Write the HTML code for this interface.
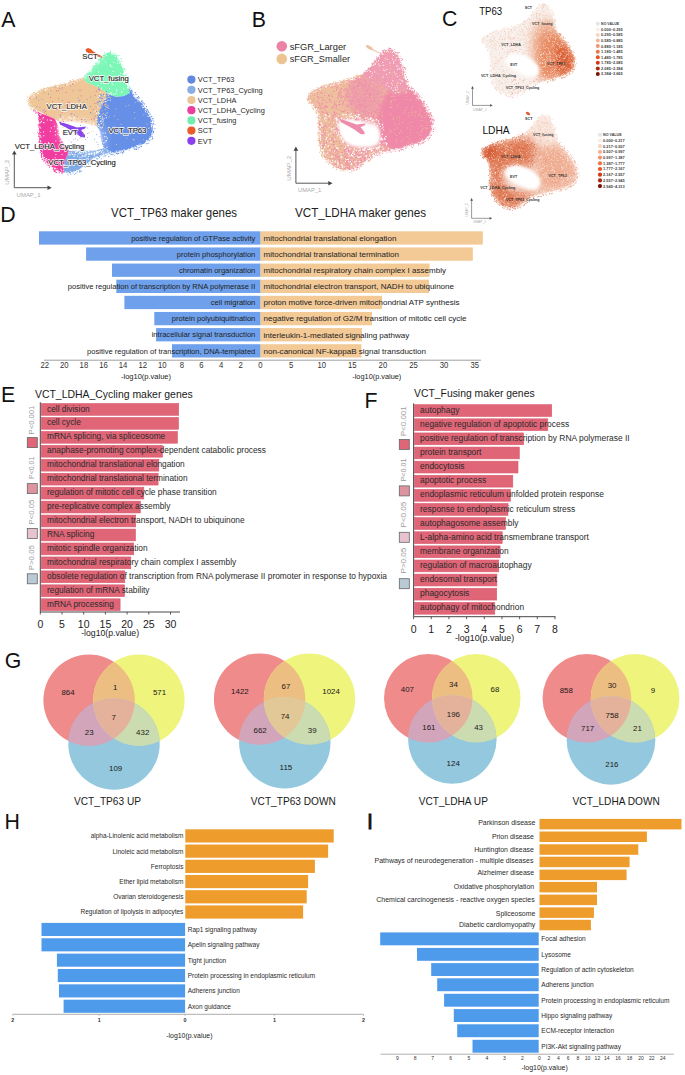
<!DOCTYPE html><html><head><meta charset="utf-8"><style>html,body{margin:0;padding:0;background:#fff;width:685px;height:1075px;overflow:hidden}svg{display:block}</style></head><body><svg width="685" height="1075" viewBox="0 0 685 1075" font-family='"Liberation Sans", sans-serif'>
<defs><filter id="b06" x="-5%" y="-5%" width="110%" height="110%"><feGaussianBlur stdDeviation="0.6"/></filter><filter id="b04" x="-10%" y="-30%" width="120%" height="160%"><feGaussianBlur stdDeviation="0.5"/></filter><filter id="b15" x="-10%" y="-10%" width="120%" height="120%"><feGaussianBlur stdDeviation="1.5"/></filter><filter id="b3" x="-20%" y="-20%" width="140%" height="140%"><feGaussianBlur stdDeviation="3"/></filter><filter id="b5" x="-30%" y="-30%" width="160%" height="160%"><feGaussianBlur stdDeviation="5"/></filter></defs>
<rect width="685" height="1075" fill="#fff"/>
<g filter="url(#b06)">
<path d="M28.2 101.5 L29.5 97.0 L34.0 93.7 L43.4 89.0 L55.0 86.1 L66.7 83.2 L74.9 80.3 L83.0 77.4 L86.0 82.0 L93.0 85.0 L100.0 88.0 L108.0 94.0 L104.0 100.0 L100.0 110.0 L97.0 120.0 L97.0 127.0 L90.0 124.5 L82.0 123.0 L72.0 122.0 L63.0 122.5 L58.0 121.0 L55.0 119.0 L48.0 116.0 L40.0 112.0 L34.0 109.3 L31.0 106.0Z" fill="#EEC698"/>
<path d="M83.0 77.4 L90.0 71.5 L95.0 65.0 L100.0 58.5 L104.0 54.0 L109.9 52.3 L116.9 55.2 L121.0 63.4 L123.9 71.5 L125.0 80.9 L128.5 88.0 L130.0 93.0 L124.0 96.0 L116.0 97.0 L108.0 94.0 L100.0 88.0 L93.0 85.0 L86.0 82.0Z" fill="#7CF7B8"/>
<path d="M128.5 88.0 L134.4 94.9 L142.6 104.2 L147.2 111.7 L151.9 121.0 L153.1 129.2 L150.7 137.4 L144.9 143.2 L136.7 146.7 L125.0 150.2 L113.4 153.1 L108.0 150.0 L103.0 147.0 L101.0 140.0 L100.0 132.0 L97.0 126.0 L97.0 120.0 L100.0 110.0 L104.0 100.0 L108.0 94.0 L116.0 97.0 L124.0 96.0 L130.0 93.0Z" fill="#668FE7"/>
<path d="M113.4 153.1 L101.7 156.1 L93.5 158.4 L85.0 165.0 L78.4 170.1 L70.2 173.0 L64.0 172.5 L63.0 166.0 L66.0 158.0 L68.0 151.0 L80.0 150.5 L95.0 150.5 L104.0 148.0 L108.0 150.0Z" fill="#80AAE6"/>
<path d="M34.0 109.3 L40.0 113.0 L48.0 116.0 L55.0 119.0 L58.0 126.0 L60.0 137.0 L65.0 145.0 L69.0 150.0 L66.0 158.0 L63.0 166.0 L64.0 172.5 L62.0 172.4 L53.9 168.9 L46.9 163.1 L41.6 154.9 L39.3 143.2 L39.3 129.2 L38.7 115.2Z" fill="#F23CA0"/>
</g>
<path d="M56.0 119.0 L64.0 116.0 L76.0 116.0 L88.0 119.0 L98.0 122.0 L104.0 128.0 L107.0 137.0 L107.0 147.0 L102.0 152.0 L92.0 153.0 L76.0 152.0 L66.0 149.0 L60.0 142.0 L57.0 131.0Z" fill="#fff" opacity="0.25" filter="url(#b3)"/>
<path d="M88.0 60.0 L100.0 52.0 L104.0 56.0 L96.0 66.0 L88.0 72.0Z" fill="#fff" opacity="0.25" filter="url(#b3)"/>
<path d="M58.0 126.0 L63.0 122.5 L72.0 122.0 L82.0 123.0 L90.0 124.5 L97.0 127.0 L100.0 133.0 L101.0 140.0 L99.0 147.0 L92.0 150.0 L82.0 150.5 L72.0 149.0 L65.0 145.0 L60.0 137.0Z" fill="#fff" filter="url(#b15)"/>
<path d="M59.0 121.5 L64.0 123.0 L70.0 125.0 L77.0 127.5 L82.0 127.0 L86.0 126.5 L85.0 128.5 L81.0 130.0 L85.0 135.0 L85.0 137.5 L81.0 137.0 L74.0 132.0 L65.0 127.0 L60.0 124.5Z" fill="#8A45EC" filter="url(#b06)"/>
<path d="M85.5 49.2 L88.0 48.0 L91.0 49.0 L93.0 51.3 L96.0 53.0 L100.0 55.2 L103.8 57.6 L103.0 58.3 L98.0 56.4 L93.5 54.3 L89.0 53.4 L86.0 51.4Z" fill="#E95D2B" filter="url(#b06)"/>
<path d="M72.5 121.6h1.0v1.0h-1.0zM59.0 134.8h1.0v1.0h-1.0zM57.9 132.0h1.0v1.0h-1.0zM59.6 119.4h1.0v1.0h-1.0zM88.0 151.1h1.0v1.0h-1.0zM99.8 126.7h1.0v1.0h-1.0zM63.4 120.4h1.0v1.0h-1.0zM83.9 118.3h1.0v1.0h-1.0zM59.0 123.6h1.0v1.0h-1.0zM100.6 127.6h1.0v1.0h-1.0zM98.8 151.0h1.0v1.0h-1.0zM89.0 152.7h1.0v1.0h-1.0zM97.9 126.5h1.0v1.0h-1.0zM64.6 120.3h1.0v1.0h-1.0zM97.8 148.0h1.0v1.0h-1.0zM104.6 141.5h1.0v1.0h-1.0zM101.9 144.9h1.0v1.0h-1.0zM100.6 145.5h1.0v1.0h-1.0zM61.3 139.5h1.0v1.0h-1.0zM59.2 118.5h1.0v1.0h-1.0zM66.6 122.0h1.0v1.0h-1.0zM73.3 117.9h1.0v1.0h-1.0zM87.3 121.5h1.0v1.0h-1.0zM74.6 120.5h1.0v1.0h-1.0zM60.4 119.8h1.0v1.0h-1.0zM82.9 121.4h1.0v1.0h-1.0zM82.9 152.2h1.0v1.0h-1.0zM64.5 144.6h1.0v1.0h-1.0zM97.4 152.4h1.0v1.0h-1.0zM99.5 145.8h1.0v1.0h-1.0zM74.1 117.1h1.0v1.0h-1.0zM57.4 126.3h1.0v1.0h-1.0zM104.8 132.5h1.0v1.0h-1.0zM60.3 140.4h1.0v1.0h-1.0zM102.4 144.9h1.0v1.0h-1.0zM65.1 145.2h1.0v1.0h-1.0zM76.5 151.0h1.0v1.0h-1.0zM93.0 122.3h1.0v1.0h-1.0zM62.5 121.6h1.0v1.0h-1.0zM102.1 145.8h1.0v1.0h-1.0zM106.0 140.3h1.0v1.0h-1.0zM62.7 116.5h1.0v1.0h-1.0zM105.5 140.0h1.0v1.0h-1.0zM82.9 150.5h1.0v1.0h-1.0zM98.1 123.8h1.0v1.0h-1.0zM77.5 150.0h1.0v1.0h-1.0zM102.5 132.4h1.0v1.0h-1.0zM80.4 150.8h1.0v1.0h-1.0zM84.5 150.9h1.0v1.0h-1.0zM59.7 140.8h1.0v1.0h-1.0zM96.0 149.2h1.0v1.0h-1.0zM89.7 121.3h1.0v1.0h-1.0zM101.0 151.8h1.0v1.0h-1.0zM106.5 146.8h1.0v1.0h-1.0zM56.9 128.3h1.0v1.0h-1.0zM96.2 152.0h1.0v1.0h-1.0zM69.8 120.8h1.0v1.0h-1.0zM97.8 125.6h1.0v1.0h-1.0zM60.6 118.1h1.0v1.0h-1.0zM69.7 120.8h1.0v1.0h-1.0zM61.6 122.0h1.0v1.0h-1.0zM58.6 123.5h1.0v1.0h-1.0zM81.5 122.6h1.0v1.0h-1.0zM73.7 116.7h1.0v1.0h-1.0zM68.8 116.6h1.0v1.0h-1.0zM91.1 152.4h1.0v1.0h-1.0zM58.8 120.8h1.0v1.0h-1.0zM69.0 122.0h1.0v1.0h-1.0zM105.6 136.2h1.0v1.0h-1.0zM101.5 139.2h1.0v1.0h-1.0zM67.7 117.2h1.0v1.0h-1.0zM93.6 125.3h1.0v1.0h-1.0zM93.2 123.6h1.0v1.0h-1.0zM93.7 152.1h1.0v1.0h-1.0zM79.8 120.4h1.0v1.0h-1.0zM97.8 151.8h1.0v1.0h-1.0zM101.2 142.0h1.0v1.0h-1.0zM67.8 149.2h1.0v1.0h-1.0zM103.2 142.4h1.0v1.0h-1.0zM102.0 126.7h1.0v1.0h-1.0zM106.9 137.8h1.0v1.0h-1.0zM70.0 117.8h1.0v1.0h-1.0zM75.0 151.4h1.0v1.0h-1.0zM101.1 146.0h1.0v1.0h-1.0zM104.0 136.3h1.0v1.0h-1.0zM70.6 117.8h1.0v1.0h-1.0zM64.5 122.0h1.0v1.0h-1.0zM78.9 121.2h1.0v1.0h-1.0zM65.8 119.4h1.0v1.0h-1.0zM73.4 119.4h1.0v1.0h-1.0z" fill="#fff"/>
<path d="M98.3 96.9h1.0v1.0h-1.0zM107.5 103.3h1.0v1.0h-1.0zM101.4 108.0h1.0v1.0h-1.0zM100.8 100.2h1.0v1.0h-1.0zM103.1 112.4h1.0v1.0h-1.0zM109.5 95.1h1.0v1.0h-1.0zM98.9 96.4h1.0v1.0h-1.0zM101.2 104.7h1.0v1.0h-1.0zM94.6 115.8h1.0v1.0h-1.0zM101.0 124.9h1.0v1.0h-1.0zM103.4 114.6h1.0v1.0h-1.0zM105.7 118.1h1.0v1.0h-1.0zM102.2 109.2h1.0v1.0h-1.0zM94.7 118.9h1.0v1.0h-1.0zM98.2 124.6h1.0v1.0h-1.0zM105.6 98.8h1.0v1.0h-1.0zM105.5 115.3h1.0v1.0h-1.0zM103.4 110.5h1.0v1.0h-1.0zM101.0 95.4h1.0v1.0h-1.0zM99.4 105.3h1.0v1.0h-1.0zM98.2 96.4h1.0v1.0h-1.0zM103.0 114.3h1.0v1.0h-1.0zM101.6 96.8h1.0v1.0h-1.0zM98.1 87.4h1.0v1.0h-1.0zM100.1 103.7h1.0v1.0h-1.0zM106.3 94.3h1.0v1.0h-1.0zM103.1 94.6h1.0v1.0h-1.0zM111.5 99.1h1.0v1.0h-1.0zM108.8 95.7h1.0v1.0h-1.0zM98.0 117.9h1.0v1.0h-1.0zM99.3 126.0h1.0v1.0h-1.0zM102.9 93.9h1.0v1.0h-1.0zM98.0 103.5h1.0v1.0h-1.0zM96.6 102.5h1.0v1.0h-1.0zM97.8 126.9h1.0v1.0h-1.0zM110.8 99.8h1.0v1.0h-1.0zM97.3 125.3h1.0v1.0h-1.0zM106.0 101.9h1.0v1.0h-1.0zM100.7 99.9h1.0v1.0h-1.0zM99.0 100.8h1.0v1.0h-1.0zM100.4 120.5h1.0v1.0h-1.0zM108.8 104.2h1.0v1.0h-1.0zM100.7 124.6h1.0v1.0h-1.0zM97.5 101.3h1.0v1.0h-1.0zM101.4 120.1h1.0v1.0h-1.0zM110.6 96.8h1.0v1.0h-1.0zM100.1 97.4h1.0v1.0h-1.0zM98.7 116.1h1.0v1.0h-1.0zM99.7 97.6h1.0v1.0h-1.0zM98.2 106.0h1.0v1.0h-1.0zM101.0 96.5h1.0v1.0h-1.0zM101.7 106.7h1.0v1.0h-1.0zM104.9 99.8h1.0v1.0h-1.0zM99.8 101.2h1.0v1.0h-1.0zM97.6 117.6h1.0v1.0h-1.0zM98.5 88.7h1.0v1.0h-1.0zM98.8 89.5h1.0v1.0h-1.0zM95.7 106.9h1.0v1.0h-1.0zM106.8 104.8h1.0v1.0h-1.0zM98.2 103.5h1.0v1.0h-1.0zM105.2 114.3h1.0v1.0h-1.0zM106.0 91.1h1.0v1.0h-1.0zM109.1 98.3h1.0v1.0h-1.0zM104.2 101.7h1.0v1.0h-1.0zM107.3 94.4h1.0v1.0h-1.0zM98.5 96.3h1.0v1.0h-1.0zM96.8 123.1h1.0v1.0h-1.0zM104.4 99.7h1.0v1.0h-1.0zM103.1 95.7h1.0v1.0h-1.0zM102.5 120.4h1.0v1.0h-1.0zM110.7 101.6h1.0v1.0h-1.0zM109.6 104.9h1.0v1.0h-1.0zM98.7 118.7h1.0v1.0h-1.0zM104.7 112.0h1.0v1.0h-1.0zM97.9 101.5h1.0v1.0h-1.0zM98.6 111.2h1.0v1.0h-1.0zM105.7 94.5h1.0v1.0h-1.0zM106.2 93.8h1.0v1.0h-1.0zM99.6 94.5h1.0v1.0h-1.0zM108.3 109.0h1.0v1.0h-1.0zM101.1 109.1h1.0v1.0h-1.0zM96.9 115.2h1.0v1.0h-1.0zM101.4 97.9h1.0v1.0h-1.0zM99.5 126.0h1.0v1.0h-1.0zM99.6 109.8h1.0v1.0h-1.0zM100.4 103.5h1.0v1.0h-1.0zM100.5 94.3h1.0v1.0h-1.0zM107.1 94.6h1.0v1.0h-1.0zM101.6 120.5h1.0v1.0h-1.0zM101.3 123.1h1.0v1.0h-1.0z" fill="#668FE7"/>
<path d="M102.3 92.8h1.0v1.0h-1.0zM95.6 112.1h1.0v1.0h-1.0zM100.7 107.2h1.0v1.0h-1.0zM96.0 106.6h1.0v1.0h-1.0zM97.6 91.3h1.0v1.0h-1.0zM108.1 95.3h1.0v1.0h-1.0zM101.3 121.5h1.0v1.0h-1.0zM108.9 93.7h1.0v1.0h-1.0zM97.9 102.8h1.0v1.0h-1.0zM103.3 102.1h1.0v1.0h-1.0zM104.8 109.1h1.0v1.0h-1.0zM105.3 98.9h1.0v1.0h-1.0zM101.6 110.5h1.0v1.0h-1.0zM101.7 113.7h1.0v1.0h-1.0zM102.0 104.4h1.0v1.0h-1.0zM102.8 95.9h1.0v1.0h-1.0zM102.2 93.5h1.0v1.0h-1.0zM102.5 90.5h1.0v1.0h-1.0zM96.3 104.1h1.0v1.0h-1.0zM103.1 101.9h1.0v1.0h-1.0zM107.6 92.7h1.0v1.0h-1.0zM110.1 97.5h1.0v1.0h-1.0zM103.0 124.6h1.0v1.0h-1.0zM97.7 97.0h1.0v1.0h-1.0zM103.1 99.4h1.0v1.0h-1.0zM96.9 125.3h1.0v1.0h-1.0zM97.0 119.0h1.0v1.0h-1.0zM96.1 108.3h1.0v1.0h-1.0zM105.5 101.1h1.0v1.0h-1.0zM105.3 102.6h1.0v1.0h-1.0zM108.4 97.1h1.0v1.0h-1.0zM100.5 118.1h1.0v1.0h-1.0zM102.0 93.4h1.0v1.0h-1.0zM108.8 96.7h1.0v1.0h-1.0zM104.5 113.9h1.0v1.0h-1.0zM105.1 104.2h1.0v1.0h-1.0zM103.2 123.6h1.0v1.0h-1.0zM98.0 110.5h1.0v1.0h-1.0zM104.6 94.6h1.0v1.0h-1.0zM105.2 105.9h1.0v1.0h-1.0zM98.4 92.3h1.0v1.0h-1.0zM95.7 112.8h1.0v1.0h-1.0zM101.2 97.1h1.0v1.0h-1.0zM104.1 100.7h1.0v1.0h-1.0zM105.6 104.6h1.0v1.0h-1.0zM98.5 123.9h1.0v1.0h-1.0zM101.3 96.0h1.0v1.0h-1.0zM95.1 118.7h1.0v1.0h-1.0zM97.6 111.5h1.0v1.0h-1.0zM103.1 112.9h1.0v1.0h-1.0zM108.6 93.3h1.0v1.0h-1.0zM99.6 98.6h1.0v1.0h-1.0zM107.4 105.5h1.0v1.0h-1.0zM107.4 105.0h1.0v1.0h-1.0zM98.1 90.4h1.0v1.0h-1.0zM98.2 87.6h1.0v1.0h-1.0zM100.0 117.5h1.0v1.0h-1.0zM106.8 97.2h1.0v1.0h-1.0zM104.0 104.3h1.0v1.0h-1.0zM108.2 108.0h1.0v1.0h-1.0z" fill="#EEC698"/>
<path d="M98.8 113.0h1.0v1.0h-1.0zM98.7 95.9h1.0v1.0h-1.0zM107.4 99.7h1.0v1.0h-1.0zM109.8 99.8h1.0v1.0h-1.0zM98.3 124.1h1.0v1.0h-1.0zM105.4 115.1h1.0v1.0h-1.0zM102.5 121.3h1.0v1.0h-1.0zM101.9 116.4h1.0v1.0h-1.0zM104.3 98.9h1.0v1.0h-1.0zM97.8 112.2h1.0v1.0h-1.0zM100.2 92.0h1.0v1.0h-1.0zM106.5 112.6h1.0v1.0h-1.0zM95.2 110.8h1.0v1.0h-1.0zM100.5 120.3h1.0v1.0h-1.0zM105.4 98.1h1.0v1.0h-1.0zM107.6 94.6h1.0v1.0h-1.0zM99.7 103.8h1.0v1.0h-1.0zM99.1 116.1h1.0v1.0h-1.0zM100.6 99.5h1.0v1.0h-1.0zM101.9 118.5h1.0v1.0h-1.0zM100.2 115.6h1.0v1.0h-1.0zM103.7 95.1h1.0v1.0h-1.0zM108.8 93.2h1.0v1.0h-1.0zM102.8 119.5h1.0v1.0h-1.0zM97.3 106.8h1.0v1.0h-1.0zM100.2 120.9h1.0v1.0h-1.0zM98.7 125.6h1.0v1.0h-1.0zM99.1 95.0h1.0v1.0h-1.0zM106.6 106.9h1.0v1.0h-1.0zM96.0 112.7h1.0v1.0h-1.0zM95.5 119.1h1.0v1.0h-1.0zM105.3 100.9h1.0v1.0h-1.0zM101.2 102.6h1.0v1.0h-1.0zM97.7 97.1h1.0v1.0h-1.0zM100.8 123.1h1.0v1.0h-1.0zM98.2 105.4h1.0v1.0h-1.0zM103.6 117.7h1.0v1.0h-1.0zM100.3 99.7h1.0v1.0h-1.0zM96.8 121.4h1.0v1.0h-1.0zM105.9 117.2h1.0v1.0h-1.0z" fill="#fff"/>
<path d="M41.7 99.2h0.8v0.8h-0.8zM89.9 106.1h0.8v0.8h-0.8zM38.3 100.3h0.8v0.8h-0.8zM98.8 89.2h0.8v0.8h-0.8zM43.5 92.4h0.8v0.8h-0.8zM84.3 119.2h0.8v0.8h-0.8zM48.0 93.6h0.8v0.8h-0.8zM69.9 85.4h0.8v0.8h-0.8zM54.4 86.8h0.8v0.8h-0.8zM36.3 96.5h0.8v0.8h-0.8zM86.7 99.0h0.8v0.8h-0.8zM43.9 109.0h0.8v0.8h-0.8zM60.0 116.6h0.8v0.8h-0.8zM83.5 102.2h0.8v0.8h-0.8zM78.7 100.4h0.8v0.8h-0.8zM39.5 107.3h0.8v0.8h-0.8zM60.5 114.2h0.8v0.8h-0.8zM100.7 98.7h0.8v0.8h-0.8zM74.0 114.6h0.8v0.8h-0.8zM61.8 88.7h0.8v0.8h-0.8zM85.8 121.1h0.8v0.8h-0.8zM90.0 112.1h0.8v0.8h-0.8zM96.2 111.1h0.8v0.8h-0.8zM79.4 99.9h0.8v0.8h-0.8zM53.2 108.6h0.8v0.8h-0.8zM36.0 98.2h0.8v0.8h-0.8zM90.6 112.8h0.8v0.8h-0.8zM78.4 89.8h0.8v0.8h-0.8zM62.0 100.0h0.8v0.8h-0.8zM77.8 97.7h0.8v0.8h-0.8zM42.8 109.9h0.8v0.8h-0.8zM90.3 96.7h0.8v0.8h-0.8zM31.2 104.4h0.8v0.8h-0.8zM36.3 105.9h0.8v0.8h-0.8zM71.4 113.0h0.8v0.8h-0.8z" fill="#668FE7"/>
<path d="M69.1 109.1h0.8v0.8h-0.8zM94.4 103.3h0.8v0.8h-0.8zM45.0 111.3h0.8v0.8h-0.8zM59.5 115.2h0.8v0.8h-0.8zM50.1 97.2h0.8v0.8h-0.8zM29.3 98.2h0.8v0.8h-0.8zM61.8 112.0h0.8v0.8h-0.8zM56.3 90.6h0.8v0.8h-0.8zM46.1 114.2h0.8v0.8h-0.8zM59.5 87.9h0.8v0.8h-0.8zM92.8 108.9h0.8v0.8h-0.8zM65.6 105.3h0.8v0.8h-0.8zM56.4 109.1h0.8v0.8h-0.8zM93.5 117.9h0.8v0.8h-0.8zM65.6 92.0h0.8v0.8h-0.8zM72.0 83.6h0.8v0.8h-0.8zM94.7 95.0h0.8v0.8h-0.8zM96.1 90.7h0.8v0.8h-0.8zM58.2 90.0h0.8v0.8h-0.8zM62.2 86.6h0.8v0.8h-0.8zM50.6 89.6h0.8v0.8h-0.8zM52.3 101.2h0.8v0.8h-0.8zM62.4 109.0h0.8v0.8h-0.8zM80.8 95.4h0.8v0.8h-0.8zM80.5 89.8h0.8v0.8h-0.8zM76.7 116.2h0.8v0.8h-0.8zM81.5 121.7h0.8v0.8h-0.8zM91.1 119.0h0.8v0.8h-0.8zM44.0 111.8h0.8v0.8h-0.8zM70.6 114.2h0.8v0.8h-0.8zM63.2 121.2h0.8v0.8h-0.8zM72.5 90.5h0.8v0.8h-0.8zM65.5 84.6h0.8v0.8h-0.8zM67.4 102.1h0.8v0.8h-0.8zM71.3 120.2h0.8v0.8h-0.8zM65.5 105.3h0.8v0.8h-0.8zM81.3 119.1h0.8v0.8h-0.8zM58.1 98.2h0.8v0.8h-0.8zM79.0 109.0h0.8v0.8h-0.8zM68.9 101.4h0.8v0.8h-0.8z" fill="#F23CA0"/>
<path d="M137.3 128.7h0.9v0.9h-0.9zM116.0 144.1h0.9v0.9h-0.9zM117.5 118.9h0.9v0.9h-0.9zM126.5 138.2h0.9v0.9h-0.9zM108.8 116.3h0.9v0.9h-0.9zM120.7 124.1h0.9v0.9h-0.9zM143.4 107.1h0.9v0.9h-0.9zM143.4 114.3h0.9v0.9h-0.9zM125.3 105.7h0.9v0.9h-0.9zM133.7 139.6h0.9v0.9h-0.9zM115.6 108.6h0.9v0.9h-0.9zM113.8 126.2h0.9v0.9h-0.9zM132.6 139.1h0.9v0.9h-0.9zM146.7 123.5h0.9v0.9h-0.9zM148.7 127.6h0.9v0.9h-0.9zM133.9 139.4h0.9v0.9h-0.9zM148.0 127.8h0.9v0.9h-0.9zM131.6 128.8h0.9v0.9h-0.9zM136.1 126.8h0.9v0.9h-0.9zM135.2 101.8h0.9v0.9h-0.9zM134.4 117.8h0.9v0.9h-0.9zM133.8 112.0h0.9v0.9h-0.9zM143.1 139.2h0.9v0.9h-0.9zM128.5 104.8h0.9v0.9h-0.9zM113.9 115.5h0.9v0.9h-0.9z" fill="#EEC698"/>
<path d="M98.0 71.6h1.0v1.0h-1.0zM113.2 94.0h1.0v1.0h-1.0zM85.6 77.7h1.0v1.0h-1.0zM121.1 78.0h1.0v1.0h-1.0zM110.8 94.2h1.0v1.0h-1.0zM102.4 56.9h1.0v1.0h-1.0zM113.3 61.8h1.0v1.0h-1.0zM116.8 63.1h1.0v1.0h-1.0zM117.5 60.7h1.0v1.0h-1.0zM116.5 90.5h1.0v1.0h-1.0zM117.3 56.1h1.0v1.0h-1.0zM112.5 84.0h1.0v1.0h-1.0zM97.6 84.9h1.0v1.0h-1.0zM105.9 55.0h1.0v1.0h-1.0zM100.3 78.0h1.0v1.0h-1.0zM103.6 82.6h1.0v1.0h-1.0zM100.1 81.1h1.0v1.0h-1.0zM112.6 71.0h1.0v1.0h-1.0zM101.1 87.4h1.0v1.0h-1.0zM127.4 87.4h1.0v1.0h-1.0zM109.6 65.4h1.0v1.0h-1.0zM116.1 89.3h1.0v1.0h-1.0zM98.6 79.4h1.0v1.0h-1.0zM111.3 66.1h1.0v1.0h-1.0zM100.7 82.9h1.0v1.0h-1.0zM111.3 92.4h1.0v1.0h-1.0zM121.0 65.0h1.0v1.0h-1.0zM102.9 78.5h1.0v1.0h-1.0zM121.4 92.0h1.0v1.0h-1.0zM121.2 91.1h1.0v1.0h-1.0zM109.9 64.5h1.0v1.0h-1.0zM123.0 88.4h1.0v1.0h-1.0zM115.2 93.1h1.0v1.0h-1.0zM109.0 87.9h1.0v1.0h-1.0zM111.5 82.6h1.0v1.0h-1.0zM104.9 61.5h1.0v1.0h-1.0zM120.2 72.8h1.0v1.0h-1.0zM119.3 62.7h1.0v1.0h-1.0zM110.2 92.4h1.0v1.0h-1.0zM105.4 78.6h1.0v1.0h-1.0z" fill="#fff"/>
<path d="M40.6 121.5h1.0v1.0h-1.0zM46.7 145.0h1.0v1.0h-1.0zM48.1 142.0h1.0v1.0h-1.0zM54.9 131.1h1.0v1.0h-1.0zM53.9 125.8h1.0v1.0h-1.0zM62.7 170.2h1.0v1.0h-1.0zM41.0 120.7h1.0v1.0h-1.0zM36.9 112.5h1.0v1.0h-1.0zM53.5 164.3h1.0v1.0h-1.0zM54.9 134.4h1.0v1.0h-1.0zM43.0 145.0h1.0v1.0h-1.0zM56.4 169.7h1.0v1.0h-1.0zM57.4 134.1h1.0v1.0h-1.0zM49.7 119.4h1.0v1.0h-1.0zM43.0 131.5h1.0v1.0h-1.0zM61.5 154.1h1.0v1.0h-1.0zM60.4 168.7h1.0v1.0h-1.0zM57.7 128.2h1.0v1.0h-1.0zM54.7 157.2h1.0v1.0h-1.0zM43.0 117.1h1.0v1.0h-1.0zM50.8 120.0h1.0v1.0h-1.0zM42.3 118.3h1.0v1.0h-1.0zM63.5 149.0h1.0v1.0h-1.0zM49.8 130.8h1.0v1.0h-1.0zM59.0 144.3h1.0v1.0h-1.0zM43.3 135.3h1.0v1.0h-1.0zM39.4 126.4h1.0v1.0h-1.0zM39.9 140.3h1.0v1.0h-1.0zM50.7 127.4h1.0v1.0h-1.0zM43.0 122.0h1.0v1.0h-1.0zM63.1 142.6h1.0v1.0h-1.0zM40.5 136.8h1.0v1.0h-1.0zM55.3 140.6h1.0v1.0h-1.0zM43.6 122.3h1.0v1.0h-1.0zM55.4 154.0h1.0v1.0h-1.0zM62.4 146.1h1.0v1.0h-1.0zM41.1 113.5h1.0v1.0h-1.0zM59.6 135.1h1.0v1.0h-1.0zM63.5 163.9h1.0v1.0h-1.0zM46.8 119.6h1.0v1.0h-1.0z" fill="#fff"/>
<path d="M84.9 154.5h1.0v1.0h-1.0zM68.2 153.7h1.0v1.0h-1.0zM88.2 153.7h1.0v1.0h-1.0zM73.5 155.9h1.0v1.0h-1.0zM82.6 155.8h1.0v1.0h-1.0zM85.3 156.3h1.0v1.0h-1.0zM111.3 153.4h1.0v1.0h-1.0zM91.3 153.8h1.0v1.0h-1.0zM79.4 157.0h1.0v1.0h-1.0zM99.7 150.1h1.0v1.0h-1.0zM68.8 154.6h1.0v1.0h-1.0zM94.2 153.8h1.0v1.0h-1.0zM90.4 153.5h1.0v1.0h-1.0zM94.9 157.5h1.0v1.0h-1.0zM74.7 154.3h1.0v1.0h-1.0zM101.9 149.8h1.0v1.0h-1.0zM85.6 152.6h1.0v1.0h-1.0zM106.1 153.8h1.0v1.0h-1.0zM86.0 158.4h1.0v1.0h-1.0zM103.3 151.7h1.0v1.0h-1.0zM78.9 151.7h1.0v1.0h-1.0zM87.8 158.8h1.0v1.0h-1.0zM70.4 153.7h1.0v1.0h-1.0zM79.3 152.6h1.0v1.0h-1.0zM96.7 152.0h1.0v1.0h-1.0zM87.7 153.6h1.0v1.0h-1.0zM97.1 150.9h1.0v1.0h-1.0zM98.8 151.0h1.0v1.0h-1.0zM92.6 158.2h1.0v1.0h-1.0zM96.2 150.8h1.0v1.0h-1.0zM91.6 152.8h1.0v1.0h-1.0zM81.9 155.1h1.0v1.0h-1.0zM73.5 154.5h1.0v1.0h-1.0zM80.2 153.1h1.0v1.0h-1.0zM81.3 152.5h1.0v1.0h-1.0zM81.1 150.7h1.0v1.0h-1.0zM72.0 154.0h1.0v1.0h-1.0zM106.1 154.7h1.0v1.0h-1.0zM93.9 155.2h1.0v1.0h-1.0zM77.1 155.8h1.0v1.0h-1.0zM88.9 154.0h1.0v1.0h-1.0zM95.8 153.2h1.0v1.0h-1.0zM82.1 150.7h1.0v1.0h-1.0zM78.1 153.6h1.0v1.0h-1.0zM85.4 154.4h1.0v1.0h-1.0zM68.5 151.9h1.0v1.0h-1.0zM107.1 150.6h1.0v1.0h-1.0zM93.3 153.4h1.0v1.0h-1.0zM81.4 156.5h1.0v1.0h-1.0zM107.6 152.8h1.0v1.0h-1.0zM70.8 152.3h1.0v1.0h-1.0zM88.0 156.1h1.0v1.0h-1.0zM75.0 151.7h1.0v1.0h-1.0zM84.0 155.4h1.0v1.0h-1.0zM96.0 157.3h1.0v1.0h-1.0zM105.3 153.7h1.0v1.0h-1.0zM102.5 153.2h1.0v1.0h-1.0zM102.8 154.4h1.0v1.0h-1.0zM90.6 158.6h1.0v1.0h-1.0zM94.0 152.6h1.0v1.0h-1.0zM95.6 152.2h1.0v1.0h-1.0zM88.5 153.0h1.0v1.0h-1.0zM100.8 151.2h1.0v1.0h-1.0zM85.7 154.1h1.0v1.0h-1.0zM85.5 151.5h1.0v1.0h-1.0zM90.7 152.9h1.0v1.0h-1.0zM76.4 151.3h1.0v1.0h-1.0zM74.6 154.3h1.0v1.0h-1.0zM109.8 151.6h1.0v1.0h-1.0zM87.4 158.0h1.0v1.0h-1.0z" fill="#fff"/>
<path d="M82.3 136.2h0.8v0.8h-0.8zM97.6 144.0h0.8v0.8h-0.8zM80.3 136.7h0.8v0.8h-0.8zM87.5 133.1h0.8v0.8h-0.8zM73.4 138.9h0.8v0.8h-0.8zM73.1 149.0h0.8v0.8h-0.8zM87.1 137.0h0.8v0.8h-0.8zM62.3 132.7h0.8v0.8h-0.8zM75.2 138.0h0.8v0.8h-0.8zM82.7 147.1h0.8v0.8h-0.8zM99.5 135.9h0.8v0.8h-0.8zM76.9 139.8h0.8v0.8h-0.8zM80.8 145.3h0.8v0.8h-0.8zM65.3 131.1h0.8v0.8h-0.8zM80.0 125.1h0.8v0.8h-0.8zM96.5 141.7h0.8v0.8h-0.8zM96.2 134.0h0.8v0.8h-0.8zM64.7 130.3h0.8v0.8h-0.8zM80.0 136.4h0.8v0.8h-0.8zM66.1 127.2h0.8v0.8h-0.8zM85.1 139.2h0.8v0.8h-0.8zM75.7 144.4h0.8v0.8h-0.8zM71.2 141.7h0.8v0.8h-0.8zM94.2 138.7h0.8v0.8h-0.8zM86.7 127.6h0.8v0.8h-0.8z" fill="#668FE7"/>
<path d="M79.4 137.8h0.8v0.8h-0.8zM69.4 140.4h0.8v0.8h-0.8zM82.7 133.7h0.8v0.8h-0.8zM63.2 126.5h0.8v0.8h-0.8zM90.7 125.0h0.8v0.8h-0.8zM62.3 126.9h0.8v0.8h-0.8zM80.5 145.5h0.8v0.8h-0.8zM84.4 145.0h0.8v0.8h-0.8zM91.1 131.2h0.8v0.8h-0.8zM88.8 132.1h0.8v0.8h-0.8zM65.3 129.6h0.8v0.8h-0.8zM83.0 131.9h0.8v0.8h-0.8zM77.3 133.0h0.8v0.8h-0.8zM83.1 149.3h0.8v0.8h-0.8zM76.9 139.7h0.8v0.8h-0.8zM68.7 123.3h0.8v0.8h-0.8zM98.0 146.4h0.8v0.8h-0.8zM71.5 147.6h0.8v0.8h-0.8zM93.1 130.7h0.8v0.8h-0.8zM83.9 149.4h0.8v0.8h-0.8z" fill="#EEC698"/>
<path d="M135.5 94.1h0.9v0.9h-0.9zM148.2 111.9h0.9v0.9h-0.9zM138.8 147.0h0.9v0.9h-0.9zM148.0 111.2h0.9v0.9h-0.9zM149.6 113.5h0.9v0.9h-0.9zM150.5 138.9h0.9v0.9h-0.9zM135.2 148.7h0.9v0.9h-0.9zM122.1 152.8h0.9v0.9h-0.9zM133.4 148.4h0.9v0.9h-0.9zM151.4 136.1h0.9v0.9h-0.9zM145.5 107.8h0.9v0.9h-0.9zM148.3 142.7h0.9v0.9h-0.9zM147.3 143.2h0.9v0.9h-0.9zM149.5 114.0h0.9v0.9h-0.9zM136.1 149.1h0.9v0.9h-0.9zM146.2 109.4h0.9v0.9h-0.9zM154.5 128.1h0.9v0.9h-0.9zM117.6 152.5h0.9v0.9h-0.9zM137.6 148.5h0.9v0.9h-0.9zM138.0 98.6h0.9v0.9h-0.9zM141.2 101.1h0.9v0.9h-0.9zM135.9 147.6h0.9v0.9h-0.9zM151.9 134.2h0.9v0.9h-0.9zM128.9 149.7h0.9v0.9h-0.9zM118.3 153.1h0.9v0.9h-0.9zM135.1 92.4h0.9v0.9h-0.9zM137.7 96.8h0.9v0.9h-0.9zM122.9 151.1h0.9v0.9h-0.9zM122.6 151.7h0.9v0.9h-0.9zM152.4 138.5h0.9v0.9h-0.9zM123.4 151.7h0.9v0.9h-0.9zM149.6 115.9h0.9v0.9h-0.9zM143.9 104.4h0.9v0.9h-0.9zM152.7 123.5h0.9v0.9h-0.9zM117.1 153.6h0.9v0.9h-0.9zM152.0 136.5h0.9v0.9h-0.9zM138.1 96.0h0.9v0.9h-0.9zM115.7 153.2h0.9v0.9h-0.9zM122.3 151.9h0.9v0.9h-0.9zM137.5 146.9h0.9v0.9h-0.9zM136.9 97.0h0.9v0.9h-0.9zM152.3 119.6h0.9v0.9h-0.9zM133.7 148.2h0.9v0.9h-0.9zM152.7 118.0h0.9v0.9h-0.9zM147.5 110.5h0.9v0.9h-0.9zM141.1 146.0h0.9v0.9h-0.9zM153.1 132.0h0.9v0.9h-0.9zM151.6 117.9h0.9v0.9h-0.9zM129.7 87.8h0.9v0.9h-0.9zM147.2 109.1h0.9v0.9h-0.9zM146.1 106.1h0.9v0.9h-0.9zM116.1 152.6h0.9v0.9h-0.9zM150.4 116.9h0.9v0.9h-0.9zM134.5 149.0h0.9v0.9h-0.9zM151.4 116.1h0.9v0.9h-0.9zM143.7 103.1h0.9v0.9h-0.9zM153.3 130.7h0.9v0.9h-0.9zM145.9 143.3h0.9v0.9h-0.9zM153.2 123.3h0.9v0.9h-0.9zM116.1 153.1h0.9v0.9h-0.9zM119.9 152.4h0.9v0.9h-0.9zM142.3 101.5h0.9v0.9h-0.9zM153.0 131.3h0.9v0.9h-0.9zM141.5 100.0h0.9v0.9h-0.9zM135.8 93.9h0.9v0.9h-0.9zM131.9 90.9h0.9v0.9h-0.9zM152.5 132.6h0.9v0.9h-0.9zM134.7 92.0h0.9v0.9h-0.9zM146.7 110.4h0.9v0.9h-0.9zM149.3 140.4h0.9v0.9h-0.9zM142.6 102.5h0.9v0.9h-0.9zM148.4 140.1h0.9v0.9h-0.9zM131.5 90.3h0.9v0.9h-0.9zM141.4 102.8h0.9v0.9h-0.9zM152.1 138.1h0.9v0.9h-0.9zM131.3 89.4h0.9v0.9h-0.9zM138.9 97.6h0.9v0.9h-0.9zM121.1 151.6h0.9v0.9h-0.9zM153.1 123.3h0.9v0.9h-0.9zM148.8 112.2h0.9v0.9h-0.9zM130.8 90.3h0.9v0.9h-0.9zM152.7 123.0h0.9v0.9h-0.9zM153.3 120.8h0.9v0.9h-0.9zM154.6 124.2h0.9v0.9h-0.9zM140.3 146.2h0.9v0.9h-0.9zM151.2 115.8h0.9v0.9h-0.9z" fill="#668FE7"/>
<path d="M40.4 149.1h0.9v0.9h-0.9zM40.3 150.3h0.9v0.9h-0.9zM34.8 110.7h0.9v0.9h-0.9zM53.8 171.1h0.9v0.9h-0.9zM41.0 155.6h0.9v0.9h-0.9zM49.3 165.5h0.9v0.9h-0.9zM37.3 131.7h0.9v0.9h-0.9zM40.3 151.7h0.9v0.9h-0.9zM38.1 134.7h0.9v0.9h-0.9zM38.2 141.4h0.9v0.9h-0.9zM55.3 170.3h0.9v0.9h-0.9zM38.1 133.1h0.9v0.9h-0.9zM39.8 151.9h0.9v0.9h-0.9zM56.1 172.0h0.9v0.9h-0.9zM41.3 154.8h0.9v0.9h-0.9zM61.8 172.5h0.9v0.9h-0.9zM40.0 149.6h0.9v0.9h-0.9zM61.4 172.8h0.9v0.9h-0.9zM38.9 138.9h0.9v0.9h-0.9zM39.2 141.6h0.9v0.9h-0.9zM38.6 146.0h0.9v0.9h-0.9zM43.3 160.9h0.9v0.9h-0.9zM41.2 156.3h0.9v0.9h-0.9zM39.2 148.1h0.9v0.9h-0.9zM44.9 162.4h0.9v0.9h-0.9zM43.0 159.7h0.9v0.9h-0.9zM58.4 172.4h0.9v0.9h-0.9zM39.1 128.6h0.9v0.9h-0.9zM40.4 149.3h0.9v0.9h-0.9zM41.8 159.0h0.9v0.9h-0.9zM37.9 117.6h0.9v0.9h-0.9zM48.1 164.9h0.9v0.9h-0.9zM48.5 165.2h0.9v0.9h-0.9zM38.8 148.8h0.9v0.9h-0.9zM41.1 153.0h0.9v0.9h-0.9zM41.2 157.0h0.9v0.9h-0.9zM38.4 124.9h0.9v0.9h-0.9zM38.3 119.4h0.9v0.9h-0.9zM54.2 170.9h0.9v0.9h-0.9zM38.4 115.0h0.9v0.9h-0.9zM39.2 132.5h0.9v0.9h-0.9zM38.7 123.5h0.9v0.9h-0.9zM46.7 164.5h0.9v0.9h-0.9zM61.4 172.5h0.9v0.9h-0.9zM59.1 171.7h0.9v0.9h-0.9zM53.2 169.5h0.9v0.9h-0.9zM33.0 110.3h0.9v0.9h-0.9zM38.9 129.6h0.9v0.9h-0.9zM38.6 146.3h0.9v0.9h-0.9zM54.9 171.6h0.9v0.9h-0.9zM52.8 168.8h0.9v0.9h-0.9zM40.9 153.9h0.9v0.9h-0.9zM38.4 134.5h0.9v0.9h-0.9zM45.1 162.5h0.9v0.9h-0.9zM33.7 110.4h0.9v0.9h-0.9zM41.1 153.5h0.9v0.9h-0.9zM36.6 112.7h0.9v0.9h-0.9zM41.2 155.9h0.9v0.9h-0.9zM54.0 170.3h0.9v0.9h-0.9zM49.0 166.9h0.9v0.9h-0.9zM42.3 158.5h0.9v0.9h-0.9zM36.1 112.2h0.9v0.9h-0.9zM38.9 141.3h0.9v0.9h-0.9zM39.5 145.9h0.9v0.9h-0.9zM35.0 112.6h0.9v0.9h-0.9zM37.9 117.7h0.9v0.9h-0.9zM38.2 136.1h0.9v0.9h-0.9zM54.6 169.7h0.9v0.9h-0.9zM40.1 150.1h0.9v0.9h-0.9zM38.6 123.4h0.9v0.9h-0.9zM41.2 155.7h0.9v0.9h-0.9zM44.0 160.0h0.9v0.9h-0.9zM54.1 169.0h0.9v0.9h-0.9zM37.9 145.3h0.9v0.9h-0.9zM38.9 147.0h0.9v0.9h-0.9zM38.0 119.3h0.9v0.9h-0.9zM37.9 126.6h0.9v0.9h-0.9zM37.8 124.3h0.9v0.9h-0.9z" fill="#F23CA0"/>
<path d="M108.5 155.9h0.9v0.9h-0.9zM112.1 153.4h0.9v0.9h-0.9zM90.2 162.9h0.9v0.9h-0.9zM84.8 167.1h0.9v0.9h-0.9zM97.5 158.0h0.9v0.9h-0.9zM78.9 170.4h0.9v0.9h-0.9zM103.7 156.4h0.9v0.9h-0.9zM83.8 166.1h0.9v0.9h-0.9zM91.0 162.5h0.9v0.9h-0.9zM72.6 172.6h0.9v0.9h-0.9zM78.9 170.2h0.9v0.9h-0.9zM96.2 158.0h0.9v0.9h-0.9zM109.6 154.3h0.9v0.9h-0.9zM74.1 173.9h0.9v0.9h-0.9zM88.3 163.9h0.9v0.9h-0.9zM99.1 157.1h0.9v0.9h-0.9zM105.5 155.2h0.9v0.9h-0.9zM85.7 164.7h0.9v0.9h-0.9zM67.4 174.2h0.9v0.9h-0.9zM113.8 155.2h0.9v0.9h-0.9zM85.4 166.3h0.9v0.9h-0.9zM67.7 174.4h0.9v0.9h-0.9zM103.2 156.4h0.9v0.9h-0.9zM70.6 174.2h0.9v0.9h-0.9zM90.2 161.5h0.9v0.9h-0.9zM76.9 171.7h0.9v0.9h-0.9zM91.5 162.6h0.9v0.9h-0.9zM79.5 171.1h0.9v0.9h-0.9zM79.8 169.7h0.9v0.9h-0.9zM100.9 158.3h0.9v0.9h-0.9zM91.5 161.5h0.9v0.9h-0.9zM108.3 156.3h0.9v0.9h-0.9zM79.0 171.5h0.9v0.9h-0.9zM111.6 154.3h0.9v0.9h-0.9zM76.9 171.1h0.9v0.9h-0.9zM88.3 163.2h0.9v0.9h-0.9zM104.9 155.5h0.9v0.9h-0.9zM90.6 163.3h0.9v0.9h-0.9zM113.0 153.8h0.9v0.9h-0.9zM80.3 170.9h0.9v0.9h-0.9zM92.7 159.5h0.9v0.9h-0.9zM69.6 173.3h0.9v0.9h-0.9zM110.9 154.1h0.9v0.9h-0.9zM81.3 170.6h0.9v0.9h-0.9zM75.8 172.7h0.9v0.9h-0.9zM75.1 173.2h0.9v0.9h-0.9zM96.7 159.3h0.9v0.9h-0.9zM79.6 171.3h0.9v0.9h-0.9zM92.7 159.4h0.9v0.9h-0.9z" fill="#80AAE6"/>
<path d="M46.4 87.6h0.9v0.9h-0.9zM47.3 87.1h0.9v0.9h-0.9zM61.3 84.3h0.9v0.9h-0.9zM73.5 80.6h0.9v0.9h-0.9zM40.4 88.5h0.9v0.9h-0.9zM33.0 109.0h0.9v0.9h-0.9zM29.8 104.9h0.9v0.9h-0.9zM59.5 84.6h0.9v0.9h-0.9zM46.0 88.3h0.9v0.9h-0.9zM31.5 94.3h0.9v0.9h-0.9zM28.6 98.9h0.9v0.9h-0.9zM27.4 96.6h0.9v0.9h-0.9zM43.4 88.7h0.9v0.9h-0.9zM42.9 87.7h0.9v0.9h-0.9zM30.4 105.7h0.9v0.9h-0.9zM29.8 107.6h0.9v0.9h-0.9zM43.3 88.1h0.9v0.9h-0.9zM70.0 80.4h0.9v0.9h-0.9zM62.5 84.2h0.9v0.9h-0.9zM37.4 91.4h0.9v0.9h-0.9zM31.2 108.4h0.9v0.9h-0.9zM44.1 87.7h0.9v0.9h-0.9zM60.3 82.9h0.9v0.9h-0.9zM33.2 93.8h0.9v0.9h-0.9zM54.8 85.3h0.9v0.9h-0.9zM27.3 100.8h0.9v0.9h-0.9zM53.4 85.6h0.9v0.9h-0.9zM29.3 105.2h0.9v0.9h-0.9zM28.4 103.4h0.9v0.9h-0.9zM30.9 109.1h0.9v0.9h-0.9zM70.3 80.5h0.9v0.9h-0.9zM69.3 80.3h0.9v0.9h-0.9zM69.9 81.4h0.9v0.9h-0.9zM68.6 81.7h0.9v0.9h-0.9zM28.5 105.5h0.9v0.9h-0.9zM50.8 85.8h0.9v0.9h-0.9zM30.2 95.6h0.9v0.9h-0.9zM55.3 85.6h0.9v0.9h-0.9zM59.8 84.9h0.9v0.9h-0.9zM48.5 87.2h0.9v0.9h-0.9zM72.5 79.0h0.9v0.9h-0.9zM78.7 78.3h0.9v0.9h-0.9zM29.8 96.6h0.9v0.9h-0.9zM43.6 88.7h0.9v0.9h-0.9zM39.0 90.2h0.9v0.9h-0.9zM34.1 92.1h0.9v0.9h-0.9zM41.3 89.3h0.9v0.9h-0.9zM27.2 97.2h0.9v0.9h-0.9zM30.6 106.5h0.9v0.9h-0.9zM55.2 84.5h0.9v0.9h-0.9zM58.6 84.8h0.9v0.9h-0.9zM56.0 85.4h0.9v0.9h-0.9zM27.7 99.2h0.9v0.9h-0.9zM32.6 92.9h0.9v0.9h-0.9zM72.8 79.5h0.9v0.9h-0.9zM35.3 90.7h0.9v0.9h-0.9zM38.9 90.2h0.9v0.9h-0.9zM30.9 94.2h0.9v0.9h-0.9zM28.1 102.4h0.9v0.9h-0.9zM78.2 79.0h0.9v0.9h-0.9zM63.7 82.0h0.9v0.9h-0.9zM40.2 90.3h0.9v0.9h-0.9zM44.5 88.4h0.9v0.9h-0.9zM49.5 86.7h0.9v0.9h-0.9zM32.9 92.1h0.9v0.9h-0.9zM28.2 103.6h0.9v0.9h-0.9zM28.5 104.4h0.9v0.9h-0.9zM38.6 90.8h0.9v0.9h-0.9zM28.9 95.4h0.9v0.9h-0.9zM79.3 78.7h0.9v0.9h-0.9zM46.1 87.5h0.9v0.9h-0.9zM28.6 99.7h0.9v0.9h-0.9zM69.8 80.2h0.9v0.9h-0.9zM51.0 87.1h0.9v0.9h-0.9z" fill="#EEC698"/>
<path d="M126.6 80.4h0.9v0.9h-0.9zM120.8 58.3h0.9v0.9h-0.9zM124.1 68.9h0.9v0.9h-0.9zM128.9 86.6h0.9v0.9h-0.9zM124.6 68.6h0.9v0.9h-0.9zM94.8 63.2h0.9v0.9h-0.9zM128.9 85.8h0.9v0.9h-0.9zM124.9 78.1h0.9v0.9h-0.9zM113.8 51.7h0.9v0.9h-0.9zM112.5 53.0h0.9v0.9h-0.9zM85.7 74.8h0.9v0.9h-0.9zM125.1 80.8h0.9v0.9h-0.9zM123.9 68.8h0.9v0.9h-0.9zM122.9 68.2h0.9v0.9h-0.9zM85.0 74.7h0.9v0.9h-0.9zM120.5 58.6h0.9v0.9h-0.9zM120.5 61.2h0.9v0.9h-0.9zM125.7 77.4h0.9v0.9h-0.9zM123.1 68.6h0.9v0.9h-0.9zM117.9 55.3h0.9v0.9h-0.9zM104.3 52.1h0.9v0.9h-0.9zM95.6 62.7h0.9v0.9h-0.9zM95.7 62.4h0.9v0.9h-0.9zM124.5 70.3h0.9v0.9h-0.9zM124.8 75.0h0.9v0.9h-0.9zM110.1 50.8h0.9v0.9h-0.9zM85.1 75.3h0.9v0.9h-0.9zM87.0 73.5h0.9v0.9h-0.9zM127.7 81.4h0.9v0.9h-0.9zM118.7 55.2h0.9v0.9h-0.9zM126.2 82.0h0.9v0.9h-0.9zM126.3 73.2h0.9v0.9h-0.9zM84.6 75.7h0.9v0.9h-0.9zM125.9 78.1h0.9v0.9h-0.9zM93.3 66.1h0.9v0.9h-0.9zM125.0 74.6h0.9v0.9h-0.9zM109.9 52.2h0.9v0.9h-0.9zM99.7 58.4h0.9v0.9h-0.9zM92.5 68.1h0.9v0.9h-0.9zM99.7 58.3h0.9v0.9h-0.9zM84.4 74.9h0.9v0.9h-0.9zM115.6 53.6h0.9v0.9h-0.9zM101.9 56.0h0.9v0.9h-0.9zM91.9 65.7h0.9v0.9h-0.9zM128.1 83.6h0.9v0.9h-0.9zM93.2 65.9h0.9v0.9h-0.9zM88.5 70.6h0.9v0.9h-0.9zM98.0 61.0h0.9v0.9h-0.9zM98.5 59.2h0.9v0.9h-0.9zM86.2 72.8h0.9v0.9h-0.9zM123.8 68.5h0.9v0.9h-0.9zM126.1 75.3h0.9v0.9h-0.9zM110.1 50.6h0.9v0.9h-0.9zM97.5 59.2h0.9v0.9h-0.9zM128.0 86.5h0.9v0.9h-0.9zM99.9 56.2h0.9v0.9h-0.9zM121.4 60.7h0.9v0.9h-0.9zM112.8 53.4h0.9v0.9h-0.9zM124.6 76.3h0.9v0.9h-0.9zM101.6 56.6h0.9v0.9h-0.9zM117.8 55.2h0.9v0.9h-0.9zM122.4 64.7h0.9v0.9h-0.9zM92.8 65.5h0.9v0.9h-0.9z" fill="#7CF7B8"/>
<path d="M36.1 111.2h0.9v0.9h-0.9zM142.4 106.8h0.9v0.9h-0.9zM151.5 128.6h0.9v0.9h-0.9zM42.0 154.8h0.9v0.9h-0.9zM79.4 79.9h0.9v0.9h-0.9zM104.7 153.5h0.9v0.9h-0.9zM101.9 58.8h0.9v0.9h-0.9zM90.5 71.1h0.9v0.9h-0.9zM62.9 85.4h0.9v0.9h-0.9zM86.6 75.2h0.9v0.9h-0.9zM111.9 53.7h0.9v0.9h-0.9zM137.9 100.7h0.9v0.9h-0.9zM70.2 83.3h0.9v0.9h-0.9zM37.6 113.2h0.9v0.9h-0.9zM65.9 84.3h0.9v0.9h-0.9zM41.5 148.0h0.9v0.9h-0.9zM100.7 154.8h0.9v0.9h-0.9zM128.1 148.4h0.9v0.9h-0.9zM79.1 79.3h0.9v0.9h-0.9zM98.4 60.8h0.9v0.9h-0.9zM127.3 87.2h0.9v0.9h-0.9zM136.2 97.6h0.9v0.9h-0.9zM39.5 123.2h0.9v0.9h-0.9zM131.0 148.3h0.9v0.9h-0.9zM103.4 153.8h0.9v0.9h-0.9zM39.4 134.8h0.9v0.9h-0.9zM148.5 116.2h0.9v0.9h-0.9zM136.7 98.8h0.9v0.9h-0.9zM55.1 168.2h0.9v0.9h-0.9zM150.8 123.7h0.9v0.9h-0.9zM28.8 101.4h0.9v0.9h-0.9zM42.0 150.3h0.9v0.9h-0.9zM61.0 170.3h0.9v0.9h-0.9zM98.3 62.6h0.9v0.9h-0.9zM139.0 100.2h0.9v0.9h-0.9zM115.7 150.9h0.9v0.9h-0.9zM145.7 142.2h0.9v0.9h-0.9zM135.5 97.9h0.9v0.9h-0.9zM34.7 109.2h0.9v0.9h-0.9zM39.6 122.0h0.9v0.9h-0.9zM111.7 53.1h0.9v0.9h-0.9zM123.5 81.7h0.9v0.9h-0.9zM84.7 165.1h0.9v0.9h-0.9zM39.5 114.0h0.9v0.9h-0.9zM102.6 57.7h0.9v0.9h-0.9zM127.0 87.2h0.9v0.9h-0.9zM108.1 152.8h0.9v0.9h-0.9zM36.8 93.4h0.9v0.9h-0.9zM100.7 155.5h0.9v0.9h-0.9zM114.8 56.1h0.9v0.9h-0.9zM151.0 124.6h0.9v0.9h-0.9zM149.6 136.5h0.9v0.9h-0.9zM132.5 147.3h0.9v0.9h-0.9zM137.3 100.5h0.9v0.9h-0.9zM121.9 150.2h0.9v0.9h-0.9zM45.2 88.9h0.9v0.9h-0.9zM143.3 107.2h0.9v0.9h-0.9zM99.8 154.9h0.9v0.9h-0.9zM45.4 89.4h0.9v0.9h-0.9zM42.2 155.7h0.9v0.9h-0.9zM44.8 159.5h0.9v0.9h-0.9zM35.3 110.4h0.9v0.9h-0.9zM71.9 82.1h0.9v0.9h-0.9zM134.8 95.5h0.9v0.9h-0.9zM70.6 82.9h0.9v0.9h-0.9zM36.7 110.9h0.9v0.9h-0.9zM135.1 97.8h0.9v0.9h-0.9zM145.7 140.5h0.9v0.9h-0.9zM144.9 142.5h0.9v0.9h-0.9zM83.6 77.4h0.9v0.9h-0.9zM43.6 157.3h0.9v0.9h-0.9zM134.1 96.4h0.9v0.9h-0.9zM92.6 158.5h0.9v0.9h-0.9zM40.1 114.6h0.9v0.9h-0.9zM97.3 63.5h0.9v0.9h-0.9zM43.3 156.7h0.9v0.9h-0.9zM56.7 86.0h0.9v0.9h-0.9zM95.2 157.6h0.9v0.9h-0.9zM122.5 73.6h0.9v0.9h-0.9zM145.1 111.3h0.9v0.9h-0.9zM33.0 107.2h0.9v0.9h-0.9zM146.6 112.4h0.9v0.9h-0.9zM36.5 111.8h0.9v0.9h-0.9zM50.3 164.6h0.9v0.9h-0.9zM31.2 103.8h0.9v0.9h-0.9zM123.1 73.0h0.9v0.9h-0.9zM119.5 61.6h0.9v0.9h-0.9zM142.9 106.9h0.9v0.9h-0.9zM132.9 95.2h0.9v0.9h-0.9zM134.6 145.9h0.9v0.9h-0.9zM146.4 140.0h0.9v0.9h-0.9zM137.1 145.1h0.9v0.9h-0.9zM149.8 136.4h0.9v0.9h-0.9zM135.4 96.3h0.9v0.9h-0.9zM123.3 69.9h0.9v0.9h-0.9zM70.2 171.1h0.9v0.9h-0.9zM112.4 152.4h0.9v0.9h-0.9zM151.0 126.1h0.9v0.9h-0.9zM125.7 83.1h0.9v0.9h-0.9zM45.8 158.1h0.9v0.9h-0.9zM132.4 93.4h0.9v0.9h-0.9zM47.8 162.7h0.9v0.9h-0.9zM93.3 157.3h0.9v0.9h-0.9zM132.4 92.9h0.9v0.9h-0.9zM142.4 106.9h0.9v0.9h-0.9zM118.5 59.2h0.9v0.9h-0.9zM84.6 76.6h0.9v0.9h-0.9zM107.0 153.4h0.9v0.9h-0.9zM137.9 99.0h0.9v0.9h-0.9zM52.4 167.0h0.9v0.9h-0.9zM40.4 141.5h0.9v0.9h-0.9zM76.3 169.8h0.9v0.9h-0.9zM111.8 152.6h0.9v0.9h-0.9zM45.1 159.3h0.9v0.9h-0.9zM84.7 163.1h0.9v0.9h-0.9zM45.9 160.3h0.9v0.9h-0.9zM57.8 86.0h0.9v0.9h-0.9zM96.4 156.5h0.9v0.9h-0.9zM91.1 71.7h0.9v0.9h-0.9zM39.6 119.2h0.9v0.9h-0.9zM49.4 89.2h0.9v0.9h-0.9zM111.0 53.5h0.9v0.9h-0.9zM37.4 92.5h0.9v0.9h-0.9zM39.8 144.7h0.9v0.9h-0.9zM54.1 168.5h0.9v0.9h-0.9zM131.5 146.8h0.9v0.9h-0.9zM144.9 111.2h0.9v0.9h-0.9zM76.9 81.0h0.9v0.9h-0.9zM40.3 127.5h0.9v0.9h-0.9zM116.4 150.6h0.9v0.9h-0.9zM123.6 149.1h0.9v0.9h-0.9zM65.2 172.6h0.9v0.9h-0.9zM98.8 61.8h0.9v0.9h-0.9zM67.2 83.3h0.9v0.9h-0.9zM130.5 148.4h0.9v0.9h-0.9zM141.4 105.0h0.9v0.9h-0.9zM117.1 58.5h0.9v0.9h-0.9zM113.4 54.1h0.9v0.9h-0.9zM124.7 82.3h0.9v0.9h-0.9zM84.9 77.7h0.9v0.9h-0.9zM135.3 95.9h0.9v0.9h-0.9zM33.5 94.5h0.9v0.9h-0.9zM91.6 69.7h0.9v0.9h-0.9zM123.2 72.7h0.9v0.9h-0.9zM51.1 164.3h0.9v0.9h-0.9zM133.0 95.3h0.9v0.9h-0.9zM83.4 165.5h0.9v0.9h-0.9zM48.3 164.2h0.9v0.9h-0.9zM127.5 86.8h0.9v0.9h-0.9zM42.2 154.8h0.9v0.9h-0.9zM105.1 53.7h0.9v0.9h-0.9zM40.3 135.6h0.9v0.9h-0.9zM41.8 152.7h0.9v0.9h-0.9zM124.0 73.9h0.9v0.9h-0.9zM116.3 152.2h0.9v0.9h-0.9zM32.9 95.5h0.9v0.9h-0.9zM35.9 110.0h0.9v0.9h-0.9zM40.3 131.9h0.9v0.9h-0.9zM102.1 154.9h0.9v0.9h-0.9zM66.3 85.1h0.9v0.9h-0.9zM103.6 55.9h0.9v0.9h-0.9zM122.0 66.6h0.9v0.9h-0.9zM151.4 125.2h0.9v0.9h-0.9zM138.5 144.6h0.9v0.9h-0.9zM118.1 59.4h0.9v0.9h-0.9zM54.4 167.5h0.9v0.9h-0.9zM47.1 88.6h0.9v0.9h-0.9zM34.0 95.7h0.9v0.9h-0.9zM151.5 127.2h0.9v0.9h-0.9zM76.8 170.7h0.9v0.9h-0.9zM118.5 151.3h0.9v0.9h-0.9zM114.8 54.6h0.9v0.9h-0.9zM67.6 172.1h0.9v0.9h-0.9zM134.0 95.5h0.9v0.9h-0.9zM134.7 96.7h0.9v0.9h-0.9zM51.7 88.6h0.9v0.9h-0.9zM137.6 144.9h0.9v0.9h-0.9zM120.5 150.3h0.9v0.9h-0.9zM85.6 75.5h0.9v0.9h-0.9zM51.1 166.5h0.9v0.9h-0.9zM33.4 107.3h0.9v0.9h-0.9zM123.5 74.3h0.9v0.9h-0.9zM51.5 164.8h0.9v0.9h-0.9zM68.3 84.3h0.9v0.9h-0.9zM51.1 164.3h0.9v0.9h-0.9zM102.9 154.8h0.9v0.9h-0.9zM38.0 93.1h0.9v0.9h-0.9zM139.6 101.4h0.9v0.9h-0.9zM104.9 53.9h0.9v0.9h-0.9zM61.7 86.2h0.9v0.9h-0.9zM149.6 138.5h0.9v0.9h-0.9zM151.7 133.6h0.9v0.9h-0.9zM97.6 62.1h0.9v0.9h-0.9zM110.1 152.6h0.9v0.9h-0.9zM123.7 72.8h0.9v0.9h-0.9zM145.1 109.1h0.9v0.9h-0.9zM41.2 151.9h0.9v0.9h-0.9zM124.3 79.7h0.9v0.9h-0.9zM56.7 168.2h0.9v0.9h-0.9zM123.4 79.6h0.9v0.9h-0.9zM40.4 91.2h0.9v0.9h-0.9zM146.4 140.5h0.9v0.9h-0.9zM73.6 171.2h0.9v0.9h-0.9zM116.9 56.8h0.9v0.9h-0.9zM44.0 157.1h0.9v0.9h-0.9zM57.9 170.4h0.9v0.9h-0.9zM119.2 150.4h0.9v0.9h-0.9zM105.8 153.6h0.9v0.9h-0.9zM113.0 152.5h0.9v0.9h-0.9zM49.0 164.1h0.9v0.9h-0.9zM146.2 139.9h0.9v0.9h-0.9zM44.8 90.0h0.9v0.9h-0.9zM71.0 172.0h0.9v0.9h-0.9zM139.8 143.6h0.9v0.9h-0.9zM70.4 83.4h0.9v0.9h-0.9zM65.4 171.3h0.9v0.9h-0.9zM97.2 156.5h0.9v0.9h-0.9zM109.5 152.3h0.9v0.9h-0.9zM150.9 124.7h0.9v0.9h-0.9zM95.6 156.8h0.9v0.9h-0.9zM142.0 106.4h0.9v0.9h-0.9zM136.2 145.2h0.9v0.9h-0.9zM151.5 132.8h0.9v0.9h-0.9zM97.0 156.9h0.9v0.9h-0.9zM98.8 60.6h0.9v0.9h-0.9zM42.4 153.9h0.9v0.9h-0.9zM109.2 154.0h0.9v0.9h-0.9zM73.3 171.5h0.9v0.9h-0.9zM150.2 121.5h0.9v0.9h-0.9zM81.4 78.5h0.9v0.9h-0.9zM151.1 122.2h0.9v0.9h-0.9zM76.1 80.0h0.9v0.9h-0.9zM147.4 115.8h0.9v0.9h-0.9zM36.2 110.2h0.9v0.9h-0.9zM123.5 77.0h0.9v0.9h-0.9zM149.0 138.2h0.9v0.9h-0.9zM29.2 99.3h0.9v0.9h-0.9zM102.3 56.1h0.9v0.9h-0.9zM146.2 141.7h0.9v0.9h-0.9zM74.7 80.7h0.9v0.9h-0.9zM74.1 82.4h0.9v0.9h-0.9zM152.8 129.3h0.9v0.9h-0.9zM151.9 122.1h0.9v0.9h-0.9zM144.6 109.7h0.9v0.9h-0.9zM46.1 158.6h0.9v0.9h-0.9zM121.0 63.4h0.9v0.9h-0.9zM40.2 141.1h0.9v0.9h-0.9zM133.6 95.9h0.9v0.9h-0.9zM31.6 97.1h0.9v0.9h-0.9zM137.6 146.0h0.9v0.9h-0.9z" fill="#fff"/>
<text x="90.0" y="59.1" font-size="7.7" font-weight="normal" text-anchor="middle" fill="#fff" stroke="#fff" stroke-width="1.8" stroke-linejoin="round" opacity="0.85" filter="url(#b04)">SCT</text>
<text x="90.0" y="59.1" font-size="7.7" font-weight="normal" text-anchor="middle" fill="#262626" stroke="#262626" stroke-width="0.15">SCT</text>
<text x="108.8" y="80.9" font-size="7.7" font-weight="normal" text-anchor="middle" fill="#fff" stroke="#fff" stroke-width="1.8" stroke-linejoin="round" opacity="0.85" filter="url(#b04)">VCT_fusing</text>
<text x="108.8" y="80.9" font-size="7.7" font-weight="normal" text-anchor="middle" fill="#262626" stroke="#262626" stroke-width="0.15">VCT_fusing</text>
<text x="66.7" y="108.5" font-size="7.7" font-weight="normal" text-anchor="middle" fill="#fff" stroke="#fff" stroke-width="1.8" stroke-linejoin="round" opacity="0.85" filter="url(#b04)">VCT_LDHA</text>
<text x="66.7" y="108.5" font-size="7.7" font-weight="normal" text-anchor="middle" fill="#262626" stroke="#262626" stroke-width="0.15">VCT_LDHA</text>
<text x="70.2" y="135.3" font-size="7.7" font-weight="normal" text-anchor="middle" fill="#fff" stroke="#fff" stroke-width="1.8" stroke-linejoin="round" opacity="0.85" filter="url(#b04)">EVT</text>
<text x="70.2" y="135.3" font-size="7.7" font-weight="normal" text-anchor="middle" fill="#262626" stroke="#262626" stroke-width="0.15">EVT</text>
<text x="127.4" y="133.4" font-size="7.7" font-weight="normal" text-anchor="middle" fill="#fff" stroke="#fff" stroke-width="1.8" stroke-linejoin="round" opacity="0.85" filter="url(#b04)">VCT_TP63</text>
<text x="127.4" y="133.4" font-size="7.7" font-weight="normal" text-anchor="middle" fill="#262626" stroke="#262626" stroke-width="0.15">VCT_TP63</text>
<text x="49.5" y="149.2" font-size="7.7" font-weight="normal" text-anchor="middle" fill="#fff" stroke="#fff" stroke-width="1.8" stroke-linejoin="round" opacity="0.85" filter="url(#b04)">VCT_LDHA_Cycling</text>
<text x="49.5" y="149.2" font-size="7.7" font-weight="normal" text-anchor="middle" fill="#262626" stroke="#262626" stroke-width="0.15">VCT_LDHA_Cycling</text>
<text x="82.1" y="165.0" font-size="7.7" font-weight="normal" text-anchor="middle" fill="#fff" stroke="#fff" stroke-width="1.8" stroke-linejoin="round" opacity="0.85" filter="url(#b04)">VCT_TP63_Cycling</text>
<text x="82.1" y="165.0" font-size="7.7" font-weight="normal" text-anchor="middle" fill="#262626" stroke="#262626" stroke-width="0.15">VCT_TP63_Cycling</text>
<path d="M14.3 153.76000000000002V187.7H48.34" fill="none" stroke="#444" stroke-width="0.9"/>
<path d="M12.0 154.6L14.3 150.4L16.6 154.6Z" fill="#444"/>
<path d="M47.5 185.39999999999998L51.7 187.7L47.5 190.0Z" fill="#444"/>
<text x="0" y="0" font-size="6.1" fill="#aaa" transform="translate(9.3 184.8) rotate(-90)" textLength="24.9" lengthAdjust="spacingAndGlyphs">UMAP_2</text>
<text x="16.60" y="196.70" font-size="6.1" fill="#aaa" text-anchor="start" font-weight="normal" textLength="23.9" lengthAdjust="spacingAndGlyphs" >UMAP_1</text>
<circle cx="191.4" cy="79.6" r="4.1" fill="#6388E0"/>
<text x="197.80" y="82.30" font-size="7.4" fill="#2a2a2a" text-anchor="start" font-weight="normal" >VCT_TP63</text>
<circle cx="191.4" cy="89.8" r="4.1" fill="#8AADE2"/>
<text x="197.80" y="92.50" font-size="7.4" fill="#2a2a2a" text-anchor="start" font-weight="normal" >VCT_TP63_Cycling</text>
<circle cx="191.4" cy="100.0" r="4.1" fill="#EBC595"/>
<text x="197.80" y="102.70" font-size="7.4" fill="#2a2a2a" text-anchor="start" font-weight="normal" >VCT_LDHA</text>
<circle cx="191.4" cy="110.2" r="4.1" fill="#EA3F9E"/>
<text x="197.80" y="112.90" font-size="7.4" fill="#2a2a2a" text-anchor="start" font-weight="normal" >VCT_LDHA_Cycling</text>
<circle cx="191.4" cy="120.4" r="4.1" fill="#72EFB0"/>
<text x="197.80" y="123.10" font-size="7.4" fill="#2a2a2a" text-anchor="start" font-weight="normal" >VCT_fusing</text>
<circle cx="191.4" cy="130.6" r="4.1" fill="#EC5A2A"/>
<text x="197.80" y="133.30" font-size="7.4" fill="#2a2a2a" text-anchor="start" font-weight="normal" >SCT</text>
<circle cx="191.4" cy="140.8" r="4.1" fill="#8A40F0"/>
<text x="197.80" y="143.50" font-size="7.4" fill="#2a2a2a" text-anchor="start" font-weight="normal" >EVT</text>
<path d="M307.7 98.5 L309.0 94.0 L313.5 90.7 L322.9 86.0 L334.5 83.1 L346.2 80.2 L354.4 77.3 L362.5 74.4 L369.5 68.5 L374.5 62.0 L379.5 55.5 L383.5 51.0 L389.4 49.3 L396.4 52.2 L400.5 60.4 L403.4 68.5 L404.5 77.9 L408.0 85.0 L413.9 91.9 L422.1 101.2 L426.7 108.7 L431.4 118.0 L432.6 126.2 L430.2 134.4 L424.4 140.2 L416.2 143.7 L404.5 147.2 L392.9 150.1 L381.2 153.1 L373.0 155.4 L364.5 162.0 L357.9 167.1 L349.7 170.0 L341.5 169.4 L333.4 165.9 L326.4 160.1 L321.1 151.9 L318.8 140.2 L318.8 126.2 L318.2 112.2 L313.5 106.3 L310.5 103.0 L308.0 100.0Z" fill="#EDA0AA" filter="url(#b06)"/>
<clipPath id="clipB0"><path d="M307.7 98.5 L309.0 94.0 L313.5 90.7 L322.9 86.0 L334.5 83.1 L346.2 80.2 L354.4 77.3 L362.5 74.4 L369.5 68.5 L374.5 62.0 L379.5 55.5 L383.5 51.0 L389.4 49.3 L396.4 52.2 L400.5 60.4 L403.4 68.5 L404.5 77.9 L408.0 85.0 L413.9 91.9 L422.1 101.2 L426.7 108.7 L431.4 118.0 L432.6 126.2 L430.2 134.4 L424.4 140.2 L416.2 143.7 L404.5 147.2 L392.9 150.1 L381.2 153.1 L373.0 155.4 L364.5 162.0 L357.9 167.1 L349.7 170.0 L341.5 169.4 L333.4 165.9 L326.4 160.1 L321.1 151.9 L318.8 140.2 L318.8 126.2 L318.2 112.2 L313.5 106.3 L310.5 103.0 L308.0 100.0Z"/></clipPath>
<g clip-path="url(#clipB0)"><g filter="url(#b15)">
<path d="M307.7 98.5 L309.0 94.0 L313.5 90.7 L322.9 86.0 L334.5 83.1 L346.2 80.2 L354.4 77.3 L362.5 74.4 L365.5 79.0 L372.5 82.0 L379.5 85.0 L387.5 91.0 L383.5 97.0 L379.5 107.0 L376.5 117.0 L376.5 124.0 L369.5 121.5 L361.5 120.0 L351.5 119.0 L342.5 119.5 L337.5 118.0 L334.5 116.0 L327.5 113.0 L319.5 109.0 L313.5 106.3 L310.5 103.0Z" fill="#EEC09E"/>
<path d="M362.5 74.4 L369.5 68.5 L374.5 62.0 L379.5 55.5 L383.5 51.0 L389.4 49.3 L396.4 52.2 L400.5 60.4 L403.4 68.5 L404.5 77.9 L408.0 85.0 L409.5 90.0 L403.5 93.0 L395.5 94.0 L387.5 91.0 L379.5 85.0 L372.5 82.0 L365.5 79.0Z" fill="#EF9CB4"/>
<path d="M408.0 85.0 L413.9 91.9 L422.1 101.2 L426.7 108.7 L431.4 118.0 L432.6 126.2 L430.2 134.4 L424.4 140.2 L416.2 143.7 L404.5 147.2 L392.9 150.1 L387.5 147.0 L382.5 144.0 L380.5 137.0 L379.5 129.0 L376.5 123.0 L376.5 117.0 L379.5 107.0 L383.5 97.0 L387.5 91.0 L395.5 94.0 L403.5 93.0 L409.5 90.0Z" fill="#F089A9"/>
<path d="M392.9 150.1 L381.2 153.1 L373.0 155.4 L364.5 162.0 L357.9 167.1 L349.7 170.0 L343.5 169.5 L342.5 163.0 L345.5 155.0 L347.5 148.0 L359.5 147.5 L374.5 147.5 L383.5 145.0 L387.5 147.0Z" fill="#EEB8A2"/>
<path d="M313.5 106.3 L319.5 110.0 L327.5 113.0 L334.5 116.0 L337.5 123.0 L339.5 134.0 L344.5 142.0 L348.5 147.0 L345.5 155.0 L342.5 163.0 L343.5 169.5 L341.5 169.4 L333.4 165.9 L326.4 160.1 L321.1 151.9 L318.8 140.2 L318.8 126.2 L318.2 112.2Z" fill="#EEC09E"/>
</g></g>
<path d="M337.5 123.0 L342.5 119.5 L351.5 119.0 L361.5 120.0 L369.5 121.5 L376.5 124.0 L379.5 130.0 L380.5 137.0 L378.5 144.0 L371.5 147.0 L361.5 147.5 L351.5 146.0 L344.5 142.0 L339.5 134.0Z" fill="#fff" filter="url(#b15)"/>
<path d="M338.5 118.5 L343.5 120.0 L349.5 122.0 L356.5 124.5 L361.5 124.0 L365.5 123.5 L364.5 125.5 L360.5 127.0 L364.5 132.0 L364.5 134.5 L360.5 134.0 L353.5 129.0 L344.5 124.0 L339.5 121.5Z" fill="#EE8DAB" filter="url(#b06)"/>
<clipPath id="clipB"><path d="M307.7 98.5 L309.0 94.0 L313.5 90.7 L322.9 86.0 L334.5 83.1 L346.2 80.2 L354.4 77.3 L362.5 74.4 L369.5 68.5 L374.5 62.0 L379.5 55.5 L383.5 51.0 L389.4 49.3 L396.4 52.2 L400.5 60.4 L403.4 68.5 L404.5 77.9 L408.0 85.0 L413.9 91.9 L422.1 101.2 L426.7 108.7 L431.4 118.0 L432.6 126.2 L430.2 134.4 L424.4 140.2 L416.2 143.7 L404.5 147.2 L392.9 150.1 L381.2 153.1 L373.0 155.4 L364.5 162.0 L357.9 167.1 L349.7 170.0 L341.5 169.4 L333.4 165.9 L326.4 160.1 L321.1 151.9 L318.8 140.2 L318.8 126.2 L318.2 112.2 L313.5 106.3 L310.5 103.0 L308.0 100.0Z"/></clipPath>
<path d="M351.5 77.0 L365.5 77.0 L379.5 85.0 L385.5 89.0 L383.5 97.0 L379.5 107.0 L376.5 117.0 L376.5 124.0 L364.5 120.0 L351.5 111.0 L345.5 95.0Z" fill="#EE95AD" opacity="0.75" filter="url(#b3)" clip-path="url(#clipB)"/>
<path d="M365.5 45.6 L368.0 45.0 L371.5 47.0 L373.5 49.5 L370.5 50.0 L367.0 48.0Z" fill="#EDC29E" filter="url(#b06)"/>
<path d="M371.5 48.5 L376.5 50.8 L381.5 53.3 L381.0 54.2 L376.0 52.0 L371.0 50.0Z" fill="#F0C0B4" opacity="0.8" filter="url(#b06)"/>
<path d="M383.6 131.2h0.9v0.9h-0.9zM421.4 115.5h0.9v0.9h-0.9zM381.7 138.4h0.9v0.9h-0.9zM390.3 101.8h0.9v0.9h-0.9zM393.3 99.1h0.9v0.9h-0.9zM428.7 113.8h0.9v0.9h-0.9zM417.1 132.4h0.9v0.9h-0.9zM388.0 93.2h0.9v0.9h-0.9zM398.9 116.6h0.9v0.9h-0.9zM391.0 96.2h0.9v0.9h-0.9zM420.9 116.6h0.9v0.9h-0.9zM405.1 92.8h0.9v0.9h-0.9zM427.9 122.7h0.9v0.9h-0.9zM416.3 99.9h0.9v0.9h-0.9zM384.9 99.5h0.9v0.9h-0.9zM420.2 107.7h0.9v0.9h-0.9zM406.2 146.0h0.9v0.9h-0.9zM402.3 139.2h0.9v0.9h-0.9zM420.0 110.1h0.9v0.9h-0.9zM409.6 129.3h0.9v0.9h-0.9zM386.1 145.6h0.9v0.9h-0.9zM410.8 140.8h0.9v0.9h-0.9zM391.9 93.5h0.9v0.9h-0.9zM425.8 115.4h0.9v0.9h-0.9zM382.0 115.4h0.9v0.9h-0.9zM406.2 107.1h0.9v0.9h-0.9zM398.9 123.6h0.9v0.9h-0.9zM408.4 114.7h0.9v0.9h-0.9zM392.6 118.8h0.9v0.9h-0.9zM395.2 99.7h0.9v0.9h-0.9zM412.1 106.7h0.9v0.9h-0.9zM414.0 111.6h0.9v0.9h-0.9zM402.2 121.9h0.9v0.9h-0.9zM393.0 117.5h0.9v0.9h-0.9zM394.1 95.8h0.9v0.9h-0.9zM379.8 119.0h0.9v0.9h-0.9zM389.8 140.2h0.9v0.9h-0.9zM419.7 132.2h0.9v0.9h-0.9zM422.3 128.3h0.9v0.9h-0.9zM396.2 135.1h0.9v0.9h-0.9zM400.8 131.8h0.9v0.9h-0.9zM384.7 136.9h0.9v0.9h-0.9zM391.3 100.3h0.9v0.9h-0.9zM382.4 119.7h0.9v0.9h-0.9zM394.0 129.0h0.9v0.9h-0.9zM411.1 109.7h0.9v0.9h-0.9zM422.0 125.3h0.9v0.9h-0.9zM389.3 129.1h0.9v0.9h-0.9zM421.4 120.1h0.9v0.9h-0.9zM409.9 99.3h0.9v0.9h-0.9zM382.8 122.2h0.9v0.9h-0.9zM392.4 95.8h0.9v0.9h-0.9zM393.9 132.7h0.9v0.9h-0.9zM381.5 111.5h0.9v0.9h-0.9zM399.2 119.5h0.9v0.9h-0.9zM420.1 138.1h0.9v0.9h-0.9zM406.3 99.2h0.9v0.9h-0.9zM407.8 122.9h0.9v0.9h-0.9zM384.9 142.6h0.9v0.9h-0.9zM426.3 113.5h0.9v0.9h-0.9zM404.8 109.8h0.9v0.9h-0.9zM419.0 113.8h0.9v0.9h-0.9zM412.6 91.1h0.9v0.9h-0.9zM431.6 120.6h0.9v0.9h-0.9zM420.1 125.6h0.9v0.9h-0.9zM421.6 129.5h0.9v0.9h-0.9zM419.6 135.0h0.9v0.9h-0.9zM418.2 115.1h0.9v0.9h-0.9zM424.6 111.9h0.9v0.9h-0.9zM398.8 132.8h0.9v0.9h-0.9zM388.0 133.6h0.9v0.9h-0.9zM412.2 113.6h0.9v0.9h-0.9zM389.3 131.6h0.9v0.9h-0.9zM380.3 122.7h0.9v0.9h-0.9zM409.1 92.2h0.9v0.9h-0.9zM413.4 93.8h0.9v0.9h-0.9zM408.6 117.2h0.9v0.9h-0.9zM399.9 130.0h0.9v0.9h-0.9zM414.7 115.5h0.9v0.9h-0.9zM379.3 127.9h0.9v0.9h-0.9zM406.8 136.3h0.9v0.9h-0.9zM419.0 114.3h0.9v0.9h-0.9zM425.4 128.3h0.9v0.9h-0.9zM408.2 111.9h0.9v0.9h-0.9zM421.6 104.4h0.9v0.9h-0.9zM391.2 130.8h0.9v0.9h-0.9zM396.6 127.5h0.9v0.9h-0.9zM390.6 113.8h0.9v0.9h-0.9zM415.6 111.5h0.9v0.9h-0.9zM426.4 127.8h0.9v0.9h-0.9zM390.8 103.4h0.9v0.9h-0.9zM421.2 131.1h0.9v0.9h-0.9zM389.0 136.4h0.9v0.9h-0.9zM425.8 121.7h0.9v0.9h-0.9zM396.1 141.5h0.9v0.9h-0.9zM396.1 117.6h0.9v0.9h-0.9zM382.0 116.2h0.9v0.9h-0.9zM390.0 106.6h0.9v0.9h-0.9zM404.1 111.9h0.9v0.9h-0.9zM401.3 140.9h0.9v0.9h-0.9zM396.0 139.5h0.9v0.9h-0.9zM410.5 125.8h0.9v0.9h-0.9zM393.9 121.7h0.9v0.9h-0.9zM408.7 138.5h0.9v0.9h-0.9zM424.6 127.2h0.9v0.9h-0.9zM411.3 121.8h0.9v0.9h-0.9zM407.1 127.6h0.9v0.9h-0.9zM405.3 96.2h0.9v0.9h-0.9zM410.3 132.5h0.9v0.9h-0.9zM411.2 111.8h0.9v0.9h-0.9zM398.4 94.7h0.9v0.9h-0.9zM390.8 100.8h0.9v0.9h-0.9zM394.8 124.4h0.9v0.9h-0.9zM390.8 107.1h0.9v0.9h-0.9zM407.7 142.0h0.9v0.9h-0.9zM397.1 104.4h0.9v0.9h-0.9zM377.2 119.8h0.9v0.9h-0.9zM423.9 116.9h0.9v0.9h-0.9zM426.3 124.7h0.9v0.9h-0.9zM381.6 113.7h0.9v0.9h-0.9z" fill="#EBC391"/>
<path d="M346.9 94.8h1.0v1.0h-1.0zM336.0 100.2h1.0v1.0h-1.0zM346.7 93.1h1.0v1.0h-1.0zM367.6 103.4h1.0v1.0h-1.0zM356.4 83.0h1.0v1.0h-1.0zM356.4 92.0h1.0v1.0h-1.0zM340.3 109.6h1.0v1.0h-1.0zM381.4 90.7h1.0v1.0h-1.0zM354.0 97.9h1.0v1.0h-1.0zM364.7 116.4h1.0v1.0h-1.0zM352.2 83.7h1.0v1.0h-1.0zM343.6 98.3h1.0v1.0h-1.0zM337.7 117.7h1.0v1.0h-1.0zM321.2 90.7h1.0v1.0h-1.0zM366.9 108.9h1.0v1.0h-1.0zM338.3 109.1h1.0v1.0h-1.0zM312.1 104.0h1.0v1.0h-1.0zM314.8 93.8h1.0v1.0h-1.0zM382.9 96.7h1.0v1.0h-1.0zM351.0 94.8h1.0v1.0h-1.0zM338.9 90.0h1.0v1.0h-1.0zM372.3 82.3h1.0v1.0h-1.0zM355.8 82.9h1.0v1.0h-1.0zM380.8 98.9h1.0v1.0h-1.0zM330.6 87.4h1.0v1.0h-1.0zM326.4 98.4h1.0v1.0h-1.0zM370.9 84.9h1.0v1.0h-1.0zM314.4 91.3h1.0v1.0h-1.0zM330.2 111.4h1.0v1.0h-1.0zM337.5 91.1h1.0v1.0h-1.0zM317.0 104.7h1.0v1.0h-1.0zM336.4 106.4h1.0v1.0h-1.0zM312.3 96.2h1.0v1.0h-1.0zM350.7 90.8h1.0v1.0h-1.0zM375.6 108.2h1.0v1.0h-1.0zM359.9 87.6h1.0v1.0h-1.0zM349.1 90.8h1.0v1.0h-1.0zM366.7 94.9h1.0v1.0h-1.0zM372.0 92.9h1.0v1.0h-1.0zM311.6 100.0h1.0v1.0h-1.0zM344.2 93.1h1.0v1.0h-1.0zM346.3 106.0h1.0v1.0h-1.0zM344.7 112.0h1.0v1.0h-1.0zM375.9 115.5h1.0v1.0h-1.0zM334.6 86.8h1.0v1.0h-1.0zM376.2 85.6h1.0v1.0h-1.0zM313.8 96.3h1.0v1.0h-1.0zM337.1 114.1h1.0v1.0h-1.0zM352.8 107.5h1.0v1.0h-1.0zM367.7 111.1h1.0v1.0h-1.0zM376.1 111.2h1.0v1.0h-1.0zM361.9 112.4h1.0v1.0h-1.0zM346.7 85.5h1.0v1.0h-1.0zM354.9 88.4h1.0v1.0h-1.0zM359.1 89.6h1.0v1.0h-1.0zM352.5 117.5h1.0v1.0h-1.0zM358.9 86.4h1.0v1.0h-1.0zM353.2 112.4h1.0v1.0h-1.0zM326.4 94.3h1.0v1.0h-1.0zM353.1 90.3h1.0v1.0h-1.0zM346.1 87.9h1.0v1.0h-1.0zM333.1 107.9h1.0v1.0h-1.0zM320.4 92.0h1.0v1.0h-1.0zM345.1 83.8h1.0v1.0h-1.0zM349.7 116.8h1.0v1.0h-1.0zM339.6 105.5h1.0v1.0h-1.0zM373.7 102.8h1.0v1.0h-1.0zM329.2 96.5h1.0v1.0h-1.0zM346.1 89.6h1.0v1.0h-1.0zM319.6 105.5h1.0v1.0h-1.0zM349.6 101.0h1.0v1.0h-1.0zM382.2 92.6h1.0v1.0h-1.0zM322.5 106.0h1.0v1.0h-1.0zM341.4 81.4h1.0v1.0h-1.0zM333.4 108.5h1.0v1.0h-1.0zM374.5 122.9h1.0v1.0h-1.0zM369.0 114.8h1.0v1.0h-1.0zM348.2 110.8h1.0v1.0h-1.0zM336.2 84.1h1.0v1.0h-1.0zM309.5 99.7h1.0v1.0h-1.0zM351.7 101.6h1.0v1.0h-1.0zM363.0 92.2h1.0v1.0h-1.0zM355.6 83.8h1.0v1.0h-1.0zM371.8 99.3h1.0v1.0h-1.0zM357.1 90.8h1.0v1.0h-1.0zM385.9 93.4h1.0v1.0h-1.0zM359.6 94.0h1.0v1.0h-1.0zM369.7 92.5h1.0v1.0h-1.0zM335.3 88.1h1.0v1.0h-1.0zM375.4 114.5h1.0v1.0h-1.0zM325.5 103.1h1.0v1.0h-1.0zM378.5 98.1h1.0v1.0h-1.0zM335.5 101.2h1.0v1.0h-1.0zM318.5 103.7h1.0v1.0h-1.0zM370.1 114.1h1.0v1.0h-1.0zM330.7 91.8h1.0v1.0h-1.0zM381.2 87.0h1.0v1.0h-1.0zM340.2 115.0h1.0v1.0h-1.0zM385.4 90.2h1.0v1.0h-1.0zM366.5 118.3h1.0v1.0h-1.0zM339.7 116.7h1.0v1.0h-1.0zM357.2 111.5h1.0v1.0h-1.0zM320.3 104.8h1.0v1.0h-1.0zM354.3 79.8h1.0v1.0h-1.0zM357.3 110.7h1.0v1.0h-1.0zM352.1 108.7h1.0v1.0h-1.0zM371.5 96.0h1.0v1.0h-1.0zM346.4 109.4h1.0v1.0h-1.0zM382.4 97.6h1.0v1.0h-1.0zM361.0 91.7h1.0v1.0h-1.0zM339.5 86.1h1.0v1.0h-1.0zM343.2 99.7h1.0v1.0h-1.0zM356.7 111.1h1.0v1.0h-1.0zM321.3 96.0h1.0v1.0h-1.0zM339.6 86.0h1.0v1.0h-1.0zM323.3 104.1h1.0v1.0h-1.0zM366.9 79.6h1.0v1.0h-1.0zM346.0 109.2h1.0v1.0h-1.0zM308.3 99.4h1.0v1.0h-1.0zM346.9 80.3h1.0v1.0h-1.0z" fill="#EEC494"/>
<path d="M375.1 108.6h1.1v1.1h-1.1zM346.1 82.0h1.1v1.1h-1.1zM353.3 87.8h1.1v1.1h-1.1zM357.6 78.9h1.1v1.1h-1.1zM373.1 115.3h1.1v1.1h-1.1zM323.4 99.1h1.1v1.1h-1.1zM335.0 114.5h1.1v1.1h-1.1zM338.0 94.8h1.1v1.1h-1.1zM365.7 79.7h1.1v1.1h-1.1zM371.5 117.2h1.1v1.1h-1.1zM367.6 94.0h1.1v1.1h-1.1zM360.8 117.5h1.1v1.1h-1.1zM349.9 102.3h1.1v1.1h-1.1zM345.7 109.9h1.1v1.1h-1.1zM354.2 96.9h1.1v1.1h-1.1zM315.1 107.0h1.1v1.1h-1.1zM369.7 94.5h1.1v1.1h-1.1zM335.2 105.7h1.1v1.1h-1.1zM366.9 88.9h1.1v1.1h-1.1zM323.8 86.7h1.1v1.1h-1.1zM339.5 89.7h1.1v1.1h-1.1zM345.3 93.8h1.1v1.1h-1.1zM376.5 86.5h1.1v1.1h-1.1zM324.1 108.8h1.1v1.1h-1.1zM364.9 97.5h1.1v1.1h-1.1zM372.6 84.0h1.1v1.1h-1.1zM329.4 101.0h1.1v1.1h-1.1zM365.8 94.0h1.1v1.1h-1.1zM383.6 96.3h1.1v1.1h-1.1zM373.5 102.1h1.1v1.1h-1.1zM371.6 100.4h1.1v1.1h-1.1zM360.2 82.8h1.1v1.1h-1.1zM347.7 91.6h1.1v1.1h-1.1zM349.5 96.0h1.1v1.1h-1.1zM365.5 118.7h1.1v1.1h-1.1zM370.4 116.6h1.1v1.1h-1.1zM366.8 90.2h1.1v1.1h-1.1zM361.5 83.8h1.1v1.1h-1.1zM349.0 79.8h1.1v1.1h-1.1zM351.5 108.1h1.1v1.1h-1.1zM357.6 99.5h1.1v1.1h-1.1zM342.3 104.2h1.1v1.1h-1.1zM370.7 100.0h1.1v1.1h-1.1zM322.9 106.7h1.1v1.1h-1.1zM363.5 79.2h1.1v1.1h-1.1zM346.1 80.7h1.1v1.1h-1.1zM365.7 89.4h1.1v1.1h-1.1zM317.8 102.1h1.1v1.1h-1.1zM368.0 88.1h1.1v1.1h-1.1zM317.7 89.1h1.1v1.1h-1.1zM355.7 105.0h1.1v1.1h-1.1zM371.0 112.2h1.1v1.1h-1.1zM328.0 95.3h1.1v1.1h-1.1zM317.1 95.9h1.1v1.1h-1.1zM340.6 106.7h1.1v1.1h-1.1zM346.8 95.8h1.1v1.1h-1.1zM343.0 89.7h1.1v1.1h-1.1zM336.4 88.5h1.1v1.1h-1.1zM340.7 96.3h1.1v1.1h-1.1zM329.4 98.4h1.1v1.1h-1.1zM377.9 101.0h1.1v1.1h-1.1zM365.1 100.7h1.1v1.1h-1.1zM379.2 91.0h1.1v1.1h-1.1zM376.5 108.3h1.1v1.1h-1.1zM380.5 96.4h1.1v1.1h-1.1zM340.1 91.1h1.1v1.1h-1.1zM311.5 94.0h1.1v1.1h-1.1zM357.9 117.1h1.1v1.1h-1.1zM324.0 95.2h1.1v1.1h-1.1zM369.1 104.1h1.1v1.1h-1.1zM357.5 84.4h1.1v1.1h-1.1zM357.5 99.3h1.1v1.1h-1.1zM387.2 90.9h1.1v1.1h-1.1zM362.0 79.3h1.1v1.1h-1.1zM375.1 112.0h1.1v1.1h-1.1zM365.1 112.7h1.1v1.1h-1.1zM368.5 115.2h1.1v1.1h-1.1zM336.0 89.5h1.1v1.1h-1.1zM369.7 93.5h1.1v1.1h-1.1zM321.3 92.9h1.1v1.1h-1.1zM312.9 102.5h1.1v1.1h-1.1zM326.3 101.7h1.1v1.1h-1.1zM352.9 87.7h1.1v1.1h-1.1zM355.0 119.3h1.1v1.1h-1.1zM349.9 101.1h1.1v1.1h-1.1zM340.0 109.9h1.1v1.1h-1.1zM328.6 99.1h1.1v1.1h-1.1zM318.8 104.9h1.1v1.1h-1.1zM366.1 99.9h1.1v1.1h-1.1zM377.1 93.0h1.1v1.1h-1.1zM351.2 100.4h1.1v1.1h-1.1zM313.7 95.0h1.1v1.1h-1.1zM331.9 106.8h1.1v1.1h-1.1zM347.4 106.0h1.1v1.1h-1.1zM370.4 83.1h1.1v1.1h-1.1zM375.9 110.5h1.1v1.1h-1.1zM345.4 117.8h1.1v1.1h-1.1zM340.9 88.1h1.1v1.1h-1.1zM339.8 103.8h1.1v1.1h-1.1zM318.0 97.4h1.1v1.1h-1.1zM339.1 100.6h1.1v1.1h-1.1zM348.7 84.8h1.1v1.1h-1.1zM321.8 104.2h1.1v1.1h-1.1zM348.4 104.6h1.1v1.1h-1.1zM356.3 91.0h1.1v1.1h-1.1zM350.7 113.9h1.1v1.1h-1.1zM382.2 92.0h1.1v1.1h-1.1zM351.2 103.1h1.1v1.1h-1.1zM321.6 102.3h1.1v1.1h-1.1zM361.3 119.6h1.1v1.1h-1.1zM340.6 92.3h1.1v1.1h-1.1zM369.6 117.2h1.1v1.1h-1.1zM337.1 97.8h1.1v1.1h-1.1zM354.7 112.3h1.1v1.1h-1.1zM343.8 90.0h1.1v1.1h-1.1zM328.1 95.5h1.1v1.1h-1.1zM340.4 117.8h1.1v1.1h-1.1zM347.3 100.2h1.1v1.1h-1.1zM351.1 112.7h1.1v1.1h-1.1zM347.7 106.1h1.1v1.1h-1.1zM335.4 108.3h1.1v1.1h-1.1zM334.3 103.6h1.1v1.1h-1.1zM339.4 94.1h1.1v1.1h-1.1zM346.5 92.9h1.1v1.1h-1.1zM375.3 90.1h1.1v1.1h-1.1zM350.8 103.9h1.1v1.1h-1.1zM321.9 99.3h1.1v1.1h-1.1zM356.8 118.2h1.1v1.1h-1.1zM376.9 103.0h1.1v1.1h-1.1zM368.5 86.0h1.1v1.1h-1.1zM319.1 103.1h1.1v1.1h-1.1zM344.8 97.1h1.1v1.1h-1.1zM333.1 105.3h1.1v1.1h-1.1zM376.2 109.8h1.1v1.1h-1.1zM365.6 115.5h1.1v1.1h-1.1zM353.4 98.2h1.1v1.1h-1.1zM333.2 91.0h1.1v1.1h-1.1zM363.7 110.5h1.1v1.1h-1.1zM362.9 100.7h1.1v1.1h-1.1zM323.1 86.6h1.1v1.1h-1.1zM338.0 92.8h1.1v1.1h-1.1zM368.9 118.7h1.1v1.1h-1.1zM343.2 85.4h1.1v1.1h-1.1zM339.8 89.6h1.1v1.1h-1.1zM359.7 104.2h1.1v1.1h-1.1zM357.7 119.2h1.1v1.1h-1.1zM341.5 96.7h1.1v1.1h-1.1zM361.1 98.9h1.1v1.1h-1.1zM370.0 95.2h1.1v1.1h-1.1zM344.3 97.7h1.1v1.1h-1.1zM373.9 99.8h1.1v1.1h-1.1zM325.3 106.2h1.1v1.1h-1.1zM328.7 99.3h1.1v1.1h-1.1zM348.1 96.5h1.1v1.1h-1.1zM361.5 104.9h1.1v1.1h-1.1zM328.8 95.5h1.1v1.1h-1.1zM351.3 88.3h1.1v1.1h-1.1zM326.9 106.3h1.1v1.1h-1.1zM372.5 96.9h1.1v1.1h-1.1zM373.8 114.7h1.1v1.1h-1.1zM333.3 111.3h1.1v1.1h-1.1zM377.0 85.4h1.1v1.1h-1.1zM317.4 96.2h1.1v1.1h-1.1zM363.1 99.6h1.1v1.1h-1.1zM373.2 116.8h1.1v1.1h-1.1zM325.3 105.1h1.1v1.1h-1.1zM337.7 113.9h1.1v1.1h-1.1zM354.2 111.8h1.1v1.1h-1.1zM316.8 92.1h1.1v1.1h-1.1zM334.4 114.1h1.1v1.1h-1.1zM335.5 100.8h1.1v1.1h-1.1zM379.1 103.4h1.1v1.1h-1.1zM346.9 112.3h1.1v1.1h-1.1zM349.3 100.4h1.1v1.1h-1.1zM379.9 104.8h1.1v1.1h-1.1zM363.7 98.8h1.1v1.1h-1.1zM362.8 106.5h1.1v1.1h-1.1zM335.8 105.2h1.1v1.1h-1.1zM309.2 96.3h1.1v1.1h-1.1zM346.5 90.1h1.1v1.1h-1.1zM317.5 99.2h1.1v1.1h-1.1zM374.1 98.3h1.1v1.1h-1.1zM359.7 79.3h1.1v1.1h-1.1zM326.7 97.5h1.1v1.1h-1.1zM361.2 76.7h1.1v1.1h-1.1zM364.0 95.0h1.1v1.1h-1.1zM354.6 91.4h1.1v1.1h-1.1zM369.1 103.8h1.1v1.1h-1.1zM344.5 119.0h1.1v1.1h-1.1zM370.0 92.8h1.1v1.1h-1.1zM356.9 111.9h1.1v1.1h-1.1zM328.7 94.8h1.1v1.1h-1.1zM378.7 85.6h1.1v1.1h-1.1zM375.6 120.7h1.1v1.1h-1.1zM342.9 111.1h1.1v1.1h-1.1zM358.6 107.4h1.1v1.1h-1.1zM353.7 96.4h1.1v1.1h-1.1zM312.7 100.2h1.1v1.1h-1.1zM335.7 83.1h1.1v1.1h-1.1zM354.3 87.6h1.1v1.1h-1.1zM333.8 101.5h1.1v1.1h-1.1zM370.8 113.3h1.1v1.1h-1.1zM336.0 106.1h1.1v1.1h-1.1zM353.5 87.6h1.1v1.1h-1.1zM358.2 89.1h1.1v1.1h-1.1zM322.0 96.9h1.1v1.1h-1.1zM355.7 77.6h1.1v1.1h-1.1zM368.5 112.8h1.1v1.1h-1.1zM357.0 93.1h1.1v1.1h-1.1zM319.3 103.7h1.1v1.1h-1.1zM371.2 91.9h1.1v1.1h-1.1zM361.4 111.0h1.1v1.1h-1.1zM369.5 95.8h1.1v1.1h-1.1zM346.9 88.8h1.1v1.1h-1.1zM365.4 106.4h1.1v1.1h-1.1zM354.2 110.9h1.1v1.1h-1.1zM339.0 104.1h1.1v1.1h-1.1zM338.9 91.7h1.1v1.1h-1.1zM363.0 112.0h1.1v1.1h-1.1zM331.4 107.3h1.1v1.1h-1.1zM377.5 97.6h1.1v1.1h-1.1zM381.6 100.8h1.1v1.1h-1.1zM347.5 112.5h1.1v1.1h-1.1zM349.4 85.0h1.1v1.1h-1.1zM321.8 92.9h1.1v1.1h-1.1zM322.5 103.2h1.1v1.1h-1.1zM357.6 92.7h1.1v1.1h-1.1zM366.9 96.9h1.1v1.1h-1.1zM325.5 111.4h1.1v1.1h-1.1zM344.4 99.7h1.1v1.1h-1.1zM339.2 115.6h1.1v1.1h-1.1zM346.6 95.8h1.1v1.1h-1.1zM364.6 102.8h1.1v1.1h-1.1zM362.0 84.4h1.1v1.1h-1.1zM361.8 87.6h1.1v1.1h-1.1zM337.1 97.4h1.1v1.1h-1.1zM333.5 90.7h1.1v1.1h-1.1zM344.3 115.1h1.1v1.1h-1.1zM358.1 83.2h1.1v1.1h-1.1zM377.0 108.8h1.1v1.1h-1.1zM340.6 95.0h1.1v1.1h-1.1zM342.5 102.1h1.1v1.1h-1.1zM372.7 93.9h1.1v1.1h-1.1zM368.9 83.5h1.1v1.1h-1.1zM358.8 100.7h1.1v1.1h-1.1zM358.9 82.6h1.1v1.1h-1.1zM341.1 100.0h1.1v1.1h-1.1zM359.0 115.2h1.1v1.1h-1.1zM353.6 79.0h1.1v1.1h-1.1zM356.4 106.8h1.1v1.1h-1.1zM360.3 119.6h1.1v1.1h-1.1zM377.4 111.9h1.1v1.1h-1.1zM333.8 84.2h1.1v1.1h-1.1zM326.1 106.3h1.1v1.1h-1.1zM354.6 114.8h1.1v1.1h-1.1zM347.8 94.3h1.1v1.1h-1.1zM334.1 114.1h1.1v1.1h-1.1zM334.0 113.2h1.1v1.1h-1.1zM362.6 91.1h1.1v1.1h-1.1zM354.6 109.1h1.1v1.1h-1.1zM381.0 92.0h1.1v1.1h-1.1zM355.7 119.0h1.1v1.1h-1.1zM343.7 107.4h1.1v1.1h-1.1zM385.5 93.4h1.1v1.1h-1.1zM342.2 110.8h1.1v1.1h-1.1zM381.9 88.7h1.1v1.1h-1.1zM354.4 89.6h1.1v1.1h-1.1zM353.6 81.8h1.1v1.1h-1.1zM332.4 84.0h1.1v1.1h-1.1zM362.2 117.2h1.1v1.1h-1.1zM352.6 97.1h1.1v1.1h-1.1zM336.1 112.4h1.1v1.1h-1.1zM373.0 110.6h1.1v1.1h-1.1zM359.7 104.7h1.1v1.1h-1.1zM328.0 94.8h1.1v1.1h-1.1zM337.7 117.8h1.1v1.1h-1.1zM342.9 101.1h1.1v1.1h-1.1zM376.3 115.3h1.1v1.1h-1.1zM363.6 119.2h1.1v1.1h-1.1zM373.3 93.4h1.1v1.1h-1.1zM361.1 99.1h1.1v1.1h-1.1zM381.1 96.0h1.1v1.1h-1.1zM369.1 92.7h1.1v1.1h-1.1zM360.1 97.0h1.1v1.1h-1.1zM336.9 87.0h1.1v1.1h-1.1zM364.5 110.4h1.1v1.1h-1.1zM370.9 88.9h1.1v1.1h-1.1zM369.6 97.3h1.1v1.1h-1.1zM338.2 104.3h1.1v1.1h-1.1zM345.7 105.7h1.1v1.1h-1.1zM336.4 86.2h1.1v1.1h-1.1zM369.9 95.0h1.1v1.1h-1.1zM313.7 98.4h1.1v1.1h-1.1zM367.0 91.2h1.1v1.1h-1.1zM358.6 85.6h1.1v1.1h-1.1zM355.8 118.1h1.1v1.1h-1.1zM365.4 80.6h1.1v1.1h-1.1zM342.2 103.3h1.1v1.1h-1.1zM319.4 96.9h1.1v1.1h-1.1zM352.7 103.4h1.1v1.1h-1.1zM368.0 100.5h1.1v1.1h-1.1zM354.1 86.8h1.1v1.1h-1.1zM378.2 103.4h1.1v1.1h-1.1zM344.1 99.9h1.1v1.1h-1.1zM373.5 89.6h1.1v1.1h-1.1zM321.2 107.7h1.1v1.1h-1.1zM356.9 85.8h1.1v1.1h-1.1zM366.7 90.3h1.1v1.1h-1.1zM355.7 79.7h1.1v1.1h-1.1zM351.7 99.7h1.1v1.1h-1.1zM337.8 108.7h1.1v1.1h-1.1zM321.3 97.0h1.1v1.1h-1.1zM330.8 94.1h1.1v1.1h-1.1zM317.9 107.1h1.1v1.1h-1.1zM362.6 76.4h1.1v1.1h-1.1zM355.8 77.1h1.1v1.1h-1.1zM375.9 112.4h1.1v1.1h-1.1zM365.0 85.4h1.1v1.1h-1.1zM338.7 93.2h1.1v1.1h-1.1zM334.3 85.8h1.1v1.1h-1.1zM325.9 102.2h1.1v1.1h-1.1zM358.2 104.3h1.1v1.1h-1.1zM343.2 111.4h1.1v1.1h-1.1zM358.7 113.0h1.1v1.1h-1.1zM329.4 99.5h1.1v1.1h-1.1zM355.8 106.9h1.1v1.1h-1.1zM321.1 87.1h1.1v1.1h-1.1zM316.6 94.2h1.1v1.1h-1.1zM339.4 83.7h1.1v1.1h-1.1zM382.2 97.4h1.1v1.1h-1.1zM359.6 116.5h1.1v1.1h-1.1zM334.4 111.8h1.1v1.1h-1.1zM342.7 96.0h1.1v1.1h-1.1zM351.6 109.4h1.1v1.1h-1.1zM345.5 104.2h1.1v1.1h-1.1zM356.9 81.5h1.1v1.1h-1.1zM325.7 111.6h1.1v1.1h-1.1zM344.3 97.5h1.1v1.1h-1.1zM377.6 105.0h1.1v1.1h-1.1zM325.2 100.2h1.1v1.1h-1.1zM362.9 110.4h1.1v1.1h-1.1zM377.9 91.5h1.1v1.1h-1.1zM374.2 100.6h1.1v1.1h-1.1zM320.2 107.6h1.1v1.1h-1.1zM378.7 106.0h1.1v1.1h-1.1zM365.2 108.5h1.1v1.1h-1.1zM330.7 101.8h1.1v1.1h-1.1zM379.2 99.4h1.1v1.1h-1.1zM331.9 87.1h1.1v1.1h-1.1zM383.0 96.1h1.1v1.1h-1.1zM362.1 115.6h1.1v1.1h-1.1zM337.1 97.9h1.1v1.1h-1.1zM340.6 83.5h1.1v1.1h-1.1zM363.7 84.3h1.1v1.1h-1.1zM367.8 109.7h1.1v1.1h-1.1zM369.3 80.7h1.1v1.1h-1.1zM379.5 103.8h1.1v1.1h-1.1zM361.9 86.3h1.1v1.1h-1.1zM331.8 96.0h1.1v1.1h-1.1zM364.5 106.3h1.1v1.1h-1.1zM361.2 93.4h1.1v1.1h-1.1zM336.6 87.1h1.1v1.1h-1.1zM365.5 83.8h1.1v1.1h-1.1zM350.2 117.3h1.1v1.1h-1.1zM364.7 92.8h1.1v1.1h-1.1zM316.1 101.0h1.1v1.1h-1.1zM320.1 105.6h1.1v1.1h-1.1zM351.9 84.6h1.1v1.1h-1.1zM349.4 86.9h1.1v1.1h-1.1zM359.6 110.0h1.1v1.1h-1.1zM344.0 110.3h1.1v1.1h-1.1zM358.8 80.6h1.1v1.1h-1.1zM368.5 84.9h1.1v1.1h-1.1zM360.2 107.5h1.1v1.1h-1.1zM384.5 94.4h1.1v1.1h-1.1zM355.2 101.3h1.1v1.1h-1.1zM338.8 101.6h1.1v1.1h-1.1zM354.3 81.1h1.1v1.1h-1.1zM365.3 81.5h1.1v1.1h-1.1zM324.7 107.0h1.1v1.1h-1.1zM324.8 92.2h1.1v1.1h-1.1zM364.2 117.9h1.1v1.1h-1.1zM324.6 105.7h1.1v1.1h-1.1zM357.4 119.4h1.1v1.1h-1.1zM366.6 105.2h1.1v1.1h-1.1zM334.2 103.1h1.1v1.1h-1.1zM326.9 112.4h1.1v1.1h-1.1zM376.0 110.3h1.1v1.1h-1.1zM362.4 114.5h1.1v1.1h-1.1zM345.6 95.3h1.1v1.1h-1.1zM359.7 78.3h1.1v1.1h-1.1zM352.8 101.5h1.1v1.1h-1.1zM319.6 92.3h1.1v1.1h-1.1zM358.3 101.8h1.1v1.1h-1.1zM374.7 111.0h1.1v1.1h-1.1zM377.5 94.0h1.1v1.1h-1.1zM375.3 86.7h1.1v1.1h-1.1zM321.3 91.4h1.1v1.1h-1.1zM362.3 104.1h1.1v1.1h-1.1zM363.6 99.0h1.1v1.1h-1.1zM338.9 114.0h1.1v1.1h-1.1zM335.5 104.1h1.1v1.1h-1.1zM366.6 110.4h1.1v1.1h-1.1zM351.4 81.9h1.1v1.1h-1.1zM340.2 97.8h1.1v1.1h-1.1zM333.0 107.5h1.1v1.1h-1.1zM373.1 89.0h1.1v1.1h-1.1zM347.7 96.4h1.1v1.1h-1.1zM345.4 88.1h1.1v1.1h-1.1zM356.7 83.2h1.1v1.1h-1.1zM356.0 92.9h1.1v1.1h-1.1zM338.5 96.5h1.1v1.1h-1.1zM364.1 84.0h1.1v1.1h-1.1zM354.9 113.2h1.1v1.1h-1.1zM344.4 88.5h1.1v1.1h-1.1zM338.2 95.4h1.1v1.1h-1.1zM352.1 100.3h1.1v1.1h-1.1zM380.2 96.8h1.1v1.1h-1.1zM351.8 90.8h1.1v1.1h-1.1zM341.0 111.2h1.1v1.1h-1.1z" fill="#EF8CAC"/>
<path d="M344.0 150.6h1.1v1.1h-1.1zM331.0 143.6h1.1v1.1h-1.1zM330.9 139.2h1.1v1.1h-1.1zM329.5 158.1h1.1v1.1h-1.1zM320.2 137.1h1.1v1.1h-1.1zM334.1 141.1h1.1v1.1h-1.1zM335.8 166.6h1.1v1.1h-1.1zM338.0 166.8h1.1v1.1h-1.1zM323.6 140.1h1.1v1.1h-1.1zM340.1 145.3h1.1v1.1h-1.1zM320.8 139.5h1.1v1.1h-1.1zM324.7 138.4h1.1v1.1h-1.1zM341.9 137.9h1.1v1.1h-1.1zM331.3 114.9h1.1v1.1h-1.1zM341.8 164.5h1.1v1.1h-1.1zM335.2 148.5h1.1v1.1h-1.1zM337.5 156.5h1.1v1.1h-1.1zM335.1 151.6h1.1v1.1h-1.1zM333.0 130.0h1.1v1.1h-1.1zM331.8 157.3h1.1v1.1h-1.1zM337.2 155.4h1.1v1.1h-1.1zM325.8 151.4h1.1v1.1h-1.1zM327.1 117.2h1.1v1.1h-1.1zM339.2 146.0h1.1v1.1h-1.1zM331.0 137.2h1.1v1.1h-1.1zM337.2 131.6h1.1v1.1h-1.1zM334.6 162.7h1.1v1.1h-1.1zM323.3 128.9h1.1v1.1h-1.1zM331.5 126.3h1.1v1.1h-1.1zM324.8 118.4h1.1v1.1h-1.1zM344.1 156.3h1.1v1.1h-1.1zM338.9 142.4h1.1v1.1h-1.1zM324.8 137.2h1.1v1.1h-1.1zM338.8 160.3h1.1v1.1h-1.1zM328.1 159.6h1.1v1.1h-1.1zM326.6 126.5h1.1v1.1h-1.1zM336.4 133.0h1.1v1.1h-1.1zM331.9 118.1h1.1v1.1h-1.1zM331.3 120.2h1.1v1.1h-1.1zM328.5 118.9h1.1v1.1h-1.1zM334.7 130.2h1.1v1.1h-1.1zM334.5 132.2h1.1v1.1h-1.1zM319.8 121.7h1.1v1.1h-1.1zM329.3 146.8h1.1v1.1h-1.1zM319.0 139.6h1.1v1.1h-1.1zM344.0 149.3h1.1v1.1h-1.1zM321.0 138.8h1.1v1.1h-1.1zM339.2 161.5h1.1v1.1h-1.1zM333.2 149.7h1.1v1.1h-1.1zM333.2 134.6h1.1v1.1h-1.1zM322.8 138.3h1.1v1.1h-1.1zM341.7 152.2h1.1v1.1h-1.1zM328.4 126.3h1.1v1.1h-1.1zM336.1 149.2h1.1v1.1h-1.1zM335.4 132.5h1.1v1.1h-1.1zM337.5 151.7h1.1v1.1h-1.1zM335.5 163.3h1.1v1.1h-1.1zM318.8 124.5h1.1v1.1h-1.1zM335.0 135.4h1.1v1.1h-1.1zM339.6 153.2h1.1v1.1h-1.1zM335.0 163.9h1.1v1.1h-1.1zM328.0 159.7h1.1v1.1h-1.1zM329.6 152.9h1.1v1.1h-1.1zM336.5 150.1h1.1v1.1h-1.1zM319.4 123.6h1.1v1.1h-1.1zM335.1 150.2h1.1v1.1h-1.1zM321.8 147.8h1.1v1.1h-1.1zM322.6 135.6h1.1v1.1h-1.1zM339.9 167.7h1.1v1.1h-1.1zM327.2 144.7h1.1v1.1h-1.1zM343.3 154.8h1.1v1.1h-1.1zM347.3 149.0h1.1v1.1h-1.1zM338.2 129.4h1.1v1.1h-1.1zM342.7 140.1h1.1v1.1h-1.1zM328.4 119.3h1.1v1.1h-1.1zM333.7 123.2h1.1v1.1h-1.1zM324.9 125.3h1.1v1.1h-1.1zM320.7 113.4h1.1v1.1h-1.1zM341.4 145.8h1.1v1.1h-1.1zM323.3 141.3h1.1v1.1h-1.1zM324.0 128.4h1.1v1.1h-1.1zM339.9 163.0h1.1v1.1h-1.1zM320.4 143.3h1.1v1.1h-1.1zM338.6 156.9h1.1v1.1h-1.1zM325.2 130.4h1.1v1.1h-1.1zM320.8 126.6h1.1v1.1h-1.1zM333.3 125.5h1.1v1.1h-1.1zM335.0 132.4h1.1v1.1h-1.1zM324.6 134.8h1.1v1.1h-1.1zM329.0 130.2h1.1v1.1h-1.1zM321.6 111.0h1.1v1.1h-1.1zM328.6 146.3h1.1v1.1h-1.1zM323.1 112.2h1.1v1.1h-1.1zM337.2 134.7h1.1v1.1h-1.1zM325.6 122.2h1.1v1.1h-1.1zM333.5 144.5h1.1v1.1h-1.1zM331.3 152.4h1.1v1.1h-1.1zM346.0 153.3h1.1v1.1h-1.1zM318.8 122.9h1.1v1.1h-1.1zM335.9 133.1h1.1v1.1h-1.1zM329.5 160.8h1.1v1.1h-1.1zM322.6 143.5h1.1v1.1h-1.1zM334.6 158.6h1.1v1.1h-1.1zM329.1 137.5h1.1v1.1h-1.1zM342.4 150.0h1.1v1.1h-1.1zM340.1 163.3h1.1v1.1h-1.1zM339.4 159.6h1.1v1.1h-1.1zM340.7 162.4h1.1v1.1h-1.1zM336.9 122.0h1.1v1.1h-1.1zM336.4 133.5h1.1v1.1h-1.1zM334.9 145.8h1.1v1.1h-1.1zM344.2 156.2h1.1v1.1h-1.1zM337.4 150.9h1.1v1.1h-1.1zM337.0 153.4h1.1v1.1h-1.1zM343.9 146.5h1.1v1.1h-1.1zM329.9 153.0h1.1v1.1h-1.1zM333.2 141.6h1.1v1.1h-1.1zM331.5 160.7h1.1v1.1h-1.1zM331.4 159.5h1.1v1.1h-1.1zM329.7 123.1h1.1v1.1h-1.1zM327.7 115.5h1.1v1.1h-1.1zM336.5 157.7h1.1v1.1h-1.1zM339.2 158.3h1.1v1.1h-1.1zM333.8 134.4h1.1v1.1h-1.1zM324.7 113.3h1.1v1.1h-1.1zM338.9 142.7h1.1v1.1h-1.1zM324.2 155.9h1.1v1.1h-1.1zM328.5 124.5h1.1v1.1h-1.1zM339.1 140.7h1.1v1.1h-1.1zM321.4 134.3h1.1v1.1h-1.1zM345.9 148.8h1.1v1.1h-1.1zM320.7 133.0h1.1v1.1h-1.1zM338.8 156.9h1.1v1.1h-1.1zM332.7 139.6h1.1v1.1h-1.1zM342.5 159.8h1.1v1.1h-1.1zM332.8 115.3h1.1v1.1h-1.1zM341.1 154.9h1.1v1.1h-1.1zM341.4 145.6h1.1v1.1h-1.1zM341.2 145.3h1.1v1.1h-1.1zM338.5 156.0h1.1v1.1h-1.1zM321.3 145.0h1.1v1.1h-1.1zM327.1 147.9h1.1v1.1h-1.1zM333.3 159.1h1.1v1.1h-1.1zM332.8 140.6h1.1v1.1h-1.1zM325.9 141.1h1.1v1.1h-1.1zM327.7 145.6h1.1v1.1h-1.1zM322.5 146.3h1.1v1.1h-1.1zM323.4 126.6h1.1v1.1h-1.1zM323.5 153.1h1.1v1.1h-1.1zM335.5 153.8h1.1v1.1h-1.1zM332.7 126.4h1.1v1.1h-1.1zM332.5 116.8h1.1v1.1h-1.1zM341.4 139.5h1.1v1.1h-1.1zM325.0 150.7h1.1v1.1h-1.1zM337.1 163.3h1.1v1.1h-1.1zM339.8 135.6h1.1v1.1h-1.1zM329.6 162.6h1.1v1.1h-1.1zM344.3 152.6h1.1v1.1h-1.1zM333.5 141.6h1.1v1.1h-1.1zM321.7 112.0h1.1v1.1h-1.1zM320.0 116.2h1.1v1.1h-1.1zM331.4 139.2h1.1v1.1h-1.1zM332.4 121.3h1.1v1.1h-1.1zM323.4 133.6h1.1v1.1h-1.1zM324.3 124.3h1.1v1.1h-1.1zM321.0 131.7h1.1v1.1h-1.1zM326.0 143.2h1.1v1.1h-1.1zM331.7 119.2h1.1v1.1h-1.1zM332.8 153.7h1.1v1.1h-1.1zM334.7 164.8h1.1v1.1h-1.1zM344.3 142.3h1.1v1.1h-1.1zM338.1 159.1h1.1v1.1h-1.1zM326.8 113.3h1.1v1.1h-1.1zM322.8 145.3h1.1v1.1h-1.1zM338.4 156.6h1.1v1.1h-1.1zM336.7 159.4h1.1v1.1h-1.1zM346.1 150.9h1.1v1.1h-1.1zM322.4 117.2h1.1v1.1h-1.1zM334.4 137.0h1.1v1.1h-1.1zM316.5 110.0h1.1v1.1h-1.1zM326.3 126.2h1.1v1.1h-1.1zM335.6 129.6h1.1v1.1h-1.1zM327.3 154.1h1.1v1.1h-1.1zM333.1 142.0h1.1v1.1h-1.1zM332.4 137.8h1.1v1.1h-1.1zM333.1 150.1h1.1v1.1h-1.1zM332.8 158.2h1.1v1.1h-1.1zM331.2 150.5h1.1v1.1h-1.1zM327.3 117.1h1.1v1.1h-1.1zM327.7 125.2h1.1v1.1h-1.1zM332.9 143.7h1.1v1.1h-1.1zM321.7 147.7h1.1v1.1h-1.1zM329.5 151.6h1.1v1.1h-1.1zM324.1 143.0h1.1v1.1h-1.1zM339.1 163.1h1.1v1.1h-1.1zM328.9 134.9h1.1v1.1h-1.1zM339.9 148.6h1.1v1.1h-1.1zM335.6 130.4h1.1v1.1h-1.1zM322.2 127.2h1.1v1.1h-1.1zM339.4 165.9h1.1v1.1h-1.1zM333.6 144.0h1.1v1.1h-1.1zM323.3 126.3h1.1v1.1h-1.1zM343.6 148.1h1.1v1.1h-1.1zM323.4 144.4h1.1v1.1h-1.1zM336.0 140.8h1.1v1.1h-1.1zM329.5 132.2h1.1v1.1h-1.1zM327.3 118.1h1.1v1.1h-1.1zM319.7 124.2h1.1v1.1h-1.1zM327.8 144.8h1.1v1.1h-1.1zM335.2 160.4h1.1v1.1h-1.1zM334.2 133.1h1.1v1.1h-1.1zM320.8 142.9h1.1v1.1h-1.1zM339.8 166.8h1.1v1.1h-1.1zM335.7 164.6h1.1v1.1h-1.1zM338.7 132.6h1.1v1.1h-1.1zM322.9 130.4h1.1v1.1h-1.1zM328.1 114.7h1.1v1.1h-1.1zM326.0 142.8h1.1v1.1h-1.1zM326.3 142.0h1.1v1.1h-1.1zM332.6 122.1h1.1v1.1h-1.1zM335.4 155.8h1.1v1.1h-1.1zM320.6 134.3h1.1v1.1h-1.1zM344.7 149.0h1.1v1.1h-1.1zM335.5 157.1h1.1v1.1h-1.1zM333.1 148.4h1.1v1.1h-1.1zM336.8 126.8h1.1v1.1h-1.1zM338.9 137.0h1.1v1.1h-1.1zM333.9 147.9h1.1v1.1h-1.1zM327.0 113.8h1.1v1.1h-1.1zM324.2 143.8h1.1v1.1h-1.1zM318.9 130.8h1.1v1.1h-1.1zM327.5 137.9h1.1v1.1h-1.1zM334.0 141.9h1.1v1.1h-1.1zM327.1 130.1h1.1v1.1h-1.1zM331.7 160.8h1.1v1.1h-1.1zM325.7 125.4h1.1v1.1h-1.1zM335.9 128.3h1.1v1.1h-1.1zM334.1 147.2h1.1v1.1h-1.1zM337.2 128.3h1.1v1.1h-1.1zM339.5 167.3h1.1v1.1h-1.1zM332.1 133.8h1.1v1.1h-1.1zM336.1 128.5h1.1v1.1h-1.1zM341.6 159.5h1.1v1.1h-1.1zM334.2 147.7h1.1v1.1h-1.1zM344.4 146.8h1.1v1.1h-1.1zM340.8 151.8h1.1v1.1h-1.1zM333.3 129.7h1.1v1.1h-1.1zM343.8 159.1h1.1v1.1h-1.1zM346.5 148.0h1.1v1.1h-1.1zM328.8 140.3h1.1v1.1h-1.1zM332.7 144.4h1.1v1.1h-1.1zM334.7 129.0h1.1v1.1h-1.1zM335.3 154.7h1.1v1.1h-1.1zM330.9 148.8h1.1v1.1h-1.1zM324.6 132.3h1.1v1.1h-1.1zM330.4 155.2h1.1v1.1h-1.1zM333.5 154.5h1.1v1.1h-1.1zM324.4 115.3h1.1v1.1h-1.1zM326.6 139.3h1.1v1.1h-1.1zM337.3 160.1h1.1v1.1h-1.1z" fill="#EF8CAC"/>
<path d="M326.1 128.5h1.0v1.0h-1.0zM329.9 121.1h1.0v1.0h-1.0zM320.8 112.9h1.0v1.0h-1.0zM326.7 117.1h1.0v1.0h-1.0zM337.5 159.8h1.0v1.0h-1.0zM325.9 157.9h1.0v1.0h-1.0zM329.2 133.8h1.0v1.0h-1.0zM334.9 134.9h1.0v1.0h-1.0zM342.5 159.2h1.0v1.0h-1.0zM335.3 144.5h1.0v1.0h-1.0zM334.2 139.5h1.0v1.0h-1.0zM326.2 125.5h1.0v1.0h-1.0zM334.7 162.5h1.0v1.0h-1.0zM339.7 146.5h1.0v1.0h-1.0zM327.4 124.1h1.0v1.0h-1.0zM346.4 151.8h1.0v1.0h-1.0zM320.6 120.2h1.0v1.0h-1.0zM323.9 144.8h1.0v1.0h-1.0zM333.1 158.9h1.0v1.0h-1.0zM335.8 119.8h1.0v1.0h-1.0zM338.2 148.8h1.0v1.0h-1.0zM331.4 129.3h1.0v1.0h-1.0zM324.6 151.9h1.0v1.0h-1.0zM341.9 137.9h1.0v1.0h-1.0zM326.0 146.8h1.0v1.0h-1.0zM338.8 133.8h1.0v1.0h-1.0zM331.2 143.1h1.0v1.0h-1.0zM321.7 147.0h1.0v1.0h-1.0zM334.9 141.7h1.0v1.0h-1.0zM332.4 152.1h1.0v1.0h-1.0zM326.9 145.4h1.0v1.0h-1.0zM327.2 128.9h1.0v1.0h-1.0zM329.5 127.8h1.0v1.0h-1.0zM337.5 135.5h1.0v1.0h-1.0zM328.3 138.2h1.0v1.0h-1.0zM321.1 139.0h1.0v1.0h-1.0zM327.5 125.6h1.0v1.0h-1.0zM340.5 144.5h1.0v1.0h-1.0zM320.4 141.3h1.0v1.0h-1.0zM322.9 137.1h1.0v1.0h-1.0zM323.4 124.1h1.0v1.0h-1.0zM330.1 139.7h1.0v1.0h-1.0zM335.5 166.6h1.0v1.0h-1.0zM318.9 140.9h1.0v1.0h-1.0zM343.2 140.8h1.0v1.0h-1.0zM331.2 157.6h1.0v1.0h-1.0zM331.3 119.5h1.0v1.0h-1.0zM334.2 165.9h1.0v1.0h-1.0zM329.6 131.4h1.0v1.0h-1.0zM334.3 135.8h1.0v1.0h-1.0zM323.7 139.6h1.0v1.0h-1.0zM332.5 146.3h1.0v1.0h-1.0zM339.9 159.3h1.0v1.0h-1.0zM319.2 137.2h1.0v1.0h-1.0zM324.6 141.0h1.0v1.0h-1.0zM340.6 162.8h1.0v1.0h-1.0zM327.2 140.1h1.0v1.0h-1.0zM342.9 166.5h1.0v1.0h-1.0zM333.6 142.2h1.0v1.0h-1.0zM341.3 155.9h1.0v1.0h-1.0z" fill="#EEC494"/>
<path d="M361.3 152.2h1.1v1.1h-1.1zM354.4 150.5h1.1v1.1h-1.1zM349.6 152.6h1.1v1.1h-1.1zM354.2 155.5h1.1v1.1h-1.1zM360.4 164.7h1.1v1.1h-1.1zM383.8 146.1h1.1v1.1h-1.1zM351.1 153.6h1.1v1.1h-1.1zM351.1 156.6h1.1v1.1h-1.1zM386.1 147.4h1.1v1.1h-1.1zM350.8 161.8h1.1v1.1h-1.1zM367.0 154.3h1.1v1.1h-1.1zM348.9 159.7h1.1v1.1h-1.1zM372.1 151.9h1.1v1.1h-1.1zM362.2 156.5h1.1v1.1h-1.1zM345.8 157.7h1.1v1.1h-1.1zM349.3 166.4h1.1v1.1h-1.1zM357.4 150.2h1.1v1.1h-1.1zM346.2 167.3h1.1v1.1h-1.1zM372.4 153.5h1.1v1.1h-1.1zM365.6 148.7h1.1v1.1h-1.1zM347.0 160.3h1.1v1.1h-1.1zM345.9 154.1h1.1v1.1h-1.1zM373.3 147.8h1.1v1.1h-1.1zM350.8 153.5h1.1v1.1h-1.1zM346.6 151.2h1.1v1.1h-1.1zM351.2 169.3h1.1v1.1h-1.1zM346.1 162.1h1.1v1.1h-1.1zM363.5 152.7h1.1v1.1h-1.1zM376.0 150.2h1.1v1.1h-1.1zM352.6 157.2h1.1v1.1h-1.1zM382.7 146.2h1.1v1.1h-1.1zM353.8 162.6h1.1v1.1h-1.1zM353.3 159.5h1.1v1.1h-1.1zM347.3 164.7h1.1v1.1h-1.1zM378.0 151.7h1.1v1.1h-1.1zM382.0 152.6h1.1v1.1h-1.1zM360.6 159.1h1.1v1.1h-1.1zM356.8 157.4h1.1v1.1h-1.1zM358.3 150.2h1.1v1.1h-1.1zM358.1 165.4h1.1v1.1h-1.1zM346.7 162.3h1.1v1.1h-1.1zM355.5 154.1h1.1v1.1h-1.1zM358.5 152.2h1.1v1.1h-1.1zM347.9 160.1h1.1v1.1h-1.1zM386.0 149.9h1.1v1.1h-1.1zM344.9 160.0h1.1v1.1h-1.1zM366.4 153.4h1.1v1.1h-1.1zM354.7 157.1h1.1v1.1h-1.1zM363.6 150.5h1.1v1.1h-1.1zM344.8 167.0h1.1v1.1h-1.1zM345.6 161.0h1.1v1.1h-1.1zM361.4 151.6h1.1v1.1h-1.1zM375.5 148.8h1.1v1.1h-1.1zM343.8 167.4h1.1v1.1h-1.1zM346.8 167.0h1.1v1.1h-1.1zM348.9 168.0h1.1v1.1h-1.1zM357.8 154.0h1.1v1.1h-1.1zM373.6 148.7h1.1v1.1h-1.1zM382.7 150.4h1.1v1.1h-1.1zM366.1 157.8h1.1v1.1h-1.1zM346.3 163.6h1.1v1.1h-1.1zM369.9 150.2h1.1v1.1h-1.1zM373.2 148.0h1.1v1.1h-1.1zM367.2 156.5h1.1v1.1h-1.1zM346.9 157.1h1.1v1.1h-1.1zM347.6 160.2h1.1v1.1h-1.1zM371.9 150.6h1.1v1.1h-1.1zM350.3 157.9h1.1v1.1h-1.1zM376.7 150.1h1.1v1.1h-1.1zM383.2 149.4h1.1v1.1h-1.1zM352.3 162.3h1.1v1.1h-1.1zM361.8 155.8h1.1v1.1h-1.1zM378.0 154.0h1.1v1.1h-1.1zM366.0 147.9h1.1v1.1h-1.1zM353.0 156.4h1.1v1.1h-1.1zM346.8 168.1h1.1v1.1h-1.1zM347.4 149.7h1.1v1.1h-1.1zM358.2 155.1h1.1v1.1h-1.1zM359.3 154.7h1.1v1.1h-1.1zM362.0 152.1h1.1v1.1h-1.1zM360.0 165.1h1.1v1.1h-1.1zM348.0 151.4h1.1v1.1h-1.1zM344.5 157.8h1.1v1.1h-1.1zM392.0 149.9h1.1v1.1h-1.1zM347.5 151.9h1.1v1.1h-1.1zM360.2 160.3h1.1v1.1h-1.1zM389.6 150.3h1.1v1.1h-1.1zM373.0 149.1h1.1v1.1h-1.1zM355.7 166.9h1.1v1.1h-1.1zM351.5 147.9h1.1v1.1h-1.1zM350.9 160.9h1.1v1.1h-1.1zM348.4 163.7h1.1v1.1h-1.1zM348.7 160.4h1.1v1.1h-1.1zM371.2 147.9h1.1v1.1h-1.1zM376.5 147.0h1.1v1.1h-1.1zM345.1 156.4h1.1v1.1h-1.1zM348.1 164.4h1.1v1.1h-1.1zM363.2 147.5h1.1v1.1h-1.1zM387.7 151.4h1.1v1.1h-1.1zM367.2 150.7h1.1v1.1h-1.1zM353.2 159.8h1.1v1.1h-1.1zM356.8 166.9h1.1v1.1h-1.1zM370.4 149.1h1.1v1.1h-1.1zM350.8 149.3h1.1v1.1h-1.1zM350.3 168.9h1.1v1.1h-1.1zM348.4 159.2h1.1v1.1h-1.1zM349.4 164.6h1.1v1.1h-1.1zM361.0 161.4h1.1v1.1h-1.1zM379.7 148.0h1.1v1.1h-1.1zM389.8 149.5h1.1v1.1h-1.1zM360.5 154.5h1.1v1.1h-1.1zM364.8 150.1h1.1v1.1h-1.1zM363.0 147.9h1.1v1.1h-1.1zM344.2 167.9h1.1v1.1h-1.1zM364.2 159.3h1.1v1.1h-1.1zM354.1 164.2h1.1v1.1h-1.1zM379.6 147.5h1.1v1.1h-1.1zM378.6 150.2h1.1v1.1h-1.1zM365.7 158.7h1.1v1.1h-1.1zM353.4 150.2h1.1v1.1h-1.1zM344.4 165.2h1.1v1.1h-1.1zM383.7 150.2h1.1v1.1h-1.1zM361.5 150.1h1.1v1.1h-1.1zM350.4 157.5h1.1v1.1h-1.1zM354.6 150.7h1.1v1.1h-1.1zM367.4 154.6h1.1v1.1h-1.1zM364.1 153.7h1.1v1.1h-1.1zM365.6 153.3h1.1v1.1h-1.1zM351.5 154.8h1.1v1.1h-1.1zM348.6 167.7h1.1v1.1h-1.1zM367.3 149.4h1.1v1.1h-1.1zM365.0 155.1h1.1v1.1h-1.1zM371.9 155.4h1.1v1.1h-1.1zM362.6 150.8h1.1v1.1h-1.1zM354.9 161.3h1.1v1.1h-1.1zM350.9 149.5h1.1v1.1h-1.1zM362.7 152.6h1.1v1.1h-1.1zM361.4 154.7h1.1v1.1h-1.1zM359.3 155.0h1.1v1.1h-1.1zM353.5 164.4h1.1v1.1h-1.1zM350.4 151.4h1.1v1.1h-1.1zM355.9 156.9h1.1v1.1h-1.1zM372.0 148.6h1.1v1.1h-1.1zM389.5 150.5h1.1v1.1h-1.1zM350.7 153.7h1.1v1.1h-1.1zM357.8 162.2h1.1v1.1h-1.1zM356.5 162.6h1.1v1.1h-1.1zM356.9 164.0h1.1v1.1h-1.1zM349.6 149.4h1.1v1.1h-1.1zM364.9 157.7h1.1v1.1h-1.1zM369.9 149.0h1.1v1.1h-1.1zM349.5 152.9h1.1v1.1h-1.1zM360.0 160.6h1.1v1.1h-1.1zM347.8 152.8h1.1v1.1h-1.1zM363.4 158.0h1.1v1.1h-1.1zM364.4 152.7h1.1v1.1h-1.1zM343.5 161.2h1.1v1.1h-1.1zM352.3 168.5h1.1v1.1h-1.1zM358.8 152.9h1.1v1.1h-1.1zM383.0 150.6h1.1v1.1h-1.1zM358.4 166.2h1.1v1.1h-1.1zM354.6 150.0h1.1v1.1h-1.1zM357.7 166.7h1.1v1.1h-1.1zM382.4 151.2h1.1v1.1h-1.1zM359.3 151.4h1.1v1.1h-1.1zM375.9 152.9h1.1v1.1h-1.1zM358.8 156.1h1.1v1.1h-1.1zM384.8 148.5h1.1v1.1h-1.1zM353.8 155.1h1.1v1.1h-1.1zM350.6 160.5h1.1v1.1h-1.1zM389.3 149.2h1.1v1.1h-1.1zM361.5 163.8h1.1v1.1h-1.1zM357.2 160.2h1.1v1.1h-1.1zM361.1 149.1h1.1v1.1h-1.1zM346.0 161.2h1.1v1.1h-1.1zM358.6 158.5h1.1v1.1h-1.1zM348.4 150.8h1.1v1.1h-1.1zM360.4 154.2h1.1v1.1h-1.1zM355.3 152.6h1.1v1.1h-1.1zM366.9 151.2h1.1v1.1h-1.1zM355.7 152.1h1.1v1.1h-1.1zM347.7 164.7h1.1v1.1h-1.1zM360.6 162.5h1.1v1.1h-1.1zM353.2 168.3h1.1v1.1h-1.1zM360.7 149.1h1.1v1.1h-1.1zM345.3 163.7h1.1v1.1h-1.1zM367.5 151.2h1.1v1.1h-1.1zM371.1 156.8h1.1v1.1h-1.1zM359.8 157.6h1.1v1.1h-1.1zM359.4 162.7h1.1v1.1h-1.1zM351.6 153.9h1.1v1.1h-1.1zM378.1 154.0h1.1v1.1h-1.1zM375.2 154.7h1.1v1.1h-1.1zM381.0 146.1h1.1v1.1h-1.1zM355.9 152.0h1.1v1.1h-1.1zM369.3 157.5h1.1v1.1h-1.1zM381.8 148.5h1.1v1.1h-1.1zM356.8 164.6h1.1v1.1h-1.1zM367.0 154.9h1.1v1.1h-1.1zM363.9 156.7h1.1v1.1h-1.1z" fill="#EF8CAC"/>
<path d="M342.1 141.3h1.1v1.1h-1.1zM342.4 139.8h1.1v1.1h-1.1zM377.0 124.9h1.1v1.1h-1.1zM378.5 122.9h1.1v1.1h-1.1zM342.8 141.4h1.1v1.1h-1.1zM367.8 118.4h1.1v1.1h-1.1zM382.0 133.7h1.1v1.1h-1.1zM362.0 149.3h1.1v1.1h-1.1zM336.3 118.3h1.1v1.1h-1.1zM359.5 117.0h1.1v1.1h-1.1zM339.2 120.6h1.1v1.1h-1.1zM366.5 117.2h1.1v1.1h-1.1zM375.7 119.5h1.1v1.1h-1.1zM363.8 147.5h1.1v1.1h-1.1zM371.6 121.4h1.1v1.1h-1.1zM357.8 114.1h1.1v1.1h-1.1zM361.2 119.2h1.1v1.1h-1.1zM381.7 124.4h1.1v1.1h-1.1zM376.0 119.1h1.1v1.1h-1.1zM378.5 147.3h1.1v1.1h-1.1zM345.9 113.9h1.1v1.1h-1.1zM378.9 145.5h1.1v1.1h-1.1zM364.4 148.4h1.1v1.1h-1.1zM382.0 123.7h1.1v1.1h-1.1zM378.3 146.2h1.1v1.1h-1.1zM385.5 136.1h1.1v1.1h-1.1zM338.0 127.7h1.1v1.1h-1.1zM346.8 118.0h1.1v1.1h-1.1zM340.3 136.3h1.1v1.1h-1.1zM371.6 120.1h1.1v1.1h-1.1zM375.7 119.4h1.1v1.1h-1.1zM377.8 121.5h1.1v1.1h-1.1zM339.0 121.4h1.1v1.1h-1.1zM336.8 118.3h1.1v1.1h-1.1zM357.1 117.5h1.1v1.1h-1.1zM345.7 116.5h1.1v1.1h-1.1zM359.9 119.8h1.1v1.1h-1.1zM380.5 139.1h1.1v1.1h-1.1zM353.8 148.2h1.1v1.1h-1.1zM349.5 114.0h1.1v1.1h-1.1zM386.1 143.9h1.1v1.1h-1.1zM385.2 135.7h1.1v1.1h-1.1zM355.7 116.4h1.1v1.1h-1.1zM349.9 116.2h1.1v1.1h-1.1zM376.7 149.3h1.1v1.1h-1.1zM384.7 138.7h1.1v1.1h-1.1zM377.0 147.2h1.1v1.1h-1.1zM354.2 114.7h1.1v1.1h-1.1zM371.0 117.9h1.1v1.1h-1.1zM340.8 118.2h1.1v1.1h-1.1zM370.5 117.8h1.1v1.1h-1.1zM359.7 117.1h1.1v1.1h-1.1zM369.7 117.6h1.1v1.1h-1.1zM355.1 117.5h1.1v1.1h-1.1zM367.4 148.9h1.1v1.1h-1.1zM369.7 118.9h1.1v1.1h-1.1zM379.3 143.1h1.1v1.1h-1.1zM380.4 138.7h1.1v1.1h-1.1zM339.6 136.7h1.1v1.1h-1.1zM351.0 115.8h1.1v1.1h-1.1zM341.9 141.4h1.1v1.1h-1.1zM356.0 116.0h1.1v1.1h-1.1zM386.4 143.0h1.1v1.1h-1.1zM344.6 119.0h1.1v1.1h-1.1zM350.9 113.1h1.1v1.1h-1.1zM382.3 146.5h1.1v1.1h-1.1zM347.9 145.5h1.1v1.1h-1.1zM379.8 126.0h1.1v1.1h-1.1zM336.2 122.2h1.1v1.1h-1.1zM351.9 116.3h1.1v1.1h-1.1zM358.4 117.4h1.1v1.1h-1.1zM337.8 131.9h1.1v1.1h-1.1zM338.3 115.2h1.1v1.1h-1.1zM352.2 118.9h1.1v1.1h-1.1zM379.0 123.7h1.1v1.1h-1.1zM375.8 148.2h1.1v1.1h-1.1zM378.1 120.3h1.1v1.1h-1.1zM383.1 129.2h1.1v1.1h-1.1zM342.7 113.8h1.1v1.1h-1.1zM380.6 146.2h1.1v1.1h-1.1zM385.8 143.4h1.1v1.1h-1.1zM357.9 115.8h1.1v1.1h-1.1zM362.8 149.4h1.1v1.1h-1.1zM346.8 145.0h1.1v1.1h-1.1zM383.4 142.6h1.1v1.1h-1.1zM339.4 137.0h1.1v1.1h-1.1zM356.3 116.0h1.1v1.1h-1.1zM335.8 117.3h1.1v1.1h-1.1zM369.0 149.0h1.1v1.1h-1.1zM347.5 144.8h1.1v1.1h-1.1zM336.6 120.2h1.1v1.1h-1.1zM377.7 147.0h1.1v1.1h-1.1zM374.0 123.0h1.1v1.1h-1.1zM355.1 115.0h1.1v1.1h-1.1zM355.7 116.1h1.1v1.1h-1.1zM368.4 121.0h1.1v1.1h-1.1zM342.8 140.6h1.1v1.1h-1.1zM369.4 119.0h1.1v1.1h-1.1zM370.0 118.8h1.1v1.1h-1.1zM383.7 137.7h1.1v1.1h-1.1zM358.7 147.1h1.1v1.1h-1.1zM341.0 138.0h1.1v1.1h-1.1zM338.4 119.2h1.1v1.1h-1.1zM358.8 114.1h1.1v1.1h-1.1zM373.2 120.1h1.1v1.1h-1.1zM365.8 120.0h1.1v1.1h-1.1zM382.2 139.3h1.1v1.1h-1.1zM384.4 139.2h1.1v1.1h-1.1zM385.6 142.0h1.1v1.1h-1.1zM352.3 116.9h1.1v1.1h-1.1zM382.6 126.5h1.1v1.1h-1.1zM372.1 149.4h1.1v1.1h-1.1zM373.3 147.6h1.1v1.1h-1.1zM349.0 115.8h1.1v1.1h-1.1zM376.3 147.6h1.1v1.1h-1.1zM365.0 117.8h1.1v1.1h-1.1zM381.0 137.3h1.1v1.1h-1.1zM342.3 114.4h1.1v1.1h-1.1zM380.5 138.2h1.1v1.1h-1.1zM372.4 119.2h1.1v1.1h-1.1zM336.0 119.3h1.1v1.1h-1.1zM370.2 117.2h1.1v1.1h-1.1zM339.4 121.3h1.1v1.1h-1.1zM363.6 148.3h1.1v1.1h-1.1zM340.9 117.7h1.1v1.1h-1.1zM369.1 147.4h1.1v1.1h-1.1zM344.5 114.3h1.1v1.1h-1.1zM381.5 138.9h1.1v1.1h-1.1zM381.6 127.7h1.1v1.1h-1.1zM383.9 137.8h1.1v1.1h-1.1z" fill="#fff"/>
<path d="M352.2 152.5h1.1v1.1h-1.1zM382.9 151.4h1.1v1.1h-1.1zM353.0 150.7h1.1v1.1h-1.1zM355.4 164.0h1.1v1.1h-1.1zM365.1 147.6h1.1v1.1h-1.1zM348.4 152.4h1.1v1.1h-1.1zM366.1 158.4h1.1v1.1h-1.1zM369.6 148.9h1.1v1.1h-1.1zM363.6 152.8h1.1v1.1h-1.1zM344.8 158.4h1.1v1.1h-1.1zM373.3 151.8h1.1v1.1h-1.1zM359.1 156.6h1.1v1.1h-1.1zM349.0 148.4h1.1v1.1h-1.1zM381.0 151.1h1.1v1.1h-1.1zM361.0 151.9h1.1v1.1h-1.1zM380.1 151.3h1.1v1.1h-1.1zM367.5 158.2h1.1v1.1h-1.1zM378.9 150.6h1.1v1.1h-1.1zM355.5 160.9h1.1v1.1h-1.1zM366.5 154.7h1.1v1.1h-1.1zM371.9 150.0h1.1v1.1h-1.1zM351.1 163.1h1.1v1.1h-1.1zM376.6 154.3h1.1v1.1h-1.1zM391.2 149.5h1.1v1.1h-1.1zM360.3 163.2h1.1v1.1h-1.1zM390.6 149.7h1.1v1.1h-1.1zM355.7 149.9h1.1v1.1h-1.1zM371.8 152.9h1.1v1.1h-1.1zM346.3 168.4h1.1v1.1h-1.1zM359.2 161.1h1.1v1.1h-1.1zM387.5 151.5h1.1v1.1h-1.1zM360.3 155.8h1.1v1.1h-1.1zM383.0 148.4h1.1v1.1h-1.1zM369.3 154.3h1.1v1.1h-1.1zM392.4 150.1h1.1v1.1h-1.1zM349.9 160.9h1.1v1.1h-1.1zM364.3 149.8h1.1v1.1h-1.1zM353.7 166.6h1.1v1.1h-1.1zM346.5 158.9h1.1v1.1h-1.1zM358.7 150.2h1.1v1.1h-1.1zM354.2 149.5h1.1v1.1h-1.1zM371.0 150.0h1.1v1.1h-1.1zM350.4 148.4h1.1v1.1h-1.1zM378.2 147.6h1.1v1.1h-1.1zM382.4 148.9h1.1v1.1h-1.1zM370.9 148.3h1.1v1.1h-1.1zM359.3 152.5h1.1v1.1h-1.1zM365.4 155.0h1.1v1.1h-1.1zM351.0 154.0h1.1v1.1h-1.1zM344.2 166.4h1.1v1.1h-1.1zM353.1 151.2h1.1v1.1h-1.1zM357.9 165.8h1.1v1.1h-1.1zM366.0 151.2h1.1v1.1h-1.1zM347.6 158.9h1.1v1.1h-1.1zM361.4 152.4h1.1v1.1h-1.1zM363.4 149.5h1.1v1.1h-1.1zM358.1 150.2h1.1v1.1h-1.1zM377.2 147.4h1.1v1.1h-1.1zM375.8 147.6h1.1v1.1h-1.1zM366.3 160.2h1.1v1.1h-1.1zM357.6 157.1h1.1v1.1h-1.1zM365.6 156.1h1.1v1.1h-1.1zM348.0 160.7h1.1v1.1h-1.1zM369.1 148.9h1.1v1.1h-1.1zM375.6 147.3h1.1v1.1h-1.1zM354.0 153.8h1.1v1.1h-1.1zM351.0 162.8h1.1v1.1h-1.1zM353.3 156.3h1.1v1.1h-1.1zM387.9 148.2h1.1v1.1h-1.1zM367.3 148.9h1.1v1.1h-1.1zM351.1 155.1h1.1v1.1h-1.1zM359.8 149.3h1.1v1.1h-1.1zM368.5 148.9h1.1v1.1h-1.1zM371.8 152.8h1.1v1.1h-1.1zM352.0 155.3h1.1v1.1h-1.1zM370.2 148.0h1.1v1.1h-1.1zM370.7 150.6h1.1v1.1h-1.1zM350.6 164.1h1.1v1.1h-1.1zM375.7 154.3h1.1v1.1h-1.1zM349.3 155.2h1.1v1.1h-1.1zM375.3 153.1h1.1v1.1h-1.1zM344.9 160.7h1.1v1.1h-1.1zM377.1 153.5h1.1v1.1h-1.1zM382.2 152.0h1.1v1.1h-1.1zM352.3 152.8h1.1v1.1h-1.1zM357.4 156.0h1.1v1.1h-1.1zM354.1 161.6h1.1v1.1h-1.1zM372.5 147.9h1.1v1.1h-1.1zM346.6 151.6h1.1v1.1h-1.1zM348.0 153.2h1.1v1.1h-1.1z" fill="#fff"/>
<path d="M336.4 147.4h1.1v1.1h-1.1zM335.9 147.3h1.1v1.1h-1.1zM331.3 128.3h1.1v1.1h-1.1zM329.7 138.3h1.1v1.1h-1.1zM319.8 131.2h1.1v1.1h-1.1zM337.2 160.5h1.1v1.1h-1.1zM334.9 145.4h1.1v1.1h-1.1zM324.6 114.3h1.1v1.1h-1.1zM329.7 160.3h1.1v1.1h-1.1zM334.1 150.4h1.1v1.1h-1.1zM319.3 130.7h1.1v1.1h-1.1zM337.4 124.2h1.1v1.1h-1.1zM321.8 125.1h1.1v1.1h-1.1zM327.9 160.5h1.1v1.1h-1.1zM321.0 143.6h1.1v1.1h-1.1zM327.6 159.9h1.1v1.1h-1.1zM332.0 160.3h1.1v1.1h-1.1zM326.7 140.7h1.1v1.1h-1.1zM320.1 137.9h1.1v1.1h-1.1zM341.6 165.0h1.1v1.1h-1.1zM335.4 130.4h1.1v1.1h-1.1zM340.8 164.0h1.1v1.1h-1.1zM337.7 163.1h1.1v1.1h-1.1zM327.7 145.8h1.1v1.1h-1.1zM342.1 167.0h1.1v1.1h-1.1zM334.8 161.4h1.1v1.1h-1.1zM328.6 126.7h1.1v1.1h-1.1zM320.0 126.7h1.1v1.1h-1.1zM317.4 109.6h1.1v1.1h-1.1zM336.2 122.2h1.1v1.1h-1.1zM328.3 115.8h1.1v1.1h-1.1zM315.9 108.1h1.1v1.1h-1.1zM337.0 135.1h1.1v1.1h-1.1zM320.2 122.2h1.1v1.1h-1.1zM331.2 128.9h1.1v1.1h-1.1zM346.4 149.4h1.1v1.1h-1.1zM322.9 149.7h1.1v1.1h-1.1zM330.3 133.2h1.1v1.1h-1.1zM320.2 138.4h1.1v1.1h-1.1zM322.4 149.3h1.1v1.1h-1.1zM320.6 148.8h1.1v1.1h-1.1zM340.4 153.3h1.1v1.1h-1.1zM325.5 115.1h1.1v1.1h-1.1zM318.5 113.4h1.1v1.1h-1.1zM340.5 157.1h1.1v1.1h-1.1zM325.5 120.4h1.1v1.1h-1.1zM334.7 118.2h1.1v1.1h-1.1zM337.1 162.7h1.1v1.1h-1.1zM337.1 126.1h1.1v1.1h-1.1zM321.1 123.6h1.1v1.1h-1.1zM329.4 115.2h1.1v1.1h-1.1zM326.4 137.0h1.1v1.1h-1.1zM333.2 127.6h1.1v1.1h-1.1zM327.7 145.0h1.1v1.1h-1.1zM341.9 165.6h1.1v1.1h-1.1zM325.7 138.1h1.1v1.1h-1.1zM328.1 134.6h1.1v1.1h-1.1zM324.1 118.4h1.1v1.1h-1.1zM324.7 117.3h1.1v1.1h-1.1zM321.0 149.8h1.1v1.1h-1.1zM332.9 121.9h1.1v1.1h-1.1zM335.9 132.6h1.1v1.1h-1.1zM333.2 130.2h1.1v1.1h-1.1zM329.5 149.8h1.1v1.1h-1.1zM326.7 152.8h1.1v1.1h-1.1zM319.3 139.0h1.1v1.1h-1.1zM331.1 156.6h1.1v1.1h-1.1zM332.0 155.9h1.1v1.1h-1.1zM337.3 148.1h1.1v1.1h-1.1zM333.9 132.5h1.1v1.1h-1.1zM326.5 130.7h1.1v1.1h-1.1zM333.8 138.4h1.1v1.1h-1.1zM341.0 156.1h1.1v1.1h-1.1zM319.5 135.4h1.1v1.1h-1.1zM338.1 133.8h1.1v1.1h-1.1zM320.5 144.4h1.1v1.1h-1.1zM324.7 114.1h1.1v1.1h-1.1zM344.9 146.4h1.1v1.1h-1.1zM330.5 142.0h1.1v1.1h-1.1zM321.3 133.0h1.1v1.1h-1.1zM325.2 143.8h1.1v1.1h-1.1zM334.7 160.5h1.1v1.1h-1.1zM325.4 138.9h1.1v1.1h-1.1zM326.2 117.9h1.1v1.1h-1.1zM344.3 147.8h1.1v1.1h-1.1zM324.1 146.8h1.1v1.1h-1.1zM322.0 150.2h1.1v1.1h-1.1zM334.8 130.2h1.1v1.1h-1.1zM337.0 163.5h1.1v1.1h-1.1zM340.5 138.9h1.1v1.1h-1.1z" fill="#fff"/>
<path d="M384.8 57.7h1.0v1.0h-1.0zM383.2 69.5h1.0v1.0h-1.0zM388.5 85.9h1.0v1.0h-1.0zM396.2 57.2h1.0v1.0h-1.0zM399.3 68.6h1.0v1.0h-1.0zM397.3 82.5h1.0v1.0h-1.0zM396.9 87.3h1.0v1.0h-1.0zM392.1 58.7h1.0v1.0h-1.0zM382.8 64.9h1.0v1.0h-1.0zM370.1 70.9h1.0v1.0h-1.0zM395.0 89.3h1.0v1.0h-1.0zM399.9 83.2h1.0v1.0h-1.0zM392.8 89.8h1.0v1.0h-1.0zM371.4 75.6h1.0v1.0h-1.0zM396.4 85.0h1.0v1.0h-1.0zM392.6 90.3h1.0v1.0h-1.0zM406.9 87.8h1.0v1.0h-1.0zM390.9 87.6h1.0v1.0h-1.0zM397.3 65.5h1.0v1.0h-1.0zM396.9 69.0h1.0v1.0h-1.0zM397.8 92.0h1.0v1.0h-1.0zM405.8 91.7h1.0v1.0h-1.0zM398.5 67.7h1.0v1.0h-1.0zM399.6 79.2h1.0v1.0h-1.0zM382.5 76.5h1.0v1.0h-1.0zM393.2 62.8h1.0v1.0h-1.0zM386.3 69.1h1.0v1.0h-1.0zM395.3 73.4h1.0v1.0h-1.0zM392.1 84.4h1.0v1.0h-1.0zM386.8 82.4h1.0v1.0h-1.0zM369.1 77.1h1.0v1.0h-1.0zM389.5 62.4h1.0v1.0h-1.0zM392.9 55.0h1.0v1.0h-1.0zM395.9 65.4h1.0v1.0h-1.0zM374.7 63.3h1.0v1.0h-1.0zM371.7 72.7h1.0v1.0h-1.0zM375.8 60.7h1.0v1.0h-1.0zM393.9 71.6h1.0v1.0h-1.0zM384.4 70.3h1.0v1.0h-1.0zM386.2 73.9h1.0v1.0h-1.0zM408.9 88.5h1.0v1.0h-1.0zM378.3 63.5h1.0v1.0h-1.0zM382.2 61.9h1.0v1.0h-1.0zM394.8 59.4h1.0v1.0h-1.0zM396.8 76.0h1.0v1.0h-1.0zM385.6 84.4h1.0v1.0h-1.0zM374.2 71.6h1.0v1.0h-1.0zM401.2 80.2h1.0v1.0h-1.0zM402.2 80.7h1.0v1.0h-1.0zM394.6 87.3h1.0v1.0h-1.0zM394.9 92.4h1.0v1.0h-1.0zM392.4 80.3h1.0v1.0h-1.0zM395.5 53.6h1.0v1.0h-1.0zM396.6 89.4h1.0v1.0h-1.0zM386.8 58.9h1.0v1.0h-1.0zM393.1 61.3h1.0v1.0h-1.0zM379.4 65.3h1.0v1.0h-1.0zM398.1 56.4h1.0v1.0h-1.0zM388.9 72.3h1.0v1.0h-1.0zM391.2 82.7h1.0v1.0h-1.0z" fill="#fff"/>
<path d="M397.5 86.0h1.0v1.0h-1.0zM391.7 50.8h1.0v1.0h-1.0zM392.0 83.9h1.0v1.0h-1.0zM399.6 91.6h1.0v1.0h-1.0zM379.2 82.9h1.0v1.0h-1.0zM378.2 66.3h1.0v1.0h-1.0zM379.8 69.5h1.0v1.0h-1.0zM382.6 85.2h1.0v1.0h-1.0zM393.7 74.2h1.0v1.0h-1.0zM391.9 57.1h1.0v1.0h-1.0zM391.8 71.9h1.0v1.0h-1.0zM397.8 55.3h1.0v1.0h-1.0zM391.7 77.4h1.0v1.0h-1.0zM377.7 73.2h1.0v1.0h-1.0zM399.8 90.1h1.0v1.0h-1.0zM365.5 77.7h1.0v1.0h-1.0zM379.4 78.0h1.0v1.0h-1.0zM392.3 75.6h1.0v1.0h-1.0zM396.9 85.3h1.0v1.0h-1.0zM404.9 88.6h1.0v1.0h-1.0zM394.4 90.1h1.0v1.0h-1.0zM378.3 81.3h1.0v1.0h-1.0zM398.4 82.7h1.0v1.0h-1.0zM401.0 72.1h1.0v1.0h-1.0zM376.4 62.1h1.0v1.0h-1.0zM372.7 65.1h1.0v1.0h-1.0zM390.2 67.9h1.0v1.0h-1.0zM384.2 59.7h1.0v1.0h-1.0zM374.1 68.2h1.0v1.0h-1.0zM402.8 89.3h1.0v1.0h-1.0zM401.7 74.8h1.0v1.0h-1.0zM396.0 82.4h1.0v1.0h-1.0zM386.7 76.6h1.0v1.0h-1.0zM404.0 77.8h1.0v1.0h-1.0zM398.8 74.9h1.0v1.0h-1.0zM379.2 82.9h1.0v1.0h-1.0zM392.4 52.6h1.0v1.0h-1.0zM384.2 52.2h1.0v1.0h-1.0zM406.0 81.4h1.0v1.0h-1.0zM385.1 64.3h1.0v1.0h-1.0zM396.5 56.0h1.0v1.0h-1.0zM407.9 84.8h1.0v1.0h-1.0zM399.0 92.1h1.0v1.0h-1.0zM392.6 90.1h1.0v1.0h-1.0zM400.0 62.7h1.0v1.0h-1.0zM386.4 88.1h1.0v1.0h-1.0zM383.1 63.7h1.0v1.0h-1.0zM402.2 70.0h1.0v1.0h-1.0zM383.3 73.9h1.0v1.0h-1.0zM371.7 78.0h1.0v1.0h-1.0zM376.6 73.0h1.0v1.0h-1.0zM381.7 78.5h1.0v1.0h-1.0zM389.9 64.6h1.0v1.0h-1.0zM378.0 60.8h1.0v1.0h-1.0zM400.2 79.1h1.0v1.0h-1.0zM381.2 80.7h1.0v1.0h-1.0zM390.1 69.6h1.0v1.0h-1.0zM396.3 90.0h1.0v1.0h-1.0zM390.0 72.5h1.0v1.0h-1.0zM374.9 77.4h1.0v1.0h-1.0z" fill="#EBC391"/>
<path d="M319.4 145.7h0.9v0.9h-0.9zM356.5 75.8h0.9v0.9h-0.9zM326.1 84.2h0.9v0.9h-0.9zM307.2 100.1h0.9v0.9h-0.9zM342.9 170.6h0.9v0.9h-0.9zM333.5 81.3h0.9v0.9h-0.9zM318.2 145.0h0.9v0.9h-0.9zM343.4 80.3h0.9v0.9h-0.9zM323.4 85.3h0.9v0.9h-0.9zM356.8 74.6h0.9v0.9h-0.9zM319.7 150.7h0.9v0.9h-0.9zM320.1 146.6h0.9v0.9h-0.9zM318.1 112.4h0.9v0.9h-0.9zM356.7 75.4h0.9v0.9h-0.9zM317.2 122.8h0.9v0.9h-0.9zM318.9 143.3h0.9v0.9h-0.9zM316.2 113.0h0.9v0.9h-0.9zM317.9 112.5h0.9v0.9h-0.9zM325.7 84.2h0.9v0.9h-0.9zM329.4 83.8h0.9v0.9h-0.9zM348.5 77.2h0.9v0.9h-0.9zM315.7 112.6h0.9v0.9h-0.9zM308.8 102.1h0.9v0.9h-0.9zM340.3 80.5h0.9v0.9h-0.9zM336.0 169.2h0.9v0.9h-0.9zM308.0 94.3h0.9v0.9h-0.9zM335.8 169.0h0.9v0.9h-0.9zM348.0 79.4h0.9v0.9h-0.9zM355.8 76.6h0.9v0.9h-0.9zM347.2 78.2h0.9v0.9h-0.9zM347.9 78.3h0.9v0.9h-0.9zM356.9 76.3h0.9v0.9h-0.9zM359.4 75.2h0.9v0.9h-0.9zM325.9 85.0h0.9v0.9h-0.9zM306.9 99.1h0.9v0.9h-0.9zM360.7 73.9h0.9v0.9h-0.9zM312.7 89.1h0.9v0.9h-0.9zM315.5 109.6h0.9v0.9h-0.9zM318.8 141.0h0.9v0.9h-0.9zM321.0 154.7h0.9v0.9h-0.9zM307.7 99.6h0.9v0.9h-0.9zM317.0 122.6h0.9v0.9h-0.9zM326.2 84.5h0.9v0.9h-0.9zM317.7 87.6h0.9v0.9h-0.9zM318.4 127.1h0.9v0.9h-0.9zM317.5 139.9h0.9v0.9h-0.9zM318.0 126.4h0.9v0.9h-0.9zM317.7 133.9h0.9v0.9h-0.9zM317.1 132.5h0.9v0.9h-0.9zM324.7 158.8h0.9v0.9h-0.9zM320.8 151.1h0.9v0.9h-0.9zM338.8 79.9h0.9v0.9h-0.9zM319.0 151.9h0.9v0.9h-0.9zM311.5 105.5h0.9v0.9h-0.9zM322.1 155.2h0.9v0.9h-0.9zM351.2 77.7h0.9v0.9h-0.9zM322.5 155.6h0.9v0.9h-0.9zM345.6 78.5h0.9v0.9h-0.9zM320.7 154.1h0.9v0.9h-0.9zM310.7 90.8h0.9v0.9h-0.9zM318.5 122.4h0.9v0.9h-0.9zM317.0 122.8h0.9v0.9h-0.9zM313.2 109.2h0.9v0.9h-0.9zM342.4 80.4h0.9v0.9h-0.9zM316.9 116.7h0.9v0.9h-0.9zM320.2 149.0h0.9v0.9h-0.9zM318.2 117.4h0.9v0.9h-0.9zM318.7 138.8h0.9v0.9h-0.9zM308.9 102.8h0.9v0.9h-0.9zM309.7 102.4h0.9v0.9h-0.9zM343.7 79.3h0.9v0.9h-0.9zM324.0 85.2h0.9v0.9h-0.9zM321.4 156.2h0.9v0.9h-0.9zM343.0 79.8h0.9v0.9h-0.9zM312.7 108.3h0.9v0.9h-0.9zM312.8 107.5h0.9v0.9h-0.9zM330.0 83.4h0.9v0.9h-0.9zM317.5 126.5h0.9v0.9h-0.9zM317.1 122.4h0.9v0.9h-0.9zM321.9 157.0h0.9v0.9h-0.9zM353.0 75.7h0.9v0.9h-0.9zM308.3 92.7h0.9v0.9h-0.9zM332.2 167.6h0.9v0.9h-0.9zM328.1 163.7h0.9v0.9h-0.9zM309.5 93.3h0.9v0.9h-0.9zM320.3 150.2h0.9v0.9h-0.9zM308.8 101.3h0.9v0.9h-0.9zM318.2 117.6h0.9v0.9h-0.9zM317.6 134.8h0.9v0.9h-0.9zM317.8 138.3h0.9v0.9h-0.9zM315.3 111.3h0.9v0.9h-0.9zM312.2 90.7h0.9v0.9h-0.9zM316.6 87.2h0.9v0.9h-0.9zM336.6 168.4h0.9v0.9h-0.9zM308.3 103.0h0.9v0.9h-0.9zM316.1 111.8h0.9v0.9h-0.9zM314.2 89.5h0.9v0.9h-0.9zM306.4 98.2h0.9v0.9h-0.9zM325.6 161.8h0.9v0.9h-0.9zM334.9 81.6h0.9v0.9h-0.9zM316.8 111.4h0.9v0.9h-0.9zM341.1 169.7h0.9v0.9h-0.9zM308.3 92.7h0.9v0.9h-0.9zM307.6 95.9h0.9v0.9h-0.9zM307.8 97.9h0.9v0.9h-0.9zM317.9 132.0h0.9v0.9h-0.9zM339.9 170.3h0.9v0.9h-0.9zM332.7 167.0h0.9v0.9h-0.9zM324.5 159.3h0.9v0.9h-0.9zM356.3 74.7h0.9v0.9h-0.9zM359.9 74.7h0.9v0.9h-0.9zM318.8 132.4h0.9v0.9h-0.9zM317.7 119.8h0.9v0.9h-0.9zM330.5 83.1h0.9v0.9h-0.9zM312.2 107.6h0.9v0.9h-0.9zM350.0 77.9h0.9v0.9h-0.9zM342.9 169.5h0.9v0.9h-0.9zM355.0 75.2h0.9v0.9h-0.9zM333.4 81.5h0.9v0.9h-0.9zM328.7 162.7h0.9v0.9h-0.9zM315.9 109.7h0.9v0.9h-0.9zM316.6 117.3h0.9v0.9h-0.9zM317.9 140.3h0.9v0.9h-0.9zM309.8 102.5h0.9v0.9h-0.9zM323.4 84.2h0.9v0.9h-0.9zM307.1 99.3h0.9v0.9h-0.9zM357.4 75.3h0.9v0.9h-0.9zM308.7 102.0h0.9v0.9h-0.9zM309.5 92.9h0.9v0.9h-0.9zM327.6 161.7h0.9v0.9h-0.9zM328.9 83.3h0.9v0.9h-0.9zM307.7 95.9h0.9v0.9h-0.9zM317.8 122.5h0.9v0.9h-0.9zM324.4 157.1h0.9v0.9h-0.9zM326.8 161.2h0.9v0.9h-0.9zM310.9 91.9h0.9v0.9h-0.9zM321.4 85.1h0.9v0.9h-0.9zM321.3 155.4h0.9v0.9h-0.9zM321.5 152.9h0.9v0.9h-0.9zM320.4 86.3h0.9v0.9h-0.9zM333.2 166.7h0.9v0.9h-0.9zM322.0 153.9h0.9v0.9h-0.9zM333.0 82.5h0.9v0.9h-0.9z" fill="#EBC391"/>
<path d="M426.5 105.9h0.9v0.9h-0.9zM398.7 150.8h0.9v0.9h-0.9zM423.4 103.2h0.9v0.9h-0.9zM411.8 87.7h0.9v0.9h-0.9zM433.1 131.1h0.9v0.9h-0.9zM411.0 145.8h0.9v0.9h-0.9zM405.5 148.0h0.9v0.9h-0.9zM427.6 106.5h0.9v0.9h-0.9zM431.0 134.8h0.9v0.9h-0.9zM432.2 123.3h0.9v0.9h-0.9zM423.1 100.7h0.9v0.9h-0.9zM432.0 119.5h0.9v0.9h-0.9zM428.8 138.0h0.9v0.9h-0.9zM417.2 95.2h0.9v0.9h-0.9zM422.3 143.2h0.9v0.9h-0.9zM400.8 148.4h0.9v0.9h-0.9zM430.7 114.4h0.9v0.9h-0.9zM418.6 95.9h0.9v0.9h-0.9zM411.8 147.0h0.9v0.9h-0.9zM424.0 101.1h0.9v0.9h-0.9zM430.9 115.9h0.9v0.9h-0.9zM433.5 118.8h0.9v0.9h-0.9zM418.0 93.9h0.9v0.9h-0.9zM433.2 129.2h0.9v0.9h-0.9zM427.4 138.1h0.9v0.9h-0.9zM429.5 114.3h0.9v0.9h-0.9zM426.3 104.0h0.9v0.9h-0.9zM429.6 112.1h0.9v0.9h-0.9zM415.6 93.5h0.9v0.9h-0.9zM400.3 149.2h0.9v0.9h-0.9zM431.1 115.0h0.9v0.9h-0.9zM418.0 144.5h0.9v0.9h-0.9zM433.2 129.0h0.9v0.9h-0.9zM432.4 115.9h0.9v0.9h-0.9zM431.4 130.9h0.9v0.9h-0.9zM398.9 150.0h0.9v0.9h-0.9zM410.9 86.5h0.9v0.9h-0.9zM424.3 103.5h0.9v0.9h-0.9zM421.2 142.7h0.9v0.9h-0.9zM432.7 121.6h0.9v0.9h-0.9zM432.7 128.8h0.9v0.9h-0.9zM418.6 143.0h0.9v0.9h-0.9zM433.8 120.0h0.9v0.9h-0.9zM405.6 147.3h0.9v0.9h-0.9zM400.5 148.5h0.9v0.9h-0.9zM416.4 94.0h0.9v0.9h-0.9zM401.1 149.7h0.9v0.9h-0.9zM413.8 89.6h0.9v0.9h-0.9zM432.6 120.7h0.9v0.9h-0.9zM423.0 101.5h0.9v0.9h-0.9zM395.0 150.7h0.9v0.9h-0.9zM413.3 145.5h0.9v0.9h-0.9zM429.7 112.9h0.9v0.9h-0.9zM420.3 143.5h0.9v0.9h-0.9zM418.5 143.5h0.9v0.9h-0.9zM416.7 92.4h0.9v0.9h-0.9zM396.9 149.4h0.9v0.9h-0.9zM426.4 106.2h0.9v0.9h-0.9zM434.5 127.5h0.9v0.9h-0.9zM421.4 97.3h0.9v0.9h-0.9zM433.3 123.6h0.9v0.9h-0.9zM427.8 139.8h0.9v0.9h-0.9zM417.7 93.7h0.9v0.9h-0.9zM419.6 96.5h0.9v0.9h-0.9zM429.9 113.0h0.9v0.9h-0.9zM430.1 135.3h0.9v0.9h-0.9zM414.1 90.6h0.9v0.9h-0.9zM412.6 88.0h0.9v0.9h-0.9zM417.1 95.4h0.9v0.9h-0.9zM430.4 134.4h0.9v0.9h-0.9zM423.5 102.8h0.9v0.9h-0.9zM432.4 119.2h0.9v0.9h-0.9zM402.0 149.0h0.9v0.9h-0.9zM419.2 95.3h0.9v0.9h-0.9zM394.0 150.4h0.9v0.9h-0.9zM421.9 141.5h0.9v0.9h-0.9zM429.4 137.1h0.9v0.9h-0.9zM432.0 118.4h0.9v0.9h-0.9zM430.2 113.9h0.9v0.9h-0.9zM415.9 91.7h0.9v0.9h-0.9zM428.4 109.6h0.9v0.9h-0.9zM423.3 142.0h0.9v0.9h-0.9zM414.2 91.3h0.9v0.9h-0.9zM417.8 143.1h0.9v0.9h-0.9zM403.1 149.6h0.9v0.9h-0.9zM417.4 92.9h0.9v0.9h-0.9zM428.6 108.9h0.9v0.9h-0.9zM422.9 142.4h0.9v0.9h-0.9zM430.7 112.4h0.9v0.9h-0.9zM411.3 88.0h0.9v0.9h-0.9zM424.7 141.0h0.9v0.9h-0.9z" fill="#EE88A8"/>
<path d="M368.7 160.8h0.9v0.9h-0.9zM382.2 153.4h0.9v0.9h-0.9zM392.3 150.5h0.9v0.9h-0.9zM368.2 160.0h0.9v0.9h-0.9zM363.0 163.9h0.9v0.9h-0.9zM356.2 169.6h0.9v0.9h-0.9zM367.5 160.7h0.9v0.9h-0.9zM390.8 151.6h0.9v0.9h-0.9zM359.2 168.4h0.9v0.9h-0.9zM357.1 168.3h0.9v0.9h-0.9zM386.3 152.5h0.9v0.9h-0.9zM367.6 160.9h0.9v0.9h-0.9zM373.7 156.6h0.9v0.9h-0.9zM352.9 169.9h0.9v0.9h-0.9zM351.3 171.6h0.9v0.9h-0.9zM361.2 166.1h0.9v0.9h-0.9zM351.5 171.6h0.9v0.9h-0.9zM370.0 159.1h0.9v0.9h-0.9zM361.2 164.8h0.9v0.9h-0.9zM344.6 170.6h0.9v0.9h-0.9zM379.2 154.6h0.9v0.9h-0.9zM355.7 168.8h0.9v0.9h-0.9zM369.9 159.1h0.9v0.9h-0.9zM380.0 155.4h0.9v0.9h-0.9zM362.9 163.6h0.9v0.9h-0.9zM354.3 169.9h0.9v0.9h-0.9zM348.9 171.7h0.9v0.9h-0.9zM347.1 169.9h0.9v0.9h-0.9zM376.8 155.1h0.9v0.9h-0.9zM390.5 152.2h0.9v0.9h-0.9zM362.9 163.5h0.9v0.9h-0.9zM371.1 157.4h0.9v0.9h-0.9zM362.5 164.1h0.9v0.9h-0.9zM370.4 158.4h0.9v0.9h-0.9zM356.4 168.9h0.9v0.9h-0.9zM369.0 159.8h0.9v0.9h-0.9zM381.9 153.0h0.9v0.9h-0.9zM369.5 160.4h0.9v0.9h-0.9zM359.5 167.4h0.9v0.9h-0.9zM372.1 157.6h0.9v0.9h-0.9zM376.0 154.6h0.9v0.9h-0.9z" fill="#EDB0A3"/>
<path d="M382.0 50.0h0.9v0.9h-0.9zM383.1 50.3h0.9v0.9h-0.9zM399.8 55.7h0.9v0.9h-0.9zM405.0 74.1h0.9v0.9h-0.9zM398.4 52.1h0.9v0.9h-0.9zM383.8 49.2h0.9v0.9h-0.9zM401.3 60.0h0.9v0.9h-0.9zM404.6 71.5h0.9v0.9h-0.9zM371.8 64.1h0.9v0.9h-0.9zM405.2 67.6h0.9v0.9h-0.9zM403.8 67.0h0.9v0.9h-0.9zM402.0 59.1h0.9v0.9h-0.9zM366.3 70.4h0.9v0.9h-0.9zM368.3 68.7h0.9v0.9h-0.9zM407.3 81.3h0.9v0.9h-0.9zM392.6 50.5h0.9v0.9h-0.9zM369.6 67.2h0.9v0.9h-0.9zM363.7 72.6h0.9v0.9h-0.9zM374.8 60.4h0.9v0.9h-0.9zM376.2 56.6h0.9v0.9h-0.9zM368.8 68.2h0.9v0.9h-0.9zM377.1 57.9h0.9v0.9h-0.9zM374.5 61.7h0.9v0.9h-0.9zM373.9 59.8h0.9v0.9h-0.9zM401.4 58.1h0.9v0.9h-0.9zM382.1 50.4h0.9v0.9h-0.9zM368.1 67.8h0.9v0.9h-0.9zM373.8 61.4h0.9v0.9h-0.9zM384.2 50.2h0.9v0.9h-0.9zM391.5 49.3h0.9v0.9h-0.9zM367.5 67.9h0.9v0.9h-0.9zM390.0 48.1h0.9v0.9h-0.9zM394.3 49.2h0.9v0.9h-0.9zM387.4 49.5h0.9v0.9h-0.9zM396.7 51.9h0.9v0.9h-0.9zM380.2 52.4h0.9v0.9h-0.9zM405.0 69.0h0.9v0.9h-0.9zM377.0 57.8h0.9v0.9h-0.9zM403.3 67.1h0.9v0.9h-0.9zM404.1 71.7h0.9v0.9h-0.9zM404.1 67.0h0.9v0.9h-0.9zM408.0 80.9h0.9v0.9h-0.9zM389.5 48.0h0.9v0.9h-0.9zM372.1 64.2h0.9v0.9h-0.9zM403.8 68.1h0.9v0.9h-0.9zM372.0 64.4h0.9v0.9h-0.9zM372.9 62.8h0.9v0.9h-0.9zM391.4 49.9h0.9v0.9h-0.9zM397.2 52.6h0.9v0.9h-0.9zM363.7 71.5h0.9v0.9h-0.9zM367.2 69.8h0.9v0.9h-0.9zM376.1 58.2h0.9v0.9h-0.9zM388.6 47.9h0.9v0.9h-0.9zM388.3 47.5h0.9v0.9h-0.9zM375.2 60.7h0.9v0.9h-0.9zM363.5 72.3h0.9v0.9h-0.9zM406.1 76.6h0.9v0.9h-0.9zM398.7 52.2h0.9v0.9h-0.9zM371.5 63.6h0.9v0.9h-0.9zM405.9 80.0h0.9v0.9h-0.9zM365.3 69.9h0.9v0.9h-0.9zM363.9 72.6h0.9v0.9h-0.9zM372.5 62.6h0.9v0.9h-0.9zM379.6 54.6h0.9v0.9h-0.9zM367.8 68.4h0.9v0.9h-0.9zM406.4 81.3h0.9v0.9h-0.9zM397.6 52.9h0.9v0.9h-0.9zM371.5 63.1h0.9v0.9h-0.9zM390.5 48.2h0.9v0.9h-0.9zM368.4 68.5h0.9v0.9h-0.9zM407.1 79.1h0.9v0.9h-0.9zM403.8 71.7h0.9v0.9h-0.9zM402.9 65.7h0.9v0.9h-0.9zM399.7 58.2h0.9v0.9h-0.9zM407.7 83.7h0.9v0.9h-0.9z" fill="#EE8DAB"/>
<path d="M380.7 152.8h0.9v0.9h-0.9zM320.0 116.8h0.9v0.9h-0.9zM411.2 89.6h0.9v0.9h-0.9zM352.5 79.3h0.9v0.9h-0.9zM359.3 163.8h0.9v0.9h-0.9zM414.4 93.9h0.9v0.9h-0.9zM318.6 119.0h0.9v0.9h-0.9zM359.0 164.7h0.9v0.9h-0.9zM432.2 125.8h0.9v0.9h-0.9zM324.3 153.5h0.9v0.9h-0.9zM359.3 77.1h0.9v0.9h-0.9zM416.5 97.2h0.9v0.9h-0.9zM370.2 157.3h0.9v0.9h-0.9zM397.1 148.6h0.9v0.9h-0.9zM320.3 126.1h0.9v0.9h-0.9zM430.1 120.3h0.9v0.9h-0.9zM396.6 149.0h0.9v0.9h-0.9zM424.5 105.8h0.9v0.9h-0.9zM414.8 93.5h0.9v0.9h-0.9zM313.4 106.0h0.9v0.9h-0.9zM411.6 143.3h0.9v0.9h-0.9zM375.1 154.1h0.9v0.9h-0.9zM415.7 143.7h0.9v0.9h-0.9zM331.8 162.2h0.9v0.9h-0.9zM330.6 162.5h0.9v0.9h-0.9zM320.2 140.2h0.9v0.9h-0.9zM405.4 145.9h0.9v0.9h-0.9zM409.5 88.0h0.9v0.9h-0.9zM430.1 133.7h0.9v0.9h-0.9zM420.4 141.5h0.9v0.9h-0.9zM425.7 108.8h0.9v0.9h-0.9zM430.4 131.0h0.9v0.9h-0.9zM350.8 168.7h0.9v0.9h-0.9zM320.3 133.6h0.9v0.9h-0.9zM395.2 148.2h0.9v0.9h-0.9zM354.4 78.2h0.9v0.9h-0.9zM382.8 53.7h0.9v0.9h-0.9zM339.0 82.3h0.9v0.9h-0.9zM359.1 76.7h0.9v0.9h-0.9zM409.7 144.2h0.9v0.9h-0.9zM325.1 85.7h0.9v0.9h-0.9zM391.0 149.6h0.9v0.9h-0.9zM418.2 98.6h0.9v0.9h-0.9zM421.2 140.4h0.9v0.9h-0.9zM369.5 156.0h0.9v0.9h-0.9zM393.1 51.1h0.9v0.9h-0.9zM344.9 82.3h0.9v0.9h-0.9zM320.1 136.3h0.9v0.9h-0.9zM421.5 140.8h0.9v0.9h-0.9zM312.0 104.2h0.9v0.9h-0.9zM381.9 54.0h0.9v0.9h-0.9zM339.4 166.8h0.9v0.9h-0.9zM358.9 76.7h0.9v0.9h-0.9zM330.1 162.3h0.9v0.9h-0.9zM346.8 81.7h0.9v0.9h-0.9zM319.7 116.6h0.9v0.9h-0.9zM399.8 62.5h0.9v0.9h-0.9zM418.7 97.5h0.9v0.9h-0.9zM383.4 151.6h0.9v0.9h-0.9zM413.7 93.2h0.9v0.9h-0.9zM340.3 83.1h0.9v0.9h-0.9zM321.0 146.8h0.9v0.9h-0.9zM372.5 65.0h0.9v0.9h-0.9zM386.3 151.1h0.9v0.9h-0.9zM410.3 144.8h0.9v0.9h-0.9zM387.1 151.2h0.9v0.9h-0.9zM379.1 56.3h0.9v0.9h-0.9zM354.8 167.8h0.9v0.9h-0.9zM431.8 121.3h0.9v0.9h-0.9zM386.5 51.1h0.9v0.9h-0.9zM426.6 110.7h0.9v0.9h-0.9zM388.2 51.5h0.9v0.9h-0.9zM323.1 86.5h0.9v0.9h-0.9zM427.0 136.5h0.9v0.9h-0.9zM321.8 87.7h0.9v0.9h-0.9zM325.7 85.8h0.9v0.9h-0.9zM352.2 168.7h0.9v0.9h-0.9zM409.6 144.4h0.9v0.9h-0.9zM427.5 111.9h0.9v0.9h-0.9zM425.6 137.7h0.9v0.9h-0.9zM354.4 78.9h0.9v0.9h-0.9zM422.7 104.5h0.9v0.9h-0.9zM352.1 78.3h0.9v0.9h-0.9zM403.4 77.0h0.9v0.9h-0.9zM379.0 57.8h0.9v0.9h-0.9zM360.7 164.9h0.9v0.9h-0.9zM395.5 148.1h0.9v0.9h-0.9zM368.6 70.0h0.9v0.9h-0.9zM327.9 159.2h0.9v0.9h-0.9zM380.8 152.2h0.9v0.9h-0.9zM351.4 169.1h0.9v0.9h-0.9zM400.0 62.7h0.9v0.9h-0.9zM393.8 149.7h0.9v0.9h-0.9zM330.7 84.5h0.9v0.9h-0.9zM318.5 114.1h0.9v0.9h-0.9zM386.4 151.6h0.9v0.9h-0.9zM320.8 146.1h0.9v0.9h-0.9zM402.0 70.4h0.9v0.9h-0.9zM362.0 163.2h0.9v0.9h-0.9zM334.1 83.9h0.9v0.9h-0.9zM429.7 134.2h0.9v0.9h-0.9zM386.4 51.3h0.9v0.9h-0.9zM402.3 73.9h0.9v0.9h-0.9zM333.1 83.8h0.9v0.9h-0.9zM322.6 154.1h0.9v0.9h-0.9zM372.6 155.2h0.9v0.9h-0.9zM323.1 152.6h0.9v0.9h-0.9zM382.0 53.4h0.9v0.9h-0.9zM400.4 63.1h0.9v0.9h-0.9zM386.9 150.4h0.9v0.9h-0.9zM387.2 50.1h0.9v0.9h-0.9zM327.1 159.7h0.9v0.9h-0.9zM355.1 167.8h0.9v0.9h-0.9zM327.3 85.2h0.9v0.9h-0.9zM400.0 60.5h0.9v0.9h-0.9zM427.3 111.7h0.9v0.9h-0.9zM337.7 82.9h0.9v0.9h-0.9zM373.4 155.0h0.9v0.9h-0.9zM323.0 153.0h0.9v0.9h-0.9zM398.8 59.4h0.9v0.9h-0.9zM403.0 67.8h0.9v0.9h-0.9zM384.7 151.4h0.9v0.9h-0.9zM431.1 126.9h0.9v0.9h-0.9zM372.2 155.1h0.9v0.9h-0.9zM318.5 113.5h0.9v0.9h-0.9zM407.9 145.2h0.9v0.9h-0.9zM414.5 143.5h0.9v0.9h-0.9zM386.9 150.9h0.9v0.9h-0.9zM367.0 71.2h0.9v0.9h-0.9zM391.5 149.0h0.9v0.9h-0.9zM312.1 103.8h0.9v0.9h-0.9zM349.9 79.2h0.9v0.9h-0.9zM321.1 151.5h0.9v0.9h-0.9zM422.0 139.5h0.9v0.9h-0.9zM377.5 152.6h0.9v0.9h-0.9zM381.6 53.3h0.9v0.9h-0.9zM337.2 165.6h0.9v0.9h-0.9zM391.9 52.1h0.9v0.9h-0.9zM388.1 151.3h0.9v0.9h-0.9zM349.4 79.5h0.9v0.9h-0.9zM430.5 131.9h0.9v0.9h-0.9zM429.2 132.7h0.9v0.9h-0.9zM319.4 131.3h0.9v0.9h-0.9zM423.6 106.2h0.9v0.9h-0.9zM373.0 154.7h0.9v0.9h-0.9zM374.8 63.6h0.9v0.9h-0.9zM336.4 82.8h0.9v0.9h-0.9zM333.5 84.9h0.9v0.9h-0.9zM405.7 82.4h0.9v0.9h-0.9zM403.6 146.0h0.9v0.9h-0.9zM331.3 162.2h0.9v0.9h-0.9zM350.6 79.1h0.9v0.9h-0.9zM320.7 149.5h0.9v0.9h-0.9zM355.5 77.2h0.9v0.9h-0.9zM325.8 86.8h0.9v0.9h-0.9zM325.6 158.4h0.9v0.9h-0.9zM401.5 67.3h0.9v0.9h-0.9zM351.6 78.9h0.9v0.9h-0.9zM427.5 137.0h0.9v0.9h-0.9zM319.5 119.5h0.9v0.9h-0.9zM318.9 130.3h0.9v0.9h-0.9zM395.3 52.9h0.9v0.9h-0.9zM309.0 94.3h0.9v0.9h-0.9zM414.3 143.5h0.9v0.9h-0.9zM409.7 89.1h0.9v0.9h-0.9zM378.2 152.4h0.9v0.9h-0.9zM312.8 91.8h0.9v0.9h-0.9zM429.2 117.0h0.9v0.9h-0.9zM309.0 96.7h0.9v0.9h-0.9zM318.9 125.9h0.9v0.9h-0.9zM310.2 100.0h0.9v0.9h-0.9zM392.8 149.6h0.9v0.9h-0.9zM402.2 65.7h0.9v0.9h-0.9zM311.3 94.2h0.9v0.9h-0.9zM335.3 165.7h0.9v0.9h-0.9zM430.7 125.0h0.9v0.9h-0.9zM330.2 85.0h0.9v0.9h-0.9zM345.8 81.0h0.9v0.9h-0.9zM406.3 145.3h0.9v0.9h-0.9zM417.8 141.8h0.9v0.9h-0.9zM357.3 165.6h0.9v0.9h-0.9zM373.0 154.0h0.9v0.9h-0.9zM333.7 83.4h0.9v0.9h-0.9zM401.5 67.9h0.9v0.9h-0.9zM362.9 162.2h0.9v0.9h-0.9zM338.3 83.8h0.9v0.9h-0.9zM318.8 134.0h0.9v0.9h-0.9zM407.2 84.1h0.9v0.9h-0.9zM319.1 116.3h0.9v0.9h-0.9zM431.1 125.4h0.9v0.9h-0.9zM430.3 116.3h0.9v0.9h-0.9zM391.9 149.5h0.9v0.9h-0.9zM407.8 86.2h0.9v0.9h-0.9zM430.6 120.5h0.9v0.9h-0.9zM373.2 63.9h0.9v0.9h-0.9zM411.0 89.8h0.9v0.9h-0.9zM402.3 72.6h0.9v0.9h-0.9zM378.3 153.7h0.9v0.9h-0.9zM352.9 78.4h0.9v0.9h-0.9zM329.1 160.9h0.9v0.9h-0.9zM383.8 152.2h0.9v0.9h-0.9zM324.9 155.1h0.9v0.9h-0.9zM421.9 101.8h0.9v0.9h-0.9zM320.1 135.3h0.9v0.9h-0.9zM394.1 51.9h0.9v0.9h-0.9zM319.7 132.0h0.9v0.9h-0.9zM406.5 84.1h0.9v0.9h-0.9zM401.2 66.5h0.9v0.9h-0.9zM390.2 51.4h0.9v0.9h-0.9zM429.5 134.5h0.9v0.9h-0.9zM426.8 136.4h0.9v0.9h-0.9zM351.1 79.2h0.9v0.9h-0.9zM310.0 101.3h0.9v0.9h-0.9zM315.0 91.5h0.9v0.9h-0.9zM401.7 69.1h0.9v0.9h-0.9zM384.0 51.0h0.9v0.9h-0.9zM396.9 53.9h0.9v0.9h-0.9zM406.7 83.2h0.9v0.9h-0.9zM383.3 151.4h0.9v0.9h-0.9zM316.5 90.5h0.9v0.9h-0.9zM319.6 131.4h0.9v0.9h-0.9zM319.4 137.1h0.9v0.9h-0.9zM308.9 99.8h0.9v0.9h-0.9zM319.9 122.7h0.9v0.9h-0.9zM312.9 103.6h0.9v0.9h-0.9zM378.0 60.1h0.9v0.9h-0.9zM401.7 64.4h0.9v0.9h-0.9zM320.1 88.9h0.9v0.9h-0.9zM315.9 109.1h0.9v0.9h-0.9zM319.7 116.9h0.9v0.9h-0.9zM319.8 88.5h0.9v0.9h-0.9zM318.6 88.8h0.9v0.9h-0.9zM396.0 53.3h0.9v0.9h-0.9zM391.1 150.3h0.9v0.9h-0.9zM426.1 111.2h0.9v0.9h-0.9zM335.3 165.1h0.9v0.9h-0.9zM431.8 126.1h0.9v0.9h-0.9zM331.9 84.9h0.9v0.9h-0.9zM393.6 51.4h0.9v0.9h-0.9zM390.2 149.2h0.9v0.9h-0.9zM374.6 64.2h0.9v0.9h-0.9zM426.3 109.6h0.9v0.9h-0.9zM428.4 115.0h0.9v0.9h-0.9zM347.0 169.3h0.9v0.9h-0.9zM319.8 134.9h0.9v0.9h-0.9zM355.7 166.5h0.9v0.9h-0.9zM324.6 86.4h0.9v0.9h-0.9zM416.6 97.5h0.9v0.9h-0.9zM323.0 151.6h0.9v0.9h-0.9zM386.5 51.0h0.9v0.9h-0.9z" fill="#fff"/>
<path d="M295.9 149.96V183.2H329.14" fill="none" stroke="#444" stroke-width="0.9"/>
<path d="M293.59999999999997 150.79999999999998L295.9 146.6L298.2 150.79999999999998Z" fill="#444"/>
<path d="M328.3 180.89999999999998L332.5 183.2L328.3 185.5Z" fill="#444"/>
<text x="0" y="0" font-size="6.1" fill="#aaa" transform="translate(291 180.7) rotate(-90)" textLength="24.9" lengthAdjust="spacingAndGlyphs">UMAP_2</text>
<text x="298.00" y="192.10" font-size="6.1" fill="#aaa" text-anchor="start" font-weight="normal" textLength="23.2" lengthAdjust="spacingAndGlyphs" >UMAP_1</text>
<circle cx="281.8" cy="46.3" r="5.3" fill="#EC82A5"/>
<circle cx="281.8" cy="58.9" r="5.3" fill="#ECC492"/>
<text x="289.70" y="49.60" font-size="9.3" fill="#2a2a2a" text-anchor="start" font-weight="normal" textLength="56.5" lengthAdjust="spacingAndGlyphs" >sFGR_Larger</text>
<text x="289.70" y="62.20" font-size="9.3" fill="#2a2a2a" text-anchor="start" font-weight="normal" textLength="60.4" lengthAdjust="spacingAndGlyphs" >sFGR_Smaller</text>
<text x="1.30" y="26.60" font-size="21.3" fill="#111" text-anchor="start" font-weight="normal" >A</text>
<text x="251.80" y="26.70" font-size="21.3" fill="#111" text-anchor="start" font-weight="normal" >B</text>
<text x="441.90" y="26.30" font-size="21.3" fill="#111" text-anchor="start" font-weight="normal" >C</text>
<path d="M482.6 41.5 L483.6 38.1 L486.9 35.6 L493.9 32.1 L502.5 29.9 L511.1 27.7 L517.2 25.5 L523.2 23.3 L528.4 18.8 L532.1 13.9 L535.8 8.9 L538.8 5.5 L543.1 4.2 L548.3 6.4 L551.4 12.7 L553.5 18.8 L554.3 25.9 L556.9 31.3 L561.3 36.5 L567.4 43.6 L570.8 49.3 L574.3 56.3 L575.1 62.5 L573.4 68.7 L569.1 73.1 L563.0 75.8 L554.3 78.5 L545.7 80.6 L537.1 82.9 L531.0 84.7 L524.7 89.7 L519.8 93.5 L513.7 95.7 L507.6 95.3 L501.6 92.6 L496.5 88.2 L492.5 82.0 L490.8 73.1 L490.8 62.5 L490.4 51.9 L486.9 47.4 L484.7 44.9 L482.8 42.7Z" fill="#F8EEE9" filter="url(#b06)"/>
<clipPath id="clipTP63"><path d="M482.6 41.5 L483.6 38.1 L486.9 35.6 L493.9 32.1 L502.5 29.9 L511.1 27.7 L517.2 25.5 L523.2 23.3 L528.4 18.8 L532.1 13.9 L535.8 8.9 L538.8 5.5 L543.1 4.2 L548.3 6.4 L551.4 12.7 L553.5 18.8 L554.3 25.9 L556.9 31.3 L561.3 36.5 L567.4 43.6 L570.8 49.3 L574.3 56.3 L575.1 62.5 L573.4 68.7 L569.1 73.1 L563.0 75.8 L554.3 78.5 L545.7 80.6 L537.1 82.9 L531.0 84.7 L524.7 89.7 L519.8 93.5 L513.7 95.7 L507.6 95.3 L501.6 92.6 L496.5 88.2 L492.5 82.0 L490.8 73.1 L490.8 62.5 L490.4 51.9 L486.9 47.4 L484.7 44.9 L482.8 42.7Z"/></clipPath>
<g clip-path="url(#clipTP63)">
<path d="M531.4 31.3 L537.3 22.2 L546.2 17.7 L553.6 20.7 L556.5 28.3 L561.7 36.6 L570.6 48.0 L575.8 61.6 L572.9 70.7 L564.0 76.8 L549.1 81.3 L538.8 78.3 L534.3 66.2 L530.6 49.5Z" fill="#F0BCA3" filter="url(#b5)"/>
<path d="M541.7 32.8 L554.3 29.8 L561.7 37.4 L569.1 44.9 L573.6 55.6 L575.1 64.7 L569.9 73.0 L559.5 77.5 L547.7 80.6 L538.8 75.3 L536.5 64.7 L537.3 51.8 L538.8 40.4Z" fill="#E88A62" filter="url(#b5)"/>
<path d="M558.0 41.9 L566.9 48.0 L572.9 57.1 L574.3 66.2 L569.9 73.0 L562.5 75.3 L556.5 69.2 L555.1 54.0Z" fill="#DA6238" filter="url(#b3)"/>
</g>
<path d="M504.7 60.1 L509.1 54.8 L516.5 53.3 L525.4 55.6 L532.8 60.1 L538.8 66.2 L539.5 73.0 L535.1 77.5 L526.9 76.8 L518.8 73.0 L511.3 68.4 L506.2 63.9Z" fill="#fff" filter="url(#b15)"/>
<path d="M508.5 93.6h0.7v0.7h-0.7zM504.3 32.4h0.7v0.7h-0.7zM517.4 29.6h0.7v0.7h-0.7zM509.9 34.7h0.7v0.7h-0.7zM569.5 70.7h0.7v0.7h-0.7zM548.8 78.1h0.7v0.7h-0.7zM499.5 49.0h0.7v0.7h-0.7zM506.1 87.8h0.7v0.7h-0.7zM526.0 23.1h0.7v0.7h-0.7zM512.7 81.3h0.7v0.7h-0.7zM494.2 77.8h0.7v0.7h-0.7zM538.2 77.5h0.7v0.7h-0.7zM547.3 33.9h0.7v0.7h-0.7zM540.2 54.7h0.7v0.7h-0.7zM542.3 62.3h0.7v0.7h-0.7zM508.6 47.3h0.7v0.7h-0.7zM557.2 42.6h0.7v0.7h-0.7zM555.2 54.2h0.7v0.7h-0.7zM560.6 39.0h0.7v0.7h-0.7zM521.3 83.3h0.7v0.7h-0.7zM493.8 65.0h0.7v0.7h-0.7zM571.9 66.4h0.7v0.7h-0.7zM539.1 51.7h0.7v0.7h-0.7zM537.1 77.2h0.7v0.7h-0.7zM517.3 39.3h0.7v0.7h-0.7zM492.8 56.1h0.7v0.7h-0.7zM535.4 24.9h0.7v0.7h-0.7zM552.4 26.8h0.7v0.7h-0.7zM514.5 91.3h0.7v0.7h-0.7zM496.2 44.5h0.7v0.7h-0.7zM532.1 83.6h0.7v0.7h-0.7zM534.8 38.4h0.7v0.7h-0.7zM547.2 10.0h0.7v0.7h-0.7zM562.0 38.3h0.7v0.7h-0.7zM550.0 74.2h0.7v0.7h-0.7zM543.8 32.2h0.7v0.7h-0.7zM485.8 37.4h0.7v0.7h-0.7zM545.2 7.5h0.7v0.7h-0.7zM543.9 74.6h0.7v0.7h-0.7zM493.9 49.5h0.7v0.7h-0.7zM543.1 15.7h0.7v0.7h-0.7zM515.9 75.1h0.7v0.7h-0.7zM556.2 48.5h0.7v0.7h-0.7zM495.2 51.8h0.7v0.7h-0.7zM500.3 52.1h0.7v0.7h-0.7zM508.0 93.4h0.7v0.7h-0.7zM534.7 41.9h0.7v0.7h-0.7zM549.9 17.8h0.7v0.7h-0.7zM503.9 85.8h0.7v0.7h-0.7zM512.5 73.0h0.7v0.7h-0.7zM563.4 63.3h0.7v0.7h-0.7zM559.9 51.9h0.7v0.7h-0.7zM548.0 40.7h0.7v0.7h-0.7zM543.2 58.9h0.7v0.7h-0.7zM549.4 18.2h0.7v0.7h-0.7zM506.4 40.3h0.7v0.7h-0.7zM509.0 52.7h0.7v0.7h-0.7zM494.2 40.9h0.7v0.7h-0.7zM507.3 94.0h0.7v0.7h-0.7zM530.4 28.7h0.7v0.7h-0.7zM554.2 59.7h0.7v0.7h-0.7zM488.7 45.7h0.7v0.7h-0.7zM507.5 66.3h0.7v0.7h-0.7zM550.5 59.1h0.7v0.7h-0.7zM548.0 48.5h0.7v0.7h-0.7zM571.8 63.0h0.7v0.7h-0.7zM524.6 51.3h0.7v0.7h-0.7zM564.0 58.3h0.7v0.7h-0.7zM546.0 76.8h0.7v0.7h-0.7zM504.9 46.7h0.7v0.7h-0.7zM555.9 56.0h0.7v0.7h-0.7zM526.6 49.5h0.7v0.7h-0.7zM490.5 46.2h0.7v0.7h-0.7zM548.6 17.5h0.7v0.7h-0.7zM511.6 46.9h0.7v0.7h-0.7zM555.6 68.9h0.7v0.7h-0.7zM540.6 6.4h0.7v0.7h-0.7zM511.6 38.5h0.7v0.7h-0.7zM536.9 61.9h0.7v0.7h-0.7zM486.2 44.6h0.7v0.7h-0.7zM551.4 34.3h0.7v0.7h-0.7zM531.7 45.7h0.7v0.7h-0.7zM500.6 78.9h0.7v0.7h-0.7zM543.9 77.5h0.7v0.7h-0.7zM559.3 68.5h0.7v0.7h-0.7zM541.8 81.1h0.7v0.7h-0.7zM533.6 57.4h0.7v0.7h-0.7zM568.1 49.8h0.7v0.7h-0.7zM531.5 44.1h0.7v0.7h-0.7zM502.7 47.4h0.7v0.7h-0.7zM524.3 48.6h0.7v0.7h-0.7zM533.7 53.2h0.7v0.7h-0.7zM522.0 34.4h0.7v0.7h-0.7zM515.0 39.9h0.7v0.7h-0.7zM522.0 41.3h0.7v0.7h-0.7zM488.5 40.4h0.7v0.7h-0.7zM550.2 30.8h0.7v0.7h-0.7zM568.0 48.1h0.7v0.7h-0.7zM533.9 61.1h0.7v0.7h-0.7zM571.3 69.0h0.7v0.7h-0.7zM532.8 24.1h0.7v0.7h-0.7zM536.4 38.8h0.7v0.7h-0.7zM514.1 85.8h0.7v0.7h-0.7zM519.8 76.5h0.7v0.7h-0.7zM500.6 81.4h0.7v0.7h-0.7zM503.9 62.8h0.7v0.7h-0.7zM556.5 56.9h0.7v0.7h-0.7zM539.8 42.1h0.7v0.7h-0.7zM567.4 69.4h0.7v0.7h-0.7zM548.7 59.0h0.7v0.7h-0.7zM542.1 63.0h0.7v0.7h-0.7zM542.2 57.1h0.7v0.7h-0.7zM496.1 68.8h0.7v0.7h-0.7zM540.5 55.1h0.7v0.7h-0.7zM551.8 73.9h0.7v0.7h-0.7zM526.9 46.3h0.7v0.7h-0.7zM508.0 48.7h0.7v0.7h-0.7zM555.5 73.8h0.7v0.7h-0.7zM505.4 90.7h0.7v0.7h-0.7zM561.4 74.9h0.7v0.7h-0.7zM549.0 52.2h0.7v0.7h-0.7zM509.7 53.3h0.7v0.7h-0.7zM572.6 63.6h0.7v0.7h-0.7zM544.6 61.8h0.7v0.7h-0.7zM522.0 50.5h0.7v0.7h-0.7zM534.3 29.7h0.7v0.7h-0.7zM504.0 41.8h0.7v0.7h-0.7zM488.3 44.0h0.7v0.7h-0.7zM549.3 10.7h0.7v0.7h-0.7zM572.5 53.4h0.7v0.7h-0.7zM502.5 39.7h0.7v0.7h-0.7zM564.1 74.1h0.7v0.7h-0.7zM557.3 72.5h0.7v0.7h-0.7zM492.2 78.6h0.7v0.7h-0.7zM540.7 16.1h0.7v0.7h-0.7zM492.0 39.7h0.7v0.7h-0.7zM513.5 88.7h0.7v0.7h-0.7zM500.9 48.4h0.7v0.7h-0.7zM558.8 57.2h0.7v0.7h-0.7zM497.4 44.0h0.7v0.7h-0.7zM506.0 32.3h0.7v0.7h-0.7zM523.6 53.9h0.7v0.7h-0.7zM549.7 54.1h0.7v0.7h-0.7zM562.5 75.4h0.7v0.7h-0.7zM557.9 44.2h0.7v0.7h-0.7zM524.0 85.7h0.7v0.7h-0.7zM550.7 36.5h0.7v0.7h-0.7zM494.2 59.1h0.7v0.7h-0.7zM492.9 59.1h0.7v0.7h-0.7zM536.0 13.4h0.7v0.7h-0.7zM550.5 60.3h0.7v0.7h-0.7zM502.0 82.6h0.7v0.7h-0.7zM540.9 77.1h0.7v0.7h-0.7zM510.6 73.6h0.7v0.7h-0.7zM522.5 84.7h0.7v0.7h-0.7zM498.9 30.9h0.7v0.7h-0.7zM527.9 39.1h0.7v0.7h-0.7zM517.6 29.2h0.7v0.7h-0.7zM552.9 73.4h0.7v0.7h-0.7zM555.0 38.9h0.7v0.7h-0.7zM491.1 68.3h0.7v0.7h-0.7zM496.1 39.1h0.7v0.7h-0.7zM496.5 76.6h0.7v0.7h-0.7zM539.4 16.0h0.7v0.7h-0.7zM506.5 73.6h0.7v0.7h-0.7zM543.2 45.0h0.7v0.7h-0.7zM519.3 92.6h0.7v0.7h-0.7zM516.9 36.9h0.7v0.7h-0.7zM526.9 86.8h0.7v0.7h-0.7zM519.2 53.1h0.7v0.7h-0.7zM548.3 74.6h0.7v0.7h-0.7zM503.2 90.0h0.7v0.7h-0.7zM555.9 43.3h0.7v0.7h-0.7zM501.9 39.5h0.7v0.7h-0.7zM541.1 17.4h0.7v0.7h-0.7zM548.4 11.0h0.7v0.7h-0.7zM543.1 78.3h0.7v0.7h-0.7zM523.8 85.7h0.7v0.7h-0.7zM520.4 74.2h0.7v0.7h-0.7zM515.9 80.7h0.7v0.7h-0.7zM530.0 25.4h0.7v0.7h-0.7zM548.8 29.6h0.7v0.7h-0.7zM534.4 13.1h0.7v0.7h-0.7zM545.8 22.7h0.7v0.7h-0.7zM539.7 24.7h0.7v0.7h-0.7zM500.2 67.0h0.7v0.7h-0.7zM552.8 37.2h0.7v0.7h-0.7zM489.0 44.6h0.7v0.7h-0.7zM549.9 55.9h0.7v0.7h-0.7zM504.3 40.1h0.7v0.7h-0.7zM532.0 53.9h0.7v0.7h-0.7zM546.3 36.5h0.7v0.7h-0.7zM498.2 57.1h0.7v0.7h-0.7zM554.4 71.7h0.7v0.7h-0.7zM523.2 34.2h0.7v0.7h-0.7zM525.4 76.4h0.7v0.7h-0.7zM495.5 35.6h0.7v0.7h-0.7zM520.9 40.0h0.7v0.7h-0.7zM492.8 43.5h0.7v0.7h-0.7zM499.3 65.1h0.7v0.7h-0.7zM540.6 18.4h0.7v0.7h-0.7zM529.2 26.9h0.7v0.7h-0.7zM566.8 46.5h0.7v0.7h-0.7zM490.9 44.9h0.7v0.7h-0.7zM555.1 67.8h0.7v0.7h-0.7zM515.8 93.3h0.7v0.7h-0.7zM523.0 25.3h0.7v0.7h-0.7zM529.5 28.3h0.7v0.7h-0.7zM549.0 62.4h0.7v0.7h-0.7zM510.0 71.1h0.7v0.7h-0.7zM535.7 81.0h0.7v0.7h-0.7zM516.7 83.6h0.7v0.7h-0.7zM499.0 42.4h0.7v0.7h-0.7zM511.1 32.4h0.7v0.7h-0.7zM529.6 36.0h0.7v0.7h-0.7zM501.6 48.5h0.7v0.7h-0.7zM565.8 66.7h0.7v0.7h-0.7zM545.8 53.5h0.7v0.7h-0.7zM521.8 77.1h0.7v0.7h-0.7zM533.9 60.4h0.7v0.7h-0.7zM517.9 86.2h0.7v0.7h-0.7zM550.5 66.0h0.7v0.7h-0.7zM505.9 82.9h0.7v0.7h-0.7zM492.6 51.2h0.7v0.7h-0.7zM543.5 28.0h0.7v0.7h-0.7zM533.2 24.0h0.7v0.7h-0.7zM569.8 47.8h0.7v0.7h-0.7zM526.5 38.9h0.7v0.7h-0.7zM520.9 29.5h0.7v0.7h-0.7zM540.3 58.0h0.7v0.7h-0.7zM544.1 73.9h0.7v0.7h-0.7zM543.7 66.0h0.7v0.7h-0.7zM506.4 36.2h0.7v0.7h-0.7zM565.3 50.9h0.7v0.7h-0.7zM513.9 81.6h0.7v0.7h-0.7zM491.2 74.2h0.7v0.7h-0.7zM504.7 40.8h0.7v0.7h-0.7zM560.4 37.0h0.7v0.7h-0.7zM558.5 55.4h0.7v0.7h-0.7zM514.7 49.0h0.7v0.7h-0.7zM535.1 51.5h0.7v0.7h-0.7zM573.0 63.0h0.7v0.7h-0.7zM545.9 47.0h0.7v0.7h-0.7zM498.8 56.0h0.7v0.7h-0.7zM498.2 75.3h0.7v0.7h-0.7zM514.5 41.2h0.7v0.7h-0.7zM547.0 71.1h0.7v0.7h-0.7zM567.9 51.4h0.7v0.7h-0.7zM543.8 24.5h0.7v0.7h-0.7zM502.3 56.6h0.7v0.7h-0.7zM543.3 53.2h0.7v0.7h-0.7zM502.7 39.6h0.7v0.7h-0.7zM553.8 53.1h0.7v0.7h-0.7zM544.3 59.3h0.7v0.7h-0.7zM512.4 35.2h0.7v0.7h-0.7zM515.8 36.8h0.7v0.7h-0.7zM545.3 60.8h0.7v0.7h-0.7zM534.8 46.8h0.7v0.7h-0.7zM515.5 30.6h0.7v0.7h-0.7zM522.7 82.5h0.7v0.7h-0.7zM549.7 53.0h0.7v0.7h-0.7zM540.1 48.9h0.7v0.7h-0.7zM515.2 74.4h0.7v0.7h-0.7zM529.3 22.4h0.7v0.7h-0.7zM538.2 82.2h0.7v0.7h-0.7zM524.4 32.7h0.7v0.7h-0.7zM549.8 57.1h0.7v0.7h-0.7zM544.3 61.9h0.7v0.7h-0.7zM502.5 31.8h0.7v0.7h-0.7zM556.8 66.7h0.7v0.7h-0.7zM536.3 21.9h0.7v0.7h-0.7zM552.0 43.6h0.7v0.7h-0.7zM514.3 89.2h0.7v0.7h-0.7zM490.1 34.8h0.7v0.7h-0.7zM557.1 59.0h0.7v0.7h-0.7zM517.4 47.5h0.7v0.7h-0.7zM513.3 81.0h0.7v0.7h-0.7zM571.4 63.9h0.7v0.7h-0.7zM500.3 77.8h0.7v0.7h-0.7zM540.0 62.6h0.7v0.7h-0.7zM542.0 17.7h0.7v0.7h-0.7zM520.0 51.2h0.7v0.7h-0.7zM533.6 78.4h0.7v0.7h-0.7zM504.6 55.2h0.7v0.7h-0.7zM542.1 8.2h0.7v0.7h-0.7zM509.9 39.0h0.7v0.7h-0.7zM512.6 34.1h0.7v0.7h-0.7zM559.2 65.0h0.7v0.7h-0.7zM534.4 19.6h0.7v0.7h-0.7zM514.8 53.6h0.7v0.7h-0.7zM510.7 88.6h0.7v0.7h-0.7zM509.1 54.7h0.7v0.7h-0.7zM504.6 71.8h0.7v0.7h-0.7zM534.8 35.7h0.7v0.7h-0.7zM536.3 78.9h0.7v0.7h-0.7zM515.9 50.3h0.7v0.7h-0.7zM521.3 31.4h0.7v0.7h-0.7zM559.5 37.6h0.7v0.7h-0.7zM499.3 78.4h0.7v0.7h-0.7zM498.9 33.7h0.7v0.7h-0.7zM530.2 35.6h0.7v0.7h-0.7zM508.4 33.7h0.7v0.7h-0.7zM508.5 66.1h0.7v0.7h-0.7zM492.2 49.1h0.7v0.7h-0.7zM492.6 75.6h0.7v0.7h-0.7zM501.8 59.5h0.7v0.7h-0.7zM541.4 63.4h0.7v0.7h-0.7zM511.4 51.5h0.7v0.7h-0.7zM527.5 40.1h0.7v0.7h-0.7zM561.2 66.6h0.7v0.7h-0.7zM504.5 56.3h0.7v0.7h-0.7zM519.9 44.7h0.7v0.7h-0.7zM536.0 17.9h0.7v0.7h-0.7zM499.5 61.1h0.7v0.7h-0.7zM527.0 36.3h0.7v0.7h-0.7zM525.1 40.3h0.7v0.7h-0.7zM502.1 44.7h0.7v0.7h-0.7zM548.0 29.9h0.7v0.7h-0.7zM526.4 83.4h0.7v0.7h-0.7zM568.2 67.9h0.7v0.7h-0.7zM523.1 49.2h0.7v0.7h-0.7zM501.9 79.7h0.7v0.7h-0.7zM497.4 55.7h0.7v0.7h-0.7zM513.7 32.5h0.7v0.7h-0.7zM505.6 80.9h0.7v0.7h-0.7zM554.1 41.2h0.7v0.7h-0.7zM549.0 41.3h0.7v0.7h-0.7zM492.2 45.0h0.7v0.7h-0.7zM514.1 70.4h0.7v0.7h-0.7zM540.2 62.5h0.7v0.7h-0.7zM530.2 53.2h0.7v0.7h-0.7zM528.9 38.8h0.7v0.7h-0.7zM527.3 80.6h0.7v0.7h-0.7zM549.8 62.7h0.7v0.7h-0.7zM550.2 61.0h0.7v0.7h-0.7zM498.7 71.2h0.7v0.7h-0.7zM531.5 43.9h0.7v0.7h-0.7zM531.1 84.3h0.7v0.7h-0.7zM563.1 58.3h0.7v0.7h-0.7zM504.3 65.4h0.7v0.7h-0.7zM508.7 85.1h0.7v0.7h-0.7zM548.3 38.7h0.7v0.7h-0.7zM544.8 48.0h0.7v0.7h-0.7zM496.1 48.2h0.7v0.7h-0.7zM509.7 94.9h0.7v0.7h-0.7zM561.6 43.3h0.7v0.7h-0.7zM509.9 78.3h0.7v0.7h-0.7zM548.1 18.4h0.7v0.7h-0.7zM553.5 59.0h0.7v0.7h-0.7zM559.4 45.4h0.7v0.7h-0.7zM503.4 81.2h0.7v0.7h-0.7zM540.8 18.2h0.7v0.7h-0.7zM517.7 31.7h0.7v0.7h-0.7zM555.1 38.3h0.7v0.7h-0.7zM491.0 45.6h0.7v0.7h-0.7zM550.2 24.6h0.7v0.7h-0.7zM509.7 30.4h0.7v0.7h-0.7zM553.9 41.5h0.7v0.7h-0.7zM516.4 77.6h0.7v0.7h-0.7zM499.7 78.7h0.7v0.7h-0.7zM517.6 79.1h0.7v0.7h-0.7zM504.3 69.0h0.7v0.7h-0.7zM500.7 77.0h0.7v0.7h-0.7zM558.1 61.5h0.7v0.7h-0.7zM563.9 64.0h0.7v0.7h-0.7zM554.9 34.6h0.7v0.7h-0.7zM546.3 12.9h0.7v0.7h-0.7zM499.7 91.0h0.7v0.7h-0.7zM525.4 36.8h0.7v0.7h-0.7zM536.9 59.2h0.7v0.7h-0.7zM541.7 20.4h0.7v0.7h-0.7zM546.8 75.9h0.7v0.7h-0.7zM513.4 81.9h0.7v0.7h-0.7zM507.3 31.8h0.7v0.7h-0.7zM513.3 27.4h0.7v0.7h-0.7zM485.0 43.1h0.7v0.7h-0.7zM544.6 42.1h0.7v0.7h-0.7zM520.7 25.1h0.7v0.7h-0.7zM544.8 16.9h0.7v0.7h-0.7zM539.3 28.4h0.7v0.7h-0.7zM541.1 75.0h0.7v0.7h-0.7zM559.9 53.1h0.7v0.7h-0.7zM495.7 83.4h0.7v0.7h-0.7zM529.5 38.1h0.7v0.7h-0.7zM525.4 22.0h0.7v0.7h-0.7zM498.4 61.1h0.7v0.7h-0.7zM568.5 59.8h0.7v0.7h-0.7zM496.2 38.1h0.7v0.7h-0.7zM522.3 28.3h0.7v0.7h-0.7zM556.5 76.1h0.7v0.7h-0.7zM562.8 50.6h0.7v0.7h-0.7zM549.7 23.2h0.7v0.7h-0.7zM524.5 43.6h0.7v0.7h-0.7zM505.9 40.9h0.7v0.7h-0.7zM501.9 91.4h0.7v0.7h-0.7zM511.6 88.7h0.7v0.7h-0.7zM559.5 69.6h0.7v0.7h-0.7zM494.4 71.1h0.7v0.7h-0.7zM553.2 78.6h0.7v0.7h-0.7zM563.3 64.5h0.7v0.7h-0.7zM502.6 51.7h0.7v0.7h-0.7zM498.6 58.5h0.7v0.7h-0.7zM540.8 34.9h0.7v0.7h-0.7zM520.4 30.0h0.7v0.7h-0.7zM540.7 72.9h0.7v0.7h-0.7zM554.8 66.3h0.7v0.7h-0.7zM513.9 38.6h0.7v0.7h-0.7zM511.5 37.7h0.7v0.7h-0.7zM492.8 37.5h0.7v0.7h-0.7zM507.1 90.5h0.7v0.7h-0.7zM561.8 38.9h0.7v0.7h-0.7zM535.1 15.3h0.7v0.7h-0.7zM550.6 63.6h0.7v0.7h-0.7zM541.4 19.2h0.7v0.7h-0.7zM517.7 81.1h0.7v0.7h-0.7zM515.7 84.9h0.7v0.7h-0.7zM555.7 58.1h0.7v0.7h-0.7zM545.9 23.4h0.7v0.7h-0.7zM497.3 69.5h0.7v0.7h-0.7zM550.6 72.0h0.7v0.7h-0.7zM494.2 52.5h0.7v0.7h-0.7zM528.6 84.5h0.7v0.7h-0.7zM543.8 32.0h0.7v0.7h-0.7zM562.1 67.7h0.7v0.7h-0.7zM538.5 31.7h0.7v0.7h-0.7zM515.2 34.5h0.7v0.7h-0.7zM486.5 42.0h0.7v0.7h-0.7zM541.5 70.8h0.7v0.7h-0.7zM567.9 53.9h0.7v0.7h-0.7zM509.4 80.5h0.7v0.7h-0.7zM544.8 63.6h0.7v0.7h-0.7zM571.1 58.1h0.7v0.7h-0.7zM493.8 71.0h0.7v0.7h-0.7zM496.3 37.6h0.7v0.7h-0.7zM513.2 32.1h0.7v0.7h-0.7zM560.0 55.0h0.7v0.7h-0.7zM491.1 56.4h0.7v0.7h-0.7zM493.6 57.0h0.7v0.7h-0.7zM545.7 58.9h0.7v0.7h-0.7zM504.1 69.0h0.7v0.7h-0.7zM504.0 67.6h0.7v0.7h-0.7zM557.2 44.6h0.7v0.7h-0.7zM562.9 66.4h0.7v0.7h-0.7zM547.9 37.2h0.7v0.7h-0.7zM536.9 21.7h0.7v0.7h-0.7zM551.8 68.5h0.7v0.7h-0.7zM507.5 38.4h0.7v0.7h-0.7zM516.5 79.3h0.7v0.7h-0.7zM559.6 60.3h0.7v0.7h-0.7zM524.2 38.5h0.7v0.7h-0.7zM502.2 50.3h0.7v0.7h-0.7zM506.2 31.3h0.7v0.7h-0.7zM554.0 23.2h0.7v0.7h-0.7zM574.3 60.3h0.7v0.7h-0.7zM569.4 68.8h0.7v0.7h-0.7zM571.5 65.3h0.7v0.7h-0.7zM568.2 46.2h0.7v0.7h-0.7zM536.8 45.0h0.7v0.7h-0.7zM501.6 42.5h0.7v0.7h-0.7zM555.2 73.8h0.7v0.7h-0.7zM504.0 45.7h0.7v0.7h-0.7zM537.8 60.6h0.7v0.7h-0.7zM490.9 49.3h0.7v0.7h-0.7zM487.8 38.0h0.7v0.7h-0.7zM535.9 49.4h0.7v0.7h-0.7zM492.8 78.1h0.7v0.7h-0.7zM544.5 74.6h0.7v0.7h-0.7zM537.4 36.8h0.7v0.7h-0.7zM534.4 80.5h0.7v0.7h-0.7zM547.5 31.6h0.7v0.7h-0.7zM552.1 71.0h0.7v0.7h-0.7zM538.5 35.4h0.7v0.7h-0.7zM549.5 52.6h0.7v0.7h-0.7zM513.3 79.8h0.7v0.7h-0.7zM502.7 82.5h0.7v0.7h-0.7zM538.9 9.1h0.7v0.7h-0.7zM551.7 54.4h0.7v0.7h-0.7zM553.0 44.7h0.7v0.7h-0.7zM568.5 57.6h0.7v0.7h-0.7zM527.5 80.9h0.7v0.7h-0.7zM521.1 75.3h0.7v0.7h-0.7zM546.9 58.1h0.7v0.7h-0.7zM521.1 39.2h0.7v0.7h-0.7zM554.2 28.6h0.7v0.7h-0.7zM541.2 17.6h0.7v0.7h-0.7zM535.7 61.4h0.7v0.7h-0.7zM530.7 80.1h0.7v0.7h-0.7zM520.3 42.4h0.7v0.7h-0.7zM494.1 52.5h0.7v0.7h-0.7zM502.5 33.3h0.7v0.7h-0.7zM553.0 51.5h0.7v0.7h-0.7zM555.1 38.1h0.7v0.7h-0.7zM554.6 75.6h0.7v0.7h-0.7zM544.9 44.6h0.7v0.7h-0.7zM507.7 94.7h0.7v0.7h-0.7zM520.5 44.3h0.7v0.7h-0.7zM521.0 79.9h0.7v0.7h-0.7zM534.7 18.5h0.7v0.7h-0.7zM510.4 91.6h0.7v0.7h-0.7zM545.5 35.7h0.7v0.7h-0.7zM535.0 37.2h0.7v0.7h-0.7zM519.1 91.8h0.7v0.7h-0.7zM495.2 83.8h0.7v0.7h-0.7zM503.6 76.7h0.7v0.7h-0.7zM537.3 58.2h0.7v0.7h-0.7zM522.9 51.1h0.7v0.7h-0.7zM511.1 28.0h0.7v0.7h-0.7zM523.6 29.6h0.7v0.7h-0.7zM497.3 36.3h0.7v0.7h-0.7zM538.2 78.1h0.7v0.7h-0.7zM569.3 51.0h0.7v0.7h-0.7zM497.3 44.3h0.7v0.7h-0.7zM540.4 68.8h0.7v0.7h-0.7zM507.2 84.8h0.7v0.7h-0.7zM525.6 30.5h0.7v0.7h-0.7zM560.1 36.0h0.7v0.7h-0.7zM502.6 48.0h0.7v0.7h-0.7zM562.8 46.9h0.7v0.7h-0.7zM520.6 29.5h0.7v0.7h-0.7zM538.5 35.5h0.7v0.7h-0.7zM522.0 24.6h0.7v0.7h-0.7zM499.1 50.9h0.7v0.7h-0.7zM524.4 88.3h0.7v0.7h-0.7zM514.5 77.9h0.7v0.7h-0.7zM550.5 61.7h0.7v0.7h-0.7zM549.8 33.7h0.7v0.7h-0.7zM511.6 53.2h0.7v0.7h-0.7zM519.7 25.3h0.7v0.7h-0.7zM505.2 48.6h0.7v0.7h-0.7zM536.6 9.3h0.7v0.7h-0.7zM505.6 88.7h0.7v0.7h-0.7zM500.5 65.0h0.7v0.7h-0.7zM497.5 50.8h0.7v0.7h-0.7zM550.8 12.9h0.7v0.7h-0.7zM501.4 84.3h0.7v0.7h-0.7zM500.3 65.3h0.7v0.7h-0.7zM492.2 75.1h0.7v0.7h-0.7zM525.5 55.5h0.7v0.7h-0.7zM566.2 71.7h0.7v0.7h-0.7zM562.5 74.3h0.7v0.7h-0.7zM497.5 46.0h0.7v0.7h-0.7zM500.1 85.5h0.7v0.7h-0.7zM539.6 48.6h0.7v0.7h-0.7zM550.3 35.9h0.7v0.7h-0.7zM493.6 54.7h0.7v0.7h-0.7zM550.5 29.0h0.7v0.7h-0.7zM516.8 36.4h0.7v0.7h-0.7zM517.9 45.9h0.7v0.7h-0.7zM514.0 35.9h0.7v0.7h-0.7zM495.0 39.5h0.7v0.7h-0.7zM531.5 58.2h0.7v0.7h-0.7zM499.8 54.3h0.7v0.7h-0.7zM533.5 57.8h0.7v0.7h-0.7zM496.5 75.8h0.7v0.7h-0.7zM548.6 78.0h0.7v0.7h-0.7zM553.0 33.1h0.7v0.7h-0.7zM561.0 47.3h0.7v0.7h-0.7zM550.3 13.0h0.7v0.7h-0.7zM561.9 43.0h0.7v0.7h-0.7zM554.1 69.0h0.7v0.7h-0.7zM499.4 47.9h0.7v0.7h-0.7zM506.7 38.5h0.7v0.7h-0.7zM539.9 31.6h0.7v0.7h-0.7zM548.6 40.1h0.7v0.7h-0.7zM533.9 51.7h0.7v0.7h-0.7zM541.5 79.5h0.7v0.7h-0.7zM570.7 61.7h0.7v0.7h-0.7zM543.4 52.8h0.7v0.7h-0.7zM567.5 73.4h0.7v0.7h-0.7zM556.8 49.3h0.7v0.7h-0.7zM545.6 77.9h0.7v0.7h-0.7zM498.2 59.4h0.7v0.7h-0.7zM567.6 70.8h0.7v0.7h-0.7zM557.7 54.5h0.7v0.7h-0.7zM551.7 78.9h0.7v0.7h-0.7zM561.2 53.8h0.7v0.7h-0.7zM554.0 69.6h0.7v0.7h-0.7zM557.2 56.4h0.7v0.7h-0.7zM498.1 43.3h0.7v0.7h-0.7zM499.3 70.1h0.7v0.7h-0.7zM506.6 29.8h0.7v0.7h-0.7zM494.0 66.7h0.7v0.7h-0.7zM564.3 66.3h0.7v0.7h-0.7zM559.9 35.0h0.7v0.7h-0.7zM512.6 31.8h0.7v0.7h-0.7zM518.5 48.5h0.7v0.7h-0.7zM494.2 52.3h0.7v0.7h-0.7zM504.0 58.2h0.7v0.7h-0.7zM526.1 85.3h0.7v0.7h-0.7zM547.0 60.5h0.7v0.7h-0.7zM490.4 43.5h0.7v0.7h-0.7zM565.1 68.1h0.7v0.7h-0.7zM541.5 69.2h0.7v0.7h-0.7zM493.3 56.3h0.7v0.7h-0.7zM512.3 89.3h0.7v0.7h-0.7zM528.2 82.9h0.7v0.7h-0.7zM525.4 48.5h0.7v0.7h-0.7zM533.5 33.1h0.7v0.7h-0.7zM557.1 74.1h0.7v0.7h-0.7zM516.1 49.4h0.7v0.7h-0.7zM505.4 44.6h0.7v0.7h-0.7zM497.2 77.5h0.7v0.7h-0.7zM537.6 47.7h0.7v0.7h-0.7zM536.1 23.9h0.7v0.7h-0.7zM501.9 67.0h0.7v0.7h-0.7zM495.5 39.9h0.7v0.7h-0.7zM552.0 41.1h0.7v0.7h-0.7zM547.3 38.5h0.7v0.7h-0.7zM511.2 53.7h0.7v0.7h-0.7zM514.9 28.4h0.7v0.7h-0.7zM547.6 54.1h0.7v0.7h-0.7zM532.4 41.8h0.7v0.7h-0.7zM541.6 54.2h0.7v0.7h-0.7zM534.1 55.4h0.7v0.7h-0.7zM525.6 82.0h0.7v0.7h-0.7zM565.5 56.0h0.7v0.7h-0.7zM561.5 40.7h0.7v0.7h-0.7zM515.8 38.8h0.7v0.7h-0.7zM543.1 9.3h0.7v0.7h-0.7zM536.8 26.6h0.7v0.7h-0.7zM498.9 73.3h0.7v0.7h-0.7zM531.2 27.2h0.7v0.7h-0.7zM573.1 61.7h0.7v0.7h-0.7zM574.0 65.0h0.7v0.7h-0.7zM538.1 11.5h0.7v0.7h-0.7zM518.9 41.4h0.7v0.7h-0.7zM532.4 57.8h0.7v0.7h-0.7zM568.1 55.4h0.7v0.7h-0.7zM562.0 44.1h0.7v0.7h-0.7zM541.8 77.7h0.7v0.7h-0.7zM532.9 25.2h0.7v0.7h-0.7zM546.4 18.9h0.7v0.7h-0.7zM530.7 29.8h0.7v0.7h-0.7zM488.2 40.1h0.7v0.7h-0.7zM509.1 89.7h0.7v0.7h-0.7zM539.5 9.2h0.7v0.7h-0.7zM550.5 30.6h0.7v0.7h-0.7zM546.2 56.7h0.7v0.7h-0.7zM544.1 51.1h0.7v0.7h-0.7zM542.3 77.8h0.7v0.7h-0.7zM506.2 73.8h0.7v0.7h-0.7zM494.1 80.0h0.7v0.7h-0.7zM511.4 87.3h0.7v0.7h-0.7zM540.8 54.3h0.7v0.7h-0.7zM521.0 92.0h0.7v0.7h-0.7zM544.1 66.3h0.7v0.7h-0.7zM501.6 78.2h0.7v0.7h-0.7zM542.7 13.0h0.7v0.7h-0.7zM512.6 29.8h0.7v0.7h-0.7zM527.1 86.6h0.7v0.7h-0.7zM486.9 38.1h0.7v0.7h-0.7zM530.2 78.5h0.7v0.7h-0.7zM522.1 25.7h0.7v0.7h-0.7zM501.9 82.8h0.7v0.7h-0.7zM529.7 35.9h0.7v0.7h-0.7zM540.0 32.5h0.7v0.7h-0.7zM535.7 77.0h0.7v0.7h-0.7zM538.9 44.4h0.7v0.7h-0.7zM554.0 31.7h0.7v0.7h-0.7zM558.7 46.4h0.7v0.7h-0.7zM552.4 61.5h0.7v0.7h-0.7zM508.9 29.2h0.7v0.7h-0.7zM511.3 41.4h0.7v0.7h-0.7zM541.6 67.3h0.7v0.7h-0.7zM514.1 94.2h0.7v0.7h-0.7zM504.8 48.5h0.7v0.7h-0.7zM539.2 62.8h0.7v0.7h-0.7zM568.3 72.2h0.7v0.7h-0.7zM516.5 88.4h0.7v0.7h-0.7zM518.3 94.0h0.7v0.7h-0.7zM533.4 49.9h0.7v0.7h-0.7zM511.9 34.1h0.7v0.7h-0.7zM508.5 43.1h0.7v0.7h-0.7zM499.4 59.6h0.7v0.7h-0.7zM485.6 37.5h0.7v0.7h-0.7zM556.3 55.2h0.7v0.7h-0.7zM545.7 15.9h0.7v0.7h-0.7zM485.6 45.8h0.7v0.7h-0.7zM548.7 65.0h0.7v0.7h-0.7zM536.0 31.0h0.7v0.7h-0.7zM545.2 64.5h0.7v0.7h-0.7zM549.1 50.9h0.7v0.7h-0.7zM531.7 49.4h0.7v0.7h-0.7zM504.3 37.4h0.7v0.7h-0.7zM505.9 33.5h0.7v0.7h-0.7zM559.7 45.6h0.7v0.7h-0.7zM484.0 42.7h0.7v0.7h-0.7zM520.7 89.0h0.7v0.7h-0.7zM493.9 78.5h0.7v0.7h-0.7zM521.8 78.3h0.7v0.7h-0.7zM541.1 57.1h0.7v0.7h-0.7zM527.4 26.2h0.7v0.7h-0.7zM550.6 30.8h0.7v0.7h-0.7zM531.1 47.2h0.7v0.7h-0.7zM487.2 37.9h0.7v0.7h-0.7zM493.2 69.8h0.7v0.7h-0.7zM531.1 48.8h0.7v0.7h-0.7zM562.2 64.1h0.7v0.7h-0.7zM546.5 14.5h0.7v0.7h-0.7zM519.4 43.5h0.7v0.7h-0.7z" fill="#fff"/>
<path d="M534.9 34.8h0.6v0.6h-0.6zM528.5 30.7h0.6v0.6h-0.6zM492.7 41.6h0.6v0.6h-0.6zM490.3 39.4h0.6v0.6h-0.6zM513.8 38.1h0.6v0.6h-0.6zM535.5 36.1h0.6v0.6h-0.6zM506.8 37.5h0.6v0.6h-0.6zM522.7 24.5h0.6v0.6h-0.6zM502.3 39.6h0.6v0.6h-0.6zM512.4 51.4h0.6v0.6h-0.6zM518.9 48.0h0.6v0.6h-0.6zM507.7 51.8h0.6v0.6h-0.6zM502.5 48.7h0.6v0.6h-0.6zM508.1 33.3h0.6v0.6h-0.6zM492.7 39.8h0.6v0.6h-0.6zM516.8 47.2h0.6v0.6h-0.6zM524.0 38.9h0.6v0.6h-0.6zM534.4 46.3h0.6v0.6h-0.6zM492.7 35.7h0.6v0.6h-0.6zM529.6 28.6h0.6v0.6h-0.6zM528.2 54.1h0.6v0.6h-0.6zM506.5 56.6h0.6v0.6h-0.6zM528.5 36.5h0.6v0.6h-0.6zM528.6 47.1h0.6v0.6h-0.6zM530.9 46.4h0.6v0.6h-0.6zM521.6 49.0h0.6v0.6h-0.6zM531.7 57.8h0.6v0.6h-0.6zM533.4 44.1h0.6v0.6h-0.6zM504.1 39.5h0.6v0.6h-0.6zM511.8 31.9h0.6v0.6h-0.6zM517.6 38.6h0.6v0.6h-0.6zM509.1 44.9h0.6v0.6h-0.6zM522.1 35.0h0.6v0.6h-0.6zM516.4 50.3h0.6v0.6h-0.6zM533.0 57.9h0.6v0.6h-0.6zM530.4 33.8h0.6v0.6h-0.6zM515.7 27.2h0.6v0.6h-0.6zM505.2 47.2h0.6v0.6h-0.6zM525.0 50.3h0.6v0.6h-0.6zM492.9 49.4h0.6v0.6h-0.6zM487.7 40.7h0.6v0.6h-0.6zM524.4 26.1h0.6v0.6h-0.6zM495.3 43.4h0.6v0.6h-0.6zM510.9 29.0h0.6v0.6h-0.6zM502.3 48.1h0.6v0.6h-0.6zM486.7 44.8h0.6v0.6h-0.6zM505.2 32.4h0.6v0.6h-0.6zM521.0 39.7h0.6v0.6h-0.6zM499.2 44.7h0.6v0.6h-0.6zM508.8 51.7h0.6v0.6h-0.6zM529.3 42.3h0.6v0.6h-0.6zM510.1 37.9h0.6v0.6h-0.6zM494.5 45.3h0.6v0.6h-0.6zM491.8 45.5h0.6v0.6h-0.6zM490.2 40.0h0.6v0.6h-0.6zM493.8 37.3h0.6v0.6h-0.6zM526.0 27.8h0.6v0.6h-0.6zM504.4 31.3h0.6v0.6h-0.6zM504.6 39.4h0.6v0.6h-0.6zM528.8 47.7h0.6v0.6h-0.6zM530.5 50.0h0.6v0.6h-0.6zM533.7 46.5h0.6v0.6h-0.6zM496.3 49.5h0.6v0.6h-0.6zM534.9 31.0h0.6v0.6h-0.6zM504.0 37.7h0.6v0.6h-0.6zM522.3 31.6h0.6v0.6h-0.6zM519.0 42.6h0.6v0.6h-0.6zM516.4 44.8h0.6v0.6h-0.6zM518.1 40.4h0.6v0.6h-0.6zM524.0 34.6h0.6v0.6h-0.6zM510.1 42.6h0.6v0.6h-0.6zM520.7 39.3h0.6v0.6h-0.6zM523.6 33.8h0.6v0.6h-0.6zM495.2 47.8h0.6v0.6h-0.6zM517.8 37.0h0.6v0.6h-0.6zM510.9 41.2h0.6v0.6h-0.6zM491.8 34.4h0.6v0.6h-0.6zM524.9 35.7h0.6v0.6h-0.6zM499.2 39.3h0.6v0.6h-0.6zM523.9 45.5h0.6v0.6h-0.6zM499.3 52.9h0.6v0.6h-0.6zM501.4 30.7h0.6v0.6h-0.6zM508.1 38.4h0.6v0.6h-0.6zM501.7 42.0h0.6v0.6h-0.6zM532.0 51.0h0.6v0.6h-0.6zM496.0 45.4h0.6v0.6h-0.6zM504.5 40.5h0.6v0.6h-0.6zM507.4 54.1h0.6v0.6h-0.6zM540.9 36.0h0.6v0.6h-0.6zM501.9 39.1h0.6v0.6h-0.6zM515.5 40.8h0.6v0.6h-0.6zM523.5 24.3h0.6v0.6h-0.6zM527.0 35.1h0.6v0.6h-0.6zM511.1 49.1h0.6v0.6h-0.6zM512.7 48.7h0.6v0.6h-0.6zM520.1 31.6h0.6v0.6h-0.6zM510.3 49.2h0.6v0.6h-0.6zM524.2 53.6h0.6v0.6h-0.6zM511.9 41.7h0.6v0.6h-0.6zM514.8 44.2h0.6v0.6h-0.6zM518.4 34.5h0.6v0.6h-0.6zM535.9 38.8h0.6v0.6h-0.6zM508.5 43.9h0.6v0.6h-0.6zM513.6 37.7h0.6v0.6h-0.6zM523.0 33.0h0.6v0.6h-0.6zM529.3 41.5h0.6v0.6h-0.6zM534.8 42.6h0.6v0.6h-0.6zM513.1 38.1h0.6v0.6h-0.6zM510.7 51.4h0.6v0.6h-0.6zM491.1 44.3h0.6v0.6h-0.6zM519.9 25.5h0.6v0.6h-0.6zM511.8 39.4h0.6v0.6h-0.6zM514.1 29.1h0.6v0.6h-0.6zM510.1 39.1h0.6v0.6h-0.6zM536.9 35.8h0.6v0.6h-0.6zM515.0 49.8h0.6v0.6h-0.6zM509.4 31.2h0.6v0.6h-0.6zM536.3 33.3h0.6v0.6h-0.6zM511.7 37.8h0.6v0.6h-0.6zM513.9 38.0h0.6v0.6h-0.6zM514.9 50.5h0.6v0.6h-0.6zM521.8 29.8h0.6v0.6h-0.6zM493.8 38.6h0.6v0.6h-0.6zM492.5 47.6h0.6v0.6h-0.6zM524.5 38.0h0.6v0.6h-0.6zM535.3 42.3h0.6v0.6h-0.6zM524.7 42.7h0.6v0.6h-0.6zM501.9 48.6h0.6v0.6h-0.6zM517.1 46.3h0.6v0.6h-0.6zM496.6 41.8h0.6v0.6h-0.6zM515.0 46.3h0.6v0.6h-0.6zM509.3 37.6h0.6v0.6h-0.6zM522.5 38.5h0.6v0.6h-0.6zM541.1 36.0h0.6v0.6h-0.6zM537.9 38.4h0.6v0.6h-0.6zM533.9 33.3h0.6v0.6h-0.6zM495.4 40.0h0.6v0.6h-0.6zM528.8 53.2h0.6v0.6h-0.6zM515.4 37.4h0.6v0.6h-0.6zM516.6 33.4h0.6v0.6h-0.6zM526.0 39.8h0.6v0.6h-0.6zM517.0 52.6h0.6v0.6h-0.6zM493.9 45.0h0.6v0.6h-0.6zM535.2 47.5h0.6v0.6h-0.6zM487.2 35.9h0.6v0.6h-0.6zM514.9 29.9h0.6v0.6h-0.6zM524.8 42.3h0.6v0.6h-0.6zM508.5 32.2h0.6v0.6h-0.6zM491.6 40.6h0.6v0.6h-0.6zM534.0 39.8h0.6v0.6h-0.6zM532.0 43.0h0.6v0.6h-0.6zM514.8 50.4h0.6v0.6h-0.6zM505.2 34.0h0.6v0.6h-0.6zM505.3 46.2h0.6v0.6h-0.6zM525.9 45.9h0.6v0.6h-0.6zM498.2 43.3h0.6v0.6h-0.6zM511.1 29.6h0.6v0.6h-0.6zM523.0 44.4h0.6v0.6h-0.6zM531.3 48.8h0.6v0.6h-0.6zM526.8 49.7h0.6v0.6h-0.6zM499.5 45.8h0.6v0.6h-0.6zM510.8 30.7h0.6v0.6h-0.6zM489.8 41.8h0.6v0.6h-0.6zM513.0 51.3h0.6v0.6h-0.6zM530.9 32.4h0.6v0.6h-0.6zM533.0 47.3h0.6v0.6h-0.6zM534.3 52.5h0.6v0.6h-0.6zM508.1 50.4h0.6v0.6h-0.6zM518.8 30.4h0.6v0.6h-0.6zM500.8 45.9h0.6v0.6h-0.6zM501.7 42.3h0.6v0.6h-0.6zM507.0 52.8h0.6v0.6h-0.6zM497.7 33.0h0.6v0.6h-0.6zM530.6 40.5h0.6v0.6h-0.6zM519.3 51.5h0.6v0.6h-0.6zM487.0 36.7h0.6v0.6h-0.6zM509.7 36.6h0.6v0.6h-0.6zM519.9 40.0h0.6v0.6h-0.6zM509.1 46.0h0.6v0.6h-0.6zM522.9 51.7h0.6v0.6h-0.6zM526.4 46.9h0.6v0.6h-0.6zM516.9 43.4h0.6v0.6h-0.6zM528.2 33.3h0.6v0.6h-0.6zM500.0 36.3h0.6v0.6h-0.6zM526.4 42.9h0.6v0.6h-0.6zM508.5 35.6h0.6v0.6h-0.6zM519.8 34.5h0.6v0.6h-0.6zM504.9 37.7h0.6v0.6h-0.6zM529.2 37.3h0.6v0.6h-0.6zM523.5 51.9h0.6v0.6h-0.6zM521.7 29.1h0.6v0.6h-0.6zM534.6 41.1h0.6v0.6h-0.6zM489.8 46.3h0.6v0.6h-0.6zM509.3 51.7h0.6v0.6h-0.6zM503.8 52.2h0.6v0.6h-0.6zM520.4 49.2h0.6v0.6h-0.6zM527.0 29.2h0.6v0.6h-0.6zM528.1 50.3h0.6v0.6h-0.6zM508.8 28.9h0.6v0.6h-0.6zM522.1 53.9h0.6v0.6h-0.6z" fill="#EBA688"/>
<path d="M499.7 69.4h0.6v0.6h-0.6zM505.5 82.6h0.6v0.6h-0.6zM506.5 77.5h0.6v0.6h-0.6zM500.9 57.6h0.6v0.6h-0.6zM503.7 69.8h0.6v0.6h-0.6zM498.3 89.3h0.6v0.6h-0.6zM501.8 71.6h0.6v0.6h-0.6zM509.4 85.4h0.6v0.6h-0.6zM497.3 61.8h0.6v0.6h-0.6zM499.4 61.5h0.6v0.6h-0.6zM507.6 79.6h0.6v0.6h-0.6zM499.1 80.6h0.6v0.6h-0.6zM492.2 56.1h0.6v0.6h-0.6zM509.5 74.4h0.6v0.6h-0.6zM493.3 80.7h0.6v0.6h-0.6zM498.6 81.2h0.6v0.6h-0.6zM500.3 57.9h0.6v0.6h-0.6zM495.7 78.3h0.6v0.6h-0.6zM503.2 91.0h0.6v0.6h-0.6zM507.6 88.0h0.6v0.6h-0.6zM493.0 67.8h0.6v0.6h-0.6zM502.8 89.6h0.6v0.6h-0.6zM498.6 60.2h0.6v0.6h-0.6zM501.2 66.1h0.6v0.6h-0.6zM500.8 66.2h0.6v0.6h-0.6zM502.4 88.7h0.6v0.6h-0.6zM505.6 71.9h0.6v0.6h-0.6zM497.5 58.7h0.6v0.6h-0.6zM498.5 86.0h0.6v0.6h-0.6zM495.7 56.8h0.6v0.6h-0.6zM496.0 72.7h0.6v0.6h-0.6zM493.6 69.5h0.6v0.6h-0.6zM508.1 92.1h0.6v0.6h-0.6zM496.3 84.2h0.6v0.6h-0.6zM498.5 88.6h0.6v0.6h-0.6zM502.4 74.6h0.6v0.6h-0.6zM493.3 78.9h0.6v0.6h-0.6zM502.4 82.6h0.6v0.6h-0.6zM494.8 66.5h0.6v0.6h-0.6zM491.7 51.5h0.6v0.6h-0.6zM500.4 55.7h0.6v0.6h-0.6zM500.8 82.7h0.6v0.6h-0.6zM496.2 63.4h0.6v0.6h-0.6zM496.0 87.0h0.6v0.6h-0.6zM494.3 63.8h0.6v0.6h-0.6zM498.1 60.6h0.6v0.6h-0.6zM501.3 74.2h0.6v0.6h-0.6zM499.3 84.5h0.6v0.6h-0.6zM494.5 73.7h0.6v0.6h-0.6zM499.9 90.1h0.6v0.6h-0.6zM501.5 83.3h0.6v0.6h-0.6zM503.9 80.5h0.6v0.6h-0.6zM502.2 78.7h0.6v0.6h-0.6zM499.9 58.2h0.6v0.6h-0.6zM511.4 79.0h0.6v0.6h-0.6zM503.0 70.7h0.6v0.6h-0.6zM495.4 63.5h0.6v0.6h-0.6zM500.7 78.4h0.6v0.6h-0.6zM502.5 57.7h0.6v0.6h-0.6zM494.1 56.7h0.6v0.6h-0.6z" fill="#EBA688"/>
<path d="M520.1 90.1h0.6v0.6h-0.6zM514.3 87.1h0.6v0.6h-0.6zM514.6 79.2h0.6v0.6h-0.6zM544.3 80.1h0.6v0.6h-0.6zM527.1 84.2h0.6v0.6h-0.6zM522.1 79.9h0.6v0.6h-0.6zM529.0 83.2h0.6v0.6h-0.6zM541.1 79.6h0.6v0.6h-0.6zM516.1 82.9h0.6v0.6h-0.6zM539.5 82.1h0.6v0.6h-0.6zM514.4 84.1h0.6v0.6h-0.6zM533.1 80.6h0.6v0.6h-0.6zM523.1 79.9h0.6v0.6h-0.6zM522.8 82.5h0.6v0.6h-0.6zM521.4 86.2h0.6v0.6h-0.6zM536.5 79.3h0.6v0.6h-0.6zM527.9 85.0h0.6v0.6h-0.6zM518.5 91.9h0.6v0.6h-0.6zM536.8 82.9h0.6v0.6h-0.6zM538.2 81.2h0.6v0.6h-0.6zM512.8 94.7h0.6v0.6h-0.6zM514.3 79.7h0.6v0.6h-0.6zM518.6 89.7h0.6v0.6h-0.6zM512.0 92.6h0.6v0.6h-0.6zM510.7 87.9h0.6v0.6h-0.6zM515.0 79.3h0.6v0.6h-0.6zM510.9 92.4h0.6v0.6h-0.6zM511.5 82.2h0.6v0.6h-0.6zM524.2 79.5h0.6v0.6h-0.6zM513.6 79.3h0.6v0.6h-0.6zM515.2 92.1h0.6v0.6h-0.6zM513.3 80.3h0.6v0.6h-0.6zM511.5 94.1h0.6v0.6h-0.6zM516.2 83.8h0.6v0.6h-0.6zM515.6 88.1h0.6v0.6h-0.6zM508.7 90.5h0.6v0.6h-0.6zM512.1 81.4h0.6v0.6h-0.6zM531.0 83.0h0.6v0.6h-0.6zM533.7 81.6h0.6v0.6h-0.6zM523.1 90.3h0.6v0.6h-0.6zM510.5 91.7h0.6v0.6h-0.6zM513.5 89.4h0.6v0.6h-0.6zM513.5 90.5h0.6v0.6h-0.6zM515.2 80.5h0.6v0.6h-0.6zM519.6 79.1h0.6v0.6h-0.6zM518.1 91.4h0.6v0.6h-0.6zM518.1 81.9h0.6v0.6h-0.6zM517.7 88.5h0.6v0.6h-0.6zM536.9 78.7h0.6v0.6h-0.6zM529.7 81.1h0.6v0.6h-0.6zM525.0 84.9h0.6v0.6h-0.6zM511.8 80.9h0.6v0.6h-0.6zM522.9 80.7h0.6v0.6h-0.6zM526.7 85.8h0.6v0.6h-0.6zM512.3 93.3h0.6v0.6h-0.6zM525.7 86.3h0.6v0.6h-0.6zM518.1 83.3h0.6v0.6h-0.6zM534.7 81.1h0.6v0.6h-0.6zM517.0 93.3h0.6v0.6h-0.6zM528.4 85.3h0.6v0.6h-0.6z" fill="#E59070"/>
<path d="M561.6 45.3h0.7v0.7h-0.7zM543.4 58.9h0.7v0.7h-0.7zM556.3 69.4h0.7v0.7h-0.7zM565.0 57.7h0.7v0.7h-0.7zM558.2 69.1h0.7v0.7h-0.7zM553.3 53.1h0.7v0.7h-0.7zM539.0 67.0h0.7v0.7h-0.7zM567.4 60.8h0.7v0.7h-0.7zM533.7 59.8h0.7v0.7h-0.7zM541.3 53.5h0.7v0.7h-0.7zM544.3 79.2h0.7v0.7h-0.7zM550.4 61.5h0.7v0.7h-0.7zM572.2 63.5h0.7v0.7h-0.7zM546.8 70.0h0.7v0.7h-0.7zM566.9 54.3h0.7v0.7h-0.7zM545.3 66.6h0.7v0.7h-0.7zM554.2 64.0h0.7v0.7h-0.7zM542.0 60.1h0.7v0.7h-0.7zM571.0 64.6h0.7v0.7h-0.7zM551.6 45.6h0.7v0.7h-0.7zM563.4 62.4h0.7v0.7h-0.7zM566.0 51.2h0.7v0.7h-0.7zM552.3 76.1h0.7v0.7h-0.7zM560.5 75.9h0.7v0.7h-0.7zM546.5 55.2h0.7v0.7h-0.7zM565.0 71.4h0.7v0.7h-0.7zM539.4 76.1h0.7v0.7h-0.7zM549.9 38.0h0.7v0.7h-0.7zM563.7 73.7h0.7v0.7h-0.7zM559.5 61.2h0.7v0.7h-0.7zM545.3 62.5h0.7v0.7h-0.7zM553.8 77.0h0.7v0.7h-0.7zM560.6 54.0h0.7v0.7h-0.7zM546.8 56.2h0.7v0.7h-0.7zM543.3 63.4h0.7v0.7h-0.7zM539.3 57.1h0.7v0.7h-0.7zM543.9 53.9h0.7v0.7h-0.7zM557.7 62.8h0.7v0.7h-0.7zM556.9 59.3h0.7v0.7h-0.7zM555.6 55.7h0.7v0.7h-0.7zM553.7 57.0h0.7v0.7h-0.7zM552.0 61.1h0.7v0.7h-0.7zM570.6 69.8h0.7v0.7h-0.7zM560.2 36.2h0.7v0.7h-0.7zM556.6 75.1h0.7v0.7h-0.7zM543.5 42.2h0.7v0.7h-0.7zM555.8 37.1h0.7v0.7h-0.7zM545.0 67.2h0.7v0.7h-0.7zM563.7 55.2h0.7v0.7h-0.7zM552.0 51.0h0.7v0.7h-0.7zM570.7 61.9h0.7v0.7h-0.7zM559.2 56.0h0.7v0.7h-0.7zM536.4 49.9h0.7v0.7h-0.7zM565.9 54.2h0.7v0.7h-0.7zM547.4 47.6h0.7v0.7h-0.7zM566.2 54.4h0.7v0.7h-0.7zM542.5 71.2h0.7v0.7h-0.7zM548.6 44.6h0.7v0.7h-0.7zM542.8 66.0h0.7v0.7h-0.7zM564.9 63.9h0.7v0.7h-0.7zM537.3 46.3h0.7v0.7h-0.7zM560.1 44.6h0.7v0.7h-0.7zM571.7 69.9h0.7v0.7h-0.7zM552.1 57.6h0.7v0.7h-0.7zM569.7 60.4h0.7v0.7h-0.7zM564.7 62.1h0.7v0.7h-0.7zM553.6 64.9h0.7v0.7h-0.7zM542.9 70.8h0.7v0.7h-0.7zM545.7 60.1h0.7v0.7h-0.7zM553.5 55.6h0.7v0.7h-0.7zM567.1 49.0h0.7v0.7h-0.7zM553.9 77.0h0.7v0.7h-0.7zM545.9 77.3h0.7v0.7h-0.7zM543.0 59.8h0.7v0.7h-0.7zM543.4 48.6h0.7v0.7h-0.7zM559.3 47.8h0.7v0.7h-0.7zM553.6 77.5h0.7v0.7h-0.7zM560.4 67.2h0.7v0.7h-0.7zM561.7 51.2h0.7v0.7h-0.7zM541.3 66.9h0.7v0.7h-0.7zM543.5 54.1h0.7v0.7h-0.7zM537.8 56.2h0.7v0.7h-0.7zM538.7 42.2h0.7v0.7h-0.7zM553.7 45.6h0.7v0.7h-0.7zM563.7 70.5h0.7v0.7h-0.7zM543.7 39.4h0.7v0.7h-0.7zM544.7 37.5h0.7v0.7h-0.7zM560.9 47.2h0.7v0.7h-0.7zM534.5 61.3h0.7v0.7h-0.7zM570.3 63.1h0.7v0.7h-0.7zM563.1 67.1h0.7v0.7h-0.7zM547.4 66.8h0.7v0.7h-0.7zM536.8 46.1h0.7v0.7h-0.7zM540.9 51.5h0.7v0.7h-0.7zM540.5 49.2h0.7v0.7h-0.7zM536.0 48.1h0.7v0.7h-0.7zM558.6 75.2h0.7v0.7h-0.7zM566.3 71.1h0.7v0.7h-0.7zM560.6 70.9h0.7v0.7h-0.7zM551.0 46.8h0.7v0.7h-0.7zM571.5 51.5h0.7v0.7h-0.7zM570.2 62.8h0.7v0.7h-0.7zM572.0 61.9h0.7v0.7h-0.7zM562.9 59.9h0.7v0.7h-0.7zM558.4 63.5h0.7v0.7h-0.7zM541.1 46.2h0.7v0.7h-0.7zM534.1 58.0h0.7v0.7h-0.7zM552.0 45.7h0.7v0.7h-0.7zM564.7 45.8h0.7v0.7h-0.7zM552.9 59.4h0.7v0.7h-0.7zM566.8 54.3h0.7v0.7h-0.7zM545.5 64.9h0.7v0.7h-0.7zM559.0 73.6h0.7v0.7h-0.7zM548.4 49.9h0.7v0.7h-0.7zM550.8 70.8h0.7v0.7h-0.7zM562.8 46.1h0.7v0.7h-0.7zM553.2 60.1h0.7v0.7h-0.7zM552.5 45.7h0.7v0.7h-0.7zM570.9 65.8h0.7v0.7h-0.7zM543.4 76.1h0.7v0.7h-0.7zM538.4 54.3h0.7v0.7h-0.7zM559.2 45.7h0.7v0.7h-0.7zM539.7 46.9h0.7v0.7h-0.7zM549.7 53.0h0.7v0.7h-0.7zM561.7 57.7h0.7v0.7h-0.7zM566.1 51.4h0.7v0.7h-0.7zM570.7 68.7h0.7v0.7h-0.7zM553.3 49.5h0.7v0.7h-0.7zM540.9 51.5h0.7v0.7h-0.7zM553.4 70.6h0.7v0.7h-0.7zM562.1 41.4h0.7v0.7h-0.7zM543.7 70.8h0.7v0.7h-0.7zM553.7 60.9h0.7v0.7h-0.7zM547.7 50.2h0.7v0.7h-0.7zM540.4 68.3h0.7v0.7h-0.7zM539.8 42.8h0.7v0.7h-0.7zM552.4 78.1h0.7v0.7h-0.7zM543.3 66.3h0.7v0.7h-0.7zM564.3 56.8h0.7v0.7h-0.7zM564.5 52.9h0.7v0.7h-0.7zM554.7 60.2h0.7v0.7h-0.7zM542.5 39.5h0.7v0.7h-0.7zM550.5 47.8h0.7v0.7h-0.7zM558.9 71.9h0.7v0.7h-0.7zM563.4 43.2h0.7v0.7h-0.7zM536.1 62.7h0.7v0.7h-0.7zM565.9 55.0h0.7v0.7h-0.7zM545.3 52.2h0.7v0.7h-0.7zM543.0 70.8h0.7v0.7h-0.7zM545.6 69.7h0.7v0.7h-0.7zM558.0 71.5h0.7v0.7h-0.7zM555.3 75.0h0.7v0.7h-0.7zM555.8 66.7h0.7v0.7h-0.7zM547.8 41.1h0.7v0.7h-0.7zM543.3 46.9h0.7v0.7h-0.7zM540.9 71.0h0.7v0.7h-0.7zM555.1 51.7h0.7v0.7h-0.7zM543.4 44.6h0.7v0.7h-0.7zM537.7 55.1h0.7v0.7h-0.7zM559.5 34.5h0.7v0.7h-0.7zM573.4 60.4h0.7v0.7h-0.7zM548.4 40.1h0.7v0.7h-0.7zM542.5 59.6h0.7v0.7h-0.7zM561.6 61.6h0.7v0.7h-0.7zM547.6 44.0h0.7v0.7h-0.7zM551.0 78.4h0.7v0.7h-0.7zM566.6 52.9h0.7v0.7h-0.7zM558.5 62.9h0.7v0.7h-0.7zM567.1 68.4h0.7v0.7h-0.7zM543.8 45.7h0.7v0.7h-0.7zM549.4 56.2h0.7v0.7h-0.7zM564.4 69.6h0.7v0.7h-0.7zM565.7 63.0h0.7v0.7h-0.7zM559.1 46.8h0.7v0.7h-0.7zM570.7 49.8h0.7v0.7h-0.7zM573.3 61.3h0.7v0.7h-0.7zM548.0 73.9h0.7v0.7h-0.7zM565.0 48.0h0.7v0.7h-0.7zM552.1 46.1h0.7v0.7h-0.7zM553.7 43.4h0.7v0.7h-0.7zM547.6 53.3h0.7v0.7h-0.7zM561.4 67.5h0.7v0.7h-0.7zM537.6 61.5h0.7v0.7h-0.7zM539.7 60.1h0.7v0.7h-0.7zM542.3 74.3h0.7v0.7h-0.7zM565.7 69.9h0.7v0.7h-0.7zM570.6 54.4h0.7v0.7h-0.7zM542.1 71.4h0.7v0.7h-0.7zM560.8 54.4h0.7v0.7h-0.7zM571.5 54.5h0.7v0.7h-0.7zM554.1 66.9h0.7v0.7h-0.7zM536.0 53.8h0.7v0.7h-0.7zM570.0 70.9h0.7v0.7h-0.7zM562.0 50.7h0.7v0.7h-0.7zM560.5 58.8h0.7v0.7h-0.7zM559.9 76.0h0.7v0.7h-0.7zM536.8 56.0h0.7v0.7h-0.7zM564.5 44.7h0.7v0.7h-0.7zM553.6 68.3h0.7v0.7h-0.7zM546.5 62.3h0.7v0.7h-0.7zM549.2 57.8h0.7v0.7h-0.7zM542.4 40.4h0.7v0.7h-0.7zM561.0 43.0h0.7v0.7h-0.7zM553.9 47.1h0.7v0.7h-0.7zM551.3 70.4h0.7v0.7h-0.7zM555.5 53.7h0.7v0.7h-0.7zM552.1 66.1h0.7v0.7h-0.7zM544.9 63.1h0.7v0.7h-0.7zM545.0 48.3h0.7v0.7h-0.7zM545.6 38.3h0.7v0.7h-0.7zM558.7 76.2h0.7v0.7h-0.7zM549.8 71.2h0.7v0.7h-0.7zM556.4 65.4h0.7v0.7h-0.7zM542.9 67.2h0.7v0.7h-0.7zM569.3 57.8h0.7v0.7h-0.7zM540.3 67.2h0.7v0.7h-0.7zM562.4 66.0h0.7v0.7h-0.7zM541.7 53.0h0.7v0.7h-0.7zM539.6 51.6h0.7v0.7h-0.7zM539.9 45.1h0.7v0.7h-0.7zM540.0 61.7h0.7v0.7h-0.7zM546.1 54.0h0.7v0.7h-0.7zM563.1 51.5h0.7v0.7h-0.7zM567.2 73.8h0.7v0.7h-0.7zM561.6 69.7h0.7v0.7h-0.7zM563.5 73.1h0.7v0.7h-0.7zM552.6 76.8h0.7v0.7h-0.7zM549.9 75.6h0.7v0.7h-0.7zM559.6 55.7h0.7v0.7h-0.7zM571.9 52.0h0.7v0.7h-0.7zM543.8 37.3h0.7v0.7h-0.7zM568.6 53.1h0.7v0.7h-0.7zM550.2 78.3h0.7v0.7h-0.7zM563.4 67.5h0.7v0.7h-0.7zM547.4 57.5h0.7v0.7h-0.7zM559.2 55.6h0.7v0.7h-0.7zM549.7 59.4h0.7v0.7h-0.7zM568.7 63.1h0.7v0.7h-0.7zM542.1 44.3h0.7v0.7h-0.7zM550.6 69.2h0.7v0.7h-0.7zM560.4 46.9h0.7v0.7h-0.7zM548.3 56.3h0.7v0.7h-0.7zM568.2 52.6h0.7v0.7h-0.7zM536.1 48.3h0.7v0.7h-0.7zM560.6 43.6h0.7v0.7h-0.7zM547.8 78.4h0.7v0.7h-0.7zM555.1 71.0h0.7v0.7h-0.7zM537.2 61.5h0.7v0.7h-0.7zM538.7 42.0h0.7v0.7h-0.7zM556.9 50.3h0.7v0.7h-0.7z" fill="#F4C6B0"/>
<path d="M549.7 18.2h0.6v0.6h-0.6zM545.9 19.4h0.6v0.6h-0.6zM530.0 24.8h0.6v0.6h-0.6zM549.1 35.8h0.6v0.6h-0.6zM550.9 37.2h0.6v0.6h-0.6zM539.6 27.5h0.6v0.6h-0.6zM541.9 27.4h0.6v0.6h-0.6zM554.9 35.2h0.6v0.6h-0.6zM526.4 22.9h0.6v0.6h-0.6zM541.4 31.4h0.6v0.6h-0.6zM552.0 32.0h0.6v0.6h-0.6zM552.1 20.4h0.6v0.6h-0.6zM545.6 20.8h0.6v0.6h-0.6zM540.1 19.4h0.6v0.6h-0.6zM552.3 21.1h0.6v0.6h-0.6zM538.6 13.8h0.6v0.6h-0.6zM546.9 22.7h0.6v0.6h-0.6zM533.7 15.5h0.6v0.6h-0.6zM536.5 13.1h0.6v0.6h-0.6zM528.4 26.9h0.6v0.6h-0.6zM541.2 34.7h0.6v0.6h-0.6zM552.1 30.1h0.6v0.6h-0.6zM537.8 28.0h0.6v0.6h-0.6zM543.1 6.6h0.6v0.6h-0.6zM549.2 22.4h0.6v0.6h-0.6zM545.4 23.2h0.6v0.6h-0.6zM536.3 18.4h0.6v0.6h-0.6zM546.1 35.9h0.6v0.6h-0.6zM546.2 31.5h0.6v0.6h-0.6zM554.9 29.0h0.6v0.6h-0.6zM557.2 35.3h0.6v0.6h-0.6zM548.6 32.6h0.6v0.6h-0.6zM535.2 22.1h0.6v0.6h-0.6zM537.7 24.8h0.6v0.6h-0.6zM544.1 26.9h0.6v0.6h-0.6zM543.2 15.4h0.6v0.6h-0.6zM551.9 28.4h0.6v0.6h-0.6zM529.3 19.3h0.6v0.6h-0.6zM547.7 30.8h0.6v0.6h-0.6zM542.6 5.8h0.6v0.6h-0.6zM543.1 10.9h0.6v0.6h-0.6zM544.0 23.5h0.6v0.6h-0.6zM548.8 27.4h0.6v0.6h-0.6zM542.0 23.7h0.6v0.6h-0.6zM536.5 16.8h0.6v0.6h-0.6zM545.6 14.9h0.6v0.6h-0.6zM550.1 11.4h0.6v0.6h-0.6zM529.8 22.8h0.6v0.6h-0.6zM530.1 22.8h0.6v0.6h-0.6zM550.0 31.3h0.6v0.6h-0.6zM530.2 22.4h0.6v0.6h-0.6zM541.4 27.7h0.6v0.6h-0.6zM540.1 20.1h0.6v0.6h-0.6zM543.5 6.8h0.6v0.6h-0.6zM551.6 14.3h0.6v0.6h-0.6zM546.6 8.7h0.6v0.6h-0.6zM539.1 15.0h0.6v0.6h-0.6zM552.8 34.8h0.6v0.6h-0.6zM538.3 24.0h0.6v0.6h-0.6zM547.6 8.7h0.6v0.6h-0.6zM542.5 9.2h0.6v0.6h-0.6zM540.0 13.6h0.6v0.6h-0.6zM546.1 15.0h0.6v0.6h-0.6zM541.2 6.6h0.6v0.6h-0.6zM549.5 29.4h0.6v0.6h-0.6zM555.9 33.0h0.6v0.6h-0.6zM531.5 28.4h0.6v0.6h-0.6zM538.3 20.7h0.6v0.6h-0.6zM536.4 15.6h0.6v0.6h-0.6zM539.4 29.2h0.6v0.6h-0.6zM550.3 23.0h0.6v0.6h-0.6zM531.8 14.5h0.6v0.6h-0.6zM549.1 21.5h0.6v0.6h-0.6zM536.0 13.3h0.6v0.6h-0.6zM539.1 18.0h0.6v0.6h-0.6zM549.2 20.1h0.6v0.6h-0.6zM553.9 32.0h0.6v0.6h-0.6zM552.4 31.2h0.6v0.6h-0.6zM537.8 26.0h0.6v0.6h-0.6zM542.3 8.3h0.6v0.6h-0.6z" fill="#E9A283"/>
<path d="M495.7 31.5h0.7v0.7h-0.7zM501.6 29.4h0.7v0.7h-0.7zM481.8 40.8h0.7v0.7h-0.7zM496.2 29.5h0.7v0.7h-0.7zM520.4 23.5h0.7v0.7h-0.7zM485.7 35.2h0.7v0.7h-0.7zM490.3 33.6h0.7v0.7h-0.7zM495.6 30.9h0.7v0.7h-0.7zM502.7 27.8h0.7v0.7h-0.7zM493.1 32.0h0.7v0.7h-0.7zM491.9 32.5h0.7v0.7h-0.7zM488.7 33.9h0.7v0.7h-0.7zM482.5 43.0h0.7v0.7h-0.7zM503.2 29.6h0.7v0.7h-0.7zM507.4 28.0h0.7v0.7h-0.7zM503.7 28.4h0.7v0.7h-0.7zM482.1 38.3h0.7v0.7h-0.7zM522.8 22.5h0.7v0.7h-0.7zM504.7 27.3h0.7v0.7h-0.7zM490.1 33.1h0.7v0.7h-0.7zM482.5 41.7h0.7v0.7h-0.7zM519.7 24.3h0.7v0.7h-0.7zM491.8 32.4h0.7v0.7h-0.7zM513.8 26.7h0.7v0.7h-0.7zM522.5 22.8h0.7v0.7h-0.7zM516.4 24.4h0.7v0.7h-0.7zM483.4 36.0h0.7v0.7h-0.7zM511.3 26.2h0.7v0.7h-0.7zM504.3 29.2h0.7v0.7h-0.7zM484.5 36.9h0.7v0.7h-0.7zM485.0 47.1h0.7v0.7h-0.7zM497.1 30.6h0.7v0.7h-0.7zM487.0 34.7h0.7v0.7h-0.7zM481.5 38.8h0.7v0.7h-0.7zM492.9 31.6h0.7v0.7h-0.7zM487.6 35.0h0.7v0.7h-0.7zM483.4 37.5h0.7v0.7h-0.7zM520.2 23.4h0.7v0.7h-0.7zM492.8 30.8h0.7v0.7h-0.7zM499.0 30.4h0.7v0.7h-0.7zM522.5 23.4h0.7v0.7h-0.7zM512.9 26.5h0.7v0.7h-0.7zM483.0 39.6h0.7v0.7h-0.7zM489.5 32.8h0.7v0.7h-0.7zM522.2 23.5h0.7v0.7h-0.7zM482.5 38.3h0.7v0.7h-0.7zM482.1 38.9h0.7v0.7h-0.7zM506.1 28.6h0.7v0.7h-0.7zM507.5 27.4h0.7v0.7h-0.7zM483.5 38.0h0.7v0.7h-0.7zM486.3 47.0h0.7v0.7h-0.7zM513.0 26.7h0.7v0.7h-0.7zM481.8 40.3h0.7v0.7h-0.7zM517.5 24.9h0.7v0.7h-0.7zM483.5 44.9h0.7v0.7h-0.7zM495.2 30.6h0.7v0.7h-0.7zM482.3 41.5h0.7v0.7h-0.7zM518.6 24.9h0.7v0.7h-0.7zM491.9 31.9h0.7v0.7h-0.7zM518.3 24.2h0.7v0.7h-0.7zM514.6 26.1h0.7v0.7h-0.7zM501.2 29.8h0.7v0.7h-0.7zM481.6 41.7h0.7v0.7h-0.7z" fill="#F2CBB8"/>
<path d="M500.6 94.2h0.7v0.7h-0.7zM488.8 51.6h0.7v0.7h-0.7zM496.5 89.9h0.7v0.7h-0.7zM501.6 93.3h0.7v0.7h-0.7zM489.9 65.5h0.7v0.7h-0.7zM500.1 93.0h0.7v0.7h-0.7zM490.2 61.7h0.7v0.7h-0.7zM490.5 64.4h0.7v0.7h-0.7zM489.7 56.1h0.7v0.7h-0.7zM494.7 86.8h0.7v0.7h-0.7zM498.6 91.7h0.7v0.7h-0.7zM490.7 70.6h0.7v0.7h-0.7zM507.6 96.4h0.7v0.7h-0.7zM492.3 83.9h0.7v0.7h-0.7zM490.4 54.1h0.7v0.7h-0.7zM495.4 88.5h0.7v0.7h-0.7zM489.8 55.3h0.7v0.7h-0.7zM490.0 54.8h0.7v0.7h-0.7zM487.5 50.1h0.7v0.7h-0.7zM490.4 70.4h0.7v0.7h-0.7zM490.0 57.9h0.7v0.7h-0.7zM490.7 69.0h0.7v0.7h-0.7zM490.3 64.7h0.7v0.7h-0.7zM489.4 72.9h0.7v0.7h-0.7zM491.8 84.3h0.7v0.7h-0.7zM507.0 96.1h0.7v0.7h-0.7zM489.4 57.8h0.7v0.7h-0.7zM486.7 48.7h0.7v0.7h-0.7zM505.7 95.0h0.7v0.7h-0.7zM506.3 95.0h0.7v0.7h-0.7zM489.1 53.8h0.7v0.7h-0.7zM489.2 71.3h0.7v0.7h-0.7zM489.6 70.8h0.7v0.7h-0.7zM494.4 88.6h0.7v0.7h-0.7zM494.3 85.7h0.7v0.7h-0.7zM490.6 74.8h0.7v0.7h-0.7zM496.5 89.4h0.7v0.7h-0.7zM506.2 94.7h0.7v0.7h-0.7zM504.7 94.2h0.7v0.7h-0.7zM495.9 89.6h0.7v0.7h-0.7zM495.2 86.8h0.7v0.7h-0.7zM494.7 88.1h0.7v0.7h-0.7zM490.9 74.5h0.7v0.7h-0.7zM490.3 70.4h0.7v0.7h-0.7zM507.6 95.9h0.7v0.7h-0.7zM499.4 91.6h0.7v0.7h-0.7zM496.0 90.1h0.7v0.7h-0.7zM487.7 49.7h0.7v0.7h-0.7zM505.4 94.7h0.7v0.7h-0.7zM491.0 82.2h0.7v0.7h-0.7zM489.3 57.9h0.7v0.7h-0.7zM490.2 65.5h0.7v0.7h-0.7zM500.9 92.7h0.7v0.7h-0.7zM490.2 77.1h0.7v0.7h-0.7zM500.4 92.4h0.7v0.7h-0.7zM487.8 49.2h0.7v0.7h-0.7zM501.0 92.5h0.7v0.7h-0.7zM487.1 50.5h0.7v0.7h-0.7zM490.0 53.1h0.7v0.7h-0.7zM490.9 80.8h0.7v0.7h-0.7zM493.4 84.0h0.7v0.7h-0.7zM496.4 88.5h0.7v0.7h-0.7zM491.5 82.0h0.7v0.7h-0.7zM498.4 90.3h0.7v0.7h-0.7zM492.5 82.1h0.7v0.7h-0.7zM494.1 87.1h0.7v0.7h-0.7zM490.0 78.9h0.7v0.7h-0.7zM491.6 83.1h0.7v0.7h-0.7z" fill="#F3D0C0"/>
<path d="M561.8 37.0h0.7v0.7h-0.7zM574.0 69.0h0.7v0.7h-0.7zM573.6 52.1h0.7v0.7h-0.7zM563.2 37.4h0.7v0.7h-0.7zM563.0 77.0h0.7v0.7h-0.7zM572.9 69.3h0.7v0.7h-0.7zM560.5 35.0h0.7v0.7h-0.7zM553.3 79.6h0.7v0.7h-0.7zM559.7 33.1h0.7v0.7h-0.7zM554.6 79.5h0.7v0.7h-0.7zM553.2 79.2h0.7v0.7h-0.7zM571.3 70.9h0.7v0.7h-0.7zM575.5 59.1h0.7v0.7h-0.7zM564.8 37.7h0.7v0.7h-0.7zM547.5 81.4h0.7v0.7h-0.7zM547.9 81.2h0.7v0.7h-0.7zM575.3 64.4h0.7v0.7h-0.7zM560.4 35.2h0.7v0.7h-0.7zM575.0 57.6h0.7v0.7h-0.7zM572.8 71.5h0.7v0.7h-0.7zM575.5 64.5h0.7v0.7h-0.7zM573.8 69.8h0.7v0.7h-0.7zM562.0 77.5h0.7v0.7h-0.7zM571.8 49.9h0.7v0.7h-0.7zM574.8 65.4h0.7v0.7h-0.7zM574.8 66.5h0.7v0.7h-0.7zM554.0 79.8h0.7v0.7h-0.7zM555.5 78.7h0.7v0.7h-0.7zM550.0 80.2h0.7v0.7h-0.7zM574.5 56.1h0.7v0.7h-0.7zM560.9 78.3h0.7v0.7h-0.7zM572.3 71.2h0.7v0.7h-0.7zM576.0 62.7h0.7v0.7h-0.7zM563.8 76.6h0.7v0.7h-0.7zM571.7 50.9h0.7v0.7h-0.7zM561.8 77.8h0.7v0.7h-0.7zM561.8 36.7h0.7v0.7h-0.7zM569.7 73.0h0.7v0.7h-0.7zM574.5 57.2h0.7v0.7h-0.7zM561.9 36.7h0.7v0.7h-0.7zM552.0 79.5h0.7v0.7h-0.7zM566.1 75.6h0.7v0.7h-0.7zM560.8 34.4h0.7v0.7h-0.7zM564.3 77.3h0.7v0.7h-0.7zM559.5 34.0h0.7v0.7h-0.7zM569.7 47.1h0.7v0.7h-0.7zM567.9 42.1h0.7v0.7h-0.7zM572.3 72.7h0.7v0.7h-0.7zM569.0 73.6h0.7v0.7h-0.7zM566.4 41.8h0.7v0.7h-0.7zM567.6 41.8h0.7v0.7h-0.7zM561.6 76.7h0.7v0.7h-0.7zM560.2 33.8h0.7v0.7h-0.7zM567.6 75.2h0.7v0.7h-0.7zM568.0 42.1h0.7v0.7h-0.7zM569.0 44.9h0.7v0.7h-0.7zM573.4 68.6h0.7v0.7h-0.7zM565.7 41.4h0.7v0.7h-0.7zM573.0 50.9h0.7v0.7h-0.7zM569.4 45.6h0.7v0.7h-0.7zM563.1 36.1h0.7v0.7h-0.7zM559.1 33.1h0.7v0.7h-0.7zM552.0 79.1h0.7v0.7h-0.7zM551.7 80.8h0.7v0.7h-0.7zM552.6 80.6h0.7v0.7h-0.7zM559.9 34.3h0.7v0.7h-0.7zM558.8 77.5h0.7v0.7h-0.7zM574.6 66.4h0.7v0.7h-0.7zM570.7 46.4h0.7v0.7h-0.7zM563.4 38.0h0.7v0.7h-0.7zM573.6 52.2h0.7v0.7h-0.7zM569.4 74.1h0.7v0.7h-0.7zM547.3 82.2h0.7v0.7h-0.7zM561.2 77.3h0.7v0.7h-0.7zM566.5 75.1h0.7v0.7h-0.7zM565.3 76.5h0.7v0.7h-0.7zM574.1 67.5h0.7v0.7h-0.7z" fill="#E58A60"/>
<path d="M555.6 26.4h0.7v0.7h-0.7zM524.5 20.7h0.7v0.7h-0.7zM552.4 12.0h0.7v0.7h-0.7zM536.7 7.1h0.7v0.7h-0.7zM555.2 19.3h0.7v0.7h-0.7zM543.9 3.5h0.7v0.7h-0.7zM542.8 2.9h0.7v0.7h-0.7zM529.6 15.1h0.7v0.7h-0.7zM555.4 21.3h0.7v0.7h-0.7zM555.2 21.3h0.7v0.7h-0.7zM554.4 24.5h0.7v0.7h-0.7zM546.1 4.9h0.7v0.7h-0.7zM531.1 14.2h0.7v0.7h-0.7zM551.7 10.3h0.7v0.7h-0.7zM524.3 19.9h0.7v0.7h-0.7zM527.1 19.7h0.7v0.7h-0.7zM555.3 26.1h0.7v0.7h-0.7zM554.4 19.7h0.7v0.7h-0.7zM554.8 20.3h0.7v0.7h-0.7zM555.1 24.8h0.7v0.7h-0.7zM532.4 11.9h0.7v0.7h-0.7zM542.3 4.2h0.7v0.7h-0.7zM553.6 15.1h0.7v0.7h-0.7zM550.5 9.2h0.7v0.7h-0.7zM524.6 21.8h0.7v0.7h-0.7zM523.3 20.8h0.7v0.7h-0.7zM526.1 20.1h0.7v0.7h-0.7zM555.4 27.2h0.7v0.7h-0.7zM554.3 18.8h0.7v0.7h-0.7zM553.2 12.8h0.7v0.7h-0.7zM538.8 4.3h0.7v0.7h-0.7zM543.1 3.8h0.7v0.7h-0.7zM531.2 14.6h0.7v0.7h-0.7zM544.5 4.3h0.7v0.7h-0.7zM527.5 17.9h0.7v0.7h-0.7zM533.8 11.0h0.7v0.7h-0.7zM555.1 24.4h0.7v0.7h-0.7zM545.1 4.0h0.7v0.7h-0.7zM523.1 20.9h0.7v0.7h-0.7zM533.9 9.4h0.7v0.7h-0.7zM553.2 13.8h0.7v0.7h-0.7zM554.2 22.2h0.7v0.7h-0.7zM524.0 22.1h0.7v0.7h-0.7zM554.5 21.3h0.7v0.7h-0.7zM523.9 21.6h0.7v0.7h-0.7zM548.7 6.9h0.7v0.7h-0.7zM545.4 5.1h0.7v0.7h-0.7zM552.4 13.9h0.7v0.7h-0.7zM557.1 27.7h0.7v0.7h-0.7zM536.5 8.0h0.7v0.7h-0.7zM541.3 3.9h0.7v0.7h-0.7zM528.2 17.9h0.7v0.7h-0.7zM543.5 3.7h0.7v0.7h-0.7zM554.5 21.4h0.7v0.7h-0.7zM555.8 26.5h0.7v0.7h-0.7zM531.8 11.3h0.7v0.7h-0.7zM554.3 23.1h0.7v0.7h-0.7zM539.3 3.9h0.7v0.7h-0.7zM528.8 17.4h0.7v0.7h-0.7zM556.4 29.5h0.7v0.7h-0.7zM548.3 5.2h0.7v0.7h-0.7z" fill="#EFC0A8"/>
<path d="M523.7 90.5h0.7v0.7h-0.7zM532.9 84.6h0.7v0.7h-0.7zM512.9 96.6h0.7v0.7h-0.7zM525.1 89.8h0.7v0.7h-0.7zM532.6 84.7h0.7v0.7h-0.7zM516.7 96.7h0.7v0.7h-0.7zM544.7 80.9h0.7v0.7h-0.7zM535.7 83.8h0.7v0.7h-0.7zM524.2 91.4h0.7v0.7h-0.7zM527.5 87.5h0.7v0.7h-0.7zM521.7 92.1h0.7v0.7h-0.7zM509.7 96.1h0.7v0.7h-0.7zM535.1 85.2h0.7v0.7h-0.7zM524.5 91.9h0.7v0.7h-0.7zM520.3 94.9h0.7v0.7h-0.7zM528.4 87.1h0.7v0.7h-0.7zM511.6 96.9h0.7v0.7h-0.7zM535.5 84.2h0.7v0.7h-0.7zM512.0 97.1h0.7v0.7h-0.7zM525.2 89.3h0.7v0.7h-0.7zM523.1 92.5h0.7v0.7h-0.7zM521.7 94.0h0.7v0.7h-0.7zM530.4 85.8h0.7v0.7h-0.7zM528.1 87.7h0.7v0.7h-0.7zM510.5 96.5h0.7v0.7h-0.7zM543.2 81.8h0.7v0.7h-0.7zM509.9 95.6h0.7v0.7h-0.7zM535.1 84.5h0.7v0.7h-0.7zM517.5 95.1h0.7v0.7h-0.7zM535.0 85.5h0.7v0.7h-0.7zM512.4 97.6h0.7v0.7h-0.7z" fill="#EEB8A0"/>
<path d="M557.4 77.1h0.7v0.7h-0.7zM556.0 29.5h0.7v0.7h-0.7zM563.1 38.9h0.7v0.7h-0.7zM536.3 82.5h0.7v0.7h-0.7zM529.3 85.0h0.7v0.7h-0.7zM506.6 29.6h0.7v0.7h-0.7zM572.4 67.4h0.7v0.7h-0.7zM503.8 29.9h0.7v0.7h-0.7zM556.8 32.5h0.7v0.7h-0.7zM491.7 73.7h0.7v0.7h-0.7zM572.9 67.6h0.7v0.7h-0.7zM526.7 86.9h0.7v0.7h-0.7zM563.4 39.5h0.7v0.7h-0.7zM491.4 33.6h0.7v0.7h-0.7zM558.0 34.4h0.7v0.7h-0.7zM499.8 89.6h0.7v0.7h-0.7zM561.2 76.1h0.7v0.7h-0.7zM498.0 87.9h0.7v0.7h-0.7zM493.5 81.6h0.7v0.7h-0.7zM567.2 73.0h0.7v0.7h-0.7zM550.8 14.0h0.7v0.7h-0.7zM555.0 78.2h0.7v0.7h-0.7zM495.0 84.3h0.7v0.7h-0.7zM516.6 94.1h0.7v0.7h-0.7zM523.3 90.2h0.7v0.7h-0.7zM571.2 70.1h0.7v0.7h-0.7zM568.8 71.7h0.7v0.7h-0.7zM535.5 82.1h0.7v0.7h-0.7zM492.0 73.0h0.7v0.7h-0.7zM557.0 32.3h0.7v0.7h-0.7zM489.9 35.3h0.7v0.7h-0.7zM501.8 91.1h0.7v0.7h-0.7zM535.8 82.4h0.7v0.7h-0.7zM550.1 78.7h0.7v0.7h-0.7zM571.7 52.7h0.7v0.7h-0.7zM483.7 38.9h0.7v0.7h-0.7zM547.1 79.1h0.7v0.7h-0.7zM573.5 56.2h0.7v0.7h-0.7zM564.0 40.9h0.7v0.7h-0.7zM540.7 6.4h0.7v0.7h-0.7zM483.1 41.2h0.7v0.7h-0.7zM558.1 76.0h0.7v0.7h-0.7zM508.8 95.3h0.7v0.7h-0.7zM574.0 63.5h0.7v0.7h-0.7zM491.6 73.9h0.7v0.7h-0.7zM489.0 35.2h0.7v0.7h-0.7zM534.8 82.6h0.7v0.7h-0.7zM553.0 25.0h0.7v0.7h-0.7zM489.6 49.2h0.7v0.7h-0.7zM505.0 93.4h0.7v0.7h-0.7zM517.7 25.3h0.7v0.7h-0.7zM531.1 83.6h0.7v0.7h-0.7zM567.4 72.5h0.7v0.7h-0.7zM565.5 42.6h0.7v0.7h-0.7zM568.5 45.6h0.7v0.7h-0.7zM525.5 87.5h0.7v0.7h-0.7zM499.5 31.9h0.7v0.7h-0.7zM555.3 28.3h0.7v0.7h-0.7zM497.7 89.1h0.7v0.7h-0.7zM505.0 29.5h0.7v0.7h-0.7zM484.7 43.8h0.7v0.7h-0.7zM565.8 43.0h0.7v0.7h-0.7zM506.5 30.2h0.7v0.7h-0.7zM530.4 17.1h0.7v0.7h-0.7zM553.8 77.6h0.7v0.7h-0.7zM491.2 64.1h0.7v0.7h-0.7zM492.5 33.6h0.7v0.7h-0.7zM503.5 29.8h0.7v0.7h-0.7zM561.2 37.6h0.7v0.7h-0.7zM553.6 20.7h0.7v0.7h-0.7zM509.8 29.4h0.7v0.7h-0.7zM492.2 33.9h0.7v0.7h-0.7zM502.5 92.8h0.7v0.7h-0.7zM532.2 15.5h0.7v0.7h-0.7zM508.5 94.7h0.7v0.7h-0.7zM524.4 88.3h0.7v0.7h-0.7zM519.4 25.4h0.7v0.7h-0.7zM484.2 43.8h0.7v0.7h-0.7zM500.9 92.0h0.7v0.7h-0.7zM511.0 95.2h0.7v0.7h-0.7zM492.5 77.8h0.7v0.7h-0.7zM492.4 80.9h0.7v0.7h-0.7zM491.0 73.3h0.7v0.7h-0.7zM554.8 29.1h0.7v0.7h-0.7zM484.5 38.0h0.7v0.7h-0.7zM529.7 17.2h0.7v0.7h-0.7zM567.7 45.9h0.7v0.7h-0.7zM572.4 67.8h0.7v0.7h-0.7zM484.8 45.1h0.7v0.7h-0.7zM487.3 48.0h0.7v0.7h-0.7zM528.4 19.7h0.7v0.7h-0.7zM560.5 36.2h0.7v0.7h-0.7zM544.9 80.4h0.7v0.7h-0.7zM513.3 95.5h0.7v0.7h-0.7zM511.5 28.3h0.7v0.7h-0.7zM499.0 89.0h0.7v0.7h-0.7zM506.9 94.2h0.7v0.7h-0.7zM508.2 94.9h0.7v0.7h-0.7zM491.1 68.7h0.7v0.7h-0.7zM483.4 41.3h0.7v0.7h-0.7zM491.9 70.9h0.7v0.7h-0.7zM573.7 63.5h0.7v0.7h-0.7zM484.4 38.1h0.7v0.7h-0.7zM484.9 44.9h0.7v0.7h-0.7zM556.5 77.8h0.7v0.7h-0.7zM488.0 48.0h0.7v0.7h-0.7zM491.7 56.4h0.7v0.7h-0.7zM554.4 77.8h0.7v0.7h-0.7zM489.9 50.6h0.7v0.7h-0.7zM549.2 11.1h0.7v0.7h-0.7zM492.6 78.5h0.7v0.7h-0.7zM523.9 23.6h0.7v0.7h-0.7zM535.3 10.4h0.7v0.7h-0.7zM563.5 39.1h0.7v0.7h-0.7zM530.5 16.8h0.7v0.7h-0.7zM502.6 31.2h0.7v0.7h-0.7zM558.5 34.6h0.7v0.7h-0.7zM507.4 28.9h0.7v0.7h-0.7zM560.6 36.9h0.7v0.7h-0.7zM542.9 81.4h0.7v0.7h-0.7zM534.6 10.9h0.7v0.7h-0.7zM569.9 49.5h0.7v0.7h-0.7zM496.7 32.1h0.7v0.7h-0.7zM520.9 24.6h0.7v0.7h-0.7zM556.3 31.7h0.7v0.7h-0.7zM492.6 34.1h0.7v0.7h-0.7zM491.7 61.7h0.7v0.7h-0.7zM496.6 86.0h0.7v0.7h-0.7zM533.2 83.6h0.7v0.7h-0.7zM552.6 19.7h0.7v0.7h-0.7zM488.3 47.5h0.7v0.7h-0.7zM493.7 82.2h0.7v0.7h-0.7zM526.9 20.4h0.7v0.7h-0.7zM554.0 77.2h0.7v0.7h-0.7zM574.1 56.3h0.7v0.7h-0.7zM489.3 35.5h0.7v0.7h-0.7zM563.7 41.3h0.7v0.7h-0.7zM487.3 47.4h0.7v0.7h-0.7zM493.3 79.4h0.7v0.7h-0.7zM530.8 84.3h0.7v0.7h-0.7zM566.9 45.3h0.7v0.7h-0.7zM493.1 78.4h0.7v0.7h-0.7zM495.3 84.6h0.7v0.7h-0.7zM531.9 84.1h0.7v0.7h-0.7zM484.5 43.8h0.7v0.7h-0.7zM557.1 77.0h0.7v0.7h-0.7zM538.5 7.2h0.7v0.7h-0.7zM574.1 65.5h0.7v0.7h-0.7zM549.1 8.3h0.7v0.7h-0.7zM568.4 46.1h0.7v0.7h-0.7zM516.0 26.9h0.7v0.7h-0.7zM496.0 85.7h0.7v0.7h-0.7zM528.4 85.3h0.7v0.7h-0.7zM563.5 75.3h0.7v0.7h-0.7zM567.1 43.7h0.7v0.7h-0.7zM491.5 74.4h0.7v0.7h-0.7zM489.1 49.9h0.7v0.7h-0.7zM553.6 78.0h0.7v0.7h-0.7zM551.9 17.1h0.7v0.7h-0.7zM514.2 27.3h0.7v0.7h-0.7zM543.4 5.4h0.7v0.7h-0.7zM513.3 94.5h0.7v0.7h-0.7zM490.9 71.4h0.7v0.7h-0.7zM573.9 64.4h0.7v0.7h-0.7zM493.1 33.9h0.7v0.7h-0.7zM574.1 62.2h0.7v0.7h-0.7zM515.2 95.0h0.7v0.7h-0.7zM571.4 70.2h0.7v0.7h-0.7zM520.4 92.4h0.7v0.7h-0.7zM517.7 26.4h0.7v0.7h-0.7zM491.0 55.4h0.7v0.7h-0.7zM493.9 32.2h0.7v0.7h-0.7zM522.5 90.7h0.7v0.7h-0.7zM533.7 11.8h0.7v0.7h-0.7zM565.5 42.6h0.7v0.7h-0.7zM554.1 77.4h0.7v0.7h-0.7zM511.5 28.2h0.7v0.7h-0.7zM490.9 65.8h0.7v0.7h-0.7zM515.7 94.1h0.7v0.7h-0.7zM490.7 54.5h0.7v0.7h-0.7zM561.6 75.8h0.7v0.7h-0.7zM559.0 77.0h0.7v0.7h-0.7zM573.4 68.1h0.7v0.7h-0.7zM512.3 95.3h0.7v0.7h-0.7zM571.9 52.1h0.7v0.7h-0.7zM492.5 77.2h0.7v0.7h-0.7zM546.5 79.2h0.7v0.7h-0.7zM493.4 79.9h0.7v0.7h-0.7zM527.8 85.6h0.7v0.7h-0.7zM572.5 53.1h0.7v0.7h-0.7zM561.0 76.0h0.7v0.7h-0.7zM488.6 49.5h0.7v0.7h-0.7zM561.9 37.5h0.7v0.7h-0.7zM518.4 94.0h0.7v0.7h-0.7zM516.7 26.4h0.7v0.7h-0.7zM492.0 70.7h0.7v0.7h-0.7zM553.8 27.7h0.7v0.7h-0.7zM540.0 5.7h0.7v0.7h-0.7zM542.8 80.1h0.7v0.7h-0.7zM520.1 92.1h0.7v0.7h-0.7z" fill="#fff"/>
<text x="528.4" y="8.6" font-size="3.7" font-weight="bold" text-anchor="middle" fill="#333">SCT</text>
<text x="542.3" y="25.1" font-size="3.7" font-weight="bold" text-anchor="middle" fill="#333">VCT_fusing</text>
<text x="511.1" y="46.0" font-size="3.7" font-weight="bold" text-anchor="middle" fill="#333">VCT_LDHA</text>
<text x="513.8" y="66.3" font-size="3.7" font-weight="bold" text-anchor="middle" fill="#333">EVT</text>
<text x="556.1" y="64.9" font-size="3.7" font-weight="bold" text-anchor="middle" fill="#333">VCT_TP63</text>
<text x="498.4" y="76.9" font-size="3.7" font-weight="bold" text-anchor="middle" fill="#333">VCT_LDHA_Cycling</text>
<text x="522.5" y="88.8" font-size="3.7" font-weight="bold" text-anchor="middle" fill="#333">VCT_TP63_Cycling</text>
<text x="479.20" y="14.50" font-size="10.4" fill="#111" text-anchor="start" font-weight="normal" textLength="23" lengthAdjust="spacingAndGlyphs" >TP63</text>
<circle cx="597.8" cy="23.80" r="2" fill="#E3E5E7"/>
<text x="601.10" y="25.20" font-size="3.9" fill="#3a3a3a" text-anchor="start" font-weight="bold" textLength="18" lengthAdjust="spacingAndGlyphs" >NO VALUE</text>
<circle cx="597.8" cy="29.38" r="2" fill="#FAEEE4"/>
<text x="601.10" y="30.78" font-size="3.9" fill="#3a3a3a" text-anchor="start" font-weight="bold" textLength="21.6" lengthAdjust="spacingAndGlyphs" >0.000–0.295</text>
<circle cx="597.8" cy="34.96" r="2" fill="#F5D6C2"/>
<text x="601.10" y="36.36" font-size="3.9" fill="#3a3a3a" text-anchor="start" font-weight="bold" textLength="21.6" lengthAdjust="spacingAndGlyphs" >0.295–0.585</text>
<circle cx="597.8" cy="40.54" r="2" fill="#F1B797"/>
<text x="601.10" y="41.94" font-size="3.9" fill="#3a3a3a" text-anchor="start" font-weight="bold" textLength="21.6" lengthAdjust="spacingAndGlyphs" >0.585–0.885</text>
<circle cx="597.8" cy="46.12" r="2" fill="#EE966E"/>
<text x="601.10" y="47.52" font-size="3.9" fill="#3a3a3a" text-anchor="start" font-weight="bold" textLength="21.6" lengthAdjust="spacingAndGlyphs" >0.885–1.185</text>
<circle cx="597.8" cy="51.70" r="2" fill="#EC744A"/>
<text x="601.10" y="53.10" font-size="3.9" fill="#3a3a3a" text-anchor="start" font-weight="bold" textLength="21.6" lengthAdjust="spacingAndGlyphs" >1.185–1.485</text>
<circle cx="597.8" cy="57.28" r="2" fill="#E85428"/>
<text x="601.10" y="58.68" font-size="3.9" fill="#3a3a3a" text-anchor="start" font-weight="bold" textLength="21.6" lengthAdjust="spacingAndGlyphs" >1.485–1.785</text>
<circle cx="597.8" cy="62.86" r="2" fill="#CF3A1A"/>
<text x="601.10" y="64.26" font-size="3.9" fill="#3a3a3a" text-anchor="start" font-weight="bold" textLength="21.6" lengthAdjust="spacingAndGlyphs" >1.785–2.085</text>
<circle cx="597.8" cy="68.44" r="2" fill="#A82816"/>
<text x="601.10" y="69.84" font-size="3.9" fill="#3a3a3a" text-anchor="start" font-weight="bold" textLength="21.6" lengthAdjust="spacingAndGlyphs" >2.085–2.384</text>
<circle cx="597.8" cy="74.02" r="2" fill="#7A1208"/>
<text x="601.10" y="75.42" font-size="3.9" fill="#3a3a3a" text-anchor="start" font-weight="bold" textLength="21.6" lengthAdjust="spacingAndGlyphs" >2.384–3.665</text>
<path d="M481.3 153.1 L482.3 149.6 L485.7 147.1 L493.0 143.5 L501.9 141.2 L510.9 139.0 L517.2 136.8 L523.4 134.5 L528.8 130.0 L532.7 125.0 L536.5 120.0 L539.6 116.5 L544.1 115.2 L549.5 117.5 L552.6 123.8 L554.9 130.0 L555.7 137.2 L558.4 142.7 L563.0 148.0 L569.3 155.2 L572.8 161.0 L576.4 168.1 L577.3 174.4 L575.5 180.7 L571.0 185.2 L564.7 187.9 L555.7 190.6 L546.8 192.8 L537.8 195.1 L531.5 196.9 L525.0 202.0 L519.9 205.9 L513.6 208.2 L507.3 207.7 L501.0 205.0 L495.7 200.5 L491.6 194.2 L489.8 185.2 L489.8 174.4 L489.4 163.7 L485.7 159.1 L483.4 156.6 L481.5 154.3Z" fill="#FAEAE2" filter="url(#b06)"/>
<clipPath id="clipLDHA"><path d="M481.3 153.1 L482.3 149.6 L485.7 147.1 L493.0 143.5 L501.9 141.2 L510.9 139.0 L517.2 136.8 L523.4 134.5 L528.8 130.0 L532.7 125.0 L536.5 120.0 L539.6 116.5 L544.1 115.2 L549.5 117.5 L552.6 123.8 L554.9 130.0 L555.7 137.2 L558.4 142.7 L563.0 148.0 L569.3 155.2 L572.8 161.0 L576.4 168.1 L577.3 174.4 L575.5 180.7 L571.0 185.2 L564.7 187.9 L555.7 190.6 L546.8 192.8 L537.8 195.1 L531.5 196.9 L525.0 202.0 L519.9 205.9 L513.6 208.2 L507.3 207.7 L501.0 205.0 L495.7 200.5 L491.6 194.2 L489.8 185.2 L489.8 174.4 L489.4 163.7 L485.7 159.1 L483.4 156.6 L481.5 154.3Z"/></clipPath>
<g clip-path="url(#clipLDHA)">
<path d="M535.0 144.2 L545.7 145.8 L555.7 142.7 L563.4 148.9 L571.1 156.6 L575.7 167.4 L577.3 176.6 L571.9 185.1 L561.1 189.7 L548.0 192.8 L539.6 188.9 L536.5 176.6 L536.5 159.7Z" fill="#F0B096" filter="url(#b5)"/>
<path d="M525.7 136.6 L530.3 127.3 L536.5 118.1 L544.2 115.0 L550.3 118.1 L553.4 125.8 L555.7 138.1 L550.3 144.2 L539.6 142.7 L531.9 139.6Z" fill="#F8E2D8" filter="url(#b5)"/>
<path d="M481.3 153.1 L485.7 147.1 L493.0 143.5 L501.9 141.2 L510.9 139.0 L521.1 136.6 L528.8 138.1 L535.0 144.2 L536.5 151.9 L534.2 161.2 L531.9 168.9 L521.1 166.6 L507.3 166.6 L502.7 171.2 L503.4 182.8 L510.4 190.4 L528.8 192.0 L542.7 191.2 L546.5 192.8 L537.8 195.1 L531.5 196.9 L525.0 202.0 L519.9 205.9 L513.6 208.2 L507.3 207.7 L501.0 205.0 L495.7 200.5 L491.6 194.2 L489.8 185.2 L489.8 174.4 L489.4 163.7 L485.7 159.1Z" fill="#E07C56" filter="url(#b5)"/>
<path d="M481.3 153.1 L485.7 147.1 L493.0 143.5 L498.1 142.7 L496.5 151.9 L491.9 159.7 L490.4 171.2 L491.1 186.6 L495.0 198.2 L501.9 204.3 L510.4 206.6 L507.3 207.7 L501.0 205.0 L495.7 200.5 L491.6 194.2 L489.8 185.2 L489.8 174.4 L489.4 163.7 L485.7 159.1Z" fill="#D55A34" filter="url(#b3)"/>
</g>
<path d="M504.2 172.0 L508.8 166.6 L516.5 165.0 L525.7 167.4 L533.4 172.0 L539.6 178.1 L540.3 185.1 L535.7 189.7 L527.3 188.9 L518.8 185.1 L511.1 180.4 L505.7 175.8Z" fill="#fff" filter="url(#b15)"/>
<path d="M491.6 157.3h0.7v0.7h-0.7zM545.7 175.4h0.7v0.7h-0.7zM553.3 184.4h0.7v0.7h-0.7zM520.3 157.9h0.7v0.7h-0.7zM555.2 183.9h0.7v0.7h-0.7zM506.9 167.2h0.7v0.7h-0.7zM501.5 172.7h0.7v0.7h-0.7zM554.3 155.8h0.7v0.7h-0.7zM516.7 164.8h0.7v0.7h-0.7zM535.3 157.8h0.7v0.7h-0.7zM529.4 158.2h0.7v0.7h-0.7zM564.8 152.8h0.7v0.7h-0.7zM531.3 129.8h0.7v0.7h-0.7zM503.5 165.3h0.7v0.7h-0.7zM555.9 157.9h0.7v0.7h-0.7zM519.9 152.2h0.7v0.7h-0.7zM531.2 193.2h0.7v0.7h-0.7zM524.1 149.7h0.7v0.7h-0.7zM521.2 191.0h0.7v0.7h-0.7zM523.3 139.0h0.7v0.7h-0.7zM546.8 192.0h0.7v0.7h-0.7zM554.6 156.4h0.7v0.7h-0.7zM491.0 188.9h0.7v0.7h-0.7zM552.0 125.9h0.7v0.7h-0.7zM569.2 185.7h0.7v0.7h-0.7zM493.4 171.4h0.7v0.7h-0.7zM545.0 175.7h0.7v0.7h-0.7zM567.2 171.8h0.7v0.7h-0.7zM498.3 160.5h0.7v0.7h-0.7zM504.6 157.7h0.7v0.7h-0.7zM548.3 119.5h0.7v0.7h-0.7zM507.2 146.3h0.7v0.7h-0.7zM537.8 173.8h0.7v0.7h-0.7zM558.8 175.9h0.7v0.7h-0.7zM512.6 160.5h0.7v0.7h-0.7zM568.2 154.0h0.7v0.7h-0.7zM545.0 129.6h0.7v0.7h-0.7zM507.5 165.5h0.7v0.7h-0.7zM497.4 200.3h0.7v0.7h-0.7zM549.7 173.0h0.7v0.7h-0.7zM521.6 139.3h0.7v0.7h-0.7zM569.8 176.9h0.7v0.7h-0.7zM519.3 193.5h0.7v0.7h-0.7zM550.5 141.4h0.7v0.7h-0.7zM490.8 176.8h0.7v0.7h-0.7zM536.6 168.8h0.7v0.7h-0.7zM554.7 163.3h0.7v0.7h-0.7zM541.9 193.5h0.7v0.7h-0.7zM544.0 127.0h0.7v0.7h-0.7zM504.9 148.8h0.7v0.7h-0.7zM550.8 165.3h0.7v0.7h-0.7zM518.5 205.3h0.7v0.7h-0.7zM568.1 178.4h0.7v0.7h-0.7zM499.2 171.9h0.7v0.7h-0.7zM531.6 153.7h0.7v0.7h-0.7zM549.8 175.4h0.7v0.7h-0.7zM518.6 140.0h0.7v0.7h-0.7zM526.9 193.9h0.7v0.7h-0.7zM546.3 152.1h0.7v0.7h-0.7zM499.6 174.1h0.7v0.7h-0.7zM536.6 170.3h0.7v0.7h-0.7zM547.9 182.4h0.7v0.7h-0.7zM492.8 167.8h0.7v0.7h-0.7zM525.9 138.3h0.7v0.7h-0.7zM545.0 137.0h0.7v0.7h-0.7zM553.5 188.7h0.7v0.7h-0.7zM547.5 128.2h0.7v0.7h-0.7zM500.9 166.2h0.7v0.7h-0.7zM507.7 207.2h0.7v0.7h-0.7zM567.2 177.0h0.7v0.7h-0.7zM487.1 150.4h0.7v0.7h-0.7zM540.4 156.8h0.7v0.7h-0.7zM495.3 172.6h0.7v0.7h-0.7zM564.2 155.2h0.7v0.7h-0.7zM485.6 157.7h0.7v0.7h-0.7zM549.7 139.1h0.7v0.7h-0.7zM499.0 175.7h0.7v0.7h-0.7zM561.5 167.3h0.7v0.7h-0.7zM491.8 147.2h0.7v0.7h-0.7zM540.3 162.1h0.7v0.7h-0.7zM534.4 165.5h0.7v0.7h-0.7zM567.5 179.0h0.7v0.7h-0.7zM552.7 159.9h0.7v0.7h-0.7zM565.1 157.5h0.7v0.7h-0.7zM547.5 166.0h0.7v0.7h-0.7zM550.8 137.6h0.7v0.7h-0.7zM539.3 121.7h0.7v0.7h-0.7zM575.8 172.2h0.7v0.7h-0.7zM552.5 155.6h0.7v0.7h-0.7zM551.0 152.5h0.7v0.7h-0.7zM537.0 154.4h0.7v0.7h-0.7zM558.0 177.2h0.7v0.7h-0.7zM535.9 142.3h0.7v0.7h-0.7zM503.9 199.0h0.7v0.7h-0.7zM501.5 172.4h0.7v0.7h-0.7zM505.9 195.0h0.7v0.7h-0.7zM486.8 152.7h0.7v0.7h-0.7zM494.1 186.5h0.7v0.7h-0.7zM521.4 149.6h0.7v0.7h-0.7zM494.4 145.1h0.7v0.7h-0.7zM519.0 164.9h0.7v0.7h-0.7zM486.4 159.4h0.7v0.7h-0.7zM528.3 199.1h0.7v0.7h-0.7zM503.5 175.9h0.7v0.7h-0.7zM524.7 201.2h0.7v0.7h-0.7zM503.0 190.2h0.7v0.7h-0.7zM552.1 147.4h0.7v0.7h-0.7zM543.0 118.5h0.7v0.7h-0.7zM501.7 169.2h0.7v0.7h-0.7zM513.6 204.6h0.7v0.7h-0.7zM516.2 195.5h0.7v0.7h-0.7zM490.0 168.5h0.7v0.7h-0.7zM567.5 156.6h0.7v0.7h-0.7zM546.1 128.3h0.7v0.7h-0.7zM497.0 144.4h0.7v0.7h-0.7zM565.4 184.4h0.7v0.7h-0.7zM570.4 177.6h0.7v0.7h-0.7zM546.9 164.7h0.7v0.7h-0.7zM538.4 128.8h0.7v0.7h-0.7zM543.7 173.6h0.7v0.7h-0.7zM494.6 172.5h0.7v0.7h-0.7zM555.5 136.8h0.7v0.7h-0.7zM556.0 180.2h0.7v0.7h-0.7zM560.3 157.0h0.7v0.7h-0.7zM496.9 151.4h0.7v0.7h-0.7zM542.1 164.1h0.7v0.7h-0.7zM513.4 185.7h0.7v0.7h-0.7zM562.1 182.4h0.7v0.7h-0.7zM550.5 136.7h0.7v0.7h-0.7zM492.2 181.7h0.7v0.7h-0.7zM493.4 181.5h0.7v0.7h-0.7zM536.9 191.2h0.7v0.7h-0.7zM546.7 164.9h0.7v0.7h-0.7zM501.0 142.5h0.7v0.7h-0.7zM524.4 193.1h0.7v0.7h-0.7zM569.2 175.5h0.7v0.7h-0.7zM542.7 173.9h0.7v0.7h-0.7zM575.7 176.3h0.7v0.7h-0.7zM525.8 140.8h0.7v0.7h-0.7zM529.3 169.1h0.7v0.7h-0.7zM548.2 126.0h0.7v0.7h-0.7zM536.3 128.5h0.7v0.7h-0.7zM520.9 159.0h0.7v0.7h-0.7zM521.6 160.9h0.7v0.7h-0.7zM558.4 160.4h0.7v0.7h-0.7zM501.3 150.8h0.7v0.7h-0.7zM541.7 157.6h0.7v0.7h-0.7zM550.8 186.1h0.7v0.7h-0.7zM513.7 157.1h0.7v0.7h-0.7zM526.5 198.3h0.7v0.7h-0.7zM497.6 171.4h0.7v0.7h-0.7zM524.1 193.5h0.7v0.7h-0.7zM555.9 143.3h0.7v0.7h-0.7zM546.9 144.2h0.7v0.7h-0.7zM490.0 169.4h0.7v0.7h-0.7zM515.9 150.4h0.7v0.7h-0.7zM505.7 148.2h0.7v0.7h-0.7zM542.1 149.6h0.7v0.7h-0.7zM538.9 119.9h0.7v0.7h-0.7zM483.0 150.3h0.7v0.7h-0.7zM561.6 169.5h0.7v0.7h-0.7zM551.9 189.2h0.7v0.7h-0.7zM555.0 143.8h0.7v0.7h-0.7zM504.7 161.5h0.7v0.7h-0.7zM510.1 139.6h0.7v0.7h-0.7zM546.9 153.4h0.7v0.7h-0.7zM543.4 144.9h0.7v0.7h-0.7zM533.7 195.8h0.7v0.7h-0.7zM544.2 176.8h0.7v0.7h-0.7zM497.5 183.5h0.7v0.7h-0.7zM501.5 166.2h0.7v0.7h-0.7zM560.8 177.8h0.7v0.7h-0.7zM552.4 169.3h0.7v0.7h-0.7zM503.4 144.3h0.7v0.7h-0.7zM527.3 133.7h0.7v0.7h-0.7zM550.9 159.0h0.7v0.7h-0.7zM496.9 198.5h0.7v0.7h-0.7zM493.2 162.7h0.7v0.7h-0.7zM507.6 178.0h0.7v0.7h-0.7zM561.6 154.3h0.7v0.7h-0.7zM564.6 173.9h0.7v0.7h-0.7zM520.8 196.1h0.7v0.7h-0.7zM518.1 198.9h0.7v0.7h-0.7zM564.2 149.7h0.7v0.7h-0.7zM546.0 135.3h0.7v0.7h-0.7zM570.6 157.5h0.7v0.7h-0.7zM537.7 138.8h0.7v0.7h-0.7zM496.7 182.5h0.7v0.7h-0.7zM520.8 153.6h0.7v0.7h-0.7zM544.3 166.0h0.7v0.7h-0.7zM526.8 198.1h0.7v0.7h-0.7zM507.5 156.8h0.7v0.7h-0.7zM493.9 168.6h0.7v0.7h-0.7zM519.0 149.6h0.7v0.7h-0.7zM516.1 191.6h0.7v0.7h-0.7zM563.6 160.9h0.7v0.7h-0.7zM549.7 160.4h0.7v0.7h-0.7zM548.4 170.3h0.7v0.7h-0.7zM572.0 173.7h0.7v0.7h-0.7zM506.7 165.5h0.7v0.7h-0.7zM554.2 171.2h0.7v0.7h-0.7zM517.1 138.3h0.7v0.7h-0.7zM510.4 147.4h0.7v0.7h-0.7zM535.3 163.9h0.7v0.7h-0.7zM516.5 138.7h0.7v0.7h-0.7zM527.8 196.4h0.7v0.7h-0.7zM561.4 166.1h0.7v0.7h-0.7zM562.6 168.2h0.7v0.7h-0.7zM491.9 145.8h0.7v0.7h-0.7zM552.4 179.6h0.7v0.7h-0.7zM543.6 132.1h0.7v0.7h-0.7zM562.9 162.3h0.7v0.7h-0.7zM506.5 177.9h0.7v0.7h-0.7zM499.6 201.6h0.7v0.7h-0.7zM551.5 139.8h0.7v0.7h-0.7zM539.5 194.6h0.7v0.7h-0.7zM553.1 187.1h0.7v0.7h-0.7zM553.3 167.6h0.7v0.7h-0.7zM492.9 148.4h0.7v0.7h-0.7zM483.6 153.5h0.7v0.7h-0.7zM560.7 181.3h0.7v0.7h-0.7zM552.6 127.9h0.7v0.7h-0.7zM511.6 156.2h0.7v0.7h-0.7zM531.4 165.9h0.7v0.7h-0.7zM492.9 152.4h0.7v0.7h-0.7zM554.3 169.9h0.7v0.7h-0.7zM536.1 130.6h0.7v0.7h-0.7zM486.6 153.2h0.7v0.7h-0.7zM488.5 147.7h0.7v0.7h-0.7zM512.8 139.0h0.7v0.7h-0.7zM497.4 146.9h0.7v0.7h-0.7zM542.9 168.2h0.7v0.7h-0.7zM503.4 183.2h0.7v0.7h-0.7zM522.9 158.6h0.7v0.7h-0.7zM544.7 187.3h0.7v0.7h-0.7zM515.9 201.6h0.7v0.7h-0.7zM540.5 128.9h0.7v0.7h-0.7zM552.7 189.4h0.7v0.7h-0.7zM528.6 159.2h0.7v0.7h-0.7zM502.9 178.4h0.7v0.7h-0.7zM501.0 146.4h0.7v0.7h-0.7zM552.4 166.6h0.7v0.7h-0.7zM522.2 154.5h0.7v0.7h-0.7zM501.4 172.5h0.7v0.7h-0.7zM489.1 157.1h0.7v0.7h-0.7zM537.4 165.7h0.7v0.7h-0.7zM531.5 149.9h0.7v0.7h-0.7zM511.6 148.0h0.7v0.7h-0.7zM556.5 154.7h0.7v0.7h-0.7zM501.4 181.1h0.7v0.7h-0.7zM536.5 146.4h0.7v0.7h-0.7zM529.9 152.5h0.7v0.7h-0.7zM508.1 199.7h0.7v0.7h-0.7zM506.2 150.9h0.7v0.7h-0.7zM492.6 158.8h0.7v0.7h-0.7zM567.8 178.2h0.7v0.7h-0.7zM525.7 142.3h0.7v0.7h-0.7zM539.6 160.7h0.7v0.7h-0.7zM533.6 152.1h0.7v0.7h-0.7zM511.7 193.4h0.7v0.7h-0.7zM495.9 158.5h0.7v0.7h-0.7zM493.9 159.3h0.7v0.7h-0.7zM561.7 184.5h0.7v0.7h-0.7zM496.0 189.2h0.7v0.7h-0.7zM490.9 188.1h0.7v0.7h-0.7zM535.4 173.9h0.7v0.7h-0.7zM508.9 155.6h0.7v0.7h-0.7zM531.9 129.7h0.7v0.7h-0.7zM545.8 184.4h0.7v0.7h-0.7zM566.5 177.2h0.7v0.7h-0.7zM517.4 156.6h0.7v0.7h-0.7zM517.5 196.7h0.7v0.7h-0.7zM548.2 125.1h0.7v0.7h-0.7zM510.0 154.2h0.7v0.7h-0.7zM516.0 140.8h0.7v0.7h-0.7zM569.4 162.6h0.7v0.7h-0.7zM524.5 139.5h0.7v0.7h-0.7zM568.1 185.5h0.7v0.7h-0.7zM538.0 188.4h0.7v0.7h-0.7zM553.7 173.3h0.7v0.7h-0.7zM562.8 179.9h0.7v0.7h-0.7zM491.3 171.6h0.7v0.7h-0.7zM507.2 149.6h0.7v0.7h-0.7zM544.8 119.7h0.7v0.7h-0.7zM512.6 201.1h0.7v0.7h-0.7zM542.3 165.3h0.7v0.7h-0.7zM545.3 154.2h0.7v0.7h-0.7zM521.7 190.7h0.7v0.7h-0.7zM491.8 158.7h0.7v0.7h-0.7zM497.7 168.1h0.7v0.7h-0.7zM544.1 160.5h0.7v0.7h-0.7zM570.1 164.4h0.7v0.7h-0.7zM492.4 173.5h0.7v0.7h-0.7zM494.7 174.4h0.7v0.7h-0.7zM571.6 183.8h0.7v0.7h-0.7zM494.9 185.6h0.7v0.7h-0.7zM503.8 185.7h0.7v0.7h-0.7zM493.1 155.3h0.7v0.7h-0.7zM539.2 157.3h0.7v0.7h-0.7zM541.3 140.7h0.7v0.7h-0.7zM524.1 189.8h0.7v0.7h-0.7zM554.1 170.9h0.7v0.7h-0.7zM520.6 156.8h0.7v0.7h-0.7zM501.3 169.1h0.7v0.7h-0.7zM541.4 120.4h0.7v0.7h-0.7zM551.3 148.4h0.7v0.7h-0.7zM517.6 189.7h0.7v0.7h-0.7zM534.8 123.0h0.7v0.7h-0.7zM547.8 158.0h0.7v0.7h-0.7zM548.6 138.4h0.7v0.7h-0.7zM528.3 189.8h0.7v0.7h-0.7zM499.3 156.9h0.7v0.7h-0.7zM533.6 126.3h0.7v0.7h-0.7zM543.4 190.4h0.7v0.7h-0.7zM529.0 143.5h0.7v0.7h-0.7zM541.7 119.9h0.7v0.7h-0.7zM513.6 145.5h0.7v0.7h-0.7zM510.7 146.5h0.7v0.7h-0.7zM544.4 192.5h0.7v0.7h-0.7zM495.8 146.7h0.7v0.7h-0.7zM534.2 160.5h0.7v0.7h-0.7zM548.2 129.8h0.7v0.7h-0.7zM502.8 202.2h0.7v0.7h-0.7zM494.1 178.7h0.7v0.7h-0.7zM540.1 169.0h0.7v0.7h-0.7zM522.7 145.7h0.7v0.7h-0.7zM517.6 163.8h0.7v0.7h-0.7zM517.1 161.3h0.7v0.7h-0.7zM495.6 164.0h0.7v0.7h-0.7zM499.5 162.2h0.7v0.7h-0.7zM547.4 155.0h0.7v0.7h-0.7zM491.5 190.5h0.7v0.7h-0.7zM514.6 207.2h0.7v0.7h-0.7zM536.5 141.3h0.7v0.7h-0.7zM510.9 206.8h0.7v0.7h-0.7zM505.9 158.8h0.7v0.7h-0.7zM506.1 145.1h0.7v0.7h-0.7zM496.6 181.3h0.7v0.7h-0.7zM521.6 138.0h0.7v0.7h-0.7zM555.9 164.4h0.7v0.7h-0.7zM573.6 162.6h0.7v0.7h-0.7zM550.8 140.9h0.7v0.7h-0.7zM515.6 142.9h0.7v0.7h-0.7zM505.0 183.4h0.7v0.7h-0.7zM528.4 147.5h0.7v0.7h-0.7zM564.4 173.8h0.7v0.7h-0.7zM528.7 162.7h0.7v0.7h-0.7zM567.5 159.6h0.7v0.7h-0.7zM536.7 153.1h0.7v0.7h-0.7zM551.1 179.6h0.7v0.7h-0.7zM498.6 178.9h0.7v0.7h-0.7zM563.3 175.9h0.7v0.7h-0.7zM496.6 187.6h0.7v0.7h-0.7zM517.3 155.7h0.7v0.7h-0.7zM507.4 203.1h0.7v0.7h-0.7zM514.0 141.5h0.7v0.7h-0.7zM517.0 157.5h0.7v0.7h-0.7zM548.5 139.3h0.7v0.7h-0.7zM563.4 151.6h0.7v0.7h-0.7zM539.4 157.8h0.7v0.7h-0.7zM496.0 165.1h0.7v0.7h-0.7zM542.2 170.4h0.7v0.7h-0.7zM496.4 143.0h0.7v0.7h-0.7zM501.1 184.4h0.7v0.7h-0.7zM526.4 152.2h0.7v0.7h-0.7zM512.2 164.1h0.7v0.7h-0.7zM500.6 204.4h0.7v0.7h-0.7zM536.5 194.8h0.7v0.7h-0.7zM562.7 159.3h0.7v0.7h-0.7zM549.9 149.2h0.7v0.7h-0.7zM553.4 134.5h0.7v0.7h-0.7zM508.9 166.1h0.7v0.7h-0.7zM505.6 196.8h0.7v0.7h-0.7zM554.4 139.1h0.7v0.7h-0.7zM563.8 171.7h0.7v0.7h-0.7zM548.0 117.3h0.7v0.7h-0.7zM510.7 149.9h0.7v0.7h-0.7zM510.9 160.1h0.7v0.7h-0.7zM514.4 203.9h0.7v0.7h-0.7zM491.2 152.4h0.7v0.7h-0.7zM528.8 130.9h0.7v0.7h-0.7zM532.7 189.4h0.7v0.7h-0.7zM500.6 171.6h0.7v0.7h-0.7zM505.4 151.5h0.7v0.7h-0.7zM537.2 195.0h0.7v0.7h-0.7zM490.1 179.4h0.7v0.7h-0.7zM564.1 151.4h0.7v0.7h-0.7zM527.6 196.6h0.7v0.7h-0.7zM540.6 191.4h0.7v0.7h-0.7zM552.1 123.4h0.7v0.7h-0.7zM501.1 161.5h0.7v0.7h-0.7zM533.7 163.9h0.7v0.7h-0.7zM494.3 166.8h0.7v0.7h-0.7zM495.3 179.1h0.7v0.7h-0.7zM553.8 176.7h0.7v0.7h-0.7zM563.6 177.7h0.7v0.7h-0.7zM495.2 172.1h0.7v0.7h-0.7zM541.8 177.5h0.7v0.7h-0.7zM517.2 159.1h0.7v0.7h-0.7zM519.7 164.9h0.7v0.7h-0.7zM567.0 158.2h0.7v0.7h-0.7zM510.0 186.2h0.7v0.7h-0.7zM501.8 164.7h0.7v0.7h-0.7zM533.4 155.9h0.7v0.7h-0.7zM539.6 178.1h0.7v0.7h-0.7zM542.5 131.0h0.7v0.7h-0.7zM574.6 168.5h0.7v0.7h-0.7zM492.1 153.1h0.7v0.7h-0.7zM542.5 118.8h0.7v0.7h-0.7zM497.8 149.6h0.7v0.7h-0.7zM549.9 188.2h0.7v0.7h-0.7zM507.3 199.0h0.7v0.7h-0.7zM566.1 165.7h0.7v0.7h-0.7zM549.9 149.1h0.7v0.7h-0.7zM507.2 159.5h0.7v0.7h-0.7zM543.4 146.3h0.7v0.7h-0.7zM529.0 165.0h0.7v0.7h-0.7zM567.7 160.2h0.7v0.7h-0.7zM534.3 171.1h0.7v0.7h-0.7zM519.4 191.7h0.7v0.7h-0.7zM523.3 159.0h0.7v0.7h-0.7zM561.8 147.2h0.7v0.7h-0.7zM487.8 160.7h0.7v0.7h-0.7zM554.1 159.9h0.7v0.7h-0.7zM498.5 179.4h0.7v0.7h-0.7zM530.5 196.3h0.7v0.7h-0.7zM534.2 127.4h0.7v0.7h-0.7zM560.7 183.5h0.7v0.7h-0.7zM563.3 179.6h0.7v0.7h-0.7zM520.7 204.1h0.7v0.7h-0.7zM515.7 183.3h0.7v0.7h-0.7zM500.1 176.5h0.7v0.7h-0.7zM538.2 129.2h0.7v0.7h-0.7zM558.5 151.5h0.7v0.7h-0.7zM533.8 157.8h0.7v0.7h-0.7zM540.6 145.4h0.7v0.7h-0.7zM514.3 196.9h0.7v0.7h-0.7zM507.9 146.2h0.7v0.7h-0.7zM543.5 164.6h0.7v0.7h-0.7zM550.8 136.6h0.7v0.7h-0.7zM564.6 175.0h0.7v0.7h-0.7zM536.8 156.1h0.7v0.7h-0.7zM567.0 157.6h0.7v0.7h-0.7zM552.4 130.7h0.7v0.7h-0.7zM505.4 198.3h0.7v0.7h-0.7zM490.6 160.0h0.7v0.7h-0.7zM543.5 140.7h0.7v0.7h-0.7zM505.6 152.4h0.7v0.7h-0.7zM542.8 184.9h0.7v0.7h-0.7zM502.6 170.3h0.7v0.7h-0.7zM544.3 133.6h0.7v0.7h-0.7zM515.7 197.5h0.7v0.7h-0.7zM507.2 168.2h0.7v0.7h-0.7zM504.6 181.4h0.7v0.7h-0.7zM519.1 185.5h0.7v0.7h-0.7zM548.6 154.6h0.7v0.7h-0.7zM551.5 125.7h0.7v0.7h-0.7zM532.9 135.1h0.7v0.7h-0.7zM561.5 153.0h0.7v0.7h-0.7zM494.9 180.6h0.7v0.7h-0.7zM489.4 163.5h0.7v0.7h-0.7zM530.9 169.0h0.7v0.7h-0.7zM518.6 150.9h0.7v0.7h-0.7zM508.3 182.5h0.7v0.7h-0.7zM505.4 153.8h0.7v0.7h-0.7zM521.2 200.2h0.7v0.7h-0.7zM533.0 130.1h0.7v0.7h-0.7zM514.4 207.2h0.7v0.7h-0.7zM563.5 167.2h0.7v0.7h-0.7zM496.3 150.2h0.7v0.7h-0.7zM505.1 197.7h0.7v0.7h-0.7zM490.8 155.6h0.7v0.7h-0.7zM500.9 173.4h0.7v0.7h-0.7zM518.6 195.9h0.7v0.7h-0.7zM565.9 177.6h0.7v0.7h-0.7zM492.9 183.9h0.7v0.7h-0.7zM533.8 132.5h0.7v0.7h-0.7zM559.0 174.7h0.7v0.7h-0.7zM546.2 177.2h0.7v0.7h-0.7zM504.0 171.6h0.7v0.7h-0.7zM493.3 148.8h0.7v0.7h-0.7zM541.5 140.7h0.7v0.7h-0.7zM537.9 150.2h0.7v0.7h-0.7zM517.0 204.1h0.7v0.7h-0.7zM525.0 194.6h0.7v0.7h-0.7zM546.6 150.8h0.7v0.7h-0.7zM575.6 173.3h0.7v0.7h-0.7zM548.4 186.8h0.7v0.7h-0.7zM557.0 174.9h0.7v0.7h-0.7zM503.9 200.8h0.7v0.7h-0.7zM547.1 180.7h0.7v0.7h-0.7zM560.4 163.9h0.7v0.7h-0.7zM518.7 141.1h0.7v0.7h-0.7zM500.7 182.1h0.7v0.7h-0.7zM530.9 133.9h0.7v0.7h-0.7zM543.6 191.3h0.7v0.7h-0.7zM505.5 153.0h0.7v0.7h-0.7zM520.1 202.1h0.7v0.7h-0.7zM563.2 180.7h0.7v0.7h-0.7zM562.2 182.2h0.7v0.7h-0.7zM513.1 156.7h0.7v0.7h-0.7zM511.6 149.9h0.7v0.7h-0.7zM506.3 194.0h0.7v0.7h-0.7zM554.9 149.0h0.7v0.7h-0.7zM546.0 165.4h0.7v0.7h-0.7zM504.1 198.0h0.7v0.7h-0.7zM526.6 153.8h0.7v0.7h-0.7zM567.6 153.4h0.7v0.7h-0.7zM508.5 203.5h0.7v0.7h-0.7zM509.4 190.6h0.7v0.7h-0.7zM498.4 158.7h0.7v0.7h-0.7zM555.1 178.4h0.7v0.7h-0.7zM534.1 150.2h0.7v0.7h-0.7zM512.6 188.3h0.7v0.7h-0.7zM506.0 194.6h0.7v0.7h-0.7zM504.0 193.3h0.7v0.7h-0.7zM500.7 143.3h0.7v0.7h-0.7zM531.1 140.0h0.7v0.7h-0.7zM551.8 170.0h0.7v0.7h-0.7zM542.2 123.7h0.7v0.7h-0.7zM561.6 177.6h0.7v0.7h-0.7zM505.6 145.7h0.7v0.7h-0.7zM541.0 168.3h0.7v0.7h-0.7zM551.8 176.1h0.7v0.7h-0.7zM527.3 143.0h0.7v0.7h-0.7zM557.0 160.0h0.7v0.7h-0.7zM522.4 144.5h0.7v0.7h-0.7zM551.0 163.3h0.7v0.7h-0.7zM522.2 187.3h0.7v0.7h-0.7zM505.7 165.1h0.7v0.7h-0.7zM543.5 174.3h0.7v0.7h-0.7zM544.9 172.3h0.7v0.7h-0.7zM489.9 174.5h0.7v0.7h-0.7zM505.6 155.0h0.7v0.7h-0.7zM497.9 169.9h0.7v0.7h-0.7zM504.3 152.2h0.7v0.7h-0.7zM547.1 188.6h0.7v0.7h-0.7zM523.0 139.5h0.7v0.7h-0.7zM560.0 174.0h0.7v0.7h-0.7zM508.4 149.6h0.7v0.7h-0.7zM504.2 147.3h0.7v0.7h-0.7zM538.3 119.0h0.7v0.7h-0.7zM565.8 164.0h0.7v0.7h-0.7zM493.4 180.1h0.7v0.7h-0.7zM548.8 136.4h0.7v0.7h-0.7zM497.4 144.5h0.7v0.7h-0.7zM573.5 177.1h0.7v0.7h-0.7zM541.1 156.0h0.7v0.7h-0.7zM538.8 118.2h0.7v0.7h-0.7zM545.9 144.0h0.7v0.7h-0.7zM526.6 160.8h0.7v0.7h-0.7zM550.1 125.1h0.7v0.7h-0.7zM571.9 166.3h0.7v0.7h-0.7zM501.7 150.7h0.7v0.7h-0.7zM516.2 157.2h0.7v0.7h-0.7zM553.3 180.0h0.7v0.7h-0.7zM542.5 193.9h0.7v0.7h-0.7zM539.6 121.7h0.7v0.7h-0.7zM520.6 146.4h0.7v0.7h-0.7zM550.6 169.9h0.7v0.7h-0.7zM535.1 135.8h0.7v0.7h-0.7zM506.0 195.2h0.7v0.7h-0.7zM523.8 162.9h0.7v0.7h-0.7zM512.1 151.6h0.7v0.7h-0.7zM552.5 140.0h0.7v0.7h-0.7zM571.0 160.2h0.7v0.7h-0.7zM536.5 152.3h0.7v0.7h-0.7zM499.0 147.0h0.7v0.7h-0.7zM495.3 180.6h0.7v0.7h-0.7zM501.7 194.7h0.7v0.7h-0.7zM493.4 189.5h0.7v0.7h-0.7zM546.4 173.2h0.7v0.7h-0.7zM492.8 187.6h0.7v0.7h-0.7zM509.4 158.9h0.7v0.7h-0.7zM503.3 195.2h0.7v0.7h-0.7zM497.1 155.9h0.7v0.7h-0.7zM567.3 179.7h0.7v0.7h-0.7zM554.3 153.6h0.7v0.7h-0.7zM498.2 159.6h0.7v0.7h-0.7zM514.3 154.9h0.7v0.7h-0.7zM503.9 203.2h0.7v0.7h-0.7zM536.5 137.5h0.7v0.7h-0.7zM528.3 151.3h0.7v0.7h-0.7zM567.4 160.1h0.7v0.7h-0.7zM535.2 145.1h0.7v0.7h-0.7zM501.4 200.1h0.7v0.7h-0.7zM492.1 177.3h0.7v0.7h-0.7zM542.5 128.1h0.7v0.7h-0.7zM548.9 177.6h0.7v0.7h-0.7zM502.5 201.2h0.7v0.7h-0.7zM559.5 185.9h0.7v0.7h-0.7zM522.9 160.6h0.7v0.7h-0.7zM515.6 206.9h0.7v0.7h-0.7zM548.3 176.1h0.7v0.7h-0.7zM522.3 193.3h0.7v0.7h-0.7zM541.5 160.5h0.7v0.7h-0.7zM540.8 147.8h0.7v0.7h-0.7zM543.1 130.6h0.7v0.7h-0.7zM538.2 163.3h0.7v0.7h-0.7zM525.0 199.2h0.7v0.7h-0.7z" fill="#fff"/>
<path d="M515.1 156.3h0.7v0.7h-0.7zM517.6 151.6h0.7v0.7h-0.7zM491.8 159.6h0.7v0.7h-0.7zM514.8 155.0h0.7v0.7h-0.7zM496.3 156.0h0.7v0.7h-0.7zM492.2 154.6h0.7v0.7h-0.7zM504.9 200.5h0.7v0.7h-0.7zM521.6 191.7h0.7v0.7h-0.7zM498.2 149.8h0.7v0.7h-0.7zM503.0 146.5h0.7v0.7h-0.7zM493.7 165.2h0.7v0.7h-0.7zM512.0 197.3h0.7v0.7h-0.7zM506.6 193.7h0.7v0.7h-0.7zM534.2 147.3h0.7v0.7h-0.7zM517.5 201.6h0.7v0.7h-0.7zM527.8 166.5h0.7v0.7h-0.7zM534.3 156.9h0.7v0.7h-0.7zM510.9 160.0h0.7v0.7h-0.7zM509.6 165.5h0.7v0.7h-0.7zM504.3 149.4h0.7v0.7h-0.7zM539.2 191.5h0.7v0.7h-0.7zM519.1 140.6h0.7v0.7h-0.7zM513.2 149.7h0.7v0.7h-0.7zM499.8 151.6h0.7v0.7h-0.7zM511.2 156.8h0.7v0.7h-0.7zM502.8 142.4h0.7v0.7h-0.7zM514.7 150.0h0.7v0.7h-0.7zM497.6 200.7h0.7v0.7h-0.7zM499.8 169.1h0.7v0.7h-0.7zM521.8 140.4h0.7v0.7h-0.7zM519.0 199.1h0.7v0.7h-0.7zM511.6 160.8h0.7v0.7h-0.7zM494.6 168.2h0.7v0.7h-0.7zM528.6 159.9h0.7v0.7h-0.7zM499.1 197.8h0.7v0.7h-0.7zM499.5 198.7h0.7v0.7h-0.7zM518.7 154.4h0.7v0.7h-0.7zM517.7 197.7h0.7v0.7h-0.7zM511.8 164.1h0.7v0.7h-0.7zM508.0 164.3h0.7v0.7h-0.7zM503.1 153.1h0.7v0.7h-0.7zM510.1 197.7h0.7v0.7h-0.7zM519.8 157.1h0.7v0.7h-0.7zM500.8 166.6h0.7v0.7h-0.7zM491.7 146.8h0.7v0.7h-0.7zM513.0 165.3h0.7v0.7h-0.7zM505.6 186.6h0.7v0.7h-0.7zM519.6 163.7h0.7v0.7h-0.7zM523.3 145.5h0.7v0.7h-0.7zM516.4 157.6h0.7v0.7h-0.7zM490.6 184.9h0.7v0.7h-0.7zM511.7 199.6h0.7v0.7h-0.7zM517.9 147.3h0.7v0.7h-0.7zM492.3 191.9h0.7v0.7h-0.7zM515.2 138.9h0.7v0.7h-0.7zM516.8 203.5h0.7v0.7h-0.7zM522.1 141.5h0.7v0.7h-0.7zM520.8 159.9h0.7v0.7h-0.7zM508.5 192.0h0.7v0.7h-0.7zM509.5 200.4h0.7v0.7h-0.7zM503.6 193.1h0.7v0.7h-0.7zM505.4 142.8h0.7v0.7h-0.7zM504.5 185.8h0.7v0.7h-0.7zM493.4 143.5h0.7v0.7h-0.7zM524.3 150.7h0.7v0.7h-0.7zM500.8 189.7h0.7v0.7h-0.7zM524.2 147.9h0.7v0.7h-0.7zM509.3 158.7h0.7v0.7h-0.7zM501.8 155.0h0.7v0.7h-0.7zM516.1 192.0h0.7v0.7h-0.7zM488.4 153.3h0.7v0.7h-0.7zM498.4 153.5h0.7v0.7h-0.7zM502.9 205.6h0.7v0.7h-0.7zM507.6 198.9h0.7v0.7h-0.7zM492.8 144.1h0.7v0.7h-0.7zM503.9 161.8h0.7v0.7h-0.7zM506.2 149.6h0.7v0.7h-0.7zM496.5 174.3h0.7v0.7h-0.7zM499.1 195.8h0.7v0.7h-0.7zM496.9 158.5h0.7v0.7h-0.7zM497.6 179.2h0.7v0.7h-0.7zM496.3 189.2h0.7v0.7h-0.7zM515.8 145.2h0.7v0.7h-0.7zM521.2 195.5h0.7v0.7h-0.7zM506.3 163.0h0.7v0.7h-0.7zM498.1 173.4h0.7v0.7h-0.7zM500.7 190.2h0.7v0.7h-0.7zM489.9 177.5h0.7v0.7h-0.7zM510.1 140.8h0.7v0.7h-0.7zM505.9 195.6h0.7v0.7h-0.7zM531.4 144.8h0.7v0.7h-0.7zM504.4 195.8h0.7v0.7h-0.7zM497.6 180.9h0.7v0.7h-0.7zM486.8 152.5h0.7v0.7h-0.7zM490.8 159.6h0.7v0.7h-0.7zM520.1 163.6h0.7v0.7h-0.7zM511.6 158.5h0.7v0.7h-0.7zM495.1 170.0h0.7v0.7h-0.7zM511.0 143.9h0.7v0.7h-0.7zM502.6 205.3h0.7v0.7h-0.7zM522.1 144.3h0.7v0.7h-0.7zM500.8 189.7h0.7v0.7h-0.7zM515.3 141.3h0.7v0.7h-0.7zM512.6 138.7h0.7v0.7h-0.7zM512.7 158.0h0.7v0.7h-0.7zM509.3 153.6h0.7v0.7h-0.7zM509.0 193.9h0.7v0.7h-0.7zM531.2 161.5h0.7v0.7h-0.7zM517.6 151.6h0.7v0.7h-0.7zM505.2 164.4h0.7v0.7h-0.7zM494.1 184.8h0.7v0.7h-0.7zM506.3 195.9h0.7v0.7h-0.7zM527.1 144.6h0.7v0.7h-0.7zM511.6 192.4h0.7v0.7h-0.7zM514.7 164.4h0.7v0.7h-0.7zM500.9 196.4h0.7v0.7h-0.7zM490.0 164.7h0.7v0.7h-0.7zM501.6 149.1h0.7v0.7h-0.7zM511.9 202.6h0.7v0.7h-0.7zM501.0 194.5h0.7v0.7h-0.7zM535.0 149.9h0.7v0.7h-0.7zM541.6 192.9h0.7v0.7h-0.7zM497.7 146.7h0.7v0.7h-0.7zM495.8 146.3h0.7v0.7h-0.7zM511.6 140.5h0.7v0.7h-0.7zM526.3 145.7h0.7v0.7h-0.7zM515.9 153.4h0.7v0.7h-0.7zM528.5 138.3h0.7v0.7h-0.7zM491.7 183.5h0.7v0.7h-0.7zM491.1 172.2h0.7v0.7h-0.7zM513.3 156.9h0.7v0.7h-0.7zM499.4 179.7h0.7v0.7h-0.7zM505.9 198.8h0.7v0.7h-0.7zM527.0 143.9h0.7v0.7h-0.7zM524.5 141.0h0.7v0.7h-0.7zM493.9 193.1h0.7v0.7h-0.7zM502.6 197.5h0.7v0.7h-0.7zM509.5 155.3h0.7v0.7h-0.7zM517.4 206.7h0.7v0.7h-0.7zM492.0 184.4h0.7v0.7h-0.7zM542.9 193.7h0.7v0.7h-0.7zM521.3 154.9h0.7v0.7h-0.7zM511.4 194.6h0.7v0.7h-0.7zM503.5 185.6h0.7v0.7h-0.7zM516.7 199.1h0.7v0.7h-0.7zM507.0 207.2h0.7v0.7h-0.7zM502.6 202.8h0.7v0.7h-0.7zM514.3 206.1h0.7v0.7h-0.7zM510.3 194.0h0.7v0.7h-0.7zM522.7 148.6h0.7v0.7h-0.7zM511.3 154.8h0.7v0.7h-0.7zM508.3 140.3h0.7v0.7h-0.7zM521.5 146.7h0.7v0.7h-0.7zM493.4 166.7h0.7v0.7h-0.7zM500.8 164.5h0.7v0.7h-0.7zM492.9 147.1h0.7v0.7h-0.7zM495.8 186.1h0.7v0.7h-0.7zM527.6 140.1h0.7v0.7h-0.7zM512.0 207.2h0.7v0.7h-0.7zM501.6 168.6h0.7v0.7h-0.7zM501.3 152.5h0.7v0.7h-0.7zM509.3 165.8h0.7v0.7h-0.7zM507.3 163.1h0.7v0.7h-0.7zM527.9 151.6h0.7v0.7h-0.7zM501.1 190.9h0.7v0.7h-0.7zM525.0 157.1h0.7v0.7h-0.7zM501.8 198.8h0.7v0.7h-0.7zM534.1 161.6h0.7v0.7h-0.7zM495.3 144.1h0.7v0.7h-0.7zM509.9 205.9h0.7v0.7h-0.7zM515.0 202.6h0.7v0.7h-0.7zM503.7 203.7h0.7v0.7h-0.7zM502.3 148.7h0.7v0.7h-0.7zM518.0 161.7h0.7v0.7h-0.7zM489.0 150.3h0.7v0.7h-0.7zM516.1 203.5h0.7v0.7h-0.7zM514.2 191.0h0.7v0.7h-0.7zM524.8 144.9h0.7v0.7h-0.7zM489.6 154.0h0.7v0.7h-0.7zM509.4 196.8h0.7v0.7h-0.7zM531.2 143.0h0.7v0.7h-0.7zM498.8 195.1h0.7v0.7h-0.7zM505.5 185.3h0.7v0.7h-0.7zM529.4 194.8h0.7v0.7h-0.7zM535.9 153.3h0.7v0.7h-0.7zM493.1 171.5h0.7v0.7h-0.7zM500.3 164.7h0.7v0.7h-0.7zM529.9 154.1h0.7v0.7h-0.7zM496.8 150.9h0.7v0.7h-0.7zM507.6 191.4h0.7v0.7h-0.7zM518.7 192.2h0.7v0.7h-0.7zM512.8 208.0h0.7v0.7h-0.7zM499.3 165.8h0.7v0.7h-0.7zM495.9 192.1h0.7v0.7h-0.7zM501.5 203.3h0.7v0.7h-0.7zM522.1 148.0h0.7v0.7h-0.7zM489.7 157.9h0.7v0.7h-0.7zM489.6 156.0h0.7v0.7h-0.7zM508.1 145.5h0.7v0.7h-0.7zM523.3 193.1h0.7v0.7h-0.7zM533.1 146.2h0.7v0.7h-0.7zM519.2 139.6h0.7v0.7h-0.7zM491.6 169.7h0.7v0.7h-0.7zM511.1 144.3h0.7v0.7h-0.7zM512.2 141.7h0.7v0.7h-0.7zM499.8 195.1h0.7v0.7h-0.7zM517.9 165.0h0.7v0.7h-0.7zM505.1 166.2h0.7v0.7h-0.7zM532.0 164.5h0.7v0.7h-0.7zM491.9 184.3h0.7v0.7h-0.7zM494.3 191.9h0.7v0.7h-0.7zM533.5 155.4h0.7v0.7h-0.7zM493.0 158.0h0.7v0.7h-0.7zM519.3 147.3h0.7v0.7h-0.7zM503.9 160.1h0.7v0.7h-0.7zM527.8 161.3h0.7v0.7h-0.7zM496.0 153.7h0.7v0.7h-0.7zM514.2 155.7h0.7v0.7h-0.7zM512.8 203.7h0.7v0.7h-0.7zM523.8 165.9h0.7v0.7h-0.7zM508.6 154.5h0.7v0.7h-0.7zM532.2 160.0h0.7v0.7h-0.7zM511.0 204.9h0.7v0.7h-0.7zM524.3 141.3h0.7v0.7h-0.7zM504.5 147.6h0.7v0.7h-0.7zM499.8 195.1h0.7v0.7h-0.7zM508.6 198.6h0.7v0.7h-0.7zM533.0 154.9h0.7v0.7h-0.7zM499.4 178.3h0.7v0.7h-0.7zM514.9 157.1h0.7v0.7h-0.7zM514.6 151.3h0.7v0.7h-0.7zM499.7 191.9h0.7v0.7h-0.7zM524.8 141.5h0.7v0.7h-0.7zM506.3 166.9h0.7v0.7h-0.7zM496.0 170.2h0.7v0.7h-0.7zM514.4 204.0h0.7v0.7h-0.7zM493.0 186.3h0.7v0.7h-0.7zM501.6 165.0h0.7v0.7h-0.7zM502.6 200.8h0.7v0.7h-0.7zM501.2 204.0h0.7v0.7h-0.7zM506.3 192.3h0.7v0.7h-0.7zM496.1 175.6h0.7v0.7h-0.7zM500.3 191.7h0.7v0.7h-0.7zM503.8 192.1h0.7v0.7h-0.7zM511.0 197.9h0.7v0.7h-0.7zM487.7 153.6h0.7v0.7h-0.7zM532.0 155.6h0.7v0.7h-0.7zM524.8 152.5h0.7v0.7h-0.7zM491.3 179.3h0.7v0.7h-0.7zM503.9 189.3h0.7v0.7h-0.7zM521.3 151.2h0.7v0.7h-0.7zM500.2 144.1h0.7v0.7h-0.7zM498.6 171.9h0.7v0.7h-0.7zM515.9 156.8h0.7v0.7h-0.7zM508.2 156.2h0.7v0.7h-0.7zM483.7 153.3h0.7v0.7h-0.7zM498.9 162.2h0.7v0.7h-0.7zM500.6 178.4h0.7v0.7h-0.7zM521.6 192.1h0.7v0.7h-0.7zM504.4 155.2h0.7v0.7h-0.7zM509.4 197.2h0.7v0.7h-0.7zM534.3 144.7h0.7v0.7h-0.7zM530.0 166.0h0.7v0.7h-0.7zM499.0 161.0h0.7v0.7h-0.7zM501.1 180.1h0.7v0.7h-0.7zM499.1 159.1h0.7v0.7h-0.7zM492.0 160.0h0.7v0.7h-0.7zM509.8 205.5h0.7v0.7h-0.7zM533.3 195.5h0.7v0.7h-0.7zM524.2 195.5h0.7v0.7h-0.7zM504.3 151.3h0.7v0.7h-0.7zM494.4 174.7h0.7v0.7h-0.7zM492.4 174.5h0.7v0.7h-0.7zM510.1 159.9h0.7v0.7h-0.7zM523.6 148.8h0.7v0.7h-0.7zM507.7 145.3h0.7v0.7h-0.7zM508.7 156.3h0.7v0.7h-0.7zM501.7 204.3h0.7v0.7h-0.7zM495.2 150.6h0.7v0.7h-0.7zM529.4 197.2h0.7v0.7h-0.7zM496.4 200.8h0.7v0.7h-0.7zM506.6 158.3h0.7v0.7h-0.7zM506.5 190.7h0.7v0.7h-0.7zM532.0 142.8h0.7v0.7h-0.7zM524.7 193.1h0.7v0.7h-0.7zM529.7 144.1h0.7v0.7h-0.7zM492.0 148.5h0.7v0.7h-0.7zM528.7 147.6h0.7v0.7h-0.7zM510.4 200.4h0.7v0.7h-0.7zM520.6 198.7h0.7v0.7h-0.7zM521.5 161.2h0.7v0.7h-0.7zM534.1 144.0h0.7v0.7h-0.7zM509.4 157.7h0.7v0.7h-0.7zM522.4 158.5h0.7v0.7h-0.7zM485.4 156.2h0.7v0.7h-0.7zM523.1 196.8h0.7v0.7h-0.7zM492.7 171.7h0.7v0.7h-0.7zM510.1 143.9h0.7v0.7h-0.7zM509.2 206.2h0.7v0.7h-0.7zM518.2 205.5h0.7v0.7h-0.7z" fill="#D4582F"/>
<path d="M571.9 172.8h0.7v0.7h-0.7zM571.1 181.4h0.7v0.7h-0.7zM552.8 153.2h0.7v0.7h-0.7zM541.9 165.3h0.7v0.7h-0.7zM543.5 169.9h0.7v0.7h-0.7zM542.2 188.0h0.7v0.7h-0.7zM567.7 165.4h0.7v0.7h-0.7zM572.7 166.1h0.7v0.7h-0.7zM548.5 173.0h0.7v0.7h-0.7zM570.9 156.8h0.7v0.7h-0.7zM545.3 160.5h0.7v0.7h-0.7zM543.7 176.1h0.7v0.7h-0.7zM561.0 149.0h0.7v0.7h-0.7zM559.0 176.6h0.7v0.7h-0.7zM571.4 166.1h0.7v0.7h-0.7zM564.3 154.0h0.7v0.7h-0.7zM549.4 167.9h0.7v0.7h-0.7zM544.6 161.0h0.7v0.7h-0.7zM571.5 161.1h0.7v0.7h-0.7zM561.1 161.2h0.7v0.7h-0.7zM572.8 164.9h0.7v0.7h-0.7zM563.6 182.8h0.7v0.7h-0.7zM568.6 164.5h0.7v0.7h-0.7zM557.9 150.5h0.7v0.7h-0.7zM550.4 172.7h0.7v0.7h-0.7zM545.8 159.9h0.7v0.7h-0.7zM552.5 176.2h0.7v0.7h-0.7zM546.0 163.7h0.7v0.7h-0.7zM546.0 158.9h0.7v0.7h-0.7zM544.3 146.7h0.7v0.7h-0.7zM545.5 164.4h0.7v0.7h-0.7zM541.6 171.8h0.7v0.7h-0.7zM558.9 178.0h0.7v0.7h-0.7zM560.4 184.9h0.7v0.7h-0.7zM567.0 184.5h0.7v0.7h-0.7zM543.6 171.7h0.7v0.7h-0.7zM543.6 159.1h0.7v0.7h-0.7zM567.5 181.1h0.7v0.7h-0.7zM547.4 165.5h0.7v0.7h-0.7zM536.2 145.4h0.7v0.7h-0.7zM536.9 153.4h0.7v0.7h-0.7zM540.6 161.5h0.7v0.7h-0.7zM557.9 153.3h0.7v0.7h-0.7zM540.0 176.6h0.7v0.7h-0.7zM561.7 171.0h0.7v0.7h-0.7zM569.8 166.4h0.7v0.7h-0.7zM545.0 159.9h0.7v0.7h-0.7zM548.0 175.6h0.7v0.7h-0.7zM550.7 179.6h0.7v0.7h-0.7zM535.9 147.1h0.7v0.7h-0.7zM553.1 145.0h0.7v0.7h-0.7zM556.8 161.3h0.7v0.7h-0.7zM540.6 163.0h0.7v0.7h-0.7zM539.2 154.8h0.7v0.7h-0.7zM553.5 149.0h0.7v0.7h-0.7zM553.6 165.4h0.7v0.7h-0.7zM561.7 183.9h0.7v0.7h-0.7zM541.3 163.3h0.7v0.7h-0.7zM552.6 173.7h0.7v0.7h-0.7zM566.6 156.5h0.7v0.7h-0.7zM555.4 170.1h0.7v0.7h-0.7zM548.6 189.7h0.7v0.7h-0.7zM562.7 179.3h0.7v0.7h-0.7zM563.6 150.2h0.7v0.7h-0.7zM568.2 166.6h0.7v0.7h-0.7zM544.0 153.7h0.7v0.7h-0.7zM561.2 161.2h0.7v0.7h-0.7zM553.8 178.3h0.7v0.7h-0.7zM543.4 164.8h0.7v0.7h-0.7zM565.9 185.2h0.7v0.7h-0.7zM559.6 183.6h0.7v0.7h-0.7zM542.3 173.4h0.7v0.7h-0.7zM554.1 162.4h0.7v0.7h-0.7zM561.7 189.2h0.7v0.7h-0.7zM575.2 169.2h0.7v0.7h-0.7zM570.9 175.1h0.7v0.7h-0.7zM573.0 174.0h0.7v0.7h-0.7zM541.4 172.9h0.7v0.7h-0.7zM546.1 158.5h0.7v0.7h-0.7zM577.0 176.6h0.7v0.7h-0.7zM540.6 158.9h0.7v0.7h-0.7zM553.0 150.1h0.7v0.7h-0.7zM573.0 173.3h0.7v0.7h-0.7zM551.2 185.7h0.7v0.7h-0.7zM555.4 169.0h0.7v0.7h-0.7zM547.4 149.5h0.7v0.7h-0.7zM539.8 174.8h0.7v0.7h-0.7zM551.4 191.2h0.7v0.7h-0.7zM572.9 162.9h0.7v0.7h-0.7zM552.7 162.2h0.7v0.7h-0.7zM573.3 181.8h0.7v0.7h-0.7zM564.0 184.3h0.7v0.7h-0.7zM563.2 156.5h0.7v0.7h-0.7zM570.7 171.9h0.7v0.7h-0.7zM551.5 176.3h0.7v0.7h-0.7zM549.2 169.8h0.7v0.7h-0.7zM535.9 149.1h0.7v0.7h-0.7zM545.7 169.3h0.7v0.7h-0.7zM539.2 147.7h0.7v0.7h-0.7zM553.0 155.4h0.7v0.7h-0.7zM554.1 173.6h0.7v0.7h-0.7zM556.4 172.4h0.7v0.7h-0.7zM560.9 189.2h0.7v0.7h-0.7zM554.3 159.9h0.7v0.7h-0.7zM554.3 184.0h0.7v0.7h-0.7zM536.8 165.2h0.7v0.7h-0.7zM544.3 170.9h0.7v0.7h-0.7zM573.4 173.1h0.7v0.7h-0.7zM551.9 181.0h0.7v0.7h-0.7zM537.8 168.1h0.7v0.7h-0.7zM540.7 147.7h0.7v0.7h-0.7zM565.9 151.8h0.7v0.7h-0.7zM559.2 171.3h0.7v0.7h-0.7zM574.0 179.7h0.7v0.7h-0.7zM544.4 180.8h0.7v0.7h-0.7zM555.1 182.0h0.7v0.7h-0.7zM575.3 179.5h0.7v0.7h-0.7zM539.6 173.6h0.7v0.7h-0.7zM576.1 173.2h0.7v0.7h-0.7zM556.1 181.9h0.7v0.7h-0.7zM555.7 156.0h0.7v0.7h-0.7zM558.7 160.7h0.7v0.7h-0.7zM571.0 166.8h0.7v0.7h-0.7zM563.8 157.0h0.7v0.7h-0.7zM574.6 173.9h0.7v0.7h-0.7zM547.1 186.2h0.7v0.7h-0.7zM548.8 159.3h0.7v0.7h-0.7zM542.9 172.7h0.7v0.7h-0.7zM572.8 180.8h0.7v0.7h-0.7zM546.5 188.7h0.7v0.7h-0.7zM564.4 149.9h0.7v0.7h-0.7zM571.3 170.4h0.7v0.7h-0.7zM540.4 188.4h0.7v0.7h-0.7zM552.3 180.4h0.7v0.7h-0.7zM566.2 157.9h0.7v0.7h-0.7zM546.9 148.3h0.7v0.7h-0.7zM562.8 179.3h0.7v0.7h-0.7zM541.8 165.2h0.7v0.7h-0.7zM553.9 155.4h0.7v0.7h-0.7zM538.1 161.7h0.7v0.7h-0.7zM576.3 177.7h0.7v0.7h-0.7zM560.2 166.1h0.7v0.7h-0.7zM558.5 153.6h0.7v0.7h-0.7zM546.7 182.2h0.7v0.7h-0.7zM560.2 169.4h0.7v0.7h-0.7zM569.3 161.8h0.7v0.7h-0.7zM558.9 186.0h0.7v0.7h-0.7zM560.1 189.3h0.7v0.7h-0.7zM567.1 177.4h0.7v0.7h-0.7zM564.9 160.6h0.7v0.7h-0.7z" fill="#E68E6A"/>
<path d="M550.4 133.7h0.6v0.6h-0.6zM538.8 136.2h0.6v0.6h-0.6zM554.4 147.1h0.6v0.6h-0.6zM542.8 122.4h0.6v0.6h-0.6zM555.5 144.4h0.6v0.6h-0.6zM539.8 126.7h0.6v0.6h-0.6zM541.2 121.4h0.6v0.6h-0.6zM532.7 127.4h0.6v0.6h-0.6zM553.3 136.1h0.6v0.6h-0.6zM539.7 138.7h0.6v0.6h-0.6zM527.8 134.1h0.6v0.6h-0.6zM533.5 141.0h0.6v0.6h-0.6zM548.0 139.8h0.6v0.6h-0.6zM555.9 142.5h0.6v0.6h-0.6zM548.1 123.8h0.6v0.6h-0.6zM547.7 145.6h0.6v0.6h-0.6zM554.4 146.9h0.6v0.6h-0.6zM549.7 125.4h0.6v0.6h-0.6zM527.9 136.8h0.6v0.6h-0.6zM540.0 129.3h0.6v0.6h-0.6zM554.2 137.0h0.6v0.6h-0.6zM542.3 133.7h0.6v0.6h-0.6zM539.9 136.0h0.6v0.6h-0.6zM528.5 137.8h0.6v0.6h-0.6zM544.3 144.8h0.6v0.6h-0.6zM544.9 129.2h0.6v0.6h-0.6zM538.8 119.9h0.6v0.6h-0.6zM553.8 129.3h0.6v0.6h-0.6zM546.7 126.3h0.6v0.6h-0.6zM548.7 149.1h0.6v0.6h-0.6zM543.9 145.5h0.6v0.6h-0.6zM546.3 122.9h0.6v0.6h-0.6zM540.7 141.1h0.6v0.6h-0.6zM550.1 131.9h0.6v0.6h-0.6zM532.7 127.6h0.6v0.6h-0.6zM544.7 136.4h0.6v0.6h-0.6zM550.0 127.4h0.6v0.6h-0.6zM552.1 139.8h0.6v0.6h-0.6zM530.5 139.2h0.6v0.6h-0.6zM555.8 138.6h0.6v0.6h-0.6zM539.9 137.2h0.6v0.6h-0.6zM541.9 139.7h0.6v0.6h-0.6zM543.3 136.1h0.6v0.6h-0.6zM548.3 136.2h0.6v0.6h-0.6zM541.3 145.9h0.6v0.6h-0.6zM543.7 142.0h0.6v0.6h-0.6zM541.4 134.6h0.6v0.6h-0.6zM544.0 123.0h0.6v0.6h-0.6zM532.4 135.3h0.6v0.6h-0.6zM551.5 133.2h0.6v0.6h-0.6zM538.0 128.8h0.6v0.6h-0.6zM541.6 134.0h0.6v0.6h-0.6zM534.5 131.6h0.6v0.6h-0.6zM553.1 128.7h0.6v0.6h-0.6zM546.4 122.6h0.6v0.6h-0.6zM544.8 132.3h0.6v0.6h-0.6zM531.1 127.5h0.6v0.6h-0.6zM531.6 127.9h0.6v0.6h-0.6zM555.4 148.5h0.6v0.6h-0.6zM539.9 140.3h0.6v0.6h-0.6zM549.9 118.7h0.6v0.6h-0.6zM540.7 139.9h0.6v0.6h-0.6zM546.8 147.2h0.6v0.6h-0.6zM558.7 143.7h0.6v0.6h-0.6zM555.3 143.5h0.6v0.6h-0.6zM537.0 121.1h0.6v0.6h-0.6zM550.5 148.8h0.6v0.6h-0.6zM545.0 118.5h0.6v0.6h-0.6zM537.9 125.8h0.6v0.6h-0.6zM527.9 136.4h0.6v0.6h-0.6zM542.4 123.4h0.6v0.6h-0.6zM545.2 132.2h0.6v0.6h-0.6zM534.4 132.4h0.6v0.6h-0.6zM552.3 132.7h0.6v0.6h-0.6zM547.4 129.6h0.6v0.6h-0.6zM531.7 131.8h0.6v0.6h-0.6zM542.4 132.3h0.6v0.6h-0.6zM546.7 141.3h0.6v0.6h-0.6zM540.6 133.2h0.6v0.6h-0.6zM546.8 140.5h0.6v0.6h-0.6z" fill="#E9A283"/>
<path d="M575.0 162.0h0.7v0.7h-0.7zM569.7 187.0h0.7v0.7h-0.7zM567.3 150.3h0.7v0.7h-0.7zM562.5 145.8h0.7v0.7h-0.7zM576.7 169.3h0.7v0.7h-0.7zM578.7 173.0h0.7v0.7h-0.7zM574.8 163.6h0.7v0.7h-0.7zM566.5 188.5h0.7v0.7h-0.7zM571.9 157.2h0.7v0.7h-0.7zM572.2 184.9h0.7v0.7h-0.7zM563.6 147.6h0.7v0.7h-0.7zM560.4 142.0h0.7v0.7h-0.7zM564.3 148.1h0.7v0.7h-0.7zM569.5 185.9h0.7v0.7h-0.7zM570.2 154.2h0.7v0.7h-0.7zM576.8 176.4h0.7v0.7h-0.7zM576.8 164.5h0.7v0.7h-0.7zM574.3 161.8h0.7v0.7h-0.7zM567.5 187.5h0.7v0.7h-0.7zM574.4 161.1h0.7v0.7h-0.7zM571.2 186.1h0.7v0.7h-0.7zM564.4 148.7h0.7v0.7h-0.7zM576.2 181.0h0.7v0.7h-0.7zM575.3 162.1h0.7v0.7h-0.7zM577.0 176.3h0.7v0.7h-0.7zM568.6 186.3h0.7v0.7h-0.7zM567.8 187.4h0.7v0.7h-0.7zM564.3 188.6h0.7v0.7h-0.7zM574.8 160.7h0.7v0.7h-0.7zM573.3 185.0h0.7v0.7h-0.7zM573.4 160.8h0.7v0.7h-0.7zM560.8 190.2h0.7v0.7h-0.7zM579.0 175.6h0.7v0.7h-0.7zM549.4 193.8h0.7v0.7h-0.7zM566.3 188.7h0.7v0.7h-0.7zM551.8 193.0h0.7v0.7h-0.7zM566.6 188.2h0.7v0.7h-0.7zM576.9 177.2h0.7v0.7h-0.7zM574.4 183.2h0.7v0.7h-0.7zM575.3 182.5h0.7v0.7h-0.7zM551.1 193.5h0.7v0.7h-0.7zM576.5 177.6h0.7v0.7h-0.7zM576.9 177.0h0.7v0.7h-0.7zM559.0 143.3h0.7v0.7h-0.7zM573.3 158.1h0.7v0.7h-0.7zM573.8 184.3h0.7v0.7h-0.7zM568.0 151.5h0.7v0.7h-0.7zM572.4 184.6h0.7v0.7h-0.7zM565.0 189.2h0.7v0.7h-0.7zM555.8 190.7h0.7v0.7h-0.7zM559.7 190.2h0.7v0.7h-0.7zM569.9 186.6h0.7v0.7h-0.7zM575.6 182.8h0.7v0.7h-0.7zM577.5 172.2h0.7v0.7h-0.7zM560.9 190.7h0.7v0.7h-0.7zM575.5 165.8h0.7v0.7h-0.7zM552.4 192.8h0.7v0.7h-0.7zM576.6 167.2h0.7v0.7h-0.7zM577.7 168.3h0.7v0.7h-0.7zM576.1 167.0h0.7v0.7h-0.7zM551.2 193.3h0.7v0.7h-0.7zM566.4 188.4h0.7v0.7h-0.7zM570.1 186.2h0.7v0.7h-0.7zM559.7 190.9h0.7v0.7h-0.7zM571.9 157.4h0.7v0.7h-0.7zM571.0 186.6h0.7v0.7h-0.7zM558.5 191.4h0.7v0.7h-0.7zM577.4 173.6h0.7v0.7h-0.7zM549.1 193.7h0.7v0.7h-0.7zM567.7 187.0h0.7v0.7h-0.7zM571.0 155.6h0.7v0.7h-0.7zM564.3 146.6h0.7v0.7h-0.7zM567.1 151.9h0.7v0.7h-0.7zM576.9 179.6h0.7v0.7h-0.7zM574.1 160.2h0.7v0.7h-0.7zM574.9 181.6h0.7v0.7h-0.7zM564.6 188.3h0.7v0.7h-0.7zM561.8 146.6h0.7v0.7h-0.7zM570.2 185.6h0.7v0.7h-0.7zM549.7 193.4h0.7v0.7h-0.7zM571.3 185.6h0.7v0.7h-0.7zM549.0 193.0h0.7v0.7h-0.7z" fill="#EBA080"/>
<path d="M504.9 139.7h0.7v0.7h-0.7zM483.2 148.6h0.7v0.7h-0.7zM505.9 139.3h0.7v0.7h-0.7zM484.2 157.4h0.7v0.7h-0.7zM498.8 141.4h0.7v0.7h-0.7zM482.4 157.1h0.7v0.7h-0.7zM507.8 139.4h0.7v0.7h-0.7zM495.8 142.4h0.7v0.7h-0.7zM498.0 141.6h0.7v0.7h-0.7zM512.4 137.0h0.7v0.7h-0.7zM485.4 147.1h0.7v0.7h-0.7zM501.1 140.6h0.7v0.7h-0.7zM522.1 133.3h0.7v0.7h-0.7zM501.3 140.9h0.7v0.7h-0.7zM520.4 134.9h0.7v0.7h-0.7zM518.2 136.3h0.7v0.7h-0.7zM505.0 138.4h0.7v0.7h-0.7zM517.6 134.7h0.7v0.7h-0.7zM512.1 136.9h0.7v0.7h-0.7zM513.4 137.3h0.7v0.7h-0.7zM487.8 145.9h0.7v0.7h-0.7zM522.2 134.3h0.7v0.7h-0.7zM483.5 158.6h0.7v0.7h-0.7zM519.4 134.4h0.7v0.7h-0.7zM480.1 155.0h0.7v0.7h-0.7zM503.3 140.1h0.7v0.7h-0.7zM500.8 141.1h0.7v0.7h-0.7zM502.5 139.5h0.7v0.7h-0.7zM482.6 147.1h0.7v0.7h-0.7zM509.8 138.5h0.7v0.7h-0.7zM502.7 139.7h0.7v0.7h-0.7zM487.5 146.1h0.7v0.7h-0.7zM512.4 138.5h0.7v0.7h-0.7zM494.4 141.4h0.7v0.7h-0.7zM481.5 149.8h0.7v0.7h-0.7zM482.9 157.7h0.7v0.7h-0.7zM483.1 156.8h0.7v0.7h-0.7zM522.7 133.8h0.7v0.7h-0.7zM491.8 142.2h0.7v0.7h-0.7zM510.1 138.9h0.7v0.7h-0.7zM496.9 140.9h0.7v0.7h-0.7zM485.0 146.6h0.7v0.7h-0.7zM497.6 140.9h0.7v0.7h-0.7zM492.3 143.8h0.7v0.7h-0.7zM482.1 148.4h0.7v0.7h-0.7zM481.4 149.3h0.7v0.7h-0.7zM501.0 140.0h0.7v0.7h-0.7zM490.7 143.9h0.7v0.7h-0.7zM489.7 144.2h0.7v0.7h-0.7zM482.8 156.5h0.7v0.7h-0.7zM491.6 142.3h0.7v0.7h-0.7zM497.1 141.1h0.7v0.7h-0.7zM483.4 148.7h0.7v0.7h-0.7zM521.9 134.5h0.7v0.7h-0.7zM488.3 145.4h0.7v0.7h-0.7zM507.3 139.2h0.7v0.7h-0.7zM481.9 157.6h0.7v0.7h-0.7zM505.9 138.8h0.7v0.7h-0.7zM499.0 140.4h0.7v0.7h-0.7zM521.1 134.9h0.7v0.7h-0.7zM507.0 139.7h0.7v0.7h-0.7zM516.0 137.2h0.7v0.7h-0.7zM495.6 142.5h0.7v0.7h-0.7zM495.6 142.6h0.7v0.7h-0.7zM484.5 147.7h0.7v0.7h-0.7zM514.3 136.6h0.7v0.7h-0.7zM480.9 148.3h0.7v0.7h-0.7zM480.6 152.8h0.7v0.7h-0.7zM482.6 156.2h0.7v0.7h-0.7zM518.5 135.9h0.7v0.7h-0.7zM497.1 142.0h0.7v0.7h-0.7z" fill="#DD7048"/>
<path d="M541.0 196.2h0.7v0.7h-0.7zM526.0 202.9h0.7v0.7h-0.7zM512.3 210.0h0.7v0.7h-0.7zM531.0 199.5h0.7v0.7h-0.7zM533.1 197.7h0.7v0.7h-0.7zM520.1 207.6h0.7v0.7h-0.7zM526.1 202.6h0.7v0.7h-0.7zM523.8 205.3h0.7v0.7h-0.7zM526.1 201.3h0.7v0.7h-0.7zM525.2 203.3h0.7v0.7h-0.7zM514.1 208.8h0.7v0.7h-0.7zM538.1 196.4h0.7v0.7h-0.7zM537.0 197.4h0.7v0.7h-0.7zM539.9 196.4h0.7v0.7h-0.7zM529.7 198.8h0.7v0.7h-0.7zM524.3 203.7h0.7v0.7h-0.7zM536.7 195.7h0.7v0.7h-0.7zM510.0 208.5h0.7v0.7h-0.7zM509.8 208.9h0.7v0.7h-0.7zM539.7 195.9h0.7v0.7h-0.7zM509.3 209.6h0.7v0.7h-0.7zM518.7 206.9h0.7v0.7h-0.7zM521.5 204.8h0.7v0.7h-0.7zM509.1 208.9h0.7v0.7h-0.7zM538.4 195.9h0.7v0.7h-0.7zM546.0 194.5h0.7v0.7h-0.7zM534.1 196.4h0.7v0.7h-0.7zM532.9 197.0h0.7v0.7h-0.7zM517.6 208.1h0.7v0.7h-0.7zM523.8 204.3h0.7v0.7h-0.7zM509.7 208.4h0.7v0.7h-0.7zM545.2 193.7h0.7v0.7h-0.7zM542.0 194.5h0.7v0.7h-0.7zM527.3 201.8h0.7v0.7h-0.7zM519.7 206.5h0.7v0.7h-0.7zM527.4 202.3h0.7v0.7h-0.7zM515.3 208.9h0.7v0.7h-0.7zM543.3 195.3h0.7v0.7h-0.7zM513.5 208.4h0.7v0.7h-0.7zM523.4 205.5h0.7v0.7h-0.7zM514.7 207.8h0.7v0.7h-0.7zM515.4 208.3h0.7v0.7h-0.7z" fill="#DC6E48"/>
<path d="M538.1 117.6h0.7v0.7h-0.7zM529.7 127.6h0.7v0.7h-0.7zM538.7 117.4h0.7v0.7h-0.7zM548.4 114.9h0.7v0.7h-0.7zM555.4 127.2h0.7v0.7h-0.7zM556.8 138.5h0.7v0.7h-0.7zM528.8 129.6h0.7v0.7h-0.7zM541.1 115.5h0.7v0.7h-0.7zM533.0 122.5h0.7v0.7h-0.7zM555.9 135.1h0.7v0.7h-0.7zM548.6 116.2h0.7v0.7h-0.7zM557.3 136.8h0.7v0.7h-0.7zM559.0 139.4h0.7v0.7h-0.7zM530.9 126.8h0.7v0.7h-0.7zM523.1 133.3h0.7v0.7h-0.7zM554.8 124.8h0.7v0.7h-0.7zM555.5 134.1h0.7v0.7h-0.7zM555.3 129.6h0.7v0.7h-0.7zM550.0 118.1h0.7v0.7h-0.7zM540.8 115.9h0.7v0.7h-0.7zM555.3 128.8h0.7v0.7h-0.7zM551.9 119.3h0.7v0.7h-0.7zM527.1 131.1h0.7v0.7h-0.7zM558.7 142.1h0.7v0.7h-0.7zM555.7 133.8h0.7v0.7h-0.7zM551.8 119.4h0.7v0.7h-0.7zM555.5 127.0h0.7v0.7h-0.7zM537.1 117.0h0.7v0.7h-0.7zM546.2 114.1h0.7v0.7h-0.7zM556.7 139.1h0.7v0.7h-0.7zM554.6 128.4h0.7v0.7h-0.7zM555.7 134.3h0.7v0.7h-0.7zM558.6 142.1h0.7v0.7h-0.7zM527.4 129.6h0.7v0.7h-0.7zM528.9 129.3h0.7v0.7h-0.7zM556.2 133.7h0.7v0.7h-0.7zM523.6 133.8h0.7v0.7h-0.7zM556.8 138.9h0.7v0.7h-0.7zM556.9 137.5h0.7v0.7h-0.7zM531.3 126.7h0.7v0.7h-0.7zM528.6 129.6h0.7v0.7h-0.7zM556.1 136.7h0.7v0.7h-0.7zM541.7 114.1h0.7v0.7h-0.7zM549.2 115.6h0.7v0.7h-0.7zM523.5 132.4h0.7v0.7h-0.7zM557.5 135.4h0.7v0.7h-0.7zM548.3 116.2h0.7v0.7h-0.7zM542.5 114.5h0.7v0.7h-0.7zM528.5 129.4h0.7v0.7h-0.7zM549.8 117.8h0.7v0.7h-0.7zM548.9 116.7h0.7v0.7h-0.7zM553.1 125.0h0.7v0.7h-0.7zM526.1 131.1h0.7v0.7h-0.7z" fill="#F2CDBB"/>
<path d="M488.7 169.0h0.7v0.7h-0.7zM503.7 206.8h0.7v0.7h-0.7zM490.5 193.9h0.7v0.7h-0.7zM491.4 194.5h0.7v0.7h-0.7zM491.4 194.6h0.7v0.7h-0.7zM488.1 164.6h0.7v0.7h-0.7zM486.9 161.9h0.7v0.7h-0.7zM497.2 202.7h0.7v0.7h-0.7zM489.4 171.5h0.7v0.7h-0.7zM490.1 188.9h0.7v0.7h-0.7zM488.7 182.1h0.7v0.7h-0.7zM489.4 166.9h0.7v0.7h-0.7zM499.5 204.3h0.7v0.7h-0.7zM489.5 179.5h0.7v0.7h-0.7zM489.4 170.1h0.7v0.7h-0.7zM488.7 182.6h0.7v0.7h-0.7zM503.6 208.0h0.7v0.7h-0.7zM489.1 180.2h0.7v0.7h-0.7zM489.2 189.0h0.7v0.7h-0.7zM499.2 205.3h0.7v0.7h-0.7zM494.4 201.2h0.7v0.7h-0.7zM500.7 204.9h0.7v0.7h-0.7zM497.8 204.6h0.7v0.7h-0.7zM488.8 166.2h0.7v0.7h-0.7zM488.5 179.9h0.7v0.7h-0.7zM489.7 173.9h0.7v0.7h-0.7zM488.9 181.5h0.7v0.7h-0.7zM507.4 207.9h0.7v0.7h-0.7zM490.0 189.2h0.7v0.7h-0.7zM488.2 184.7h0.7v0.7h-0.7zM489.0 173.6h0.7v0.7h-0.7zM488.1 175.1h0.7v0.7h-0.7zM488.5 163.4h0.7v0.7h-0.7zM489.0 189.5h0.7v0.7h-0.7zM493.9 199.9h0.7v0.7h-0.7zM491.8 195.1h0.7v0.7h-0.7zM494.4 199.3h0.7v0.7h-0.7zM489.4 183.2h0.7v0.7h-0.7zM494.0 198.9h0.7v0.7h-0.7zM502.3 207.0h0.7v0.7h-0.7zM489.7 177.4h0.7v0.7h-0.7zM507.6 208.9h0.7v0.7h-0.7zM489.2 180.1h0.7v0.7h-0.7zM487.0 160.7h0.7v0.7h-0.7zM489.7 184.8h0.7v0.7h-0.7zM506.5 208.9h0.7v0.7h-0.7zM495.2 200.9h0.7v0.7h-0.7zM507.6 208.0h0.7v0.7h-0.7zM507.4 207.8h0.7v0.7h-0.7zM505.7 207.6h0.7v0.7h-0.7zM491.1 195.7h0.7v0.7h-0.7zM496.3 202.1h0.7v0.7h-0.7z" fill="#DA6840"/>
<path d="M552.3 125.7h0.7v0.7h-0.7zM541.3 116.7h0.7v0.7h-0.7zM574.2 181.9h0.7v0.7h-0.7zM490.0 173.5h0.7v0.7h-0.7zM538.3 194.8h0.7v0.7h-0.7zM538.7 193.5h0.7v0.7h-0.7zM493.8 143.8h0.7v0.7h-0.7zM556.2 140.5h0.7v0.7h-0.7zM493.9 144.6h0.7v0.7h-0.7zM487.7 146.2h0.7v0.7h-0.7zM522.0 203.1h0.7v0.7h-0.7zM551.3 190.9h0.7v0.7h-0.7zM555.4 137.7h0.7v0.7h-0.7zM513.3 138.4h0.7v0.7h-0.7zM535.0 123.2h0.7v0.7h-0.7zM486.9 147.7h0.7v0.7h-0.7zM506.4 206.7h0.7v0.7h-0.7zM502.1 142.1h0.7v0.7h-0.7zM504.2 205.0h0.7v0.7h-0.7zM500.8 204.6h0.7v0.7h-0.7zM513.5 138.3h0.7v0.7h-0.7zM490.6 171.7h0.7v0.7h-0.7zM491.1 144.8h0.7v0.7h-0.7zM519.3 136.5h0.7v0.7h-0.7zM571.6 184.2h0.7v0.7h-0.7zM499.7 203.5h0.7v0.7h-0.7zM506.2 206.0h0.7v0.7h-0.7zM572.8 183.0h0.7v0.7h-0.7zM524.3 134.0h0.7v0.7h-0.7zM506.6 206.5h0.7v0.7h-0.7zM564.7 150.6h0.7v0.7h-0.7zM561.5 187.8h0.7v0.7h-0.7zM486.8 158.5h0.7v0.7h-0.7zM513.3 139.2h0.7v0.7h-0.7zM516.5 205.7h0.7v0.7h-0.7zM561.1 147.7h0.7v0.7h-0.7zM524.7 134.1h0.7v0.7h-0.7zM488.3 146.7h0.7v0.7h-0.7zM498.2 201.5h0.7v0.7h-0.7zM483.4 155.6h0.7v0.7h-0.7zM543.1 115.9h0.7v0.7h-0.7zM534.3 124.8h0.7v0.7h-0.7zM521.9 203.7h0.7v0.7h-0.7zM532.0 126.7h0.7v0.7h-0.7zM525.8 133.2h0.7v0.7h-0.7zM494.7 143.5h0.7v0.7h-0.7zM482.3 153.4h0.7v0.7h-0.7zM534.8 194.7h0.7v0.7h-0.7zM530.9 196.1h0.7v0.7h-0.7zM521.8 203.5h0.7v0.7h-0.7zM542.8 193.5h0.7v0.7h-0.7zM491.4 188.8h0.7v0.7h-0.7zM502.4 141.6h0.7v0.7h-0.7zM541.4 193.2h0.7v0.7h-0.7zM495.0 199.2h0.7v0.7h-0.7zM509.1 207.1h0.7v0.7h-0.7zM531.9 126.7h0.7v0.7h-0.7zM506.4 206.1h0.7v0.7h-0.7zM488.4 146.2h0.7v0.7h-0.7zM549.4 118.2h0.7v0.7h-0.7zM550.0 191.8h0.7v0.7h-0.7zM555.0 133.1h0.7v0.7h-0.7zM567.7 155.2h0.7v0.7h-0.7zM507.8 140.1h0.7v0.7h-0.7zM489.7 169.2h0.7v0.7h-0.7zM556.4 140.3h0.7v0.7h-0.7zM502.3 141.8h0.7v0.7h-0.7zM525.4 134.0h0.7v0.7h-0.7zM486.2 158.1h0.7v0.7h-0.7zM569.4 157.2h0.7v0.7h-0.7zM574.7 180.9h0.7v0.7h-0.7zM510.3 139.7h0.7v0.7h-0.7zM490.2 173.3h0.7v0.7h-0.7zM554.8 136.7h0.7v0.7h-0.7zM546.9 191.9h0.7v0.7h-0.7zM564.0 186.9h0.7v0.7h-0.7zM485.0 158.3h0.7v0.7h-0.7zM543.6 192.6h0.7v0.7h-0.7zM500.1 141.8h0.7v0.7h-0.7zM563.6 187.6h0.7v0.7h-0.7zM574.6 180.8h0.7v0.7h-0.7zM565.6 152.6h0.7v0.7h-0.7zM526.6 199.8h0.7v0.7h-0.7zM575.0 177.8h0.7v0.7h-0.7zM498.4 142.3h0.7v0.7h-0.7zM535.1 195.2h0.7v0.7h-0.7zM549.8 119.3h0.7v0.7h-0.7zM506.2 206.5h0.7v0.7h-0.7zM528.6 198.5h0.7v0.7h-0.7zM490.5 180.6h0.7v0.7h-0.7zM514.5 138.4h0.7v0.7h-0.7zM501.8 142.4h0.7v0.7h-0.7zM507.0 206.5h0.7v0.7h-0.7zM482.3 154.8h0.7v0.7h-0.7zM482.6 152.8h0.7v0.7h-0.7zM507.5 207.1h0.7v0.7h-0.7zM491.8 193.7h0.7v0.7h-0.7zM536.2 120.9h0.7v0.7h-0.7zM536.8 194.4h0.7v0.7h-0.7zM557.8 141.8h0.7v0.7h-0.7zM560.8 146.7h0.7v0.7h-0.7zM565.4 186.2h0.7v0.7h-0.7zM527.9 132.3h0.7v0.7h-0.7zM533.5 196.3h0.7v0.7h-0.7zM486.0 157.8h0.7v0.7h-0.7zM484.6 148.8h0.7v0.7h-0.7zM567.0 185.7h0.7v0.7h-0.7zM495.1 143.6h0.7v0.7h-0.7zM575.1 166.6h0.7v0.7h-0.7zM522.7 135.0h0.7v0.7h-0.7zM489.9 175.1h0.7v0.7h-0.7zM533.8 195.1h0.7v0.7h-0.7zM539.1 193.8h0.7v0.7h-0.7zM500.2 141.9h0.7v0.7h-0.7zM482.5 152.5h0.7v0.7h-0.7zM549.9 121.0h0.7v0.7h-0.7zM561.4 147.2h0.7v0.7h-0.7zM565.8 186.6h0.7v0.7h-0.7zM560.8 188.6h0.7v0.7h-0.7zM490.5 177.3h0.7v0.7h-0.7zM495.4 199.3h0.7v0.7h-0.7zM572.9 162.3h0.7v0.7h-0.7zM490.2 175.7h0.7v0.7h-0.7zM525.6 134.3h0.7v0.7h-0.7zM537.8 118.7h0.7v0.7h-0.7zM550.7 120.2h0.7v0.7h-0.7zM519.7 204.5h0.7v0.7h-0.7zM494.3 196.5h0.7v0.7h-0.7zM555.3 133.3h0.7v0.7h-0.7zM487.9 159.6h0.7v0.7h-0.7zM555.4 136.4h0.7v0.7h-0.7zM496.2 199.3h0.7v0.7h-0.7zM489.9 179.8h0.7v0.7h-0.7zM554.6 129.6h0.7v0.7h-0.7zM494.4 143.2h0.7v0.7h-0.7zM507.4 141.2h0.7v0.7h-0.7zM497.8 201.5h0.7v0.7h-0.7zM566.8 186.6h0.7v0.7h-0.7zM554.8 132.5h0.7v0.7h-0.7zM556.7 190.2h0.7v0.7h-0.7zM530.0 129.0h0.7v0.7h-0.7zM508.7 206.7h0.7v0.7h-0.7zM482.7 154.9h0.7v0.7h-0.7zM488.4 161.5h0.7v0.7h-0.7zM499.5 141.9h0.7v0.7h-0.7zM502.4 141.9h0.7v0.7h-0.7zM560.8 187.9h0.7v0.7h-0.7zM492.1 190.3h0.7v0.7h-0.7zM517.9 205.3h0.7v0.7h-0.7zM494.6 197.2h0.7v0.7h-0.7zM491.3 187.7h0.7v0.7h-0.7zM552.6 126.9h0.7v0.7h-0.7zM557.9 142.5h0.7v0.7h-0.7zM533.2 124.5h0.7v0.7h-0.7zM523.5 201.6h0.7v0.7h-0.7zM574.9 165.9h0.7v0.7h-0.7zM511.5 206.7h0.7v0.7h-0.7zM501.0 204.9h0.7v0.7h-0.7zM511.5 139.8h0.7v0.7h-0.7zM524.3 133.8h0.7v0.7h-0.7zM484.8 157.4h0.7v0.7h-0.7zM490.8 179.4h0.7v0.7h-0.7zM525.8 133.9h0.7v0.7h-0.7zM497.0 200.7h0.7v0.7h-0.7zM573.7 163.5h0.7v0.7h-0.7zM546.0 116.7h0.7v0.7h-0.7zM545.4 192.7h0.7v0.7h-0.7zM520.9 203.5h0.7v0.7h-0.7zM492.1 194.4h0.7v0.7h-0.7zM507.4 141.2h0.7v0.7h-0.7zM565.4 186.6h0.7v0.7h-0.7zM557.6 141.4h0.7v0.7h-0.7zM548.0 117.8h0.7v0.7h-0.7zM518.3 137.8h0.7v0.7h-0.7zM520.6 204.7h0.7v0.7h-0.7zM533.6 124.5h0.7v0.7h-0.7zM542.0 193.5h0.7v0.7h-0.7zM573.7 165.5h0.7v0.7h-0.7zM576.3 172.1h0.7v0.7h-0.7zM572.2 161.1h0.7v0.7h-0.7zM526.6 133.6h0.7v0.7h-0.7zM569.0 185.1h0.7v0.7h-0.7zM547.0 117.7h0.7v0.7h-0.7zM498.6 143.0h0.7v0.7h-0.7zM573.7 163.0h0.7v0.7h-0.7zM524.9 200.4h0.7v0.7h-0.7zM495.2 199.0h0.7v0.7h-0.7zM549.1 191.3h0.7v0.7h-0.7zM554.8 190.1h0.7v0.7h-0.7zM554.2 129.5h0.7v0.7h-0.7zM532.9 125.9h0.7v0.7h-0.7zM530.4 196.1h0.7v0.7h-0.7zM572.2 182.5h0.7v0.7h-0.7zM517.2 137.5h0.7v0.7h-0.7zM493.6 144.1h0.7v0.7h-0.7zM507.7 140.3h0.7v0.7h-0.7zM513.0 207.5h0.7v0.7h-0.7zM549.6 190.9h0.7v0.7h-0.7zM553.1 127.9h0.7v0.7h-0.7zM575.5 171.0h0.7v0.7h-0.7z" fill="#fff"/>
<path d="M525.7 112.3 L527.7 111.8 L529.6 113.1 L530.3 115.0 L528.4 115.2 L526.5 114.2Z" fill="#E05A34" filter="url(#b06)"/>
<text x="528.8" y="119.6" font-size="3.7" font-weight="bold" text-anchor="middle" fill="#333">SCT</text>
<text x="543.2" y="136.4" font-size="3.7" font-weight="bold" text-anchor="middle" fill="#333">VCT_fusing</text>
<text x="510.9" y="157.6" font-size="3.7" font-weight="bold" text-anchor="middle" fill="#333">VCT_LDHA</text>
<text x="513.6" y="178.3" font-size="3.7" font-weight="bold" text-anchor="middle" fill="#333">EVT</text>
<text x="557.6" y="176.8" font-size="3.7" font-weight="bold" text-anchor="middle" fill="#333">VCT_TP63</text>
<text x="497.7" y="189.0" font-size="3.7" font-weight="bold" text-anchor="middle" fill="#333">VCT_LDHA_Cycling</text>
<text x="522.7" y="201.1" font-size="3.7" font-weight="bold" text-anchor="middle" fill="#333">VCT_TP63_Cycling</text>
<text x="482.40" y="134.00" font-size="11.4" fill="#111" text-anchor="start" font-weight="normal" textLength="27.2" lengthAdjust="spacingAndGlyphs" >LDHA</text>
<circle cx="600" cy="134.80" r="2.1" fill="#E3E5E7"/>
<text x="603.10" y="136.20" font-size="3.9" fill="#3a3a3a" text-anchor="start" font-weight="bold" textLength="18.5" lengthAdjust="spacingAndGlyphs" >NO VALUE</text>
<circle cx="600" cy="140.50" r="2.1" fill="#FAEEE4"/>
<text x="603.10" y="141.90" font-size="3.9" fill="#3a3a3a" text-anchor="start" font-weight="bold" textLength="21.6" lengthAdjust="spacingAndGlyphs" >0.000–0.217</text>
<circle cx="600" cy="146.20" r="2.1" fill="#F5D6C2"/>
<text x="603.10" y="147.60" font-size="3.9" fill="#3a3a3a" text-anchor="start" font-weight="bold" textLength="21.6" lengthAdjust="spacingAndGlyphs" >0.217–0.507</text>
<circle cx="600" cy="151.90" r="2.1" fill="#F1B797"/>
<text x="603.10" y="153.30" font-size="3.9" fill="#3a3a3a" text-anchor="start" font-weight="bold" textLength="21.6" lengthAdjust="spacingAndGlyphs" >0.507–0.997</text>
<circle cx="600" cy="157.60" r="2.1" fill="#EE966E"/>
<text x="603.10" y="159.00" font-size="3.9" fill="#3a3a3a" text-anchor="start" font-weight="bold" textLength="21.6" lengthAdjust="spacingAndGlyphs" >0.997–1.387</text>
<circle cx="600" cy="163.30" r="2.1" fill="#EC744A"/>
<text x="603.10" y="164.70" font-size="3.9" fill="#3a3a3a" text-anchor="start" font-weight="bold" textLength="21.6" lengthAdjust="spacingAndGlyphs" >1.387–1.777</text>
<circle cx="600" cy="169.00" r="2.1" fill="#E85428"/>
<text x="603.10" y="170.40" font-size="3.9" fill="#3a3a3a" text-anchor="start" font-weight="bold" textLength="21.6" lengthAdjust="spacingAndGlyphs" >1.777–2.167</text>
<circle cx="600" cy="174.70" r="2.1" fill="#CF3A1A"/>
<text x="603.10" y="176.10" font-size="3.9" fill="#3a3a3a" text-anchor="start" font-weight="bold" textLength="21.6" lengthAdjust="spacingAndGlyphs" >2.167–2.557</text>
<circle cx="600" cy="180.40" r="2.1" fill="#A82816"/>
<text x="603.10" y="181.80" font-size="3.9" fill="#3a3a3a" text-anchor="start" font-weight="bold" textLength="21.6" lengthAdjust="spacingAndGlyphs" >2.557–2.945</text>
<circle cx="600" cy="186.10" r="2.1" fill="#7A1208"/>
<text x="603.10" y="187.50" font-size="3.9" fill="#3a3a3a" text-anchor="start" font-weight="bold" textLength="21.6" lengthAdjust="spacingAndGlyphs" >2.945–4.313</text>
<path d="M472.5 88.17999999999999V105.4H490.62" fill="none" stroke="#555" stroke-width="0.6"/>
<path d="M471.1 88.69999999999999L472.5 86.1L473.9 88.69999999999999Z" fill="#555"/>
<path d="M490.09999999999997 104.0L492.7 105.4L490.09999999999997 106.80000000000001Z" fill="#555"/>
<text x="0" y="0" font-size="3.6" fill="#aaa" transform="translate(469.3 104.5) rotate(-90)" textLength="13.5" lengthAdjust="spacingAndGlyphs">UMAP_2</text>
<text x="473.00" y="110.50" font-size="3.6" fill="#aaa" text-anchor="start" font-weight="normal" textLength="14" lengthAdjust="spacingAndGlyphs" >UMAP_1</text>
<path d="M471.6 200.18V218.3H490.12" fill="none" stroke="#555" stroke-width="0.6"/>
<path d="M470.20000000000005 200.7L471.6 198.1L473.0 200.7Z" fill="#555"/>
<path d="M489.59999999999997 216.9L492.2 218.3L489.59999999999997 219.70000000000002Z" fill="#555"/>
<text x="0" y="0" font-size="3.6" fill="#aaa" transform="translate(468.3 217) rotate(-90)" textLength="13.6" lengthAdjust="spacingAndGlyphs">UMAP_2</text>
<text x="473.00" y="223.40" font-size="3.6" fill="#aaa" text-anchor="start" font-weight="normal" textLength="13" lengthAdjust="spacingAndGlyphs" >UMAP_1</text>
<text x="0.30" y="221.60" font-size="21.3" fill="#111" text-anchor="start" font-weight="normal" >D</text>
<text x="111.00" y="216.90" font-size="12.6" fill="#222" text-anchor="start" font-weight="normal" textLength="126" lengthAdjust="spacingAndGlyphs" >VCT_TP63 maker genes</text>
<text x="295.00" y="216.90" font-size="12.6" fill="#222" text-anchor="start" font-weight="normal" textLength="131" lengthAdjust="spacingAndGlyphs" >VCT_LDHA maker genes</text>
<rect x="39.00" y="231.30" width="221.60" height="13.30" fill="#6EA0EC" />
<rect x="260.60" y="231.30" width="222.20" height="13.30" fill="#F3C996" />
<rect x="86.10" y="247.43" width="174.50" height="13.30" fill="#6EA0EC" />
<rect x="260.60" y="247.43" width="212.20" height="13.30" fill="#F3C996" />
<rect x="112.00" y="263.56" width="148.60" height="13.30" fill="#6EA0EC" />
<rect x="260.60" y="263.56" width="169.00" height="13.30" fill="#F3C996" />
<rect x="116.30" y="279.69" width="144.30" height="13.30" fill="#6EA0EC" />
<rect x="260.60" y="279.69" width="168.40" height="13.30" fill="#F3C996" />
<rect x="124.40" y="295.82" width="136.20" height="13.30" fill="#6EA0EC" />
<rect x="260.60" y="295.82" width="121.40" height="13.30" fill="#F3C996" />
<rect x="154.30" y="311.95" width="106.30" height="13.30" fill="#6EA0EC" />
<rect x="260.60" y="311.95" width="111.40" height="13.30" fill="#F3C996" />
<rect x="156.10" y="328.08" width="104.50" height="13.30" fill="#6EA0EC" />
<rect x="260.60" y="328.08" width="101.40" height="13.30" fill="#F3C996" />
<rect x="172.00" y="344.21" width="88.60" height="13.30" fill="#6EA0EC" />
<rect x="260.60" y="344.21" width="100.80" height="13.30" fill="#F3C996" />
<text x="255.30" y="240.60" font-size="7.55" fill="#222" text-anchor="end" font-weight="normal" >positive regulation of GTPase activity</text>
<text x="263.50" y="240.80" font-size="8.05" fill="#222" text-anchor="start" font-weight="normal" >mitochondrial translational elongation</text>
<text x="255.30" y="256.73" font-size="7.55" fill="#222" text-anchor="end" font-weight="normal" >protein phosphorylation</text>
<text x="263.50" y="256.93" font-size="8.05" fill="#222" text-anchor="start" font-weight="normal" >mitochondrial translational termination</text>
<text x="255.30" y="272.86" font-size="7.55" fill="#222" text-anchor="end" font-weight="normal" >chromatin organization</text>
<text x="263.50" y="273.06" font-size="8.05" fill="#222" text-anchor="start" font-weight="normal" >mitochondrial respiratory chain complex I assembly</text>
<text x="255.30" y="288.99" font-size="7.55" fill="#222" text-anchor="end" font-weight="normal" >positive regulation of transcription by RNA polymerase II</text>
<text x="263.50" y="289.19" font-size="8.05" fill="#222" text-anchor="start" font-weight="normal" >mitochondrial electron transport, NADH to ubiquinone</text>
<text x="255.30" y="305.12" font-size="7.55" fill="#222" text-anchor="end" font-weight="normal" >cell migration</text>
<text x="263.50" y="305.32" font-size="8.05" fill="#222" text-anchor="start" font-weight="normal" >proton motive force-driven mitochondrial ATP synthesis</text>
<text x="255.30" y="321.25" font-size="7.55" fill="#222" text-anchor="end" font-weight="normal" >protein polyubiquitination</text>
<text x="263.50" y="321.45" font-size="8.05" fill="#222" text-anchor="start" font-weight="normal" >negative regulation of G2/M transition of mitotic cell cycle</text>
<text x="255.30" y="337.38" font-size="7.55" fill="#222" text-anchor="end" font-weight="normal" >intracellular signal transduction</text>
<text x="263.50" y="337.58" font-size="8.05" fill="#222" text-anchor="start" font-weight="normal" >interleukin-1-mediated signaling pathway</text>
<text x="255.30" y="353.51" font-size="7.55" fill="#222" text-anchor="end" font-weight="normal" >positive regulation of transcription, DNA-templated</text>
<text x="263.50" y="353.71" font-size="8.05" fill="#222" text-anchor="start" font-weight="normal" >non-canonical NF-kappaB signal transduction</text>
<line x1="44.00" y1="360.20" x2="260.60" y2="360.20" stroke="#888" stroke-width="0.8" />
<line x1="260.60" y1="360.20" x2="481.00" y2="360.20" stroke="#888" stroke-width="0.8" />
<text x="260.30" y="368.30" font-size="9.3" fill="#333" text-anchor="middle" font-weight="normal" textLength="4.3" lengthAdjust="spacingAndGlyphs" >0</text>
<text x="240.70" y="368.30" font-size="9.3" fill="#333" text-anchor="middle" font-weight="normal" textLength="4.3" lengthAdjust="spacingAndGlyphs" >2</text>
<text x="221.10" y="368.30" font-size="9.3" fill="#333" text-anchor="middle" font-weight="normal" textLength="4.3" lengthAdjust="spacingAndGlyphs" >4</text>
<text x="201.50" y="368.30" font-size="9.3" fill="#333" text-anchor="middle" font-weight="normal" textLength="4.3" lengthAdjust="spacingAndGlyphs" >6</text>
<text x="181.90" y="368.30" font-size="9.3" fill="#333" text-anchor="middle" font-weight="normal" textLength="4.3" lengthAdjust="spacingAndGlyphs" >8</text>
<text x="162.30" y="368.30" font-size="9.3" fill="#333" text-anchor="middle" font-weight="normal" textLength="8.6" lengthAdjust="spacingAndGlyphs" >10</text>
<text x="142.70" y="368.30" font-size="9.3" fill="#333" text-anchor="middle" font-weight="normal" textLength="8.6" lengthAdjust="spacingAndGlyphs" >12</text>
<text x="123.10" y="368.30" font-size="9.3" fill="#333" text-anchor="middle" font-weight="normal" textLength="8.6" lengthAdjust="spacingAndGlyphs" >14</text>
<text x="103.50" y="368.30" font-size="9.3" fill="#333" text-anchor="middle" font-weight="normal" textLength="8.6" lengthAdjust="spacingAndGlyphs" >16</text>
<text x="83.90" y="368.30" font-size="9.3" fill="#333" text-anchor="middle" font-weight="normal" textLength="8.6" lengthAdjust="spacingAndGlyphs" >18</text>
<text x="64.30" y="368.30" font-size="9.3" fill="#333" text-anchor="middle" font-weight="normal" textLength="8.6" lengthAdjust="spacingAndGlyphs" >20</text>
<text x="44.70" y="368.30" font-size="9.3" fill="#333" text-anchor="middle" font-weight="normal" textLength="8.6" lengthAdjust="spacingAndGlyphs" >22</text>
<text x="291.10" y="368.30" font-size="9.3" fill="#333" text-anchor="middle" font-weight="normal" textLength="4.3" lengthAdjust="spacingAndGlyphs" >5</text>
<text x="321.70" y="368.30" font-size="9.3" fill="#333" text-anchor="middle" font-weight="normal" textLength="8.6" lengthAdjust="spacingAndGlyphs" >10</text>
<text x="352.30" y="368.30" font-size="9.3" fill="#333" text-anchor="middle" font-weight="normal" textLength="8.6" lengthAdjust="spacingAndGlyphs" >15</text>
<text x="382.90" y="368.30" font-size="9.3" fill="#333" text-anchor="middle" font-weight="normal" textLength="8.6" lengthAdjust="spacingAndGlyphs" >20</text>
<text x="413.50" y="368.30" font-size="9.3" fill="#333" text-anchor="middle" font-weight="normal" textLength="8.6" lengthAdjust="spacingAndGlyphs" >25</text>
<text x="444.10" y="368.30" font-size="9.3" fill="#333" text-anchor="middle" font-weight="normal" textLength="8.6" lengthAdjust="spacingAndGlyphs" >30</text>
<text x="474.70" y="368.30" font-size="9.3" fill="#333" text-anchor="middle" font-weight="normal" textLength="8.6" lengthAdjust="spacingAndGlyphs" >35</text>
<text x="121.00" y="378.80" font-size="7.5" fill="#222" text-anchor="start" font-weight="normal" textLength="50" lengthAdjust="spacingAndGlyphs" >-log10(p.value)</text>
<text x="352.30" y="378.80" font-size="7.5" fill="#222" text-anchor="start" font-weight="normal" textLength="49" lengthAdjust="spacingAndGlyphs" >-log10(p.value)</text>
<text x="0.90" y="402.20" font-size="21.3" fill="#111" text-anchor="start" font-weight="normal" >E</text>
<text x="35.00" y="398.40" font-size="10.9" fill="#1a1a1a" text-anchor="start" font-weight="normal" textLength="157.7" lengthAdjust="spacingAndGlyphs" >VCT_LDHA_Cycling maker genes</text>
<rect x="41.20" y="403.50" width="137.50" height="11.80" fill="#DF6577" stroke="#D95B6F" stroke-width="0.6"/>
<rect x="41.20" y="417.45" width="137.30" height="11.80" fill="#DF6577" stroke="#D95B6F" stroke-width="0.6"/>
<rect x="41.20" y="431.40" width="136.20" height="11.80" fill="#DF6577" stroke="#D95B6F" stroke-width="0.6"/>
<rect x="41.20" y="445.35" width="121.30" height="11.80" fill="#DF6577" stroke="#D95B6F" stroke-width="0.6"/>
<rect x="41.20" y="459.30" width="117.60" height="11.80" fill="#DF6577" stroke="#D95B6F" stroke-width="0.6"/>
<rect x="41.20" y="473.25" width="116.90" height="11.80" fill="#DF6577" stroke="#D95B6F" stroke-width="0.6"/>
<rect x="41.20" y="487.20" width="102.60" height="11.80" fill="#DF6577" stroke="#D95B6F" stroke-width="0.6"/>
<rect x="41.20" y="501.15" width="99.10" height="11.80" fill="#DF6577" stroke="#D95B6F" stroke-width="0.6"/>
<rect x="41.20" y="515.10" width="94.50" height="11.80" fill="#DF6577" stroke="#D95B6F" stroke-width="0.6"/>
<rect x="41.20" y="529.05" width="94.30" height="11.80" fill="#DF6577" stroke="#D95B6F" stroke-width="0.6"/>
<rect x="41.20" y="543.00" width="92.50" height="11.80" fill="#DF6577" stroke="#D95B6F" stroke-width="0.6"/>
<rect x="41.20" y="556.95" width="89.60" height="11.80" fill="#DF6577" stroke="#D95B6F" stroke-width="0.6"/>
<rect x="41.20" y="570.90" width="83.60" height="11.80" fill="#DF6577" stroke="#D95B6F" stroke-width="0.6"/>
<rect x="41.20" y="584.85" width="83.40" height="11.80" fill="#DF6577" stroke="#D95B6F" stroke-width="0.6"/>
<rect x="41.20" y="598.80" width="78.90" height="11.80" fill="#DF6577" stroke="#D95B6F" stroke-width="0.6"/>
<text x="47.00" y="411.50" font-size="8.35" fill="#2b2b2b" text-anchor="start" font-weight="normal" >cell division</text>
<text x="47.00" y="425.45" font-size="8.35" fill="#2b2b2b" text-anchor="start" font-weight="normal" >cell cycle</text>
<text x="47.00" y="439.40" font-size="8.35" fill="#2b2b2b" text-anchor="start" font-weight="normal" >mRNA splicing, via spliceosome</text>
<text x="47.00" y="453.35" font-size="8.35" fill="#2b2b2b" text-anchor="start" font-weight="normal" >anaphase-promoting complex-dependent catabolic process</text>
<text x="47.00" y="467.30" font-size="8.35" fill="#2b2b2b" text-anchor="start" font-weight="normal" >mitochondrial translational elongation</text>
<text x="47.00" y="481.25" font-size="8.35" fill="#2b2b2b" text-anchor="start" font-weight="normal" >mitochondrial translational termination</text>
<text x="47.00" y="495.20" font-size="8.35" fill="#2b2b2b" text-anchor="start" font-weight="normal" >regulation of mitotic cell cycle phase transition</text>
<text x="47.00" y="509.15" font-size="8.35" fill="#2b2b2b" text-anchor="start" font-weight="normal" >pre-replicative complex assembly</text>
<text x="47.00" y="523.10" font-size="8.35" fill="#2b2b2b" text-anchor="start" font-weight="normal" >mitochondrial electron transport, NADH to ubiquinone</text>
<text x="47.00" y="537.05" font-size="8.35" fill="#2b2b2b" text-anchor="start" font-weight="normal" >RNA splicing</text>
<text x="47.00" y="551.00" font-size="8.35" fill="#2b2b2b" text-anchor="start" font-weight="normal" >mitotic spindle organization</text>
<text x="47.00" y="564.95" font-size="8.35" fill="#2b2b2b" text-anchor="start" font-weight="normal" >mitochondrial respiratory chain complex I assembly</text>
<text x="47.00" y="578.90" font-size="8.35" fill="#2b2b2b" text-anchor="start" font-weight="normal" >obsolete regulation of transcription from RNA polymerase II promoter in response to hypoxia</text>
<text x="47.00" y="592.85" font-size="8.35" fill="#2b2b2b" text-anchor="start" font-weight="normal" >regulation of mRNA stability</text>
<text x="47.00" y="606.80" font-size="8.35" fill="#2b2b2b" text-anchor="start" font-weight="normal" >mRNA processing</text>
<line x1="40.30" y1="402.20" x2="40.30" y2="612.00" stroke="#333" stroke-width="0.9" />
<line x1="40.30" y1="612.00" x2="180.00" y2="612.00" stroke="#333" stroke-width="0.9" />
<line x1="40.30" y1="612.00" x2="40.30" y2="614.50" stroke="#333" stroke-width="0.8" />
<text x="40.30" y="627.70" font-size="10.5" fill="#222" text-anchor="middle" font-weight="normal" >0</text>
<line x1="62.00" y1="612.00" x2="62.00" y2="614.50" stroke="#333" stroke-width="0.8" />
<text x="62.00" y="627.70" font-size="10.5" fill="#222" text-anchor="middle" font-weight="normal" >5</text>
<line x1="83.70" y1="612.00" x2="83.70" y2="614.50" stroke="#333" stroke-width="0.8" />
<text x="83.70" y="627.70" font-size="10.5" fill="#222" text-anchor="middle" font-weight="normal" >10</text>
<line x1="105.40" y1="612.00" x2="105.40" y2="614.50" stroke="#333" stroke-width="0.8" />
<text x="105.40" y="627.70" font-size="10.5" fill="#222" text-anchor="middle" font-weight="normal" >15</text>
<line x1="127.10" y1="612.00" x2="127.10" y2="614.50" stroke="#333" stroke-width="0.8" />
<text x="127.10" y="627.70" font-size="10.5" fill="#222" text-anchor="middle" font-weight="normal" >20</text>
<line x1="148.80" y1="612.00" x2="148.80" y2="614.50" stroke="#333" stroke-width="0.8" />
<text x="148.80" y="627.70" font-size="10.5" fill="#222" text-anchor="middle" font-weight="normal" >25</text>
<line x1="170.50" y1="612.00" x2="170.50" y2="614.50" stroke="#333" stroke-width="0.8" />
<text x="170.50" y="627.70" font-size="10.5" fill="#222" text-anchor="middle" font-weight="normal" >30</text>
<text x="81.20" y="635.90" font-size="8.7" fill="#222" text-anchor="start" font-weight="normal" textLength="57.9" lengthAdjust="spacingAndGlyphs" >-log10(p.value)</text>
<rect x="27.3" y="437.6" width="10" height="10" fill="#DF6577" stroke="#666" stroke-width="0.8"/>
<rect x="27.3" y="483.6" width="10" height="10" fill="#DE93A0" stroke="#666" stroke-width="0.8"/>
<rect x="27.3" y="528.4" width="10" height="10" fill="#E7C3D0" stroke="#666" stroke-width="0.8"/>
<rect x="27.3" y="573.8" width="10" height="10" fill="#B9C9D5" stroke="#666" stroke-width="0.8"/>
<text x="0" y="0" font-size="8.1" fill="#9c9c9c" transform="translate(34.1 434.4) rotate(-90)" textLength="28.8" lengthAdjust="spacingAndGlyphs">P&lt;0.001</text>
<text x="0" y="0" font-size="8.1" fill="#9c9c9c" transform="translate(34.1 479.0) rotate(-90)" textLength="22.3" lengthAdjust="spacingAndGlyphs">P&lt;0.01</text>
<text x="0" y="0" font-size="8.1" fill="#9c9c9c" transform="translate(34.1 524.7) rotate(-90)" textLength="25.2" lengthAdjust="spacingAndGlyphs">P&lt;0.05</text>
<text x="0" y="0" font-size="8.1" fill="#9c9c9c" transform="translate(34.1 570.2) rotate(-90)" textLength="25.1" lengthAdjust="spacingAndGlyphs">P&gt;0.05</text>
<text x="364.60" y="407.70" font-size="21.3" fill="#111" text-anchor="start" font-weight="normal" >F</text>
<text x="414.00" y="397.20" font-size="10.6" fill="#1a1a1a" text-anchor="start" font-weight="normal" textLength="120.6" lengthAdjust="spacingAndGlyphs" >VCT_Fusing maker genes</text>
<rect x="414.50" y="404.70" width="137.20" height="11.80" fill="#DF6577" stroke="#D95B6F" stroke-width="0.6"/>
<rect x="414.50" y="418.82" width="133.30" height="11.80" fill="#DF6577" stroke="#D95B6F" stroke-width="0.6"/>
<rect x="414.50" y="432.94" width="109.10" height="11.80" fill="#DF6577" stroke="#D95B6F" stroke-width="0.6"/>
<rect x="414.50" y="447.06" width="104.80" height="11.80" fill="#DF6577" stroke="#D95B6F" stroke-width="0.6"/>
<rect x="414.50" y="461.18" width="103.50" height="11.80" fill="#DF6577" stroke="#D95B6F" stroke-width="0.6"/>
<rect x="414.50" y="475.30" width="98.30" height="11.80" fill="#DF6577" stroke="#D95B6F" stroke-width="0.6"/>
<rect x="414.50" y="489.42" width="96.00" height="11.80" fill="#DF6577" stroke="#D95B6F" stroke-width="0.6"/>
<rect x="414.50" y="503.54" width="93.50" height="11.80" fill="#DF6577" stroke="#D95B6F" stroke-width="0.6"/>
<rect x="414.50" y="517.66" width="90.90" height="11.80" fill="#DF6577" stroke="#D95B6F" stroke-width="0.6"/>
<rect x="414.50" y="531.78" width="87.70" height="11.80" fill="#DF6577" stroke="#D95B6F" stroke-width="0.6"/>
<rect x="414.50" y="545.90" width="85.60" height="11.80" fill="#DF6577" stroke="#D95B6F" stroke-width="0.6"/>
<rect x="414.50" y="560.02" width="84.20" height="11.80" fill="#DF6577" stroke="#D95B6F" stroke-width="0.6"/>
<rect x="414.50" y="574.14" width="82.40" height="11.80" fill="#DF6577" stroke="#D95B6F" stroke-width="0.6"/>
<rect x="414.50" y="588.26" width="82.20" height="11.80" fill="#DF6577" stroke="#D95B6F" stroke-width="0.6"/>
<rect x="414.50" y="602.38" width="80.30" height="11.80" fill="#DF6577" stroke="#D95B6F" stroke-width="0.6"/>
<text x="420.00" y="412.70" font-size="8.45" fill="#2b2b2b" text-anchor="start" font-weight="normal" >autophagy</text>
<text x="420.00" y="426.82" font-size="8.45" fill="#2b2b2b" text-anchor="start" font-weight="normal" >negative regulation of apoptotic process</text>
<text x="420.00" y="440.94" font-size="8.45" fill="#2b2b2b" text-anchor="start" font-weight="normal" >positive regulation of transcription by RNA polymerase II</text>
<text x="420.00" y="455.06" font-size="8.45" fill="#2b2b2b" text-anchor="start" font-weight="normal" >protein transport</text>
<text x="420.00" y="469.18" font-size="8.45" fill="#2b2b2b" text-anchor="start" font-weight="normal" >endocytosis</text>
<text x="420.00" y="483.30" font-size="8.45" fill="#2b2b2b" text-anchor="start" font-weight="normal" >apoptotic process</text>
<text x="420.00" y="497.42" font-size="8.45" fill="#2b2b2b" text-anchor="start" font-weight="normal" >endoplasmic reticulum unfolded protein response</text>
<text x="420.00" y="511.54" font-size="8.45" fill="#2b2b2b" text-anchor="start" font-weight="normal" >response to endoplasmic reticulum stress</text>
<text x="420.00" y="525.66" font-size="8.45" fill="#2b2b2b" text-anchor="start" font-weight="normal" >autophagosome assembly</text>
<text x="420.00" y="539.78" font-size="8.45" fill="#2b2b2b" text-anchor="start" font-weight="normal" >L-alpha-amino acid transmembrane transport</text>
<text x="420.00" y="553.90" font-size="8.45" fill="#2b2b2b" text-anchor="start" font-weight="normal" >membrane organization</text>
<text x="420.00" y="568.02" font-size="8.45" fill="#2b2b2b" text-anchor="start" font-weight="normal" >regulation of macroautophagy</text>
<text x="420.00" y="582.14" font-size="8.45" fill="#2b2b2b" text-anchor="start" font-weight="normal" >endosomal transport</text>
<text x="420.00" y="596.26" font-size="8.45" fill="#2b2b2b" text-anchor="start" font-weight="normal" >phagocytosis</text>
<text x="420.00" y="610.38" font-size="8.45" fill="#2b2b2b" text-anchor="start" font-weight="normal" >autophagy of mitochondrion</text>
<line x1="413.60" y1="403.40" x2="413.60" y2="616.70" stroke="#333" stroke-width="0.9" />
<line x1="413.60" y1="616.70" x2="555.50" y2="616.70" stroke="#333" stroke-width="0.9" />
<line x1="413.60" y1="616.70" x2="413.60" y2="619.20" stroke="#333" stroke-width="0.8" />
<text x="413.60" y="633.00" font-size="10.5" fill="#222" text-anchor="middle" font-weight="normal" >0</text>
<line x1="431.27" y1="616.70" x2="431.27" y2="619.20" stroke="#333" stroke-width="0.8" />
<text x="431.27" y="633.00" font-size="10.5" fill="#222" text-anchor="middle" font-weight="normal" >1</text>
<line x1="448.94" y1="616.70" x2="448.94" y2="619.20" stroke="#333" stroke-width="0.8" />
<text x="448.94" y="633.00" font-size="10.5" fill="#222" text-anchor="middle" font-weight="normal" >2</text>
<line x1="466.61" y1="616.70" x2="466.61" y2="619.20" stroke="#333" stroke-width="0.8" />
<text x="466.61" y="633.00" font-size="10.5" fill="#222" text-anchor="middle" font-weight="normal" >3</text>
<line x1="484.28" y1="616.70" x2="484.28" y2="619.20" stroke="#333" stroke-width="0.8" />
<text x="484.28" y="633.00" font-size="10.5" fill="#222" text-anchor="middle" font-weight="normal" >4</text>
<line x1="501.95" y1="616.70" x2="501.95" y2="619.20" stroke="#333" stroke-width="0.8" />
<text x="501.95" y="633.00" font-size="10.5" fill="#222" text-anchor="middle" font-weight="normal" >5</text>
<line x1="519.62" y1="616.70" x2="519.62" y2="619.20" stroke="#333" stroke-width="0.8" />
<text x="519.62" y="633.00" font-size="10.5" fill="#222" text-anchor="middle" font-weight="normal" >6</text>
<line x1="537.29" y1="616.70" x2="537.29" y2="619.20" stroke="#333" stroke-width="0.8" />
<text x="537.29" y="633.00" font-size="10.5" fill="#222" text-anchor="middle" font-weight="normal" >7</text>
<line x1="554.96" y1="616.70" x2="554.96" y2="619.20" stroke="#333" stroke-width="0.8" />
<text x="554.96" y="633.00" font-size="10.5" fill="#222" text-anchor="middle" font-weight="normal" >8</text>
<text x="454.90" y="641.00" font-size="8.7" fill="#222" text-anchor="start" font-weight="normal" textLength="59.3" lengthAdjust="spacingAndGlyphs" >-log10(p.value)</text>
<rect x="399.3" y="439.5" width="10" height="10" fill="#DF6577" stroke="#666" stroke-width="0.8"/>
<rect x="399.3" y="485.9" width="10" height="10" fill="#DE93A0" stroke="#666" stroke-width="0.8"/>
<rect x="399.3" y="532.3" width="10" height="10" fill="#E7C3D0" stroke="#666" stroke-width="0.8"/>
<rect x="399.3" y="578.7" width="10" height="10" fill="#B9C9D5" stroke="#666" stroke-width="0.8"/>
<text x="0" y="0" font-size="8.1" fill="#9c9c9c" transform="translate(406.1 436.2) rotate(-90)" textLength="29.9" lengthAdjust="spacingAndGlyphs">P&lt;0.001</text>
<text x="0" y="0" font-size="8.1" fill="#9c9c9c" transform="translate(406.1 481.5) rotate(-90)" textLength="23" lengthAdjust="spacingAndGlyphs">P&lt;0.01</text>
<text x="0" y="0" font-size="8.1" fill="#9c9c9c" transform="translate(406.1 527.5) rotate(-90)" textLength="25.8" lengthAdjust="spacingAndGlyphs">P&lt;0.05</text>
<text x="0" y="0" font-size="8.1" fill="#9c9c9c" transform="translate(406.1 573.5) rotate(-90)" textLength="25.8" lengthAdjust="spacingAndGlyphs">P&gt;0.05</text>
<text x="4.80" y="667.50" font-size="21.3" fill="#111" text-anchor="start" font-weight="normal" >G</text>
<defs><clipPath id="cr1"><circle cx="89.1" cy="700.2" r="45.7"/></clipPath><clipPath id="cy1"><circle cx="138.9" cy="700.2" r="45.7"/></clipPath><clipPath id="cb1"><circle cx="114" cy="744" r="45.7"/></clipPath></defs>
<circle cx="89.1" cy="700.2" r="45.7" fill="#F08B8B"/>
<circle cx="138.9" cy="700.2" r="45.7" fill="#EFF47C"/>
<circle cx="114" cy="744" r="45.7" fill="#94C8DE"/>
<circle cx="138.9" cy="700.2" r="45.7" fill="#EDBE82" clip-path="url(#cr1)"/>
<circle cx="114" cy="744" r="45.7" fill="#D3A5BA" clip-path="url(#cr1)"/>
<circle cx="114" cy="744" r="45.7" fill="#CADCB0" clip-path="url(#cy1)"/>
<g clip-path="url(#cr1)"><circle cx="114" cy="744" r="45.7" fill="#E4B29B" clip-path="url(#cy1)"/></g>
<text x="68.00" y="694.80" font-size="7.9" fill="#1a1a1a" text-anchor="middle" font-weight="normal" >864</text>
<text x="115.10" y="689.70" font-size="7.9" fill="#1a1a1a" text-anchor="middle" font-weight="normal" >1</text>
<text x="159.50" y="694.60" font-size="7.9" fill="#1a1a1a" text-anchor="middle" font-weight="normal" >571</text>
<text x="113.80" y="720.40" font-size="7.9" fill="#1a1a1a" text-anchor="middle" font-weight="normal" >7</text>
<text x="89.20" y="734.50" font-size="7.9" fill="#1a1a1a" text-anchor="middle" font-weight="normal" >23</text>
<text x="142.70" y="734.60" font-size="7.9" fill="#1a1a1a" text-anchor="middle" font-weight="normal" >432</text>
<text x="115.60" y="770.80" font-size="7.9" fill="#1a1a1a" text-anchor="middle" font-weight="normal" >109</text>
<text x="107.50" y="805.40" font-size="10.15" fill="#1a1a1a" text-anchor="middle" font-weight="normal" >VCT_TP63 UP</text>
<defs><clipPath id="cr2"><circle cx="259.6" cy="699.1" r="45.7"/></clipPath><clipPath id="cy2"><circle cx="309.5" cy="699.1" r="45.7"/></clipPath><clipPath id="cb2"><circle cx="284.8" cy="742.7" r="45.7"/></clipPath></defs>
<circle cx="259.6" cy="699.1" r="45.7" fill="#F08B8B"/>
<circle cx="309.5" cy="699.1" r="45.7" fill="#EFF47C"/>
<circle cx="284.8" cy="742.7" r="45.7" fill="#94C8DE"/>
<circle cx="309.5" cy="699.1" r="45.7" fill="#EDBE82" clip-path="url(#cr2)"/>
<circle cx="284.8" cy="742.7" r="45.7" fill="#D3A5BA" clip-path="url(#cr2)"/>
<circle cx="284.8" cy="742.7" r="45.7" fill="#CADCB0" clip-path="url(#cy2)"/>
<g clip-path="url(#cr2)"><circle cx="284.8" cy="742.7" r="45.7" fill="#E2C896" clip-path="url(#cy2)"/></g>
<text x="239.90" y="693.90" font-size="7.9" fill="#1a1a1a" text-anchor="middle" font-weight="normal" >1422</text>
<text x="285.90" y="688.60" font-size="7.9" fill="#1a1a1a" text-anchor="middle" font-weight="normal" >67</text>
<text x="331.10" y="693.90" font-size="7.9" fill="#1a1a1a" text-anchor="middle" font-weight="normal" >1024</text>
<text x="285.10" y="719.30" font-size="7.9" fill="#1a1a1a" text-anchor="middle" font-weight="normal" >74</text>
<text x="260.10" y="733.30" font-size="7.9" fill="#1a1a1a" text-anchor="middle" font-weight="normal" >662</text>
<text x="312.20" y="733.30" font-size="7.9" fill="#1a1a1a" text-anchor="middle" font-weight="normal" >39</text>
<text x="285.90" y="770.10" font-size="7.9" fill="#1a1a1a" text-anchor="middle" font-weight="normal" >115</text>
<text x="293.30" y="805.40" font-size="10.15" fill="#1a1a1a" text-anchor="middle" font-weight="normal" >VCT_TP63 DOWN</text>
<defs><clipPath id="cr3"><circle cx="428.3" cy="698.3" r="44.25"/></clipPath><clipPath id="cy3"><circle cx="476.3" cy="698.3" r="44.25"/></clipPath><clipPath id="cb3"><circle cx="452.35" cy="739.5" r="44.25"/></clipPath></defs>
<circle cx="428.3" cy="698.3" r="44.25" fill="#F08B8B"/>
<circle cx="476.3" cy="698.3" r="44.25" fill="#EFF47C"/>
<circle cx="452.35" cy="739.5" r="44.25" fill="#94C8DE"/>
<circle cx="476.3" cy="698.3" r="44.25" fill="#EDBE82" clip-path="url(#cr3)"/>
<circle cx="452.35" cy="739.5" r="44.25" fill="#D3A5BA" clip-path="url(#cr3)"/>
<circle cx="452.35" cy="739.5" r="44.25" fill="#CADCB0" clip-path="url(#cy3)"/>
<g clip-path="url(#cr3)"><circle cx="452.35" cy="739.5" r="44.25" fill="#E4B29B" clip-path="url(#cy3)"/></g>
<text x="407.40" y="691.90" font-size="7.9" fill="#1a1a1a" text-anchor="middle" font-weight="normal" >407</text>
<text x="453.40" y="686.70" font-size="7.9" fill="#1a1a1a" text-anchor="middle" font-weight="normal" >34</text>
<text x="495.00" y="691.90" font-size="7.9" fill="#1a1a1a" text-anchor="middle" font-weight="normal" >68</text>
<text x="453.40" y="716.60" font-size="7.9" fill="#1a1a1a" text-anchor="middle" font-weight="normal" >196</text>
<text x="428.90" y="730.40" font-size="7.9" fill="#1a1a1a" text-anchor="middle" font-weight="normal" >161</text>
<text x="478.60" y="730.40" font-size="7.9" fill="#1a1a1a" text-anchor="middle" font-weight="normal" >43</text>
<text x="453.20" y="765.70" font-size="7.9" fill="#1a1a1a" text-anchor="middle" font-weight="normal" >124</text>
<text x="453.30" y="805.40" font-size="10.15" fill="#1a1a1a" text-anchor="middle" font-weight="normal" >VCT_LDHA UP</text>
<defs><clipPath id="cr4"><circle cx="586.9" cy="698.4" r="44.35"/></clipPath><clipPath id="cy4"><circle cx="635.1" cy="698.4" r="44.35"/></clipPath><clipPath id="cb4"><circle cx="611" cy="740.4" r="44.35"/></clipPath></defs>
<circle cx="586.9" cy="698.4" r="44.35" fill="#F08B8B"/>
<circle cx="635.1" cy="698.4" r="44.35" fill="#EFF47C"/>
<circle cx="611" cy="740.4" r="44.35" fill="#94C8DE"/>
<circle cx="635.1" cy="698.4" r="44.35" fill="#EDBE82" clip-path="url(#cr4)"/>
<circle cx="611" cy="740.4" r="44.35" fill="#D3A5BA" clip-path="url(#cr4)"/>
<circle cx="611" cy="740.4" r="44.35" fill="#CADCB0" clip-path="url(#cy4)"/>
<g clip-path="url(#cr4)"><circle cx="611" cy="740.4" r="44.35" fill="#E4B29B" clip-path="url(#cy4)"/></g>
<text x="566.30" y="692.60" font-size="7.9" fill="#1a1a1a" text-anchor="middle" font-weight="normal" >858</text>
<text x="612.10" y="687.90" font-size="7.9" fill="#1a1a1a" text-anchor="middle" font-weight="normal" >30</text>
<text x="653.00" y="692.60" font-size="7.9" fill="#1a1a1a" text-anchor="middle" font-weight="normal" >9</text>
<text x="612.10" y="717.60" font-size="7.9" fill="#1a1a1a" text-anchor="middle" font-weight="normal" >758</text>
<text x="587.60" y="731.10" font-size="7.9" fill="#1a1a1a" text-anchor="middle" font-weight="normal" >717</text>
<text x="637.40" y="731.10" font-size="7.9" fill="#1a1a1a" text-anchor="middle" font-weight="normal" >21</text>
<text x="611.90" y="766.60" font-size="7.9" fill="#1a1a1a" text-anchor="middle" font-weight="normal" >216</text>
<text x="616.20" y="805.40" font-size="10.15" fill="#1a1a1a" text-anchor="middle" font-weight="normal" >VCT_LDHA DOWN</text>
<text x="4.40" y="829.20" font-size="21.3" fill="#111" text-anchor="start" font-weight="normal" >H</text>
<rect x="185.30" y="829.30" width="148.40" height="13.20" fill="#EE9D2D" />
<text x="183.40" y="838.30" font-size="6.53" fill="#2a2a2a" text-anchor="end" font-weight="normal" >alpha-Linolenic acid metabolism</text>
<rect x="185.30" y="844.52" width="142.80" height="13.20" fill="#EE9D2D" />
<text x="183.40" y="853.52" font-size="6.53" fill="#2a2a2a" text-anchor="end" font-weight="normal" >Linoleic acid metabolism</text>
<rect x="185.30" y="859.74" width="129.60" height="13.20" fill="#EE9D2D" />
<text x="183.40" y="868.74" font-size="6.53" fill="#2a2a2a" text-anchor="end" font-weight="normal" >Ferroptosis</text>
<rect x="185.30" y="874.96" width="122.80" height="13.20" fill="#EE9D2D" />
<text x="183.40" y="883.96" font-size="6.53" fill="#2a2a2a" text-anchor="end" font-weight="normal" >Ether lipid metabolism</text>
<rect x="185.30" y="890.18" width="121.40" height="13.20" fill="#EE9D2D" />
<text x="183.40" y="899.18" font-size="6.53" fill="#2a2a2a" text-anchor="end" font-weight="normal" >Ovarian steroidogenesis</text>
<rect x="185.30" y="905.40" width="117.80" height="13.20" fill="#EE9D2D" />
<text x="183.40" y="914.40" font-size="6.53" fill="#2a2a2a" text-anchor="end" font-weight="normal" >Regulation of lipolysis in adipocytes</text>
<rect x="41.50" y="922.90" width="143.60" height="13.10" fill="#4E9BEC" />
<text x="187.70" y="931.90" font-size="6.53" fill="#2a2a2a" text-anchor="start" font-weight="normal" >Rap1 signaling pathway</text>
<rect x="41.50" y="938.26" width="143.60" height="13.10" fill="#4E9BEC" />
<text x="187.70" y="947.26" font-size="6.53" fill="#2a2a2a" text-anchor="start" font-weight="normal" >Apelin signaling pathway</text>
<rect x="56.90" y="953.62" width="128.20" height="13.10" fill="#4E9BEC" />
<text x="187.70" y="962.62" font-size="6.53" fill="#2a2a2a" text-anchor="start" font-weight="normal" >Tight junction</text>
<rect x="57.80" y="968.98" width="127.30" height="13.10" fill="#4E9BEC" />
<text x="187.70" y="977.98" font-size="6.53" fill="#2a2a2a" text-anchor="start" font-weight="normal" >Protein processing in endoplasmic reticulum</text>
<rect x="59.00" y="984.34" width="126.10" height="13.10" fill="#4E9BEC" />
<text x="187.70" y="993.34" font-size="6.53" fill="#2a2a2a" text-anchor="start" font-weight="normal" >Adherens junction</text>
<rect x="63.60" y="999.70" width="121.50" height="13.10" fill="#4E9BEC" />
<text x="187.70" y="1008.70" font-size="6.53" fill="#2a2a2a" text-anchor="start" font-weight="normal" >Axon guidance</text>
<line x1="12.80" y1="1014.30" x2="363.50" y2="1014.30" stroke="#999" stroke-width="0.8" />
<line x1="12.80" y1="1014.30" x2="12.80" y2="1015.80" stroke="#999" stroke-width="0.6" />
<text x="12.80" y="1021.80" font-size="5.4" fill="#333" text-anchor="middle" font-weight="bold" >2</text>
<line x1="99.30" y1="1014.30" x2="99.30" y2="1015.80" stroke="#999" stroke-width="0.6" />
<text x="99.30" y="1021.80" font-size="5.4" fill="#333" text-anchor="middle" font-weight="bold" >1</text>
<line x1="185.10" y1="1014.30" x2="185.10" y2="1015.80" stroke="#999" stroke-width="0.6" />
<text x="185.10" y="1021.80" font-size="5.4" fill="#333" text-anchor="middle" font-weight="bold" >0</text>
<line x1="274.40" y1="1014.30" x2="274.40" y2="1015.80" stroke="#999" stroke-width="0.6" />
<text x="274.40" y="1021.80" font-size="5.4" fill="#333" text-anchor="middle" font-weight="bold" >1</text>
<line x1="363.50" y1="1014.30" x2="363.50" y2="1015.80" stroke="#999" stroke-width="0.6" />
<text x="363.50" y="1021.80" font-size="5.4" fill="#333" text-anchor="middle" font-weight="bold" >2</text>
<text x="166.20" y="1037.60" font-size="6.94" fill="#222" text-anchor="start" font-weight="normal" textLength="46.3" lengthAdjust="spacingAndGlyphs" >-log10(p.value)</text>
<text x="367.00" y="829.20" font-size="21.3" fill="#111" text-anchor="start" font-weight="normal" stroke="#111" stroke-width="0.8">I</text>
<rect x="539.50" y="818.90" width="142.00" height="10.50" fill="#EE9D2D" />
<text x="478.20" y="825.00" font-size="6.9" fill="#2a2a2a" text-anchor="start" font-weight="normal" textLength="57.1" lengthAdjust="spacingAndGlyphs" >Parkinson disease</text>
<rect x="539.50" y="831.50" width="107.40" height="10.50" fill="#EE9D2D" />
<text x="491.90" y="838.70" font-size="6.9" fill="#2a2a2a" text-anchor="start" font-weight="normal" textLength="42.0" lengthAdjust="spacingAndGlyphs" >Prion disease</text>
<rect x="539.50" y="844.30" width="98.80" height="10.50" fill="#EE9D2D" />
<text x="474.30" y="852.40" font-size="6.9" fill="#2a2a2a" text-anchor="start" font-weight="normal" textLength="59.6" lengthAdjust="spacingAndGlyphs" >Huntington disease</text>
<rect x="539.50" y="856.70" width="90.10" height="10.50" fill="#EE9D2D" />
<text x="374.50" y="863.10" font-size="6.9" fill="#2a2a2a" text-anchor="start" font-weight="normal" textLength="158.9" lengthAdjust="spacingAndGlyphs" >Pathways of neurodegeneration - multiple diseases</text>
<rect x="539.50" y="869.60" width="87.10" height="10.50" fill="#EE9D2D" />
<text x="477.40" y="875.40" font-size="6.9" fill="#2a2a2a" text-anchor="start" font-weight="normal" textLength="56.8" lengthAdjust="spacingAndGlyphs" >Alzheimer disease</text>
<rect x="539.50" y="881.90" width="57.50" height="10.50" fill="#EE9D2D" />
<text x="453.80" y="889.10" font-size="6.9" fill="#2a2a2a" text-anchor="start" font-weight="normal" textLength="80.4" lengthAdjust="spacingAndGlyphs" >Oxidative phosphorylation</text>
<rect x="539.50" y="894.60" width="57.50" height="10.50" fill="#EE9D2D" />
<text x="376.30" y="902.30" font-size="6.9" fill="#2a2a2a" text-anchor="start" font-weight="normal" textLength="158.4" lengthAdjust="spacingAndGlyphs" >Chemical carcinogenesis - reactive oxygen species</text>
<rect x="539.50" y="907.40" width="54.40" height="10.50" fill="#EE9D2D" />
<text x="495.80" y="915.70" font-size="6.9" fill="#2a2a2a" text-anchor="start" font-weight="normal" textLength="39.5" lengthAdjust="spacingAndGlyphs" >Spliceosome</text>
<rect x="539.50" y="919.80" width="51.40" height="10.50" fill="#EE9D2D" />
<text x="459.00" y="927.20" font-size="6.9" fill="#2a2a2a" text-anchor="start" font-weight="normal" textLength="76.3" lengthAdjust="spacingAndGlyphs" >Diabetic cardiomyopathy</text>
<rect x="380.20" y="932.40" width="158.50" height="12.90" fill="#4E9BEC" />
<text x="541.30" y="941.30" font-size="6.55" fill="#2a2a2a" text-anchor="start" font-weight="normal" >Focal adhesion</text>
<rect x="417.00" y="947.90" width="121.70" height="12.90" fill="#4E9BEC" />
<text x="541.30" y="956.80" font-size="6.55" fill="#2a2a2a" text-anchor="start" font-weight="normal" >Lysosome</text>
<rect x="431.20" y="963.10" width="107.50" height="12.90" fill="#4E9BEC" />
<text x="541.30" y="972.00" font-size="6.55" fill="#2a2a2a" text-anchor="start" font-weight="normal" >Regulation of actin cytoskeleton</text>
<rect x="437.20" y="978.30" width="101.50" height="12.90" fill="#4E9BEC" />
<text x="541.30" y="987.20" font-size="6.55" fill="#2a2a2a" text-anchor="start" font-weight="normal" >Adherens junction</text>
<rect x="444.10" y="993.80" width="94.60" height="12.90" fill="#4E9BEC" />
<text x="541.30" y="1002.70" font-size="6.55" fill="#2a2a2a" text-anchor="start" font-weight="normal" >Protein processing in endoplasmic reticulum</text>
<rect x="453.80" y="1009.10" width="84.90" height="12.90" fill="#4E9BEC" />
<text x="541.30" y="1018.00" font-size="6.55" fill="#2a2a2a" text-anchor="start" font-weight="normal" >Hippo signaling pathway</text>
<rect x="457.20" y="1024.30" width="81.50" height="12.90" fill="#4E9BEC" />
<text x="541.30" y="1033.20" font-size="6.55" fill="#2a2a2a" text-anchor="start" font-weight="normal" >ECM-receptor interaction</text>
<rect x="472.50" y="1039.80" width="66.20" height="12.90" fill="#4E9BEC" />
<text x="541.30" y="1048.70" font-size="6.55" fill="#2a2a2a" text-anchor="start" font-weight="normal" >PI3K-Akt signaling pathway</text>
<line x1="380.50" y1="1054.20" x2="673.80" y2="1054.20" stroke="#999" stroke-width="0.8" />
<text x="397.30" y="1060.30" font-size="5" fill="#333" text-anchor="middle" font-weight="normal" >9</text>
<text x="415.10" y="1060.30" font-size="5" fill="#333" text-anchor="middle" font-weight="normal" >8</text>
<text x="432.60" y="1060.30" font-size="5" fill="#333" text-anchor="middle" font-weight="normal" >7</text>
<text x="450.60" y="1060.30" font-size="5" fill="#333" text-anchor="middle" font-weight="normal" >6</text>
<text x="468.80" y="1060.30" font-size="5" fill="#333" text-anchor="middle" font-weight="normal" >5</text>
<text x="486.80" y="1060.30" font-size="5" fill="#333" text-anchor="middle" font-weight="normal" >4</text>
<text x="504.30" y="1060.30" font-size="5" fill="#333" text-anchor="middle" font-weight="normal" >3</text>
<text x="522.30" y="1060.30" font-size="5" fill="#333" text-anchor="middle" font-weight="normal" >2</text>
<text x="539.50" y="1060.30" font-size="5" fill="#333" text-anchor="middle" font-weight="normal" >0</text>
<text x="548.80" y="1060.30" font-size="5" fill="#333" text-anchor="middle" font-weight="normal" >2</text>
<text x="558.40" y="1060.30" font-size="5" fill="#333" text-anchor="middle" font-weight="normal" >4</text>
<text x="568.20" y="1060.30" font-size="5" fill="#333" text-anchor="middle" font-weight="normal" >6</text>
<text x="578.00" y="1060.30" font-size="5" fill="#333" text-anchor="middle" font-weight="normal" >8</text>
<text x="587.60" y="1060.30" font-size="5" fill="#333" text-anchor="middle" font-weight="normal" >10</text>
<text x="597.40" y="1060.30" font-size="5" fill="#333" text-anchor="middle" font-weight="normal" >12</text>
<text x="606.80" y="1060.30" font-size="5" fill="#333" text-anchor="middle" font-weight="normal" >14</text>
<text x="618.00" y="1060.30" font-size="5" fill="#333" text-anchor="middle" font-weight="normal" >16</text>
<text x="629.60" y="1060.30" font-size="5" fill="#333" text-anchor="middle" font-weight="normal" >18</text>
<text x="641.10" y="1060.30" font-size="5" fill="#333" text-anchor="middle" font-weight="normal" >20</text>
<text x="651.80" y="1060.30" font-size="5" fill="#333" text-anchor="middle" font-weight="normal" >22</text>
<text x="662.80" y="1060.30" font-size="5" fill="#333" text-anchor="middle" font-weight="normal" >24</text>
<text x="521.50" y="1070.20" font-size="6.9" fill="#222" text-anchor="start" font-weight="normal" textLength="46.2" lengthAdjust="spacingAndGlyphs" >-log10(p.value)</text>
</svg></body></html>
